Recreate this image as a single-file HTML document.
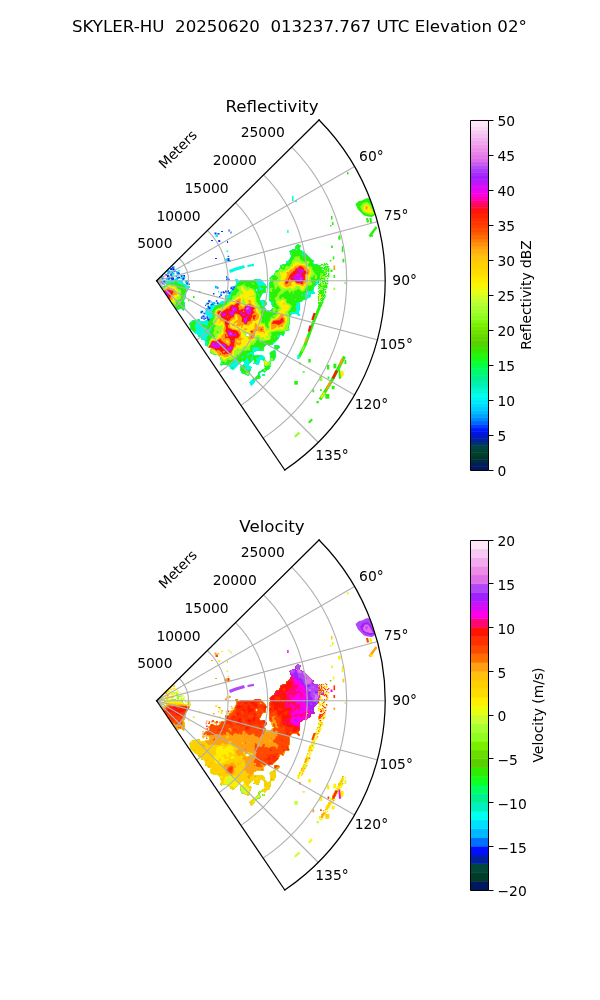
<!DOCTYPE html><html><head><meta charset="utf-8"><title>SKYLER-HU radar</title><style>html,body{margin:0;padding:0;background:#fff;width:600px;height:1000px;overflow:hidden}svg{display:block}</style></head><body>
<svg width="600" height="1000" viewBox="0 0 432 720" version="1.1">
 <defs>
  <style type="text/css">*{stroke-linejoin: round; stroke-linecap: butt}</style>
 </defs>
 <g id="figure_1">
  <g id="patch_1">
   <path d="M 0 720 
L 432 720 
L 432 0 
L 0 0 
z
" style="fill: #ffffff"/>
  </g>
  <g id="axes_1">
   <g id="patch_2">
    <path d="M 205.03 338.4 
C 225.04 324.84 241.83 307.05 254.19 286.27 
C 266.55 265.50 274.18 242.25 276.54 218.20 
C 278.90 194.14 275.93 169.85 267.84 147.08 
C 259.75 124.30 246.74 103.58 229.74 86.4 
L 112.77 202.14 
C 112.77 202.14 112.77 202.14 112.77 202.14 
C 112.77 202.14 112.77 202.14 112.77 202.14 
C 112.77 202.14 112.77 202.14 112.77 202.14 
C 112.77 202.14 112.77 202.14 112.77 202.14 
z
" style="fill: #ffffff"/>
   </g>
   <g id="data0" clip-path="url(#pa853b542c9)"><g transform="scale(0.72)"><path fill="#00fae0" fill-rule="evenodd" d="M297.5 243.9 L298.5 243.9 L299.1 244.5 L299.5 244.9 L300.5 244.9 L301.1 245.5 L301.1 246.5 L300.5 247.1 L300.1 247.5 L300.1 248.5 L300.1 249.5 L300.5 249.9 L301.5 249.9 L302.1 250.5 L302.5 250.9 L303.5 251.0 L304.0 251.5 L304.5 251.9 L305.1 252.5 L305.5 252.9 L306.1 253.5 L306.5 253.9 L307.1 254.5 L307.5 254.9 L308.1 255.5 L308.5 255.9 L309.1 256.5 L309.5 256.9 L310.1 257.5 L310.5 257.9 L311.1 258.5 L311.5 258.9 L312.1 259.5 L312.5 259.9 L313.5 259.9 L314.1 260.5 L314.1 261.5 L313.5 262.1 L313.1 262.5 L313.5 262.9 L314.1 263.5 L314.5 263.9 L315.5 263.9 L316.5 263.9 L317.5 263.9 L318.1 264.5 L318.5 264.9 L319.1 265.5 L319.5 265.9 L320.1 266.5 L320.1 267.5 L320.5 267.9 L321.1 268.5 L321.5 268.9 L322.1 269.5 L322.5 269.9 L323.1 270.5 L323.5 270.9 L324.1 271.5 L324.5 271.9 L325.1 272.5 L324.5 273.1 L324.1 273.5 L323.5 274.1 L323.1 274.5 L322.5 275.1 L321.5 275.1 L320.5 275.1 L320.1 275.5 L320.1 276.5 L320.1 277.5 L320.1 278.5 L320.1 279.5 L319.5 280.1 L319.1 280.5 L319.0 281.5 L319.0 282.5 L319.1 283.5 L318.5 284.1 L317.5 284.1 L317.1 284.5 L316.5 285.1 L316.1 285.5 L315.5 286.1 L315.1 286.5 L314.5 287.1 L314.1 287.5 L314.1 288.5 L314.1 289.5 L314.0 290.5 L314.0 291.5 L314.5 292.0 L315.0 292.5 L315.0 293.5 L314.5 294.0 L313.5 294.0 L312.5 294.0 L311.5 294.0 L311.1 294.5 L311.1 295.5 L311.1 296.5 L310.5 297.1 L310.0 297.5 L309.5 298.0 L308.5 298.1 L308.1 298.5 L307.5 299.1 L307.1 299.5 L306.5 300.1 L305.5 300.1 L304.5 300.1 L303.5 300.1 L303.1 300.5 L302.5 301.1 L302.1 301.5 L301.5 302.1 L300.5 302.1 L300.1 302.5 L300.1 303.5 L300.1 304.5 L300.1 305.5 L300.0 306.5 L300.1 307.5 L300.1 308.5 L300.1 309.5 L300.0 310.5 L299.5 311.0 L299.0 311.5 L299.0 312.5 L299.0 313.5 L299.5 313.9 L300.1 314.5 L300.1 315.5 L299.5 316.1 L298.5 316.1 L297.9 315.5 L297.5 315.0 L297.0 314.5 L296.5 314.0 L295.5 314.0 L294.5 314.0 L293.5 314.0 L292.5 314.0 L292.1 314.5 L291.5 315.1 L291.1 315.5 L290.5 316.1 L290.1 316.5 L290.1 317.5 L290.1 318.5 L290.1 319.5 L290.1 320.5 L290.1 321.5 L290.1 322.5 L290.1 323.5 L290.1 324.5 L289.5 325.1 L289.1 325.5 L289.1 326.5 L289.1 327.5 L289.1 328.5 L289.5 328.9 L290.1 329.5 L289.5 330.1 L289.1 330.5 L288.5 331.1 L287.5 331.1 L286.5 331.1 L285.5 331.1 L285.1 331.5 L285.1 332.5 L285.1 333.5 L284.5 334.1 L284.1 334.5 L284.1 335.5 L283.5 336.1 L282.5 336.1 L281.9 335.5 L281.5 335.1 L280.5 335.1 L280.1 335.5 L280.1 336.5 L279.5 337.1 L279.1 337.5 L279.1 338.5 L278.5 339.1 L278.1 339.5 L277.5 340.1 L277.1 340.5 L276.5 341.1 L276.1 341.5 L275.5 342.1 L275.1 342.5 L274.5 343.1 L274.1 343.5 L273.5 344.1 L273.1 344.5 L272.5 345.1 L271.5 345.1 L270.5 345.1 L270.1 345.5 L269.5 346.1 L268.5 346.1 L267.9 345.5 L267.5 345.1 L266.5 345.1 L266.1 345.5 L265.5 346.1 L265.1 346.5 L264.5 347.1 L264.1 347.5 L264.1 348.5 L264.1 349.5 L264.1 350.5 L263.5 351.1 L262.5 351.1 L261.5 351.1 L260.5 351.1 L259.5 351.1 L258.5 351.1 L257.5 351.1 L256.5 351.1 L256.1 351.5 L255.5 352.1 L254.5 352.1 L254.0 352.5 L254.0 353.5 L254.1 354.5 L254.5 354.9 L255.5 354.9 L256.5 354.9 L257.5 354.9 L258.5 354.9 L259.5 354.9 L260.5 354.9 L261.5 354.9 L262.5 355.0 L263.0 355.5 L263.5 355.9 L264.1 356.5 L264.5 356.9 L265.1 357.5 L265.1 358.5 L265.1 359.5 L265.5 359.9 L266.1 360.5 L266.5 360.9 L267.1 361.5 L267.5 361.9 L268.5 361.9 L268.9 361.5 L269.5 360.9 L269.9 360.5 L269.9 359.5 L269.9 358.5 L269.9 357.5 L269.9 356.5 L269.9 355.5 L269.9 354.5 L269.5 354.1 L268.9 353.5 L269.5 352.9 L269.9 352.5 L270.5 351.9 L270.9 351.5 L271.5 350.9 L272.5 350.9 L272.9 350.5 L273.5 349.9 L274.5 349.9 L274.9 349.5 L274.5 349.1 L273.9 348.5 L273.9 347.5 L273.9 346.5 L273.9 345.5 L274.5 344.9 L275.5 344.9 L276.5 344.9 L277.5 344.9 L278.5 344.9 L279.1 345.5 L279.5 345.9 L280.1 346.5 L280.1 347.5 L279.5 348.1 L279.1 348.5 L278.5 349.1 L278.1 349.5 L277.5 350.1 L276.5 350.1 L275.5 350.1 L275.1 350.5 L275.5 350.9 L276.1 351.5 L276.1 352.5 L276.1 353.5 L276.1 354.5 L276.1 355.5 L276.1 356.5 L276.1 357.5 L275.5 358.1 L275.1 358.5 L275.1 359.5 L274.5 360.1 L274.1 360.5 L273.5 361.1 L272.5 361.1 L271.5 361.1 L271.1 361.5 L271.1 362.5 L271.1 363.5 L271.1 364.5 L271.1 365.5 L271.1 366.5 L270.5 367.1 L270.1 367.5 L270.1 368.5 L269.5 369.1 L269.1 369.5 L268.5 370.1 L267.5 370.1 L267.1 370.5 L266.5 371.1 L266.1 371.5 L265.5 372.1 L265.1 372.5 L264.5 373.1 L263.9 372.5 L263.5 372.1 L262.5 372.1 L261.5 372.1 L261.1 372.5 L260.5 373.1 L260.1 373.5 L260.1 374.5 L260.1 375.5 L260.5 375.9 L261.1 376.5 L261.1 377.5 L260.5 378.1 L260.1 378.5 L259.5 379.1 L258.5 379.1 L257.5 379.1 L257.1 379.5 L256.5 380.1 L256.1 380.5 L255.5 381.1 L255.0 381.5 L255.0 382.5 L254.5 383.0 L254.0 383.5 L253.5 384.0 L253.0 384.5 L252.5 385.0 L252.1 385.5 L251.5 386.1 L250.9 385.5 L250.5 385.1 L249.9 384.5 L250.0 383.5 L249.5 383.0 L249.0 382.5 L249.5 382.0 L250.0 381.5 L250.5 381.0 L250.9 380.5 L251.5 379.9 L251.9 379.5 L252.5 378.9 L252.9 378.5 L253.5 377.9 L254.5 377.9 L254.9 377.5 L255.5 376.9 L255.9 376.5 L256.5 375.9 L256.9 375.5 L257.5 374.9 L257.9 374.5 L257.9 373.5 L257.9 372.5 L258.5 371.9 L258.9 371.5 L259.5 370.9 L260.5 370.9 L260.9 370.5 L261.5 369.9 L261.9 369.5 L262.5 368.9 L263.5 368.9 L263.9 368.5 L264.5 367.9 L264.9 367.5 L264.5 367.1 L263.9 366.5 L263.9 365.5 L263.9 364.5 L263.9 363.5 L263.9 362.5 L263.9 361.5 L263.5 361.1 L262.9 360.5 L262.5 360.1 L261.5 360.1 L260.5 360.0 L260.1 360.5 L260.1 361.5 L260.1 362.5 L259.5 363.1 L259.1 363.5 L259.1 364.5 L258.5 365.1 L257.5 365.1 L256.5 365.1 L255.9 364.5 L255.5 364.1 L254.5 364.1 L253.5 364.1 L252.9 363.5 L253.5 362.9 L253.9 362.5 L253.9 361.5 L253.9 360.5 L253.5 360.1 L253.1 360.5 L252.5 361.1 L252.1 361.5 L251.5 362.1 L251.1 362.5 L250.5 363.1 L250.1 363.5 L249.5 364.1 L249.0 364.5 L249.0 365.5 L249.5 365.9 L250.5 365.9 L251.1 366.5 L251.5 366.9 L252.1 367.5 L251.5 368.1 L251.1 368.5 L251.1 369.5 L251.1 370.5 L250.5 371.1 L250.1 371.5 L250.1 372.5 L250.1 373.5 L250.1 374.5 L249.5 375.1 L249.1 375.5 L248.5 376.1 L247.5 376.1 L246.9 375.5 L246.5 375.1 L245.5 375.1 L244.9 374.5 L244.5 374.1 L243.5 374.1 L242.5 374.1 L241.9 373.5 L241.5 373.1 L240.9 372.5 L240.9 371.5 L240.5 371.1 L239.9 370.5 L239.9 369.5 L239.9 368.5 L239.9 367.5 L239.9 366.5 L240.5 365.9 L240.9 365.5 L241.5 364.9 L242.5 364.9 L242.9 364.5 L243.5 363.9 L244.0 363.5 L244.0 362.5 L243.5 362.1 L242.9 361.5 L242.5 361.1 L242.1 361.5 L241.5 362.1 L241.1 362.5 L240.5 363.1 L240.0 363.5 L239.5 364.0 L239.0 364.5 L238.5 365.0 L238.0 365.5 L237.5 366.0 L237.0 366.5 L236.5 367.0 L236.0 367.5 L235.5 368.0 L235.1 368.5 L234.5 369.1 L234.1 369.5 L233.5 370.1 L232.5 370.1 L231.9 369.5 L231.5 369.1 L230.5 369.0 L230.0 368.5 L229.9 367.5 L229.5 367.1 L228.9 366.5 L228.5 366.1 L227.5 366.1 L226.9 365.5 L226.5 365.1 L225.5 365.1 L224.5 365.1 L223.5 365.1 L222.5 365.1 L222.1 365.5 L221.5 366.1 L220.9 365.5 L220.5 365.1 L219.9 364.5 L219.9 363.5 L220.5 362.9 L220.9 362.5 L220.9 361.5 L220.9 360.5 L220.5 360.1 L219.9 359.5 L219.9 358.5 L219.9 357.5 L219.5 357.1 L218.9 356.5 L218.5 356.1 L217.9 355.5 L217.5 355.1 L216.5 355.1 L215.5 355.1 L214.5 355.1 L213.5 355.1 L212.9 354.5 L212.5 354.1 L211.5 354.1 L210.9 353.5 L210.5 353.1 L209.9 352.5 L209.9 351.5 L209.9 350.5 L209.9 349.5 L210.5 348.9 L210.9 348.5 L210.5 348.1 L209.5 348.1 L208.5 348.1 L207.9 347.5 L207.5 347.1 L206.9 346.5 L206.5 346.1 L205.5 346.0 L205.0 345.5 L204.9 344.5 L204.9 343.5 L204.9 342.5 L204.9 341.5 L204.5 341.1 L203.9 340.5 L203.5 340.0 L202.5 340.0 L201.5 340.1 L200.9 339.5 L201.0 338.5 L200.5 338.0 L200.0 337.5 L199.5 337.1 L198.5 337.1 L197.9 336.5 L197.9 335.5 L197.5 335.0 L197.0 334.5 L196.5 334.0 L195.5 334.1 L194.9 333.5 L194.5 333.1 L193.9 332.5 L193.5 332.1 L192.9 331.5 L192.5 331.1 L191.9 330.5 L191.5 330.1 L190.5 330.1 L189.9 329.5 L189.9 328.5 L189.9 327.5 L189.9 326.5 L189.9 325.5 L189.5 325.1 L188.9 324.5 L188.9 323.5 L189.5 322.9 L189.9 322.5 L190.5 321.9 L190.9 321.5 L191.5 320.9 L191.9 320.5 L192.5 319.9 L193.5 319.9 L194.5 319.9 L195.5 319.9 L196.5 320.0 L196.9 319.5 L197.5 318.9 L198.5 318.9 L199.5 318.9 L200.1 319.5 L200.1 320.5 L200.5 321.0 L201.5 321.0 L202.5 321.0 L203.5 321.0 L204.5 321.0 L205.0 320.5 L205.5 320.0 L206.5 320.0 L207.5 320.0 L208.5 319.9 L208.9 319.5 L208.9 318.5 L208.9 317.5 L208.9 316.5 L208.5 316.1 L207.5 316.1 L206.9 315.5 L206.5 315.1 L205.9 314.5 L206.0 313.5 L205.5 313.1 L204.9 312.5 L205.0 311.5 L205.5 311.0 L206.5 311.0 L207.5 311.0 L208.0 310.5 L208.5 310.0 L209.0 309.5 L209.0 308.5 L209.0 307.5 L209.0 306.5 L209.5 306.0 L209.9 305.5 L209.9 304.5 L210.5 303.9 L211.5 303.9 L212.5 303.9 L213.5 303.9 L214.1 304.5 L214.5 304.9 L215.5 304.9 L216.5 304.9 L217.5 304.9 L218.5 304.9 L218.9 304.5 L219.5 303.9 L219.9 303.5 L220.0 302.5 L220.5 302.0 L220.9 301.5 L221.5 300.9 L222.5 300.9 L223.5 300.9 L224.5 300.9 L225.0 300.5 L225.5 300.0 L225.9 299.5 L225.9 298.5 L225.5 298.1 L224.9 297.5 L224.9 296.5 L224.9 295.5 L225.5 294.9 L226.5 294.9 L227.5 294.9 L228.5 294.9 L228.9 294.5 L228.9 293.5 L229.5 292.9 L229.9 292.5 L230.0 291.5 L230.5 291.0 L231.0 290.5 L231.5 290.0 L232.5 289.9 L233.5 289.9 L233.9 289.5 L233.9 288.5 L233.9 287.5 L234.5 286.9 L234.9 286.5 L234.9 285.5 L235.5 284.9 L235.9 284.5 L236.0 283.5 L236.0 282.5 L236.0 281.5 L235.5 281.1 L234.9 280.5 L234.9 279.5 L235.5 278.9 L236.5 278.9 L237.5 278.9 L238.1 279.5 L238.1 280.5 L238.5 280.9 L239.5 280.9 L239.9 280.5 L240.5 279.9 L241.5 279.9 L242.5 279.9 L243.5 279.9 L244.5 279.9 L245.5 279.9 L246.5 279.9 L247.5 279.9 L248.5 279.9 L249.5 279.9 L250.5 279.9 L251.5 279.9 L252.5 279.9 L253.5 279.9 L253.9 279.5 L254.5 278.9 L255.5 278.9 L256.5 278.9 L257.5 278.9 L258.5 278.9 L259.5 278.9 L260.5 278.9 L261.1 279.5 L261.5 279.9 L262.1 280.5 L262.5 281.0 L263.0 281.5 L263.5 282.0 L264.0 282.5 L264.5 283.0 L265.0 283.5 L265.5 283.9 L266.1 284.5 L266.1 285.5 L266.5 285.9 L267.1 286.5 L267.1 287.5 L266.5 288.1 L266.1 288.5 L266.1 289.5 L266.1 290.5 L266.1 291.5 L266.1 292.5 L265.5 293.1 L264.5 293.1 L263.5 293.1 L263.1 293.5 L262.5 294.1 L262.1 294.5 L262.1 295.5 L261.5 296.1 L261.1 296.5 L261.1 297.5 L260.5 298.1 L260.1 298.5 L260.1 299.5 L260.5 299.9 L261.5 299.9 L262.5 299.9 L263.5 299.9 L264.5 299.9 L265.1 300.5 L265.5 300.9 L266.1 301.5 L266.5 301.9 L267.1 302.5 L267.1 303.5 L267.1 304.5 L266.5 305.1 L266.1 305.5 L265.5 306.1 L265.1 306.5 L265.1 307.5 L265.5 307.9 L266.1 308.5 L266.1 309.5 L266.1 310.5 L266.5 310.9 L267.5 310.9 L268.5 310.9 L269.5 310.9 L269.9 310.5 L270.5 309.9 L270.9 309.5 L271.5 308.9 L271.9 308.5 L272.5 307.9 L273.5 307.9 L273.9 307.5 L273.5 307.1 L272.5 307.1 L271.9 306.5 L271.9 305.5 L271.5 305.0 L271.0 304.5 L271.0 303.5 L270.9 302.5 L270.5 302.1 L269.9 301.5 L269.5 301.1 L268.9 300.5 L268.9 299.5 L268.9 298.5 L268.9 297.5 L268.9 296.5 L268.9 295.5 L268.9 294.5 L268.9 293.5 L268.9 292.5 L268.9 291.5 L268.9 290.5 L268.9 289.5 L268.9 288.5 L268.9 287.5 L268.9 286.5 L268.9 285.5 L268.9 284.5 L268.9 283.5 L268.9 282.5 L269.5 281.9 L269.9 281.5 L269.9 280.5 L269.9 279.5 L269.5 279.1 L268.9 278.5 L269.5 277.9 L269.9 277.5 L270.5 276.9 L270.9 276.5 L271.5 275.9 L271.9 275.5 L272.5 274.9 L273.5 274.9 L273.9 274.5 L273.9 273.5 L274.5 272.9 L274.9 272.5 L274.9 271.5 L275.5 270.9 L275.9 270.5 L276.5 269.9 L277.5 269.9 L278.5 269.9 L278.9 269.5 L278.9 268.5 L279.5 267.9 L279.9 267.5 L279.9 266.5 L279.9 265.5 L280.5 264.9 L281.5 264.9 L281.9 264.5 L282.5 263.9 L283.5 263.9 L284.5 263.9 L285.5 263.9 L285.9 263.5 L285.9 262.5 L286.0 261.5 L286.5 261.0 L287.5 260.9 L287.9 260.5 L288.5 259.9 L288.9 259.5 L289.5 258.9 L289.9 258.5 L289.9 257.5 L290.5 256.9 L290.9 256.5 L290.9 255.5 L290.5 255.1 L289.9 254.5 L289.9 253.5 L289.9 252.5 L289.5 252.1 L288.9 251.5 L289.5 250.9 L289.9 250.5 L290.5 249.9 L291.5 249.9 L291.9 249.5 L292.5 248.9 L293.5 248.9 L294.5 248.9 L294.9 248.5 L294.9 247.5 L294.9 246.5 L295.5 245.9 L295.9 245.5 L296.5 244.9 L296.9 244.5ZM296.1 249.5 L296.5 249.9 L296.9 249.5 L296.5 249.1ZM256.1 289.5 L256.1 290.5 L256.5 290.9 L256.9 290.5 L256.9 289.5 L256.5 289.1ZM307.0 293.5 L307.5 294.0 L308.0 293.5 L307.5 293.0ZM247.1 333.5 L246.5 334.1 L246.1 334.5 L246.1 335.5 L246.5 335.9 L247.5 335.9 L248.5 335.9 L248.9 335.5 L249.5 334.9 L249.9 334.5 L249.5 334.1 L248.5 334.1 L247.9 333.5 L247.5 333.1ZM171.5 278.9 L172.5 278.9 L173.5 278.9 L174.5 278.9 L175.5 278.9 L176.1 279.5 L176.5 279.9 L177.5 279.9 L178.5 280.0 L179.5 280.0 L180.5 280.0 L181.5 280.0 L182.5 280.0 L183.0 280.5 L183.0 281.5 L183.0 282.5 L183.5 283.0 L184.0 283.5 L184.5 284.0 L185.5 283.9 L186.1 284.5 L186.5 284.9 L187.1 285.5 L187.5 286.0 L188.5 285.9 L189.5 285.9 L190.1 286.5 L190.1 287.5 L189.5 288.1 L189.1 288.5 L188.5 289.1 L188.1 289.5 L188.1 290.5 L187.5 291.1 L187.1 291.5 L186.5 292.1 L186.1 292.5 L186.1 293.5 L186.1 294.5 L186.1 295.5 L186.1 296.5 L186.1 297.5 L185.5 298.1 L185.1 298.5 L185.1 299.5 L184.5 300.1 L184.1 300.5 L184.1 301.5 L184.5 301.9 L185.1 302.5 L185.1 303.5 L185.1 304.5 L185.1 305.5 L185.1 306.5 L185.1 307.5 L185.1 308.5 L185.1 309.5 L184.5 310.1 L184.1 310.5 L183.5 311.1 L182.9 310.5 L182.5 310.1 L181.9 309.5 L181.5 309.1 L180.5 309.1 L179.5 309.1 L179.1 309.5 L178.5 310.1 L177.5 310.1 L176.5 310.1 L175.9 309.5 L175.5 309.1 L174.9 308.5 L174.9 307.5 L174.5 307.1 L173.9 306.5 L173.5 306.1 L172.9 305.5 L172.5 305.1 L171.5 305.1 L170.9 304.5 L170.9 303.5 L170.5 303.1 L169.9 302.5 L169.5 302.1 L168.5 302.1 L167.5 302.1 L166.9 301.5 L166.5 301.1 L165.9 300.5 L165.9 299.5 L165.5 299.1 L164.9 298.5 L164.9 297.5 L164.5 297.1 L163.9 296.5 L163.5 296.1 L162.5 296.1 L161.5 296.1 L160.9 295.5 L160.5 295.1 L159.9 294.5 L159.9 293.5 L159.9 292.5 L159.9 291.5 L159.9 290.5 L159.9 289.5 L159.9 288.5 L160.5 287.9 L160.9 287.5 L161.5 286.9 L161.9 286.5 L162.5 285.9 L163.5 285.9 L164.5 285.9 L165.5 285.9 L165.9 285.5 L165.9 284.5 L165.5 284.1 L164.9 283.5 L164.5 283.1 L163.9 282.5 L163.9 281.5 L164.5 280.9 L165.5 281.0 L166.5 281.0 L167.5 281.0 L168.5 281.0 L169.5 281.0 L169.9 280.5 L170.5 279.9 L170.9 279.5ZM262.5 373.9 L263.5 373.9 L264.5 373.9 L265.1 374.5 L265.1 375.5 L264.5 376.1 L263.5 376.1 L262.5 376.1 L261.9 375.5 L261.9 374.5Z"/>
<path fill="#26f20a" fill-rule="evenodd" d="M297.5 244.5 L298.5 244.5 L298.5 244.5 L299.5 245.5 L300.5 245.4 L300.6 245.5 L300.6 246.5 L300.5 246.6 L299.5 247.5 L299.5 248.5 L299.5 249.5 L300.5 250.5 L301.3 250.5 L301.5 251.0 L301.8 251.5 L302.2 252.5 L301.7 253.5 L301.5 253.7 L301.2 254.5 L301.5 254.8 L302.5 255.3 L302.9 255.5 L303.5 256.3 L304.2 256.5 L304.5 256.5 L304.5 256.5 L304.6 255.5 L304.5 255.4 L303.5 255.0 L303.2 254.5 L302.7 253.5 L303.2 252.5 L303.5 252.4 L303.8 252.5 L304.5 252.7 L305.5 253.5 L305.5 253.5 L306.5 254.5 L306.5 254.5 L307.5 255.5 L307.5 255.5 L308.5 256.5 L308.5 256.5 L309.5 257.5 L309.5 257.5 L310.5 258.5 L310.5 258.5 L311.5 259.5 L311.5 259.5 L312.5 260.5 L313.5 260.5 L313.5 260.5 L313.5 261.5 L313.5 261.5 L312.5 262.5 L312.5 263.1 L312.4 263.5 L312.5 263.7 L313.0 263.5 L313.5 263.5 L313.5 263.5 L314.5 264.5 L315.5 264.5 L316.5 264.5 L317.5 264.5 L317.5 264.5 L318.5 265.5 L318.5 265.5 L319.5 266.5 L319.5 266.5 L319.5 267.5 L320.5 268.4 L320.6 268.5 L321.5 269.4 L321.6 269.5 L322.5 270.5 L322.5 270.5 L323.5 271.5 L323.5 271.5 L324.5 272.5 L324.5 272.5 L324.5 272.5 L323.5 273.5 L323.5 273.5 L322.5 274.5 L322.5 274.5 L321.5 274.5 L320.5 274.5 L319.5 275.5 L319.5 276.5 L319.5 277.5 L319.5 278.5 L319.5 279.5 L319.5 279.5 L318.5 279.8 L317.5 280.4 L317.4 280.5 L316.6 281.5 L316.5 281.6 L315.5 282.1 L315.2 282.5 L315.2 283.5 L315.5 283.9 L316.5 284.3 L316.5 284.5 L316.5 284.5 L315.5 285.5 L315.5 285.5 L314.5 285.8 L313.5 286.2 L313.3 286.5 L313.5 287.1 L313.5 287.5 L313.5 288.5 L313.5 288.8 L312.5 289.5 L312.5 289.5 L312.1 290.5 L311.5 291.3 L310.5 291.4 L309.5 290.9 L308.5 290.6 L307.5 291.3 L307.3 291.5 L306.5 292.3 L306.1 292.5 L305.5 293.0 L305.2 293.5 L305.0 294.5 L304.7 295.5 L305.0 296.5 L305.2 297.5 L305.5 298.4 L305.6 298.5 L306.5 299.5 L306.5 299.5 L306.5 299.5 L305.5 299.5 L304.5 299.5 L303.5 299.5 L302.5 300.5 L302.5 300.5 L301.5 301.5 L301.5 301.5 L300.6 301.5 L300.5 301.4 L300.1 301.5 L299.5 301.7 L298.5 302.0 L297.6 302.5 L297.5 302.6 L296.5 303.1 L296.2 303.5 L296.4 304.5 L296.3 305.5 L295.5 306.3 L295.2 306.5 L295.5 306.8 L295.8 307.5 L296.1 308.5 L296.3 309.5 L295.5 310.4 L295.4 310.5 L295.5 310.7 L295.8 311.5 L295.5 311.7 L294.5 311.7 L293.5 311.8 L292.5 311.8 L291.5 311.8 L290.5 312.0 L289.5 312.5 L290.1 313.5 L290.5 313.8 L291.2 314.5 L290.5 315.5 L290.5 315.5 L289.5 316.5 L289.6 317.5 L289.6 318.5 L289.6 319.5 L289.6 320.5 L289.6 321.5 L289.6 322.5 L289.6 323.5 L289.6 324.5 L289.5 324.6 L288.5 325.5 L288.5 326.5 L288.5 327.5 L288.5 328.5 L289.5 329.5 L289.5 329.5 L289.5 329.5 L288.6 330.5 L288.5 330.6 L287.5 330.5 L286.5 330.5 L285.5 330.6 L284.5 331.5 L284.5 332.5 L284.5 333.4 L283.5 333.4 L283.4 333.5 L283.5 333.7 L283.5 334.5 L283.5 335.5 L283.5 335.5 L282.5 335.5 L282.5 335.5 L281.5 334.5 L280.5 334.5 L279.5 335.5 L279.5 336.5 L279.5 336.5 L279.1 336.5 L279.2 335.5 L278.5 334.8 L277.5 335.4 L277.4 335.5 L276.9 336.5 L277.5 337.3 L278.5 337.2 L278.5 337.5 L278.5 338.5 L278.5 338.5 L277.5 339.5 L277.5 339.5 L276.5 340.5 L276.5 340.5 L275.5 341.5 L275.5 341.5 L274.5 342.3 L273.5 342.3 L273.0 342.5 L272.8 343.5 L272.5 344.5 L272.5 344.5 L271.5 344.5 L270.5 344.5 L269.5 345.5 L269.5 345.5 L268.5 345.6 L268.4 345.5 L267.5 344.5 L266.5 344.5 L265.5 345.5 L265.5 345.5 L264.5 346.5 L264.5 346.5 L263.5 347.5 L263.5 348.5 L263.5 349.5 L263.5 350.5 L263.5 350.5 L262.5 350.5 L261.5 350.5 L260.5 350.5 L259.5 350.5 L258.6 350.5 L258.9 349.5 L259.5 348.8 L259.7 348.5 L259.5 347.5 L259.5 347.5 L258.5 347.2 L257.5 347.3 L256.5 347.3 L255.5 347.3 L254.5 347.4 L253.5 347.3 L252.9 347.5 L252.5 347.8 L252.2 348.5 L252.4 349.5 L252.4 350.5 L252.5 350.7 L252.8 351.5 L252.5 352.4 L251.5 352.0 L250.5 352.1 L250.0 352.5 L249.5 353.2 L248.5 353.5 L248.2 353.5 L247.5 354.0 L246.6 354.5 L246.5 354.7 L246.2 355.5 L246.5 356.0 L247.0 355.5 L247.5 355.1 L248.5 355.2 L249.5 354.8 L249.8 354.5 L250.5 354.1 L251.5 354.1 L251.7 354.5 L252.3 355.5 L252.4 356.5 L251.5 357.3 L251.3 357.5 L250.9 358.5 L251.4 359.5 L251.3 360.5 L251.4 361.5 L250.5 362.5 L250.5 362.5 L249.5 362.8 L249.2 362.5 L249.0 361.5 L249.0 360.5 L248.5 359.8 L248.2 359.5 L247.7 358.5 L247.5 358.1 L246.8 357.5 L246.5 357.0 L246.2 357.5 L246.3 358.5 L245.9 359.5 L245.5 360.0 L245.1 360.5 L244.5 361.1 L244.0 361.5 L243.5 361.5 L243.5 361.5 L242.5 360.5 L241.5 361.5 L241.5 361.5 L240.5 362.5 L240.5 362.5 L240.5 362.5 L239.5 362.1 L238.5 361.9 L238.0 361.5 L237.5 360.7 L237.4 360.5 L236.6 359.5 L236.5 359.5 L235.5 359.3 L235.3 359.5 L234.5 360.3 L234.3 360.5 L233.8 361.5 L233.5 362.2 L233.4 362.5 L232.5 362.9 L231.5 363.5 L231.4 363.5 L230.5 364.1 L229.5 364.4 L229.5 364.5 L229.5 365.4 L229.5 365.5 L229.5 365.5 L228.5 365.5 L227.5 365.5 L227.5 365.5 L226.5 364.5 L225.5 364.5 L224.5 364.5 L223.5 364.5 L222.5 364.5 L221.5 365.5 L221.5 365.5 L221.5 365.5 L220.5 364.5 L220.5 364.5 L220.5 363.5 L220.5 363.5 L221.5 362.5 L221.5 361.5 L221.4 360.5 L220.5 359.6 L220.4 359.5 L220.4 358.5 L220.4 357.5 L219.5 356.6 L219.4 356.5 L218.5 355.6 L218.4 355.5 L217.5 354.6 L216.5 354.6 L215.5 354.6 L214.5 354.6 L213.5 354.6 L213.4 354.5 L212.5 353.6 L211.5 353.5 L211.5 353.5 L210.5 352.5 L210.5 352.5 L210.4 351.5 L210.4 350.5 L210.4 349.5 L210.5 349.4 L211.4 348.5 L210.5 347.7 L209.5 347.7 L208.5 347.7 L208.3 347.5 L207.5 346.6 L207.4 346.5 L206.7 345.5 L207.3 344.5 L207.5 344.0 L207.6 343.5 L207.8 342.5 L207.5 341.7 L206.5 341.6 L206.2 341.5 L205.6 340.5 L206.3 339.5 L206.5 339.4 L207.5 338.6 L207.6 338.5 L207.5 338.4 L207.2 337.5 L206.8 336.5 L207.5 336.2 L208.4 335.5 L208.5 335.4 L209.5 335.1 L209.9 334.5 L209.5 333.5 L209.5 333.4 L208.7 332.5 L209.5 332.1 L210.0 331.5 L210.5 330.7 L210.7 330.5 L211.5 329.7 L211.7 329.5 L211.5 329.2 L210.5 328.9 L210.0 329.5 L209.5 329.9 L208.5 329.9 L207.8 329.5 L207.5 329.3 L206.9 329.5 L207.0 330.5 L206.5 331.5 L206.3 331.5 L205.5 331.7 L205.1 331.5 L204.6 330.5 L205.4 329.5 L205.5 329.4 L206.5 329.2 L206.9 328.5 L206.6 327.5 L206.5 327.3 L205.5 327.0 L204.8 327.5 L204.5 327.8 L203.5 327.5 L203.5 327.5 L203.1 326.5 L202.5 325.5 L202.5 325.5 L201.5 325.1 L200.7 325.5 L200.5 325.5 L200.2 325.5 L199.5 324.7 L199.5 324.5 L199.5 324.5 L200.5 323.9 L201.3 323.5 L201.5 323.4 L201.8 323.5 L202.5 324.2 L203.5 324.5 L203.6 324.5 L204.5 324.9 L205.5 325.1 L206.2 325.5 L206.5 325.8 L207.5 325.7 L207.7 325.5 L208.0 324.5 L208.3 323.5 L208.0 322.5 L207.5 321.5 L208.5 321.0 L209.1 320.5 L209.5 319.7 L209.6 319.5 L210.2 318.5 L210.5 318.3 L211.5 318.2 L212.5 317.9 L212.9 317.5 L213.0 316.5 L212.9 315.5 L212.5 314.5 L212.5 314.5 L211.5 313.7 L211.2 313.5 L211.2 312.5 L211.5 312.3 L212.2 311.5 L212.5 310.8 L212.6 310.5 L213.3 309.5 L213.5 309.0 L213.8 308.5 L214.4 307.5 L214.5 307.5 L215.5 306.8 L215.6 306.5 L215.9 305.5 L216.5 305.5 L217.5 305.5 L218.5 305.5 L219.5 304.5 L219.5 304.5 L220.5 304.2 L221.5 304.1 L222.5 304.0 L223.5 303.5 L223.5 303.5 L223.7 303.5 L224.5 303.6 L224.6 303.5 L224.8 302.5 L225.5 301.8 L226.3 301.5 L226.5 301.4 L227.5 300.5 L227.5 300.4 L227.9 299.5 L227.5 298.9 L226.5 298.6 L226.5 298.5 L226.5 298.3 L227.5 298.0 L227.8 298.5 L228.5 298.9 L229.5 298.9 L230.0 298.5 L230.5 297.9 L230.7 297.5 L231.0 296.5 L230.9 295.5 L230.9 294.5 L231.4 293.5 L231.5 293.4 L232.2 292.5 L232.5 292.2 L232.9 291.5 L233.3 290.5 L233.5 290.5 L234.5 289.5 L234.5 288.5 L234.5 287.5 L234.5 287.5 L235.5 286.5 L235.5 285.5 L235.5 285.5 L236.5 285.0 L237.1 284.5 L237.5 284.2 L238.0 283.5 L238.5 282.8 L238.8 282.5 L239.5 281.7 L239.8 281.5 L240.5 280.5 L240.5 280.5 L241.5 280.5 L242.5 280.5 L243.5 280.5 L244.5 280.5 L245.5 280.5 L246.5 280.5 L247.5 280.5 L248.5 280.5 L249.5 280.5 L250.5 280.5 L251.5 280.5 L252.5 280.5 L253.5 280.5 L254.5 279.8 L254.6 279.5 L255.5 279.5 L256.5 279.5 L257.1 279.5 L256.9 280.5 L256.5 280.9 L256.1 281.5 L255.9 282.5 L256.5 283.1 L257.0 283.5 L257.5 284.0 L257.7 284.5 L258.0 285.5 L258.5 286.5 L258.5 286.5 L258.6 286.5 L259.5 286.4 L260.5 286.3 L261.5 285.6 L262.5 285.8 L263.5 286.1 L264.5 286.0 L265.5 285.5 L266.5 286.5 L266.5 286.5 L266.5 287.5 L266.5 287.5 L265.5 288.5 L265.5 289.5 L265.5 290.5 L265.5 291.5 L265.5 292.5 L265.5 292.5 L264.5 292.5 L263.5 292.5 L262.5 293.5 L262.5 293.5 L261.5 294.5 L261.5 295.5 L261.5 295.5 L260.5 296.5 L260.5 297.5 L260.5 297.5 L259.5 298.5 L259.5 299.5 L260.0 300.5 L260.1 301.5 L260.5 302.0 L261.1 302.5 L261.3 303.5 L261.4 304.5 L261.5 305.3 L261.5 305.5 L262.3 306.5 L262.5 306.6 L263.2 306.5 L263.5 306.5 L264.5 305.5 L264.5 305.4 L264.8 304.5 L264.5 303.5 L264.5 303.5 L264.1 302.5 L263.8 301.5 L263.5 301.2 L262.5 301.1 L261.8 300.5 L262.5 300.5 L263.5 300.5 L264.5 300.5 L264.5 300.5 L265.5 301.5 L265.5 301.5 L266.5 302.5 L266.5 302.5 L266.5 303.5 L266.5 304.5 L266.5 304.5 L265.5 305.5 L265.5 305.5 L264.5 306.5 L264.5 307.5 L265.5 308.5 L265.5 308.5 L265.5 309.5 L265.5 310.5 L266.5 311.5 L267.5 311.5 L268.5 311.5 L269.5 311.5 L270.5 310.5 L270.5 310.5 L271.5 309.5 L271.5 309.5 L272.5 308.5 L272.5 308.5 L273.5 308.4 L274.4 307.5 L273.5 306.5 L272.5 306.5 L272.5 306.5 L272.5 305.5 L272.4 304.5 L272.5 304.0 L272.6 303.5 L273.4 302.5 L272.5 302.1 L271.5 301.8 L271.1 301.5 L270.5 301.0 L269.5 300.5 L269.5 300.5 L269.5 299.5 L269.4 298.5 L269.4 297.5 L269.5 296.5 L269.4 295.5 L269.5 294.5 L269.5 293.5 L269.5 292.5 L269.5 291.5 L269.4 290.5 L269.4 289.5 L269.5 288.5 L269.5 287.5 L269.5 286.5 L269.5 285.5 L269.5 284.5 L269.5 283.5 L269.5 282.5 L269.5 282.5 L270.5 281.5 L270.5 280.5 L270.5 279.5 L269.5 278.5 L269.5 278.5 L269.5 278.5 L270.5 277.5 L270.5 277.5 L271.5 276.5 L271.5 276.5 L272.5 275.5 L272.5 275.5 L273.5 275.5 L274.4 274.5 L274.4 273.5 L274.5 273.4 L275.4 272.5 L275.5 271.5 L275.5 271.5 L276.5 270.5 L276.5 270.5 L277.5 270.5 L278.5 270.5 L279.5 269.5 L279.5 268.5 L279.5 268.5 L280.5 267.5 L280.5 266.5 L280.5 265.5 L280.5 265.5 L281.5 265.5 L282.5 264.5 L282.5 264.5 L283.5 264.5 L284.5 264.5 L285.5 264.5 L286.5 263.5 L286.5 263.0 L287.5 263.1 L288.5 263.1 L289.5 262.6 L289.5 262.5 L289.5 262.4 L289.0 261.5 L288.8 260.5 L289.5 259.5 L289.5 259.5 L290.5 258.5 L290.5 257.5 L290.5 257.5 L291.5 256.5 L291.5 255.5 L290.5 254.5 L290.5 254.5 L290.5 253.5 L290.5 252.5 L289.5 251.5 L289.5 251.5 L289.5 251.5 L290.5 250.5 L290.5 250.5 L291.5 250.5 L292.5 249.5 L292.5 249.5 L293.5 249.5 L294.5 249.5 L295.5 248.5 L295.5 247.5 L295.5 246.5 L295.5 246.5 L296.5 245.5 L296.5 245.5 L297.5 244.5ZM295.5 249.5 L296.1 250.5 L296.5 250.6 L296.5 250.5 L297.5 249.5 L296.5 248.5ZM316.4 272.5 L316.5 272.5 L316.6 272.5 L316.5 272.4ZM259.2 287.5 L258.6 288.5 L258.6 289.5 L259.5 289.7 L260.5 290.0 L261.5 290.2 L262.5 289.7 L262.8 289.5 L263.5 289.0 L263.7 288.5 L263.5 288.2 L262.5 288.1 L261.5 288.1 L260.8 287.5 L260.5 286.9 L259.5 286.8ZM255.5 289.5 L255.5 290.5 L256.5 291.5 L257.2 291.5 L257.2 292.5 L257.5 292.8 L257.8 292.5 L257.6 291.5 L257.8 290.5 L258.3 289.5 L257.5 289.3 L256.5 288.5ZM261.3 291.5 L261.5 291.6 L261.9 291.5 L261.5 291.1ZM275.4 291.5 L275.5 291.8 L275.8 291.5 L275.5 291.4ZM302.5 293.5 L301.9 294.5 L301.5 295.1 L301.0 295.5 L301.5 295.9 L302.5 295.9 L302.9 295.5 L302.9 294.5 L302.5 293.5 L302.5 293.5ZM258.1 294.5 L258.0 295.5 L258.5 295.8 L259.1 295.5 L259.5 294.5 L258.5 293.9ZM296.4 295.5 L296.5 295.7 L296.6 295.5 L296.5 295.4ZM290.0 296.5 L290.5 296.9 L290.7 296.5 L290.5 296.3ZM273.3 301.5 L273.5 302.3 L273.7 301.5 L273.5 301.3ZM246.6 333.5 L246.5 333.6 L245.6 334.5 L245.6 335.5 L246.5 336.4 L247.5 336.4 L248.5 336.4 L249.4 335.5 L249.5 335.4 L250.4 334.5 L249.5 333.6 L248.5 333.6 L248.4 333.5 L247.5 332.6ZM243.1 356.5 L242.5 356.6 L241.5 357.3 L241.3 357.5 L241.5 357.7 L242.5 358.3 L243.5 357.8 L243.9 357.5 L243.5 356.5 L243.5 356.5ZM172.5 279.5 L172.6 279.5 L172.5 279.6 L172.3 279.5ZM174.5 279.5 L174.7 279.5 L174.5 279.5 L174.5 279.5ZM235.5 279.5 L236.1 279.5 L235.5 279.6 L235.5 279.5ZM258.5 279.5 L259.4 279.5 L258.5 279.8 L257.9 279.5ZM175.5 279.6 L176.5 280.5 L176.9 280.5 L177.3 281.5 L177.2 282.5 L177.0 283.5 L177.5 284.3 L178.5 283.6 L179.5 283.8 L180.5 284.4 L180.6 284.5 L181.5 284.8 L182.5 284.6 L183.5 285.4 L183.8 285.5 L184.5 286.1 L184.9 286.5 L184.7 287.5 L184.6 288.5 L185.5 288.9 L186.1 289.5 L186.5 290.0 L186.8 290.5 L186.5 291.5 L186.5 291.5 L185.5 292.5 L185.5 293.5 L185.5 294.5 L185.5 295.5 L185.5 296.5 L185.5 297.5 L185.5 297.5 L184.5 298.5 L184.5 299.5 L184.5 299.5 L183.5 300.5 L183.5 301.5 L184.5 302.5 L184.5 302.5 L184.5 303.5 L184.5 304.5 L184.5 305.5 L184.5 306.5 L184.5 307.5 L184.5 308.5 L184.5 309.5 L184.5 309.5 L183.5 310.5 L183.5 310.5 L183.5 310.5 L182.5 309.5 L182.5 309.5 L181.5 308.5 L180.5 308.5 L179.5 308.5 L178.5 309.5 L178.5 309.5 L177.5 309.5 L176.5 309.5 L176.5 309.5 L175.5 308.5 L175.5 308.5 L175.5 307.5 L174.5 306.5 L174.5 306.5 L173.5 305.6 L173.4 305.5 L172.5 304.6 L171.5 304.6 L171.4 304.5 L171.4 303.5 L170.5 302.6 L170.4 302.5 L169.5 301.6 L168.5 301.7 L167.5 301.7 L167.3 301.5 L166.5 300.7 L166.3 300.5 L166.3 299.5 L165.5 298.7 L165.3 298.5 L165.3 297.5 L164.5 296.7 L164.3 296.5 L163.5 295.7 L162.5 295.7 L161.5 295.7 L161.3 295.5 L160.5 294.7 L160.3 294.5 L160.3 293.5 L160.3 292.5 L160.4 291.5 L160.4 290.5 L160.4 289.5 L160.5 288.5 L160.5 288.5 L161.5 287.5 L161.5 287.5 L162.5 287.3 L163.4 286.5 L163.5 286.5 L164.5 286.5 L165.5 286.4 L166.4 285.5 L166.5 284.5 L166.5 283.5 L166.6 283.5 L167.5 283.0 L168.5 282.9 L169.5 283.2 L170.5 283.1 L171.4 282.5 L171.5 282.5 L172.5 282.3 L172.6 282.5 L173.5 283.2 L174.5 282.6 L174.6 282.5 L174.7 281.5 L175.0 280.5ZM183.4 287.5 L183.5 287.8 L184.4 287.5 L183.5 287.3ZM165.5 283.5 L165.9 283.5 L165.5 283.5 L165.5 283.5ZM189.5 286.5 L189.5 286.5 L189.5 287.5 L189.5 287.5 L188.8 287.5 L189.1 286.5ZM225.5 295.5 L226.5 295.5 L227.0 295.5 L226.5 296.3 L226.2 296.5 L225.6 297.5 L225.5 297.5 L225.5 297.5 L225.5 296.5 L225.5 295.5ZM308.5 295.4 L309.5 294.9 L310.4 295.5 L309.6 296.5 L309.5 296.5 L309.4 296.5 L308.5 295.6 L308.5 295.5ZM211.5 304.5 L212.5 304.5 L212.7 304.5 L213.3 305.5 L212.5 306.1 L211.6 305.5 L211.5 305.4 L211.1 304.5ZM197.5 319.5 L198.5 319.5 L199.5 319.5 L199.5 319.5 L199.5 320.4 L199.3 320.5 L198.5 320.7 L198.2 320.5 L197.5 319.8 L197.5 319.5ZM192.5 320.5 L193.5 320.5 L194.5 320.5 L195.5 320.5 L195.6 320.5 L195.5 321.5 L195.5 321.5 L195.5 321.5 L195.7 322.5 L196.0 323.5 L195.6 324.5 L195.5 324.6 L195.0 325.5 L194.7 326.5 L195.5 327.4 L195.5 327.5 L195.7 328.5 L195.9 329.5 L195.8 330.5 L195.5 330.9 L195.0 331.5 L194.6 332.5 L194.5 332.5 L194.5 332.5 L193.5 331.5 L193.5 331.5 L192.5 330.5 L192.5 330.5 L191.5 329.5 L190.5 329.5 L190.5 329.5 L190.5 328.5 L190.5 327.5 L190.5 326.5 L190.5 325.5 L189.5 324.5 L189.5 324.5 L189.5 323.5 L189.5 323.5 L190.5 322.5 L190.5 322.5 L191.4 322.5 L191.5 322.6 L191.8 322.5 L192.5 321.9 L192.6 321.5 L192.5 321.4 L192.5 320.5ZM207.5 332.4 L207.9 332.5 L207.5 332.8 L207.3 333.5 L206.5 333.9 L206.1 333.5 L206.5 332.9 L207.3 332.5ZM198.5 335.0 L199.5 335.4 L199.8 335.5 L199.8 336.5 L199.5 336.5 L198.5 336.5 L198.5 336.5 L198.5 335.5ZM274.5 345.5 L275.5 345.5 L276.5 345.5 L277.5 345.5 L278.5 345.5 L278.5 345.5 L279.5 346.5 L279.5 346.5 L279.5 347.5 L279.5 347.5 L278.5 348.5 L278.5 348.5 L277.5 349.5 L277.5 349.5 L276.5 349.5 L275.5 349.5 L275.5 349.5 L274.5 348.5 L274.5 348.5 L274.5 347.5 L274.5 346.5 L274.5 345.5ZM273.5 350.5 L274.5 350.5 L274.5 350.5 L275.5 351.5 L275.5 351.5 L275.5 352.5 L275.5 353.5 L275.5 354.5 L275.5 355.5 L275.5 356.5 L275.5 357.5 L275.5 357.5 L274.5 358.5 L274.5 359.5 L274.5 359.5 L273.5 360.5 L273.5 360.5 L272.5 360.6 L271.5 360.6 L270.6 361.5 L270.6 362.5 L270.6 363.5 L270.6 364.5 L270.6 365.5 L270.5 366.5 L270.5 366.5 L269.5 367.5 L269.5 368.5 L269.5 368.5 L268.5 369.5 L268.5 369.5 L267.5 369.5 L266.5 370.5 L266.5 370.5 L265.5 371.5 L265.5 371.5 L264.5 372.5 L264.5 372.5 L264.5 372.5 L263.5 371.5 L262.5 371.5 L261.5 371.5 L260.5 372.5 L260.5 372.5 L259.5 373.5 L259.5 374.5 L259.5 375.5 L260.5 376.5 L260.5 376.5 L260.6 377.5 L260.5 377.6 L259.5 378.5 L259.5 378.5 L258.5 378.5 L257.5 378.5 L256.5 379.5 L256.5 379.5 L255.5 380.5 L255.5 380.5 L255.5 380.5 L254.5 380.3 L253.5 380.0 L252.5 379.8 L252.5 379.5 L252.5 379.5 L253.5 378.5 L253.5 378.5 L254.5 378.5 L255.5 377.5 L255.5 377.5 L256.5 376.5 L256.5 376.5 L257.5 375.5 L257.5 375.5 L258.5 374.5 L258.5 373.5 L258.5 372.5 L258.5 372.5 L259.5 371.5 L259.5 371.5 L260.5 371.5 L261.5 370.5 L261.5 370.5 L262.5 369.5 L262.5 369.5 L263.5 369.5 L264.5 368.5 L264.5 368.5 L265.5 367.5 L264.5 366.5 L264.5 366.5 L264.4 365.5 L264.4 364.5 L264.4 363.5 L264.4 362.5 L264.4 361.5 L263.5 360.5 L263.5 360.5 L262.6 359.5 L263.5 358.8 L264.5 359.0 L264.5 359.5 L265.5 360.4 L265.6 360.5 L266.5 361.4 L266.6 361.5 L267.5 362.4 L268.5 362.4 L269.4 361.5 L269.5 361.4 L270.4 360.5 L270.4 359.5 L270.4 358.5 L270.5 357.5 L270.5 356.5 L270.5 355.5 L270.5 354.5 L269.5 353.5 L269.5 353.5 L269.5 353.5 L270.5 352.5 L270.5 352.5 L271.5 351.5 L271.5 351.5 L272.5 351.5 L273.5 350.5ZM273.4 352.5 L273.5 352.8 L273.7 352.5 L273.5 352.0ZM253.5 355.5 L254.5 355.5 L255.5 355.5 L256.5 355.5 L257.5 355.5 L258.5 355.5 L259.5 355.5 L260.2 355.5 L260.2 356.5 L259.5 356.8 L258.5 357.4 L257.5 357.4 L257.1 357.5 L256.5 357.6 L255.8 358.5 L256.0 359.5 L256.5 360.1 L257.0 360.5 L256.6 361.5 L256.5 362.0 L256.3 362.5 L255.5 362.8 L254.5 363.1 L254.5 362.5 L254.5 361.5 L254.5 360.5 L253.5 359.5 L252.6 359.5 L252.5 358.7 L252.4 358.5 L252.5 358.0 L252.5 357.5 L252.6 356.5 L253.3 355.5ZM253.5 363.5 L254.2 363.5 L253.5 363.5 L253.5 363.5ZM241.5 365.5 L242.5 365.5 L243.5 365.0 L244.2 365.5 L244.5 366.1 L245.0 366.5 L245.5 367.0 L245.8 367.5 L245.5 367.8 L244.5 368.4 L244.4 368.5 L244.0 369.5 L244.5 370.0 L245.5 369.8 L246.5 369.8 L247.5 369.8 L248.5 369.7 L249.5 369.6 L249.6 369.5 L250.5 368.8 L250.5 369.5 L250.5 370.5 L250.5 370.5 L249.5 371.5 L249.5 372.5 L249.6 373.5 L249.5 374.5 L249.5 374.5 L248.5 375.5 L248.5 375.5 L247.5 375.5 L247.5 375.5 L246.5 374.5 L245.5 374.5 L245.5 374.5 L244.5 373.5 L243.5 373.5 L242.5 373.5 L242.5 373.5 L241.7 372.5 L241.5 372.3 L241.5 371.5 L240.5 370.5 L240.5 370.5 L240.5 369.5 L240.4 368.5 L240.4 367.5 L240.5 366.5 L240.5 366.5 L241.5 365.5ZM231.5 367.2 L232.5 367.2 L233.3 367.5 L233.2 368.5 L232.5 368.7 L231.7 368.5 L231.5 368.3 L231.4 367.5ZM250.5 367.4 L251.5 367.5 L251.5 367.5 L251.5 367.5 L250.5 367.7 L250.4 367.5ZM262.5 374.5 L263.5 374.5 L264.5 374.5 L264.5 374.5 L264.6 375.5 L264.5 375.6 L263.5 375.6 L262.5 375.5 L262.5 375.5 L262.5 374.5Z"/>
<path fill="#92ff22" fill-rule="evenodd" d="M300.5 245.5 L300.5 245.5 L300.5 246.5 L300.5 246.5 L300.3 246.5 L299.7 245.5ZM292.5 251.2 L292.7 251.5 L292.5 251.7 L291.9 251.5ZM291.5 253.0 L292.1 253.5 L291.9 254.5 L291.5 254.6 L291.4 254.5 L291.1 253.5ZM298.5 255.9 L299.5 256.2 L299.7 256.5 L299.9 257.5 L299.7 258.5 L300.4 259.5 L300.5 259.6 L301.5 260.3 L301.6 260.5 L302.5 261.2 L303.5 261.3 L304.0 261.5 L304.5 261.8 L305.5 262.1 L306.5 261.8 L306.7 261.5 L307.5 260.7 L308.5 260.9 L309.3 261.5 L309.5 261.9 L309.7 262.5 L309.5 263.0 L308.8 263.5 L308.5 263.7 L308.2 264.5 L308.3 265.5 L308.5 265.8 L309.5 266.3 L310.5 266.4 L310.9 266.5 L311.5 266.7 L312.4 267.5 L312.1 268.5 L312.4 269.5 L312.5 269.8 L313.1 270.5 L313.5 271.3 L313.6 271.5 L314.4 272.5 L314.5 272.7 L314.9 273.5 L315.5 274.2 L316.2 274.5 L316.5 275.0 L317.0 275.5 L317.0 276.5 L317.3 277.5 L316.9 278.5 L316.5 278.7 L315.5 279.1 L314.8 278.5 L314.5 277.5 L315.1 276.5 L315.4 275.5 L314.5 275.1 L313.5 275.3 L313.4 275.5 L313.3 276.5 L312.5 277.2 L311.5 277.3 L310.5 277.5 L310.8 278.5 L311.1 279.5 L310.7 280.5 L310.9 281.5 L311.5 282.2 L312.1 282.5 L312.3 283.5 L312.3 284.5 L311.5 284.9 L310.8 285.5 L310.5 285.7 L309.5 285.8 L308.5 285.5 L307.7 286.5 L307.5 286.8 L306.7 287.5 L306.5 287.7 L305.6 288.5 L305.5 288.6 L305.0 289.5 L304.6 290.5 L304.5 290.7 L303.5 291.3 L302.7 291.5 L302.5 291.5 L301.5 291.7 L301.1 291.5 L300.5 290.7 L300.3 290.5 L299.6 289.5 L299.5 289.3 L298.5 288.7 L297.5 289.3 L297.2 289.5 L296.5 290.4 L295.5 290.3 L295.2 290.5 L294.5 291.0 L293.7 291.5 L293.7 292.5 L293.7 293.5 L293.5 293.7 L292.5 293.5 L292.6 292.5 L293.5 291.5 L292.5 291.2 L291.5 291.2 L290.9 291.5 L290.6 292.5 L290.5 292.7 L289.5 293.2 L289.0 292.5 L288.5 291.6 L288.4 291.5 L288.1 290.5 L287.5 290.3 L286.5 290.5 L286.5 290.5 L285.5 291.2 L285.1 291.5 L284.5 291.9 L283.5 292.4 L283.4 292.5 L283.2 293.5 L282.5 294.1 L281.5 294.0 L280.7 294.5 L280.5 294.7 L279.7 295.5 L279.5 296.2 L279.3 296.5 L279.1 297.5 L279.4 298.5 L279.5 298.7 L280.5 299.2 L281.4 298.5 L281.5 298.2 L281.9 297.5 L282.5 296.7 L283.4 297.5 L283.5 297.5 L284.5 298.5 L284.5 298.5 L285.5 299.1 L286.5 299.3 L286.6 299.5 L286.5 300.3 L286.5 300.5 L286.3 301.5 L286.5 302.5 L286.5 302.5 L287.5 303.3 L288.5 303.5 L288.7 303.5 L289.5 303.8 L290.5 304.4 L290.5 304.5 L291.5 305.4 L291.7 305.5 L292.3 306.5 L291.5 306.7 L290.9 307.5 L290.7 308.5 L290.7 309.5 L290.5 309.9 L289.5 310.4 L289.3 310.5 L288.5 311.5 L288.5 311.5 L288.3 312.5 L288.5 313.2 L288.6 313.5 L289.1 314.5 L289.3 315.5 L289.3 316.5 L289.5 316.6 L289.5 317.5 L289.5 318.5 L289.5 319.5 L289.5 320.5 L289.5 321.5 L289.5 322.5 L289.5 323.5 L289.5 324.5 L289.5 324.5 L288.5 325.5 L288.5 325.6 L287.8 326.5 L288.0 327.5 L288.5 328.5 L288.5 328.5 L288.9 329.5 L288.5 330.5 L288.5 330.5 L287.9 330.5 L287.5 330.2 L286.5 330.0 L286.0 330.5 L285.5 330.5 L284.5 331.4 L283.5 331.2 L282.5 331.3 L281.5 331.4 L281.0 331.5 L280.5 331.6 L280.1 331.5 L279.5 331.3 L278.9 331.5 L278.5 331.6 L278.3 331.5 L277.5 331.3 L276.5 331.3 L275.5 331.4 L275.0 331.5 L274.5 331.7 L273.5 331.9 L272.5 331.9 L271.5 332.4 L271.3 332.5 L271.0 333.5 L271.5 334.3 L271.7 334.5 L271.6 335.5 L271.5 335.6 L270.9 336.5 L270.7 337.5 L271.0 338.5 L270.5 339.2 L270.3 339.5 L269.5 340.1 L268.5 340.2 L267.5 340.3 L266.5 340.4 L266.3 340.5 L265.5 340.8 L264.5 341.2 L263.5 341.0 L262.5 340.6 L261.7 341.5 L261.5 341.6 L260.5 342.1 L259.6 341.5 L259.5 341.3 L259.1 340.5 L259.1 339.5 L259.0 338.5 L258.5 338.1 L258.0 337.5 L257.5 337.2 L256.8 337.5 L257.1 338.5 L257.2 339.5 L256.5 340.4 L256.5 340.5 L255.9 341.5 L255.5 342.5 L255.5 342.5 L254.5 343.4 L254.4 343.5 L254.2 344.5 L253.5 345.1 L252.5 345.0 L251.5 345.0 L250.9 345.5 L250.5 346.1 L250.4 346.5 L250.0 347.5 L250.2 348.5 L250.4 349.5 L249.6 350.5 L249.5 350.5 L249.3 350.5 L248.5 350.2 L247.5 349.9 L246.5 350.4 L246.3 350.5 L245.5 350.8 L244.5 350.7 L243.6 350.5 L243.5 350.5 L242.5 350.5 L242.5 350.5 L241.6 351.5 L241.5 351.7 L241.1 352.5 L240.5 353.0 L240.1 353.5 L239.5 354.5 L239.5 354.5 L238.5 354.7 L237.5 354.6 L236.8 355.5 L236.5 356.1 L236.2 356.5 L235.5 357.5 L235.5 357.5 L234.5 358.2 L234.3 358.5 L233.5 359.4 L232.5 359.3 L231.5 359.4 L231.4 359.5 L230.5 360.5 L229.5 359.9 L228.6 359.5 L228.5 359.3 L227.5 359.4 L227.4 359.5 L227.3 360.5 L226.8 361.5 L226.5 362.0 L226.0 362.5 L225.5 362.9 L224.9 362.5 L224.5 362.1 L223.7 361.5 L223.5 361.4 L222.5 361.2 L221.5 361.2 L221.5 360.5 L220.5 359.5 L220.5 359.5 L220.5 358.5 L220.5 357.5 L219.5 356.6 L219.4 356.5 L218.5 355.6 L218.4 355.5 L217.5 354.6 L216.5 354.5 L215.5 354.5 L214.5 354.5 L213.5 354.5 L213.5 354.5 L212.5 353.5 L211.9 353.5 L211.5 353.0 L211.4 352.5 L210.5 352.0 L210.5 351.5 L210.4 350.5 L210.4 349.5 L210.5 349.4 L211.4 348.5 L210.5 347.6 L209.5 347.6 L208.5 347.6 L208.4 347.5 L207.5 346.5 L207.5 346.5 L207.5 345.8 L207.7 345.5 L208.4 344.5 L208.5 344.3 L209.0 343.5 L209.0 342.5 L209.2 341.5 L209.5 340.9 L209.7 340.5 L210.3 339.5 L210.5 339.1 L210.7 338.5 L211.5 337.8 L212.1 337.5 L212.5 337.1 L213.2 337.5 L213.5 337.6 L214.4 337.5 L214.5 337.5 L215.0 336.5 L214.5 335.7 L214.3 335.5 L213.9 334.5 L213.5 333.9 L213.1 333.5 L213.2 332.5 L213.5 331.9 L213.8 331.5 L214.4 330.5 L214.3 329.5 L214.1 328.5 L214.1 327.5 L214.5 327.2 L215.5 326.8 L215.6 326.5 L215.5 325.8 L215.4 325.5 L214.5 325.1 L213.5 324.6 L213.5 324.5 L213.1 323.5 L212.9 322.5 L212.8 321.5 L213.0 320.5 L213.5 319.6 L213.5 319.5 L214.0 318.5 L214.4 317.5 L214.5 316.9 L214.6 316.5 L214.5 315.5 L214.5 315.3 L214.4 314.5 L214.3 313.5 L214.5 312.8 L214.6 312.5 L214.6 311.5 L214.9 310.5 L215.5 310.1 L215.9 309.5 L216.5 308.8 L217.5 308.5 L217.5 308.5 L218.5 308.1 L219.5 307.7 L220.5 307.5 L220.6 307.5 L221.5 307.0 L222.5 306.6 L222.6 306.5 L223.5 305.9 L224.5 305.5 L224.5 305.5 L225.5 304.9 L226.1 304.5 L226.5 303.9 L226.8 303.5 L227.1 302.5 L227.5 302.1 L228.4 301.5 L228.5 301.5 L229.5 301.3 L230.5 300.7 L230.7 300.5 L231.4 299.5 L231.5 299.3 L232.4 298.5 L232.4 297.5 L232.4 296.5 L232.5 296.3 L233.5 295.6 L233.7 295.5 L234.5 295.3 L235.5 295.4 L236.4 294.5 L236.5 293.7 L236.5 293.5 L237.2 292.5 L237.5 292.2 L238.5 291.6 L238.6 291.5 L239.2 290.5 L238.5 289.5 L238.5 289.5 L237.5 288.7 L237.3 288.5 L236.5 287.6 L236.4 287.5 L236.5 287.4 L237.2 286.5 L237.5 286.3 L238.5 285.8 L239.5 285.8 L240.5 285.8 L240.9 285.5 L241.5 285.1 L242.5 284.7 L243.4 284.5 L243.5 284.0 L243.6 283.5 L244.5 283.2 L245.5 283.5 L246.5 283.5 L246.5 283.5 L246.5 283.5 L245.5 283.5 L244.5 284.1 L243.7 284.5 L244.5 284.9 L245.3 285.5 L245.5 285.6 L246.3 286.5 L246.5 287.3 L247.5 287.4 L248.3 286.5 L248.5 286.2 L248.7 286.5 L249.3 287.5 L249.5 287.6 L250.5 287.9 L251.5 288.2 L252.5 288.5 L252.6 288.5 L253.5 289.0 L253.8 289.5 L254.5 290.3 L254.6 290.5 L255.0 291.5 L255.5 292.5 L255.5 292.5 L256.2 293.5 L256.4 294.5 L256.1 295.5 L256.1 296.5 L256.2 297.5 L256.4 298.5 L256.2 299.5 L256.2 300.5 L256.5 301.5 L256.5 301.6 L257.2 302.5 L257.5 302.9 L258.1 303.5 L258.5 304.3 L258.6 304.5 L259.5 305.5 L259.5 305.5 L260.2 306.5 L260.2 307.5 L260.5 308.0 L260.8 308.5 L261.4 309.5 L261.5 309.7 L261.7 310.5 L261.5 311.0 L261.2 311.5 L260.5 312.5 L261.1 313.5 L261.5 314.4 L261.5 314.5 L261.8 315.5 L261.7 316.5 L261.5 317.2 L261.4 317.5 L261.4 318.5 L261.5 318.7 L262.0 319.5 L261.7 320.5 L261.5 320.7 L261.3 321.5 L261.5 322.5 L261.5 322.6 L262.5 323.1 L263.5 323.0 L264.5 322.6 L265.1 323.5 L265.2 324.5 L265.5 325.4 L265.6 325.5 L265.9 326.5 L266.5 327.1 L267.1 327.5 L267.5 327.8 L268.5 328.3 L268.9 327.5 L268.7 326.5 L268.5 326.0 L268.1 325.5 L267.9 324.5 L268.5 323.6 L268.5 323.5 L268.6 322.5 L268.5 321.6 L268.5 321.5 L268.5 321.5 L269.5 321.4 L270.0 320.5 L270.0 319.5 L270.2 318.5 L270.5 317.9 L270.8 317.5 L271.5 317.0 L272.5 316.8 L272.7 317.5 L273.5 318.1 L274.5 317.7 L274.6 317.5 L274.5 317.0 L273.8 316.5 L273.5 316.3 L272.5 315.8 L272.5 315.5 L272.5 315.4 L273.5 314.9 L274.5 314.9 L275.5 314.7 L276.1 314.5 L276.5 314.4 L276.9 313.5 L277.0 312.5 L277.5 311.8 L277.6 311.5 L277.5 310.8 L277.3 310.5 L276.5 309.6 L275.7 310.5 L275.5 310.7 L274.9 311.5 L274.5 312.5 L274.5 312.5 L273.5 312.6 L273.4 312.5 L273.1 311.5 L272.7 310.5 L272.8 309.5 L273.0 308.5 L273.5 308.5 L274.5 307.5 L274.5 307.3 L274.7 307.5 L275.5 308.5 L275.5 308.5 L276.5 309.5 L277.5 309.4 L278.5 309.1 L279.1 308.5 L279.2 307.5 L278.5 306.5 L278.5 306.5 L277.5 305.7 L277.2 305.5 L276.7 304.5 L276.5 304.1 L276.0 303.5 L275.6 302.5 L275.6 301.5 L275.6 300.5 L275.5 300.2 L275.0 299.5 L274.5 298.5 L275.2 297.5 L275.5 297.3 L276.5 296.8 L276.7 296.5 L277.3 295.5 L277.5 294.8 L277.6 294.5 L277.9 293.5 L278.5 292.5 L278.5 292.5 L279.5 291.8 L280.3 291.5 L280.5 291.1 L280.6 290.5 L280.6 289.5 L280.5 289.3 L279.9 288.5 L279.5 288.0 L279.2 287.5 L278.5 286.7 L277.5 286.7 L276.9 287.5 L276.8 288.5 L276.5 288.8 L275.5 289.1 L274.6 289.5 L274.5 289.6 L273.6 289.5 L274.5 289.0 L274.6 288.5 L274.6 287.5 L274.5 287.0 L274.4 286.5 L274.2 285.5 L274.1 284.5 L273.5 283.6 L273.3 283.5 L273.2 282.5 L273.4 281.5 L273.5 280.9 L274.5 280.9 L275.5 281.1 L276.4 280.5 L276.5 280.3 L277.0 279.5 L277.5 278.9 L278.1 278.5 L277.8 277.5 L277.5 277.1 L277.0 276.5 L276.5 276.2 L275.5 275.5 L275.4 275.5 L274.5 275.1 L274.5 274.5 L274.5 273.5 L274.5 273.5 L275.5 272.5 L275.5 271.9 L276.5 271.9 L277.5 272.5 L277.5 272.5 L277.5 272.5 L278.4 271.5 L278.5 271.2 L278.7 270.5 L279.5 269.7 L279.7 269.5 L279.9 268.5 L280.5 268.4 L280.9 268.5 L281.5 268.7 L282.5 269.4 L282.7 269.5 L283.5 269.7 L284.4 269.5 L284.5 269.5 L284.8 268.5 L285.0 267.5 L285.5 266.7 L285.7 266.5 L286.5 265.8 L287.5 265.7 L288.5 266.2 L289.5 265.9 L289.9 265.5 L290.5 264.7 L290.6 264.5 L291.4 263.5 L291.5 263.0 L291.8 262.5 L291.8 261.5 L292.2 260.5 L292.5 260.1 L293.5 259.7 L293.7 259.5 L293.9 258.5 L294.3 257.5 L294.5 257.3 L295.5 256.6 L296.5 256.6 L297.5 256.7 L297.8 256.5ZM245.5 288.5 L245.5 288.5 L245.6 288.5 L245.5 288.4ZM216.8 331.5 L216.8 332.5 L217.5 333.3 L218.2 332.5 L218.2 331.5 L217.5 330.8ZM246.6 333.5 L246.5 333.6 L245.5 334.5 L245.5 335.5 L246.5 336.5 L247.5 336.5 L248.5 336.4 L249.4 335.5 L249.5 335.4 L250.4 334.5 L249.5 333.6 L248.5 333.5 L248.5 333.5 L247.5 332.5ZM283.5 265.4 L283.8 265.5 L284.1 266.5 L283.5 266.9 L282.5 267.4 L281.6 266.5 L282.5 265.7 L282.9 265.5ZM320.5 268.5 L320.5 268.5 L320.5 269.2 L320.2 268.5ZM321.5 269.5 L321.5 269.5 L321.5 270.0 L320.8 269.5ZM270.5 278.2 L271.5 278.1 L272.5 278.4 L272.6 278.5 L272.5 279.5 L272.5 279.5 L271.5 279.8 L270.6 279.5 L270.5 279.3 L270.2 278.5ZM313.5 280.5 L313.5 280.5 L313.6 281.5 L313.5 281.7 L313.3 281.5 L313.5 280.5ZM252.5 282.5 L253.5 283.1 L253.9 283.5 L253.9 284.5 L253.5 284.6 L253.4 284.5 L252.5 283.7 L251.6 283.5ZM168.5 284.4 L169.4 284.5 L169.5 284.5 L170.5 284.7 L171.5 284.8 L172.5 285.0 L173.5 284.5 L174.5 284.6 L175.4 285.5 L175.5 285.6 L176.3 286.5 L176.5 287.0 L176.9 287.5 L177.5 288.5 L177.5 288.5 L178.5 289.1 L179.5 289.0 L180.5 289.5 L180.5 289.5 L181.0 290.5 L181.1 291.5 L181.2 292.5 L180.8 293.5 L180.5 294.5 L180.7 295.5 L181.3 296.5 L181.2 297.5 L181.0 298.5 L180.5 298.8 L179.6 299.5 L179.5 300.3 L178.5 299.9 L177.5 300.3 L177.3 300.5 L176.5 301.1 L175.8 301.5 L176.2 302.5 L176.5 303.5 L176.5 303.5 L176.5 303.5 L175.5 304.4 L175.4 304.5 L175.4 305.5 L174.6 306.5 L174.5 306.5 L174.5 306.5 L173.5 305.5 L173.5 305.5 L172.5 304.5 L171.5 304.6 L171.4 304.5 L171.4 303.5 L170.5 302.6 L170.4 302.5 L169.5 301.6 L168.5 301.6 L167.5 301.6 L167.4 301.5 L166.5 300.7 L166.3 300.5 L166.3 299.5 L165.5 298.6 L165.4 298.5 L165.4 297.5 L164.5 296.7 L164.3 296.5 L163.5 295.6 L162.5 295.6 L161.5 295.6 L161.4 295.5 L160.5 294.6 L160.4 294.5 L160.4 293.5 L160.4 292.5 L160.4 291.5 L160.4 290.5 L160.5 289.5 L160.5 289.2 L161.5 289.1 L162.5 288.7 L162.8 288.5 L163.5 288.1 L164.4 287.5 L164.5 287.4 L165.3 286.5 L165.5 286.5 L166.5 285.5 L166.5 285.2 L167.5 284.9 L168.3 284.5ZM270.5 288.3 L271.5 287.7 L272.5 287.7 L273.4 288.5 L272.5 289.0 L271.9 289.5 L272.2 290.5 L272.4 291.5 L271.5 292.0 L270.5 291.7 L270.2 291.5 L269.5 291.1 L269.5 290.5 L269.5 289.5 L269.5 288.5 L269.6 288.5ZM273.5 289.7 L273.5 290.5 L273.5 290.5 L273.4 290.5ZM269.5 295.0 L269.8 295.5 L269.5 295.9 L269.5 295.5ZM269.5 297.0 L270.5 297.4 L270.6 297.5 L270.8 298.5 L270.5 298.8 L269.5 298.8 L269.5 298.5 L269.5 297.5ZM295.5 299.1 L296.1 299.5 L295.5 300.5 L295.5 300.5 L295.5 300.5 L295.1 299.5ZM178.5 301.1 L179.5 300.5 L180.0 301.5 L180.3 302.5 L179.5 303.2 L178.7 302.5 L178.5 301.9 L178.3 301.5ZM178.5 307.3 L179.4 307.5 L178.5 307.7 L177.9 307.5ZM276.5 334.0 L276.6 334.5 L276.5 334.6 L276.0 334.5ZM274.5 335.8 L275.1 336.5 L274.5 337.4 L273.6 336.5ZM254.5 345.4 L254.5 345.5 L254.5 345.5 L254.4 345.5ZM268.5 345.2 L269.4 345.5 L268.5 345.5 L268.5 345.5ZM262.5 349.0 L263.1 349.5 L262.5 349.9 L262.0 349.5ZM270.5 358.3 L271.5 357.7 L272.5 358.5 L272.5 358.5 L273.1 359.5 L273.0 360.5 L272.5 360.5 L271.5 360.5 L270.5 361.5 L270.5 362.5 L270.5 363.5 L270.5 364.5 L270.5 365.5 L270.5 366.2 L269.7 365.5 L269.5 365.3 L268.5 365.4 L268.3 365.5 L267.5 365.7 L266.5 366.0 L265.5 366.3 L264.5 366.2 L264.5 365.5 L264.5 364.5 L264.4 363.5 L264.4 362.5 L264.4 361.5 L263.7 360.5 L264.5 360.0 L265.5 360.5 L265.5 360.5 L266.5 361.4 L266.6 361.5 L267.5 362.5 L268.5 362.5 L269.5 361.5 L269.5 361.5 L270.5 360.5 L270.5 359.5 L270.5 358.5ZM220.5 363.5 L221.5 362.7 L222.0 363.5 L221.5 364.2 L220.5 363.7 L220.5 363.5ZM240.5 367.3 L241.3 367.5 L241.2 368.5 L240.5 368.8 L240.5 368.5 L240.5 367.5ZM264.5 369.2 L264.7 369.5 L265.5 370.0 L265.8 370.5 L265.5 370.9 L264.5 370.8 L264.1 370.5 L263.9 369.5ZM245.5 372.4 L246.4 372.5 L246.5 372.6 L247.5 372.7 L248.5 373.0 L249.5 373.1 L249.5 373.5 L249.5 374.2 L248.9 374.5 L248.5 374.7 L247.5 374.9 L247.2 374.5 L246.5 373.8 L245.8 373.5 L245.5 373.0 L245.2 372.5ZM263.5 375.1 L264.5 375.2 L264.5 375.5 L264.5 375.5 L263.5 375.5 L263.2 375.5ZM260.5 376.5 L260.5 376.5 L260.5 377.5 L260.5 377.5 L259.5 377.7 L259.4 377.5 L259.5 377.2 L260.4 376.5Z"/>
<path fill="#ffee00" fill-rule="evenodd" d="M295.5 261.4 L295.7 261.5 L296.5 261.8 L297.5 261.8 L298.5 261.9 L299.1 262.5 L299.5 263.0 L300.5 263.3 L301.0 263.5 L301.5 263.7 L302.5 264.0 L303.5 264.1 L304.5 264.0 L305.5 264.5 L305.5 264.6 L306.1 265.5 L306.5 265.9 L307.1 266.5 L307.5 266.9 L308.5 267.5 L308.5 267.5 L309.4 268.5 L309.5 268.6 L310.5 269.2 L310.8 269.5 L311.3 270.5 L310.9 271.5 L310.8 272.5 L311.5 273.3 L311.6 273.5 L311.5 274.5 L311.5 274.5 L310.5 275.2 L310.2 275.5 L309.7 276.5 L309.5 276.9 L309.2 277.5 L309.0 278.5 L309.2 279.5 L309.1 280.5 L309.1 281.5 L308.6 282.5 L308.5 282.7 L308.3 283.5 L307.5 284.4 L307.3 284.5 L306.5 284.8 L305.5 284.8 L305.2 285.5 L304.7 286.5 L304.5 286.9 L304.1 287.5 L303.8 288.5 L303.5 289.1 L303.2 289.5 L302.5 290.2 L301.5 289.8 L301.3 289.5 L301.0 288.5 L300.5 287.8 L300.3 287.5 L300.0 286.5 L299.5 286.0 L298.5 285.7 L297.5 285.6 L296.6 285.5 L296.5 285.5 L296.5 285.5 L295.5 286.2 L295.3 286.5 L294.9 287.5 L294.5 287.8 L293.9 288.5 L293.5 288.9 L292.5 289.5 L291.5 288.8 L291.5 288.5 L290.5 287.7 L289.5 287.6 L288.5 288.0 L287.5 288.4 L286.9 288.5 L286.5 288.6 L285.5 288.7 L284.6 288.5 L284.5 288.5 L283.5 288.4 L282.5 287.8 L281.5 287.6 L281.4 287.5 L280.5 286.5 L280.5 286.0 L280.4 285.5 L279.5 285.2 L278.7 284.5 L278.5 284.2 L278.1 283.5 L278.2 282.5 L278.5 282.2 L279.5 281.8 L279.8 281.5 L280.4 280.5 L280.5 280.1 L280.6 279.5 L280.7 278.5 L280.9 277.5 L281.0 276.5 L280.9 275.5 L280.5 275.1 L280.2 274.5 L279.9 273.5 L280.2 272.5 L280.5 272.2 L281.5 272.2 L281.9 272.5 L282.5 273.5 L282.5 273.5 L282.5 273.5 L283.1 272.5 L283.5 272.1 L284.0 271.5 L284.5 271.3 L285.5 271.1 L286.5 270.8 L287.5 270.7 L287.8 270.5 L288.5 269.8 L288.8 269.5 L289.4 268.5 L289.5 268.0 L290.5 267.5 L291.5 267.5 L291.5 267.5 L292.2 266.5 L292.5 266.1 L292.9 265.5 L292.9 264.5 L293.5 263.7 L293.7 263.5 L294.5 262.8 L294.8 262.5 L295.4 261.5ZM276.5 282.4 L276.7 282.5 L276.5 282.6 L276.0 282.5ZM167.5 286.3 L168.5 286.0 L169.5 286.0 L170.5 286.1 L171.2 286.5 L171.5 286.8 L172.5 287.1 L173.5 286.5 L173.5 286.5 L174.5 286.4 L174.7 286.5 L175.3 287.5 L175.5 288.0 L175.7 288.5 L176.5 289.4 L176.6 289.5 L177.4 290.5 L177.5 290.6 L178.4 291.5 L178.4 292.5 L178.5 292.8 L178.6 293.5 L179.2 294.5 L179.5 295.3 L179.5 295.5 L179.5 295.6 L178.5 296.4 L177.5 296.4 L176.9 296.5 L176.9 297.5 L176.8 298.5 L176.5 299.0 L175.5 299.4 L175.2 299.5 L174.5 300.3 L174.5 300.5 L173.7 301.5 L173.5 301.8 L173.0 302.5 L172.8 303.5 L172.8 304.5 L172.5 304.5 L171.5 304.5 L171.5 304.5 L171.5 303.5 L170.5 302.5 L170.5 302.5 L169.5 301.5 L168.5 301.6 L167.5 301.6 L167.4 301.5 L166.5 300.6 L166.4 300.5 L166.4 299.5 L165.5 298.6 L165.4 298.5 L165.4 297.5 L164.5 296.6 L164.4 296.5 L163.5 295.6 L162.5 295.6 L161.5 295.6 L161.4 295.5 L160.5 294.6 L160.4 294.5 L160.4 293.5 L160.4 292.5 L160.4 291.5 L160.5 290.5 L160.5 290.2 L161.5 290.1 L162.5 289.8 L163.0 289.5 L163.5 289.2 L164.5 288.5 L164.6 288.5 L165.5 288.0 L166.0 287.5 L166.5 286.9 L167.0 286.5ZM241.5 286.4 L242.5 286.3 L242.7 286.5 L243.0 287.5 L243.5 287.8 L243.9 288.5 L244.5 289.1 L244.9 289.5 L245.5 290.0 L246.1 290.5 L246.5 291.0 L247.5 291.1 L248.5 290.5 L248.6 290.5 L249.5 289.9 L250.1 289.5 L250.5 289.4 L250.9 289.5 L251.5 289.8 L252.5 290.2 L252.9 290.5 L253.1 291.5 L253.5 292.3 L253.6 292.5 L254.4 293.5 L254.5 293.6 L254.7 294.5 L254.5 295.0 L253.5 295.4 L252.5 295.2 L251.9 295.5 L251.5 295.9 L250.5 296.2 L249.5 296.2 L248.8 296.5 L249.5 297.0 L250.5 296.9 L251.5 296.7 L252.5 297.0 L253.5 297.0 L254.1 296.5 L254.5 295.9 L254.6 296.5 L254.7 297.5 L254.5 298.3 L254.4 298.5 L254.5 298.7 L254.7 299.5 L254.8 300.5 L254.7 301.5 L254.9 302.5 L254.8 303.5 L255.3 304.5 L255.5 304.8 L256.0 305.5 L256.5 306.5 L256.5 306.5 L257.5 307.1 L257.6 307.5 L257.9 308.5 L257.9 309.5 L258.0 310.5 L258.0 311.5 L258.5 312.1 L258.7 312.5 L259.5 313.4 L259.6 313.5 L260.2 314.5 L260.4 315.5 L260.3 316.5 L260.4 317.5 L260.2 318.5 L259.6 319.5 L259.5 319.9 L259.4 320.5 L259.5 320.8 L259.8 321.5 L259.8 322.5 L260.1 323.5 L260.5 323.9 L261.5 324.5 L262.5 324.5 L263.5 324.4 L263.7 324.5 L264.5 325.4 L264.5 325.5 L264.6 326.5 L264.8 327.5 L265.5 328.5 L265.7 328.5 L265.5 328.6 L265.3 329.5 L265.5 330.3 L265.7 330.5 L266.5 330.8 L267.5 330.8 L268.3 330.5 L268.5 330.5 L269.2 329.5 L269.5 329.1 L269.8 328.5 L270.0 327.5 L269.9 326.5 L269.8 325.5 L269.5 324.7 L269.4 324.5 L269.5 324.2 L269.6 323.5 L270.2 322.5 L270.5 322.0 L270.8 321.5 L271.1 320.5 L271.4 319.5 L271.5 319.2 L272.5 319.0 L273.5 319.2 L274.5 318.9 L275.3 318.5 L275.5 318.2 L276.2 317.5 L276.5 317.1 L277.5 316.6 L277.6 316.5 L278.0 315.5 L278.1 314.5 L278.3 313.5 L278.5 312.8 L279.1 312.5 L279.2 311.5 L279.5 311.0 L280.1 310.5 L280.5 310.1 L281.1 309.5 L281.4 308.5 L280.9 307.5 L280.5 307.1 L280.1 306.5 L279.5 305.5 L279.5 305.5 L278.7 304.5 L278.5 303.5 L278.5 303.5 L277.5 302.6 L277.4 302.5 L277.0 301.5 L277.5 300.9 L278.5 300.7 L279.5 301.4 L280.5 301.1 L281.0 300.5 L281.5 300.1 L282.5 300.0 L283.5 300.1 L284.2 300.5 L284.5 300.7 L285.0 301.5 L285.5 302.3 L285.6 302.5 L286.0 303.5 L286.5 304.3 L286.7 304.5 L287.5 304.9 L288.5 305.4 L288.7 305.5 L289.5 306.4 L289.6 306.5 L289.5 306.9 L289.3 307.5 L289.0 308.5 L288.5 309.1 L288.2 309.5 L287.5 310.4 L287.3 310.5 L286.5 311.1 L285.8 311.5 L285.5 311.8 L285.1 312.5 L285.3 313.5 L285.5 314.0 L285.7 314.5 L285.9 315.5 L286.5 316.5 L286.5 316.5 L287.3 317.5 L287.1 318.5 L286.9 319.5 L286.6 320.5 L287.0 321.5 L286.8 322.5 L286.5 322.9 L285.8 323.5 L285.5 323.9 L285.1 324.5 L285.0 325.5 L284.5 326.3 L284.4 326.5 L284.1 327.5 L283.7 328.5 L283.9 329.5 L283.5 329.6 L282.5 329.7 L281.5 329.7 L281.1 329.5 L280.5 329.0 L279.5 329.1 L278.5 329.4 L277.5 329.4 L277.4 329.5 L276.5 329.8 L275.5 330.2 L274.5 330.5 L274.4 330.5 L273.5 330.6 L272.5 330.6 L271.5 330.9 L270.5 331.1 L269.7 331.5 L269.5 331.7 L268.7 332.5 L268.5 332.6 L267.5 333.5 L268.2 334.5 L268.5 335.0 L268.7 335.5 L268.5 336.4 L267.5 336.4 L266.5 336.4 L266.2 336.5 L265.8 337.5 L266.5 338.1 L267.5 337.9 L268.0 337.5 L268.5 336.6 L268.9 337.5 L269.5 338.2 L269.6 338.5 L269.5 338.6 L268.5 339.0 L267.5 339.2 L267.1 339.5 L266.5 339.6 L265.5 339.6 L265.2 339.5 L264.5 338.5 L264.5 338.5 L263.8 337.5 L263.5 337.2 L262.5 336.7 L262.0 337.5 L261.5 338.0 L261.2 337.5 L260.5 336.7 L260.2 336.5 L259.5 335.6 L259.5 335.5 L258.5 334.7 L257.5 335.1 L257.0 335.5 L256.5 335.8 L255.5 336.5 L255.5 336.5 L255.1 337.5 L255.1 338.5 L254.7 339.5 L254.5 340.1 L254.2 340.5 L253.5 341.0 L252.9 340.5 L252.5 340.4 L252.2 340.5 L251.5 340.9 L250.8 341.5 L250.5 341.7 L249.6 342.5 L250.0 343.5 L249.5 344.2 L249.3 344.5 L248.9 345.5 L248.5 345.9 L247.5 346.3 L246.9 346.5 L246.5 346.6 L246.1 346.5 L245.5 346.2 L244.5 345.9 L243.5 346.3 L243.0 346.5 L242.5 347.4 L242.3 347.5 L241.5 348.4 L241.5 348.5 L240.5 349.0 L239.5 349.0 L238.8 348.5 L238.5 348.1 L237.5 347.8 L237.0 348.5 L236.5 349.3 L236.0 349.5 L235.5 349.7 L234.5 350.4 L234.4 350.5 L234.2 351.5 L234.0 352.5 L234.1 353.5 L233.9 354.5 L233.5 355.5 L233.5 355.5 L232.9 356.5 L232.5 356.8 L231.5 357.1 L230.5 356.7 L229.5 356.7 L228.6 357.5 L228.5 357.6 L227.5 357.8 L226.5 358.1 L225.9 358.5 L225.5 359.2 L225.2 359.5 L224.5 359.9 L223.5 359.7 L222.9 359.5 L222.5 358.5 L222.5 358.5 L222.3 357.5 L221.5 356.7 L220.5 357.2 L219.5 356.5 L219.5 356.5 L218.5 355.5 L218.5 355.5 L217.5 354.5 L216.6 354.5 L216.5 354.4 L215.5 353.7 L215.2 353.5 L214.5 352.8 L214.4 352.5 L214.2 351.5 L213.5 351.0 L212.5 350.8 L211.5 350.8 L210.5 350.9 L210.5 350.5 L210.4 349.5 L210.5 349.4 L211.4 348.5 L210.5 347.6 L209.5 347.6 L208.5 347.6 L208.4 347.5 L207.7 346.5 L208.4 345.5 L208.5 345.3 L209.1 344.5 L209.5 343.9 L209.7 343.5 L209.8 342.5 L210.1 341.5 L210.5 340.9 L210.9 340.5 L211.5 339.6 L211.6 339.5 L212.5 338.7 L213.5 338.8 L214.5 339.0 L215.5 339.0 L216.5 338.7 L216.8 338.5 L217.3 337.5 L217.5 337.0 L217.7 336.5 L217.5 336.3 L216.6 335.5 L217.5 335.0 L218.5 335.1 L219.1 334.5 L219.5 334.1 L220.5 333.7 L220.9 333.5 L221.5 332.5 L221.5 332.5 L221.9 331.5 L222.2 330.5 L222.5 329.5 L222.5 329.5 L222.5 329.4 L222.4 328.5 L222.5 327.5 L222.5 327.5 L223.2 326.5 L223.0 325.5 L222.5 325.1 L221.5 325.3 L221.3 325.5 L220.5 326.0 L219.5 325.8 L218.5 325.6 L217.5 325.8 L217.3 325.5 L216.5 324.8 L216.2 324.5 L215.5 324.0 L214.8 323.5 L215.1 322.5 L215.5 322.2 L216.5 321.8 L217.5 321.5 L217.5 321.5 L217.5 321.2 L216.8 320.5 L216.5 320.4 L216.0 319.5 L216.5 318.9 L216.7 318.5 L216.5 317.5 L216.5 317.3 L216.3 316.5 L216.1 315.5 L215.7 314.5 L215.5 314.1 L215.3 313.5 L215.5 313.0 L215.6 312.5 L216.0 311.5 L216.4 310.5 L216.5 310.4 L217.3 309.5 L217.5 309.4 L218.5 309.1 L219.5 308.7 L220.5 308.8 L221.5 308.9 L222.5 308.5 L222.5 308.5 L223.5 308.0 L224.5 307.6 L224.7 307.5 L225.4 306.5 L225.5 306.4 L226.5 305.6 L226.8 305.5 L227.5 305.2 L228.5 304.6 L228.7 304.5 L229.5 303.7 L229.8 303.5 L230.3 302.5 L230.5 302.3 L231.5 301.5 L231.5 301.5 L232.1 300.5 L232.5 300.1 L233.5 299.9 L234.5 299.6 L234.6 299.5 L235.5 298.7 L235.7 298.5 L235.8 297.5 L236.5 297.2 L237.5 297.1 L238.4 296.5 L238.5 295.9 L238.6 296.5 L239.5 296.8 L240.0 296.5 L240.3 295.5 L239.9 294.5 L240.5 293.6 L241.5 294.3 L242.0 294.5 L242.5 294.6 L242.9 294.5 L243.4 293.5 L243.1 292.5 L243.1 291.5 L242.5 291.0 L241.5 290.5 L241.5 290.5 L241.0 289.5 L241.2 288.5 L240.7 287.5 L241.3 286.5ZM242.0 297.5 L242.5 298.5 L242.5 299.5 L241.8 300.5 L242.1 301.5 L242.2 302.5 L242.5 303.0 L243.5 303.2 L244.3 303.5 L244.5 303.6 L245.5 303.8 L246.1 303.5 L245.5 302.5 L245.5 302.5 L244.9 301.5 L244.9 300.5 L244.7 299.5 L244.5 299.3 L243.5 298.5 L243.4 298.5 L243.1 297.5 L242.5 297.1ZM242.8 331.5 L242.8 332.5 L243.5 333.5 L243.6 333.5 L244.5 334.5 L244.5 334.5 L245.5 335.1 L245.5 335.5 L246.2 336.5 L246.5 336.9 L247.5 337.0 L247.8 336.5 L248.5 336.5 L249.5 335.5 L249.5 335.5 L250.5 334.5 L249.5 333.5 L248.5 333.5 L248.5 333.5 L247.5 332.5 L246.5 333.5 L246.5 333.5 L245.5 334.0 L245.1 333.5 L245.3 332.5 L244.8 331.5 L244.5 331.2 L243.5 331.1ZM247.6 341.5 L248.5 342.2 L249.2 341.5 L248.5 341.1ZM242.5 342.5 L242.5 342.6 L243.5 342.5 L243.5 342.5 L243.5 342.4 L242.5 342.4ZM245.5 344.5 L245.5 344.6 L245.7 344.5 L245.5 344.4ZM238.5 294.3 L238.8 294.5 L238.5 295.4 L238.2 294.5ZM289.5 320.5 L289.5 320.5 L289.5 320.5 L289.5 320.5ZM264.5 361.1 L265.5 360.8 L266.5 361.5 L266.5 361.5 L267.5 362.5 L267.8 362.5 L267.5 362.9 L267.3 363.5 L266.8 364.5 L266.5 364.7 L265.5 365.0 L264.5 364.7 L264.5 364.5 L264.5 363.5 L264.5 362.5 L264.5 361.5ZM269.5 361.5 L269.8 361.5 L269.5 361.8 L269.5 361.5Z"/>
<path fill="#ff9b0e" fill-rule="evenodd" d="M297.5 263.5 L297.8 264.5 L297.5 265.3 L297.2 264.5ZM298.5 265.4 L299.5 264.9 L300.5 264.7 L301.5 264.9 L302.5 265.3 L303.5 265.5 L304.0 265.5 L304.5 265.6 L305.4 266.5 L305.5 266.6 L306.4 267.5 L306.5 268.1 L306.7 268.5 L307.5 268.7 L308.5 269.2 L309.0 269.5 L309.5 270.0 L309.9 270.5 L309.5 271.5 L309.5 271.6 L309.2 272.5 L309.4 273.5 L308.8 274.5 L308.5 274.7 L307.5 274.8 L306.5 275.0 L306.0 275.5 L306.0 276.5 L306.0 277.5 L305.9 278.5 L306.3 279.5 L306.5 280.2 L306.6 280.5 L306.6 281.5 L306.5 281.8 L305.9 282.5 L305.5 282.8 L305.0 283.5 L304.5 284.0 L304.1 284.5 L303.6 285.5 L303.5 285.9 L302.5 285.8 L301.5 286.1 L301.3 285.5 L300.5 285.0 L299.6 284.5 L299.5 284.5 L299.1 284.5 L298.5 284.5 L297.5 284.6 L296.5 284.5 L296.4 284.5 L295.5 283.6 L295.5 283.5 L295.1 282.5 L294.5 282.0 L293.5 281.8 L292.5 282.1 L291.8 282.5 L291.5 283.1 L291.4 283.5 L291.5 284.0 L291.6 284.5 L292.2 285.5 L291.5 285.8 L290.5 285.7 L289.5 286.1 L289.3 286.5 L288.5 287.0 L287.5 287.2 L286.5 287.2 L285.5 286.8 L285.2 286.5 L284.7 285.5 L284.5 285.3 L283.6 284.5 L283.9 283.5 L284.3 282.5 L284.5 281.5 L284.5 281.3 L284.6 280.5 L284.8 279.5 L285.5 279.0 L285.8 278.5 L286.5 277.5 L286.5 277.5 L286.5 277.3 L286.4 276.5 L286.5 275.9 L286.9 275.5 L287.4 274.5 L287.0 273.5 L286.5 272.9 L286.2 272.5 L286.5 272.1 L287.5 272.1 L288.5 272.3 L289.0 271.5 L289.5 270.5 L289.5 270.5 L290.5 269.7 L290.7 269.5 L291.5 269.2 L292.5 269.0 L293.3 268.5 L293.5 268.4 L294.1 267.5 L294.5 266.6 L294.8 266.5 L295.5 266.3 L296.5 266.0 L297.5 265.6 L298.0 265.5ZM293.5 286.4 L293.5 286.5 L293.5 286.6 L293.3 286.5ZM168.5 287.4 L169.1 287.5 L169.5 287.6 L170.5 287.6 L171.5 288.5 L171.6 288.5 L172.5 288.7 L173.4 288.5 L173.5 288.5 L173.5 288.5 L174.5 289.4 L174.6 289.5 L175.2 290.5 L175.5 290.9 L176.0 291.5 L176.1 292.5 L176.5 293.2 L176.7 293.5 L177.2 294.5 L176.5 295.0 L175.5 294.8 L174.5 295.0 L173.7 295.5 L173.5 295.7 L172.5 296.5 L172.5 296.5 L171.8 297.5 L172.5 298.1 L172.7 298.5 L172.8 299.5 L172.5 300.3 L171.5 300.0 L170.5 299.9 L170.0 300.5 L169.5 301.4 L169.5 301.5 L168.5 301.5 L167.5 301.6 L167.4 301.5 L166.5 300.6 L166.4 300.5 L166.4 299.5 L165.5 298.6 L165.4 298.5 L165.4 297.5 L164.5 296.6 L164.4 296.5 L163.5 295.6 L162.5 295.5 L161.5 295.6 L161.4 295.5 L160.5 294.6 L160.4 294.5 L160.4 293.5 L160.5 292.5 L160.5 291.5 L160.5 291.0 L161.5 291.0 L162.5 290.8 L163.0 290.5 L163.5 290.2 L164.5 289.7 L164.9 289.5 L165.5 289.3 L166.5 288.6 L167.2 288.5 L167.5 288.3 L168.2 287.5ZM239.5 298.3 L240.5 298.4 L240.6 298.5 L240.9 299.5 L240.5 300.4 L240.5 300.5 L240.5 300.6 L240.8 301.5 L240.9 302.5 L240.8 303.5 L240.5 304.3 L240.4 304.5 L240.5 305.5 L240.5 305.5 L241.5 306.3 L241.8 306.5 L242.5 307.4 L243.5 306.6 L243.6 306.5 L244.5 305.7 L244.6 305.5 L245.5 305.1 L246.5 304.6 L246.6 304.5 L247.5 303.8 L248.2 303.5 L248.5 303.1 L249.1 302.5 L248.5 301.5 L248.5 301.5 L248.2 300.5 L248.5 299.9 L249.5 299.7 L250.5 300.4 L250.7 300.5 L251.2 301.5 L250.8 302.5 L251.2 303.5 L251.5 303.7 L252.5 304.4 L252.6 304.5 L253.5 305.0 L254.4 305.5 L254.5 305.6 L255.0 306.5 L255.4 307.5 L255.5 307.7 L256.0 308.5 L255.6 309.5 L255.8 310.5 L256.0 311.5 L256.5 312.4 L256.6 312.5 L257.5 313.2 L257.8 313.5 L258.5 314.2 L258.8 314.5 L259.2 315.5 L259.0 316.5 L258.9 317.5 L258.6 318.5 L258.5 318.6 L257.6 319.5 L257.5 319.7 L256.5 320.1 L256.0 320.5 L255.5 320.9 L254.5 320.9 L253.5 320.9 L252.5 321.2 L252.1 321.5 L251.8 322.5 L252.2 323.5 L251.5 323.9 L250.9 323.5 L250.5 323.3 L250.2 323.5 L249.9 324.5 L249.5 325.2 L248.6 325.5 L248.5 325.5 L248.1 325.5 L247.5 325.4 L246.5 325.3 L245.5 325.3 L244.5 325.1 L243.5 325.2 L242.9 325.5 L242.6 326.5 L242.7 327.5 L242.5 327.7 L241.5 327.9 L240.9 327.5 L241.0 326.5 L241.5 325.5 L241.5 325.5 L241.5 325.5 L240.5 325.5 L240.4 325.5 L239.5 326.4 L238.5 326.5 L237.5 326.2 L236.5 325.9 L236.0 325.5 L236.5 324.7 L236.7 324.5 L237.5 323.7 L237.6 323.5 L237.5 323.0 L237.0 322.5 L236.5 322.3 L236.3 322.5 L235.5 323.0 L234.6 323.5 L234.8 324.5 L234.5 324.8 L233.7 325.5 L233.5 325.6 L232.5 325.9 L232.0 325.5 L231.7 324.5 L232.5 323.8 L233.5 323.8 L234.3 323.5 L234.2 322.5 L234.5 321.5 L234.5 321.5 L235.5 320.9 L236.5 320.5 L236.5 320.5 L237.5 319.7 L237.7 319.5 L237.9 318.5 L237.7 317.5 L237.5 317.1 L237.3 316.5 L237.1 315.5 L236.5 314.5 L235.5 314.9 L235.2 315.5 L235.0 316.5 L235.1 317.5 L235.5 318.5 L234.6 319.5 L234.5 319.6 L234.3 319.5 L233.5 319.3 L233.2 319.5 L232.5 320.1 L232.0 320.5 L231.5 320.9 L230.5 321.3 L230.2 321.5 L229.9 322.5 L229.9 323.5 L230.1 324.5 L230.0 325.5 L230.0 326.5 L230.5 327.4 L230.6 327.5 L231.5 328.0 L232.2 328.5 L232.5 328.7 L233.5 328.8 L234.5 328.8 L235.5 329.0 L236.2 329.5 L236.5 329.7 L237.5 329.8 L238.3 329.5 L238.5 329.3 L239.5 329.3 L239.5 329.5 L240.0 330.5 L240.2 331.5 L240.5 331.9 L241.2 332.5 L241.2 333.5 L241.0 334.5 L240.9 335.5 L240.8 336.5 L240.5 337.5 L241.5 338.0 L242.5 338.4 L243.5 338.3 L243.9 338.5 L243.5 338.7 L242.5 339.1 L242.3 339.5 L241.5 340.0 L241.0 340.5 L240.5 341.4 L239.5 341.1 L238.5 340.7 L238.2 340.5 L237.5 340.1 L236.6 340.5 L236.8 341.5 L237.5 342.1 L238.5 342.4 L239.5 342.4 L240.5 341.6 L241.1 342.5 L241.5 343.5 L241.5 343.5 L241.5 343.7 L240.5 344.5 L240.5 344.5 L239.5 345.5 L239.5 345.5 L239.4 345.5 L238.5 345.2 L237.5 344.8 L236.5 344.6 L236.0 345.5 L236.4 346.5 L235.8 347.5 L235.5 347.6 L234.5 347.7 L234.0 348.5 L233.7 349.5 L233.5 349.9 L233.1 350.5 L232.5 351.3 L232.4 351.5 L232.4 352.5 L232.2 353.5 L231.9 354.5 L231.5 355.0 L230.5 355.0 L229.5 355.1 L229.1 355.5 L228.6 356.5 L228.5 356.6 L227.5 356.9 L226.5 356.9 L225.5 357.0 L224.5 357.0 L223.7 356.5 L223.5 356.5 L222.5 355.9 L221.7 355.5 L221.5 355.4 L220.5 355.5 L220.5 355.5 L219.5 356.0 L218.5 355.5 L218.5 355.5 L218.2 354.5 L217.5 353.5 L217.5 353.5 L217.3 352.5 L216.5 352.0 L215.6 351.5 L215.5 351.5 L214.7 350.5 L214.5 350.3 L213.5 349.9 L212.5 349.7 L211.5 349.7 L210.5 350.1 L210.5 349.5 L210.5 349.5 L211.5 348.5 L210.5 347.6 L209.5 347.6 L208.5 347.5 L208.5 347.5 L208.3 346.5 L208.5 346.2 L209.0 345.5 L209.5 344.9 L209.8 344.5 L210.2 343.5 L210.4 342.5 L210.5 342.2 L210.9 341.5 L211.5 340.8 L211.8 340.5 L212.5 339.9 L213.5 339.8 L214.5 340.3 L215.5 340.2 L216.5 340.0 L217.5 339.5 L217.6 339.5 L218.4 338.5 L218.5 338.4 L219.5 337.8 L220.5 337.6 L221.5 337.6 L222.5 337.7 L222.7 337.5 L222.5 337.4 L221.5 337.3 L220.9 336.5 L221.3 335.5 L221.5 335.4 L222.5 334.8 L222.9 334.5 L223.5 333.6 L223.6 333.5 L223.9 332.5 L223.5 331.6 L223.5 331.5 L223.4 330.5 L223.5 329.6 L223.5 329.5 L223.5 329.4 L223.5 328.5 L223.5 328.3 L223.9 327.5 L224.5 326.8 L224.6 326.5 L224.6 325.5 L224.5 325.3 L224.1 324.5 L223.8 323.5 L223.5 322.5 L223.5 322.5 L223.0 321.5 L222.5 321.4 L221.5 321.0 L220.9 321.5 L220.5 321.8 L219.6 322.5 L219.5 323.0 L219.1 322.5 L219.5 321.5 L219.5 321.4 L220.3 320.5 L220.0 319.5 L219.5 319.2 L218.6 318.5 L218.5 318.3 L218.1 317.5 L217.9 316.5 L218.1 315.5 L217.6 314.5 L217.5 314.4 L216.5 313.6 L216.4 313.5 L216.4 312.5 L216.5 312.3 L216.9 311.5 L217.4 310.5 L217.5 310.4 L218.5 310.0 L219.5 309.7 L220.5 309.9 L221.5 310.3 L221.9 310.5 L222.5 310.7 L222.7 310.5 L223.1 309.5 L223.5 309.1 L224.5 308.8 L224.9 308.5 L225.5 308.0 L225.9 307.5 L226.5 306.9 L227.1 306.5 L227.5 306.3 L228.5 305.9 L228.9 305.5 L229.5 305.1 L230.3 304.5 L230.5 304.4 L231.5 304.1 L232.5 303.9 L233.5 304.0 L234.5 303.5 L234.5 303.5 L235.5 302.5 L235.5 302.2 L235.6 301.5 L235.6 300.5 L236.5 299.8 L237.1 299.5 L237.5 299.3 L238.5 298.9 L239.2 298.5ZM226.2 340.5 L226.1 341.5 L226.5 342.3 L226.7 342.5 L227.5 342.9 L228.5 343.5 L229.1 342.5 L228.6 341.5 L228.5 341.4 L227.6 340.5 L227.5 340.2 L226.5 340.1ZM283.5 303.2 L284.5 302.9 L284.7 303.5 L284.5 304.3 L284.2 304.5 L283.5 304.7 L283.3 304.5 L283.4 303.5ZM282.5 313.4 L282.7 313.5 L283.5 314.0 L283.8 314.5 L283.9 315.5 L283.7 316.5 L284.5 317.5 L284.6 317.5 L285.1 318.5 L285.1 319.5 L284.9 320.5 L285.5 321.5 L285.5 321.5 L285.5 321.6 L285.4 322.5 L284.5 323.2 L284.0 323.5 L283.5 324.1 L283.2 324.5 L283.3 325.5 L283.1 326.5 L282.5 327.1 L281.5 327.0 L280.5 326.5 L279.5 327.3 L279.1 327.5 L278.5 327.7 L278.1 327.5 L277.9 326.5 L277.5 325.7 L276.6 326.5 L276.5 326.9 L276.4 327.5 L275.5 328.1 L274.5 328.5 L274.4 328.5 L273.5 329.2 L272.5 329.4 L272.0 329.5 L271.5 329.6 L271.3 329.5 L270.9 328.5 L271.2 327.5 L271.2 326.5 L271.1 325.5 L270.7 324.5 L270.7 323.5 L271.2 322.5 L271.5 321.9 L271.8 321.5 L272.3 320.5 L272.5 320.3 L273.5 320.1 L274.5 319.7 L275.4 319.5 L275.5 319.5 L276.5 319.1 L277.0 318.5 L277.5 318.0 L278.5 317.5 L278.5 317.5 L279.4 316.5 L279.5 316.2 L279.6 315.5 L280.5 314.6 L280.6 314.5 L281.5 313.7 L282.3 313.5ZM218.5 323.1 L219.0 323.5 L218.5 323.7 L218.4 323.5ZM255.5 322.9 L256.3 323.5 L256.5 323.8 L257.0 324.5 L257.3 325.5 L257.5 326.0 L257.8 326.5 L258.5 327.1 L259.5 326.5 L259.6 326.5 L260.5 326.3 L261.5 326.5 L262.5 326.2 L263.5 326.3 L263.6 326.5 L263.8 327.5 L263.9 328.5 L263.9 329.5 L264.1 330.5 L264.5 331.2 L264.8 331.5 L264.9 332.5 L264.7 333.5 L264.5 333.6 L264.3 333.5 L264.0 332.5 L263.5 332.3 L262.5 332.0 L261.5 331.9 L260.5 332.0 L259.5 332.5 L259.5 332.5 L259.4 332.5 L259.0 331.5 L258.5 331.0 L257.5 330.9 L256.5 331.2 L256.1 331.5 L255.5 332.0 L254.9 332.5 L255.1 333.5 L255.1 334.5 L255.0 335.5 L254.6 336.5 L254.5 336.7 L254.1 337.5 L253.6 338.5 L253.5 338.7 L252.5 339.2 L251.5 339.3 L250.5 339.4 L249.5 339.5 L248.5 339.0 L248.1 338.5 L248.4 337.5 L248.5 337.4 L249.4 336.5 L249.5 336.4 L250.1 335.5 L250.5 334.5 L250.4 333.5 L249.8 332.5 L249.5 331.5 L249.5 331.5 L249.5 331.4 L250.1 330.5 L250.5 330.2 L251.5 329.9 L252.5 329.7 L253.1 329.5 L253.5 329.0 L254.5 328.7 L254.8 328.5 L254.6 327.5 L254.5 327.3 L254.1 326.5 L254.5 325.8 L254.6 325.5 L254.9 324.5 L254.7 323.5ZM244.5 328.3 L245.5 328.2 L246.5 328.5 L247.5 328.5 L247.6 328.5 L247.5 328.7 L247.2 329.5 L246.5 329.9 L245.5 330.2 L244.5 329.7 L244.0 329.5 L244.1 328.5Z"/>
<path fill="#ff130b" fill-rule="evenodd" d="M299.5 266.2 L300.5 266.1 L301.5 266.4 L302.0 266.5 L302.5 266.8 L303.2 267.5 L303.5 267.9 L303.8 268.5 L304.2 269.5 L304.5 270.1 L304.8 270.5 L305.5 271.0 L306.5 271.2 L307.1 271.5 L307.5 272.0 L307.8 272.5 L307.9 273.5 L307.5 273.7 L306.5 273.7 L305.5 273.9 L304.9 274.5 L304.8 275.5 L305.0 276.5 L305.0 277.5 L304.7 278.5 L305.1 279.5 L304.7 280.5 L304.5 280.6 L303.5 281.0 L303.2 281.5 L303.3 282.5 L303.0 283.5 L302.5 284.0 L301.5 284.3 L300.5 283.7 L300.1 283.5 L299.5 283.1 L298.5 283.3 L297.5 283.3 L296.5 282.7 L296.4 282.5 L295.5 281.7 L295.3 281.5 L294.5 280.8 L293.5 280.5 L293.5 280.5 L293.4 280.5 L292.5 280.7 L291.5 280.8 L291.2 280.5 L290.6 279.5 L290.5 279.4 L289.6 278.5 L289.5 278.2 L289.3 278.5 L288.8 279.5 L289.1 280.5 L288.5 281.5 L288.5 281.5 L288.3 282.5 L287.6 283.5 L287.5 283.6 L286.5 283.9 L285.5 283.7 L285.4 283.5 L285.3 282.5 L285.5 281.8 L285.7 281.5 L286.4 280.5 L286.5 280.4 L287.5 280.4 L288.2 279.5 L287.9 278.5 L288.5 278.0 L289.1 277.5 L289.2 276.5 L289.4 275.5 L289.5 275.4 L290.3 274.5 L290.5 274.1 L291.5 273.5 L291.6 273.5 L291.5 273.2 L291.2 272.5 L291.5 272.4 L292.0 272.5 L292.5 272.8 L292.6 272.5 L293.1 271.5 L293.5 271.1 L294.5 270.9 L294.8 270.5 L295.4 269.5 L295.5 268.5 L295.5 268.5 L296.5 268.3 L297.5 268.2 L298.1 267.5 L298.5 267.1 L299.1 266.5ZM165.5 290.2 L166.5 289.8 L167.5 289.6 L168.5 289.7 L169.5 289.7 L170.5 290.4 L171.5 290.5 L172.5 290.4 L173.0 290.5 L173.5 291.5 L173.1 292.5 L172.6 293.5 L172.5 293.8 L172.4 294.5 L171.5 295.4 L171.4 295.5 L170.6 296.5 L170.5 297.1 L170.4 297.5 L169.6 298.5 L169.5 298.8 L169.3 299.5 L168.9 300.5 L168.6 301.5 L168.5 301.5 L167.5 301.5 L167.5 301.5 L166.5 300.6 L166.4 300.5 L166.5 299.5 L165.5 298.5 L165.5 298.5 L165.5 297.5 L164.5 296.5 L164.5 296.5 L163.5 295.5 L162.5 295.5 L161.5 295.5 L161.5 295.5 L160.5 294.5 L160.5 294.5 L160.5 293.5 L160.5 292.5 L160.5 292.0 L161.5 292.0 L162.5 292.1 L163.1 291.5 L163.5 291.3 L164.5 290.7 L164.8 290.5ZM237.5 301.2 L238.5 301.3 L239.0 301.5 L239.5 301.8 L239.8 302.5 L239.7 303.5 L239.5 304.0 L239.3 304.5 L238.6 305.5 L238.5 305.8 L238.0 306.5 L238.5 307.2 L238.9 307.5 L239.1 308.5 L238.6 309.5 L239.5 310.0 L240.5 310.0 L241.1 309.5 L241.5 309.1 L242.5 309.2 L243.5 309.2 L244.2 308.5 L244.5 308.0 L244.7 307.5 L245.3 306.5 L245.5 306.3 L246.5 305.5 L246.6 305.5 L247.5 305.0 L248.5 304.7 L249.0 304.5 L249.5 304.3 L249.8 304.5 L250.5 304.8 L251.5 305.3 L251.7 305.5 L252.4 306.5 L252.5 306.9 L253.5 306.8 L254.5 307.4 L254.5 307.5 L254.6 308.5 L254.5 308.7 L253.6 309.5 L253.5 309.7 L253.0 310.5 L253.5 311.5 L253.5 311.5 L254.5 311.7 L254.6 312.5 L254.5 312.8 L253.5 313.1 L253.2 313.5 L252.5 314.3 L252.4 314.5 L252.3 315.5 L252.4 316.5 L252.3 317.5 L251.5 318.0 L250.9 318.5 L250.8 319.5 L250.7 320.5 L250.5 320.7 L249.5 321.2 L248.5 321.3 L248.1 321.5 L247.5 321.8 L247.3 322.5 L247.2 323.5 L246.5 324.2 L245.5 324.2 L244.5 323.8 L244.2 323.5 L243.7 322.5 L243.5 322.3 L242.5 321.9 L242.0 321.5 L241.5 320.5 L241.8 319.5 L242.1 318.5 L241.5 317.6 L241.4 317.5 L241.4 316.5 L240.5 315.9 L240.0 315.5 L239.5 314.8 L238.5 314.5 L238.5 314.5 L237.5 313.8 L236.7 313.5 L236.5 313.4 L236.1 313.5 L235.5 313.6 L234.5 314.2 L234.2 314.5 L234.0 315.5 L233.8 316.5 L233.5 317.2 L232.6 317.5 L232.5 317.5 L231.5 318.0 L230.5 318.5 L230.5 318.5 L230.4 319.5 L229.5 320.4 L229.2 320.5 L228.5 320.8 L228.1 321.5 L228.3 322.5 L228.5 322.9 L228.8 323.5 L228.9 324.5 L228.5 325.1 L227.5 325.5 L228.1 326.5 L228.1 327.5 L228.5 328.3 L229.5 328.3 L229.8 328.5 L230.5 328.7 L231.5 329.2 L231.9 329.5 L232.5 329.9 L233.5 330.0 L234.5 329.9 L235.5 330.2 L236.4 330.5 L236.5 330.5 L237.5 331.2 L237.8 331.5 L238.3 332.5 L238.5 332.9 L238.8 333.5 L239.5 334.3 L239.6 334.5 L239.8 335.5 L239.5 336.2 L239.2 336.5 L238.5 337.2 L238.3 337.5 L237.5 338.4 L236.5 338.3 L235.5 338.3 L235.2 338.5 L234.8 339.5 L234.7 340.5 L234.6 341.5 L234.6 342.5 L234.5 342.9 L234.2 343.5 L234.2 344.5 L234.5 345.3 L234.6 345.5 L234.5 345.6 L233.9 346.5 L233.5 347.2 L233.4 347.5 L233.0 348.5 L232.7 349.5 L232.5 349.8 L231.9 350.5 L231.5 351.5 L231.5 351.5 L231.1 352.5 L230.5 353.0 L229.5 353.4 L229.2 353.5 L228.5 354.0 L227.5 354.0 L226.5 353.5 L225.5 354.0 L224.7 354.5 L224.5 354.7 L224.3 354.5 L223.5 354.0 L222.5 353.8 L221.9 353.5 L222.0 352.5 L221.5 352.0 L220.5 351.5 L220.5 351.5 L219.5 350.6 L219.4 350.5 L218.5 349.7 L217.5 350.2 L216.8 350.5 L216.5 350.6 L216.3 350.5 L215.5 350.1 L215.0 349.5 L214.5 349.1 L213.5 348.6 L213.3 348.5 L212.5 348.1 L211.5 347.8 L210.5 347.5 L209.5 347.5 L208.5 347.5 L208.5 347.5 L208.5 347.2 L209.0 346.5 L209.5 345.8 L209.8 345.5 L210.5 344.5 L210.5 344.5 L210.8 343.5 L211.1 342.5 L211.5 341.9 L211.9 341.5 L212.5 341.0 L213.5 340.9 L214.5 341.3 L215.5 341.4 L216.5 341.1 L217.3 340.5 L217.5 340.4 L218.5 339.8 L219.1 339.5 L219.5 339.2 L220.5 339.2 L220.8 339.5 L221.4 340.5 L221.5 340.7 L222.3 341.5 L222.5 341.6 L223.5 342.2 L223.6 342.5 L224.5 343.1 L225.1 343.5 L225.5 343.7 L226.5 344.3 L226.7 344.5 L227.5 345.3 L227.8 345.5 L228.5 345.9 L229.3 345.5 L229.5 345.4 L230.0 344.5 L230.5 343.5 L230.5 343.4 L230.5 342.5 L230.5 342.4 L230.4 341.5 L230.3 340.5 L230.0 339.5 L229.5 338.7 L229.2 338.5 L228.5 338.2 L227.5 337.7 L226.5 338.2 L225.5 338.4 L224.8 337.5 L225.3 336.5 L225.1 335.5 L224.9 334.5 L225.5 333.8 L226.3 334.5 L225.9 335.5 L226.5 336.5 L226.5 336.5 L227.5 336.9 L227.7 336.5 L227.9 335.5 L227.5 334.8 L226.8 334.5 L226.8 333.5 L226.6 332.5 L226.5 332.4 L225.5 331.5 L225.5 331.3 L225.4 330.5 L225.5 330.3 L225.8 329.5 L226.1 328.5 L226.1 327.5 L225.9 326.5 L225.5 325.5 L225.5 325.5 L225.2 324.5 L224.9 323.5 L224.8 322.5 L225.2 321.5 L225.0 320.5 L224.5 320.2 L223.5 319.7 L223.1 319.5 L222.5 318.6 L222.4 318.5 L221.5 317.9 L221.1 317.5 L221.1 316.5 L221.0 315.5 L220.5 315.0 L219.5 314.9 L218.8 314.5 L218.5 314.2 L217.9 313.5 L217.5 312.6 L217.5 312.5 L217.5 312.5 L218.4 311.5 L218.5 311.5 L219.5 311.1 L220.5 311.0 L221.5 311.5 L221.6 311.5 L222.5 311.6 L222.8 311.5 L223.5 311.0 L224.1 310.5 L224.5 310.2 L225.5 309.8 L225.8 309.5 L226.5 308.5 L226.5 308.5 L227.1 308.5 L227.5 308.5 L228.5 308.7 L229.5 308.5 L229.5 308.5 L229.5 308.5 L229.3 307.5 L229.5 307.3 L229.9 306.5 L230.5 305.8 L230.9 305.5 L231.5 305.2 L232.5 304.9 L233.5 305.2 L234.5 305.2 L235.1 304.5 L235.5 304.3 L236.5 303.7 L236.6 303.5 L237.0 302.5 L237.2 301.5ZM243.3 310.5 L243.0 311.5 L243.5 312.2 L244.3 311.5 L243.7 310.5 L243.5 310.1ZM228.1 315.5 L228.5 315.9 L228.6 315.5 L228.5 315.4ZM227.0 316.5 L227.5 317.4 L228.0 316.5 L227.5 316.1ZM223.4 349.5 L223.5 349.7 L223.5 349.5 L223.5 349.4ZM222.7 351.5 L223.0 352.5 L223.5 352.9 L224.3 352.5 L224.5 352.4 L225.2 351.5 L224.5 351.1 L223.5 350.7ZM253.5 315.3 L254.5 314.9 L255.5 315.2 L256.2 315.5 L255.6 316.5 L255.5 316.5 L254.6 317.5 L255.0 318.5 L254.6 319.5 L254.5 319.6 L253.5 319.6 L253.4 319.5 L252.8 318.5 L252.9 317.5 L252.9 316.5 L253.1 315.5ZM281.5 317.1 L281.6 317.5 L282.5 318.0 L282.9 318.5 L283.5 319.2 L283.7 319.5 L283.7 320.5 L283.8 321.5 L283.5 321.8 L282.5 322.4 L282.2 322.5 L281.5 323.3 L281.3 323.5 L280.5 324.1 L279.8 324.5 L279.5 324.6 L278.5 324.9 L277.5 324.5 L277.4 324.5 L276.5 324.1 L275.5 323.7 L274.5 323.7 L273.5 323.8 L272.5 324.1 L272.1 323.5 L272.4 322.5 L272.5 322.4 L273.0 321.5 L273.5 321.1 L274.5 320.7 L275.5 320.6 L276.5 320.6 L276.7 320.5 L277.5 320.2 L278.5 320.3 L279.5 320.4 L280.5 319.5 L280.5 319.4 L281.1 318.5 L281.5 317.5ZM260.5 329.0 L261.5 328.6 L262.4 329.5 L261.6 330.5 L261.5 330.5 L261.4 330.5 L260.5 329.9 L260.3 329.5ZM251.5 330.9 L252.5 330.7 L253.1 331.5 L252.5 332.4 L252.2 332.5 L251.5 332.7 L251.2 332.5 L250.7 331.5ZM252.5 335.3 L253.5 335.0 L253.9 335.5 L253.5 336.5 L253.5 336.6 L253.0 337.5 L252.5 338.1 L251.5 338.1 L250.9 337.5 L251.3 336.5 L251.5 336.0 L252.1 335.5ZM220.5 353.3 L221.0 353.5 L220.7 354.5 L220.5 354.5 L220.2 354.5 L220.2 353.5Z"/>
<path fill="#d50ef6" fill-rule="evenodd" d="M299.5 267.9 L299.9 268.5 L300.5 269.3 L301.1 269.5 L301.5 269.6 L302.1 269.5 L302.5 269.4 L302.6 269.5 L303.5 270.0 L303.7 270.5 L303.9 271.5 L303.5 272.2 L303.1 272.5 L302.5 273.0 L301.5 272.9 L300.7 273.5 L301.5 274.5 L301.5 274.5 L301.5 274.5 L301.1 275.5 L301.2 276.5 L301.5 276.8 L302.5 276.7 L303.4 276.5 L303.5 276.5 L303.5 276.5 L303.6 277.5 L303.5 277.8 L303.1 278.5 L303.0 279.5 L302.5 280.4 L302.5 280.5 L302.1 281.5 L301.9 282.5 L301.5 283.0 L300.5 282.6 L300.3 282.5 L299.5 282.0 L298.5 281.9 L297.5 281.8 L296.9 281.5 L296.5 281.3 L295.5 280.6 L295.4 280.5 L294.5 279.6 L294.2 279.5 L293.5 279.0 L292.5 278.6 L292.2 278.5 L291.5 278.0 L291.2 277.5 L291.5 276.6 L292.5 277.3 L293.5 277.2 L293.8 276.5 L294.2 275.5 L294.5 275.2 L295.3 274.5 L295.5 273.8 L296.5 273.6 L296.7 273.5 L297.5 272.7 L298.5 273.0 L299.5 272.9 L300.0 272.5 L299.8 271.5 L299.5 271.1 L298.5 270.7 L297.5 271.2 L296.6 271.5 L296.5 271.5 L296.5 271.5 L296.5 271.0 L296.5 270.5 L297.0 269.5 L297.5 269.2 L298.5 268.5 L298.6 268.5ZM165.5 291.3 L166.5 290.7 L167.5 290.6 L168.5 290.6 L169.5 291.2 L169.8 291.5 L170.1 292.5 L170.3 293.5 L170.5 294.0 L170.7 294.5 L170.5 294.6 L169.5 294.7 L168.5 294.6 L167.5 295.5 L167.5 295.5 L167.1 296.5 L167.2 297.5 L167.5 297.7 L168.1 298.5 L168.5 299.5 L168.2 300.5 L167.9 301.5 L167.5 301.5 L167.5 301.5 L166.5 300.5 L166.5 300.5 L166.5 299.5 L165.5 298.5 L165.5 298.5 L165.5 297.5 L164.5 296.5 L164.5 296.5 L163.5 295.5 L163.2 295.5 L163.5 295.1 L164.2 294.5 L164.5 294.1 L165.5 293.7 L165.6 293.5 L165.6 292.5 L165.5 292.3 L165.1 291.5ZM160.5 293.4 L160.8 293.5 L160.8 294.5 L160.5 294.5 L160.5 294.5 L160.5 293.5ZM249.5 305.4 L249.7 305.5 L250.5 305.9 L251.0 306.5 L250.9 307.5 L251.1 308.5 L251.2 309.5 L251.4 310.5 L250.8 311.5 L250.5 312.2 L250.4 312.5 L250.5 313.1 L250.7 313.5 L250.8 314.5 L250.5 315.0 L249.5 315.3 L248.5 314.8 L247.8 314.5 L247.5 314.1 L246.5 313.5 L246.5 313.5 L245.8 312.5 L245.6 311.5 L245.5 311.3 L245.2 310.5 L244.9 309.5 L245.2 308.5 L245.5 307.6 L245.6 307.5 L246.4 306.5 L246.5 306.4 L247.5 305.9 L248.5 305.7 L249.2 305.5ZM231.5 306.4 L232.5 306.2 L232.9 306.5 L233.5 306.9 L234.5 307.2 L235.5 307.2 L236.5 307.5 L236.5 307.5 L236.7 308.5 L237.0 309.5 L236.9 310.5 L236.5 311.4 L235.6 311.5 L235.5 311.5 L235.3 311.5 L234.5 311.5 L234.5 311.5 L234.2 312.5 L233.9 313.5 L233.5 314.0 L233.1 314.5 L232.8 315.5 L232.6 316.5 L232.5 316.5 L231.5 316.6 L231.2 316.5 L230.7 315.5 L230.5 315.3 L230.0 314.5 L229.5 314.1 L228.9 313.5 L228.7 312.5 L228.8 311.5 L229.5 310.9 L230.2 311.5 L230.5 311.7 L231.5 312.0 L231.9 311.5 L231.7 310.5 L231.9 309.5 L231.9 308.5 L231.9 307.5 L231.5 306.8 L231.4 306.5ZM227.5 310.2 L228.3 310.5 L227.5 311.3 L226.8 310.5ZM240.5 311.3 L241.5 311.0 L241.8 311.5 L241.9 312.5 L242.5 313.5 L242.5 313.5 L243.5 313.7 L243.8 313.5 L244.5 313.2 L245.1 313.5 L245.1 314.5 L244.9 315.5 L244.5 316.1 L243.5 316.5 L243.5 316.5 L243.5 316.5 L243.2 315.5 L242.5 315.0 L241.5 314.9 L241.0 314.5 L240.5 313.8 L240.4 313.5 L240.3 312.5 L240.2 311.5ZM220.5 312.4 L221.2 312.5 L221.5 312.6 L221.8 312.5 L222.5 312.5 L222.8 312.5 L223.4 313.5 L223.5 313.9 L223.7 313.5 L224.5 313.2 L225.5 312.7 L226.4 313.5 L226.5 314.5 L226.5 314.5 L226.5 314.5 L225.8 315.5 L225.5 315.8 L224.5 316.1 L223.8 316.5 L223.5 316.6 L222.7 316.5 L222.5 316.3 L222.4 315.5 L221.8 314.5 L221.5 314.3 L220.5 313.5 L220.5 313.3 L220.2 312.5ZM246.5 315.8 L247.5 316.0 L247.8 316.5 L247.6 317.5 L247.5 317.9 L247.3 318.5 L247.3 319.5 L246.9 320.5 L246.6 321.5 L246.6 322.5 L246.5 323.0 L246.0 323.5 L245.5 323.6 L245.4 323.5 L244.9 322.5 L244.6 321.5 L244.5 321.4 L243.5 320.8 L243.2 320.5 L243.3 319.5 L243.5 319.2 L243.9 318.5 L244.5 317.7 L245.5 317.9 L246.0 317.5 L245.8 316.5ZM249.5 319.3 L249.6 319.5 L249.5 319.8 L249.1 319.5ZM281.5 319.9 L282.5 320.2 L282.6 320.5 L282.5 320.8 L281.8 321.5 L281.5 321.6 L281.1 321.5 L281.2 320.5ZM226.5 321.9 L227.0 322.5 L226.9 323.5 L226.5 323.7 L226.3 323.5 L226.1 322.5ZM276.5 322.4 L277.5 322.3 L277.9 322.5 L277.5 323.0 L276.5 322.6 L276.3 322.5ZM230.5 329.5 L230.5 329.5 L230.5 329.8 L230.4 329.5ZM227.5 330.0 L228.5 330.2 L229.3 330.5 L229.5 330.6 L230.4 331.5 L230.5 331.5 L231.1 331.5 L231.5 331.4 L231.6 331.5 L232.5 332.5 L232.5 332.5 L233.4 333.5 L233.5 334.3 L234.5 334.2 L235.5 333.5 L235.5 333.5 L236.5 332.8 L236.6 333.5 L236.5 333.9 L236.4 334.5 L236.3 335.5 L235.5 335.9 L234.5 336.0 L233.5 335.6 L232.5 335.9 L231.5 336.4 L230.5 336.4 L229.5 335.9 L229.3 335.5 L228.5 334.5 L228.5 334.4 L228.2 333.5 L228.0 332.5 L227.8 331.5 L227.5 330.7 L227.4 330.5ZM237.5 335.4 L237.8 335.5 L237.5 335.6 L237.1 335.5ZM232.5 340.1 L233.5 340.5 L233.5 340.5 L233.6 341.5 L233.5 341.9 L232.5 341.8 L232.1 341.5 L232.0 340.5ZM217.5 341.4 L218.5 341.1 L219.1 341.5 L219.3 342.5 L219.5 342.8 L220.5 343.4 L221.5 343.5 L222.5 343.4 L222.8 343.5 L223.5 343.8 L224.5 344.2 L225.0 344.5 L225.5 344.8 L226.1 345.5 L226.1 346.5 L226.1 347.5 L225.6 348.5 L226.5 348.9 L227.4 348.5 L227.5 348.5 L228.1 347.5 L228.5 347.2 L229.5 346.7 L230.2 346.5 L230.5 346.3 L231.5 345.9 L232.5 345.9 L232.8 346.5 L232.7 347.5 L232.5 348.0 L232.2 348.5 L231.7 349.5 L231.5 349.8 L230.5 350.2 L229.8 350.5 L229.5 350.7 L229.0 351.5 L228.5 352.2 L227.5 352.3 L226.7 351.5 L226.5 351.1 L225.9 350.5 L225.5 350.0 L225.2 349.5 L225.5 348.5 L224.5 347.7 L224.2 347.5 L223.5 346.9 L223.1 346.5 L222.5 345.5 L222.5 345.5 L221.5 345.1 L221.2 345.5 L220.5 346.0 L220.0 346.5 L219.5 347.5 L219.5 347.6 L218.5 348.0 L217.6 347.5 L217.5 347.5 L217.5 347.5 L216.6 348.5 L216.5 348.6 L215.5 348.6 L215.4 348.5 L214.5 347.9 L213.7 347.5 L213.5 347.3 L212.5 346.6 L211.5 346.5 L210.5 346.8 L210.1 346.5 L210.5 346.2 L211.2 345.5 L211.3 344.5 L211.3 343.5 L211.5 343.1 L212.1 342.5 L212.5 342.1 L213.5 342.2 L214.5 342.4 L214.7 342.5 L215.5 343.2 L216.5 343.3 L217.2 342.5 L217.4 341.5Z"/>
<path fill="#d264ed" fill-rule="evenodd" d="M302.5 271.5 L302.5 271.5 L302.5 271.5 L302.5 271.5ZM297.5 275.5 L297.7 275.5 L297.5 276.1 L297.4 275.5ZM300.5 278.1 L301.5 278.5 L301.5 278.5 L301.5 279.5 L301.5 279.6 L301.0 279.5 L300.5 279.4 L299.9 278.5ZM166.5 300.4 L166.6 300.5 L166.5 300.5 L166.5 300.5ZM246.5 307.5 L247.5 307.2 L248.5 307.3 L248.8 307.5 L249.1 308.5 L248.5 309.2 L247.9 309.5 L247.5 309.7 L246.5 309.8 L246.3 309.5 L246.1 308.5 L246.5 307.5ZM233.5 309.1 L234.1 309.5 L233.6 310.5 L233.5 310.6 L233.4 310.5 L233.3 309.5ZM229.5 333.4 L230.5 333.1 L231.5 333.3 L231.7 333.5 L231.5 334.3 L231.3 334.5 L230.5 334.7 L230.0 334.5 L229.5 333.8 L229.4 333.5Z"/>
<rect x="227.5" y="278.6" width="1.5" height="2.0" fill="#00d0ff"/>
<rect x="226.2" y="278.5" width="1.0" height="2.0" fill="#0030ff"/>
<rect x="228.3" y="278.2" width="1.0" height="1.5" fill="#00a0ff"/>
<rect x="226.1" y="276.0" width="1.0" height="2.0" fill="#0060ff"/>
<rect x="227.0" y="277.2" width="1.5" height="2.0" fill="#00a0ff"/>
<rect x="227.5" y="279.0" width="2.0" height="1.5" fill="#0018ff"/>
<rect x="215.6" y="287.5" width="1.0" height="1.0" fill="#0060ff"/>
<rect x="217.1" y="286.9" width="1.0" height="2.0" fill="#00d0ff"/>
<rect x="217.5" y="287.1" width="1.0" height="1.5" fill="#0060ff"/>
<rect x="215.0" y="285.8" width="1.0" height="2.0" fill="#00a0ff"/>
<rect x="215.8" y="286.5" width="1.5" height="1.0" fill="#0040ff"/>
<rect x="215.6" y="286.1" width="2.0" height="2.0" fill="#00d0ff"/>
<rect x="232.0" y="288.4" width="2.0" height="1.5" fill="#0030ff"/>
<rect x="230.4" y="287.2" width="2.0" height="2.0" fill="#0040ff"/>
<rect x="233.5" y="286.4" width="1.5" height="1.5" fill="#0030ff"/>
<rect x="231.6" y="286.3" width="1.0" height="1.0" fill="#0030ff"/>
<rect x="233.3" y="286.5" width="1.5" height="2.0" fill="#0060ff"/>
<rect x="232.4" y="287.6" width="1.5" height="1.5" fill="#00a0ff"/>
<rect x="220.6" y="291.8" width="1.5" height="1.0" fill="#0030ff"/>
<rect x="220.4" y="293.9" width="1.5" height="2.0" fill="#0018ff"/>
<rect x="222.7" y="291.2" width="1.5" height="2.0" fill="#0030ff"/>
<rect x="220.5" y="293.4" width="1.5" height="1.5" fill="#00d0ff"/>
<rect x="223.6" y="292.3" width="1.0" height="1.0" fill="#0040ff"/>
<rect x="223.7" y="292.2" width="1.0" height="1.0" fill="#0018ff"/>
<rect x="228.5" y="292.6" width="1.5" height="1.5" fill="#0030ff"/>
<rect x="226.6" y="291.0" width="1.5" height="2.0" fill="#0030ff"/>
<rect x="228.5" y="291.9" width="2.0" height="1.5" fill="#0060ff"/>
<rect x="228.0" y="290.1" width="1.0" height="2.0" fill="#0060ff"/>
<rect x="225.1" y="290.5" width="1.5" height="2.0" fill="#0030ff"/>
<rect x="226.7" y="292.1" width="1.5" height="1.5" fill="#00d0ff"/>
<rect x="206.4" y="302.4" width="1.0" height="2.0" fill="#00d0ff"/>
<rect x="207.1" y="303.1" width="1.5" height="2.0" fill="#00d0ff"/>
<rect x="205.6" y="303.7" width="1.0" height="1.0" fill="#0040ff"/>
<rect x="208.2" y="300.5" width="2.0" height="2.0" fill="#0060ff"/>
<rect x="208.3" y="300.1" width="2.0" height="1.5" fill="#0060ff"/>
<rect x="207.1" y="302.9" width="2.0" height="1.0" fill="#0018ff"/>
<rect x="210.8" y="301.5" width="1.0" height="1.0" fill="#0060ff"/>
<rect x="213.8" y="302.3" width="1.5" height="2.0" fill="#0060ff"/>
<rect x="211.1" y="303.8" width="1.0" height="1.5" fill="#0018ff"/>
<rect x="212.1" y="302.1" width="2.0" height="2.0" fill="#00d0ff"/>
<rect x="213.0" y="302.3" width="2.0" height="1.5" fill="#00d0ff"/>
<rect x="211.6" y="303.7" width="2.0" height="1.0" fill="#0030ff"/>
<rect x="216.7" y="302.1" width="1.5" height="2.0" fill="#00a0ff"/>
<rect x="218.2" y="302.7" width="1.0" height="1.0" fill="#00a0ff"/>
<rect x="217.5" y="303.9" width="1.0" height="1.0" fill="#0040ff"/>
<rect x="215.8" y="300.2" width="1.5" height="1.5" fill="#0018ff"/>
<rect x="218.7" y="303.4" width="1.5" height="1.0" fill="#00a0ff"/>
<rect x="216.9" y="302.4" width="1.5" height="1.5" fill="#0040ff"/>
<rect x="206.2" y="308.8" width="2.0" height="1.5" fill="#0018ff"/>
<rect x="207.5" y="305.7" width="1.5" height="2.0" fill="#0030ff"/>
<rect x="206.6" y="308.1" width="2.0" height="2.0" fill="#00d0ff"/>
<rect x="205.5" y="308.7" width="2.0" height="2.0" fill="#00a0ff"/>
<rect x="208.5" y="307.1" width="2.0" height="2.0" fill="#0018ff"/>
<rect x="205.1" y="305.1" width="1.0" height="1.0" fill="#0018ff"/>
<rect x="201.0" y="310.8" width="2.0" height="1.5" fill="#0018ff"/>
<rect x="202.4" y="310.7" width="1.0" height="1.0" fill="#00a0ff"/>
<rect x="200.1" y="311.2" width="1.5" height="2.0" fill="#00d0ff"/>
<rect x="203.2" y="312.6" width="1.5" height="1.0" fill="#0040ff"/>
<rect x="200.8" y="312.3" width="1.5" height="1.0" fill="#0018ff"/>
<rect x="203.8" y="313.4" width="2.0" height="1.0" fill="#0030ff"/>
<rect x="201.4" y="316.3" width="1.0" height="1.0" fill="#0018ff"/>
<rect x="203.2" y="316.3" width="1.5" height="1.5" fill="#00d0ff"/>
<rect x="203.2" y="315.5" width="2.0" height="2.0" fill="#00a0ff"/>
<rect x="200.8" y="317.3" width="2.0" height="1.5" fill="#0040ff"/>
<rect x="202.4" y="315.4" width="1.5" height="1.5" fill="#0030ff"/>
<rect x="203.3" y="318.2" width="1.5" height="1.5" fill="#0018ff"/>
<rect x="207.9" y="318.5" width="1.5" height="2.0" fill="#0030ff"/>
<rect x="205.1" y="317.6" width="1.0" height="1.5" fill="#0018ff"/>
<rect x="207.3" y="318.8" width="2.0" height="1.5" fill="#0030ff"/>
<rect x="206.8" y="317.6" width="1.0" height="1.5" fill="#0030ff"/>
<rect x="206.5" y="315.5" width="1.0" height="1.5" fill="#00a0ff"/>
<rect x="206.5" y="316.5" width="2.0" height="1.5" fill="#0040ff"/>
<rect x="165.9" y="266.0" width="1.0" height="1.0" fill="#00ffe0"/>
<rect x="165.3" y="268.0" width="1.5" height="2.0" fill="#00b0ff"/>
<rect x="166.2" y="265.3" width="1.0" height="2.0" fill="#00ffe0"/>
<rect x="165.5" y="265.5" width="1.0" height="1.5" fill="#0030ff"/>
<rect x="168.6" y="266.1" width="2.0" height="1.0" fill="#00e8ff"/>
<rect x="167.5" y="265.7" width="2.0" height="1.0" fill="#0060ff"/>
<rect x="168.5" y="266.5" width="1.0" height="2.0" fill="#0060ff"/>
<rect x="167.9" y="268.1" width="1.0" height="1.5" fill="#00e8ff"/>
<rect x="167.7" y="266.5" width="2.0" height="1.0" fill="#0010e0"/>
<rect x="168.0" y="265.8" width="1.5" height="1.0" fill="#0010e0"/>
<rect x="167.1" y="268.0" width="1.5" height="2.0" fill="#00b0ff"/>
<rect x="170.7" y="268.2" width="1.0" height="1.5" fill="#00b0ff"/>
<rect x="172.9" y="269.0" width="1.5" height="2.0" fill="#00e8ff"/>
<rect x="173.1" y="266.6" width="2.0" height="1.0" fill="#00b0ff"/>
<rect x="170.7" y="268.0" width="1.5" height="2.0" fill="#0010e0"/>
<rect x="171.8" y="266.5" width="2.0" height="1.5" fill="#0060ff"/>
<rect x="170.1" y="268.4" width="1.5" height="1.5" fill="#0030ff"/>
<rect x="172.2" y="267.9" width="1.5" height="2.0" fill="#0060ff"/>
<rect x="173.3" y="268.7" width="1.5" height="1.5" fill="#00e8ff"/>
<rect x="173.0" y="269.0" width="1.0" height="1.0" fill="#0030ff"/>
<rect x="172.9" y="268.3" width="1.5" height="2.0" fill="#0010e0"/>
<rect x="170.4" y="269.0" width="1.0" height="1.0" fill="#0030ff"/>
<rect x="160.7" y="272.3" width="2.0" height="1.5" fill="#00ffe0"/>
<rect x="160.8" y="273.7" width="2.0" height="2.0" fill="#0010e0"/>
<rect x="163.1" y="270.3" width="1.0" height="1.5" fill="#0030ff"/>
<rect x="161.3" y="271.2" width="1.0" height="1.5" fill="#00e8ff"/>
<rect x="161.8" y="270.2" width="2.0" height="2.0" fill="#0010e0"/>
<rect x="163.7" y="271.0" width="2.0" height="1.0" fill="#0060ff"/>
<rect x="160.9" y="270.5" width="1.5" height="1.0" fill="#00ffe0"/>
<rect x="160.5" y="270.7" width="1.5" height="1.5" fill="#00ffe0"/>
<rect x="161.9" y="270.7" width="1.0" height="2.0" fill="#00ffe0"/>
<rect x="162.1" y="271.1" width="1.0" height="2.0" fill="#00b0ff"/>
<rect x="162.5" y="272.1" width="2.0" height="1.5" fill="#00ffe0"/>
<rect x="168.5" y="270.7" width="2.0" height="1.0" fill="#0030ff"/>
<rect x="165.5" y="273.9" width="2.0" height="2.0" fill="#0010e0"/>
<rect x="168.9" y="270.8" width="1.0" height="2.0" fill="#00b0ff"/>
<rect x="167.0" y="273.7" width="2.0" height="1.0" fill="#00e8ff"/>
<rect x="167.4" y="270.3" width="1.0" height="1.5" fill="#0010e0"/>
<rect x="166.9" y="273.5" width="1.0" height="2.0" fill="#00e8ff"/>
<rect x="168.0" y="272.8" width="2.0" height="1.0" fill="#00ffe0"/>
<rect x="167.7" y="272.9" width="1.5" height="1.0" fill="#0010e0"/>
<rect x="168.0" y="270.7" width="1.0" height="1.5" fill="#00ffe0"/>
<rect x="167.4" y="271.3" width="2.0" height="2.0" fill="#00b0ff"/>
<rect x="167.1" y="270.4" width="1.0" height="1.0" fill="#00ffe0"/>
<rect x="172.3" y="273.2" width="1.0" height="1.0" fill="#00b0ff"/>
<rect x="172.8" y="272.6" width="2.0" height="2.0" fill="#00ffe0"/>
<rect x="171.7" y="271.7" width="1.0" height="2.0" fill="#0010e0"/>
<rect x="171.3" y="272.7" width="2.0" height="1.5" fill="#0010e0"/>
<rect x="172.2" y="273.1" width="1.0" height="1.0" fill="#00e8ff"/>
<rect x="170.1" y="273.8" width="2.0" height="2.0" fill="#0060ff"/>
<rect x="171.6" y="272.9" width="1.5" height="1.5" fill="#00ffe0"/>
<rect x="170.3" y="272.3" width="2.0" height="1.5" fill="#00b0ff"/>
<rect x="173.7" y="270.2" width="2.0" height="1.5" fill="#0030ff"/>
<rect x="172.2" y="270.3" width="1.5" height="2.0" fill="#00b0ff"/>
<rect x="170.9" y="270.8" width="1.0" height="2.0" fill="#00b0ff"/>
<rect x="176.8" y="273.0" width="1.0" height="2.0" fill="#00e8ff"/>
<rect x="177.2" y="273.2" width="1.0" height="1.5" fill="#00e8ff"/>
<rect x="178.3" y="272.7" width="1.5" height="1.5" fill="#00b0ff"/>
<rect x="176.6" y="272.2" width="1.0" height="1.5" fill="#0010e0"/>
<rect x="176.5" y="271.9" width="2.0" height="1.0" fill="#00e8ff"/>
<rect x="177.0" y="271.4" width="1.0" height="2.0" fill="#00e8ff"/>
<rect x="178.4" y="273.1" width="1.5" height="2.0" fill="#0060ff"/>
<rect x="177.9" y="270.1" width="2.0" height="1.5" fill="#00ffe0"/>
<rect x="177.3" y="272.2" width="2.0" height="2.0" fill="#00b0ff"/>
<rect x="177.7" y="272.3" width="1.5" height="1.5" fill="#0030ff"/>
<rect x="176.2" y="271.2" width="1.0" height="1.0" fill="#0060ff"/>
<rect x="159.0" y="276.4" width="1.0" height="1.5" fill="#00ffe0"/>
<rect x="157.3" y="278.8" width="1.5" height="1.0" fill="#00ffe0"/>
<rect x="156.5" y="276.1" width="1.0" height="2.0" fill="#0010e0"/>
<rect x="157.7" y="275.3" width="1.5" height="1.0" fill="#00ffe0"/>
<rect x="156.3" y="277.0" width="1.0" height="1.0" fill="#00ffe0"/>
<rect x="158.3" y="278.3" width="1.5" height="1.0" fill="#0060ff"/>
<rect x="158.1" y="276.8" width="2.0" height="1.5" fill="#00b0ff"/>
<rect x="155.8" y="276.3" width="1.5" height="1.5" fill="#00e8ff"/>
<rect x="158.1" y="275.2" width="1.0" height="2.0" fill="#00b0ff"/>
<rect x="156.8" y="275.2" width="2.0" height="1.0" fill="#00e8ff"/>
<rect x="156.0" y="277.6" width="1.5" height="1.5" fill="#0010e0"/>
<rect x="161.0" y="276.9" width="1.5" height="1.0" fill="#00b0ff"/>
<rect x="162.5" y="275.8" width="1.0" height="2.0" fill="#0060ff"/>
<rect x="161.2" y="276.0" width="1.0" height="1.5" fill="#0030ff"/>
<rect x="161.7" y="278.1" width="1.5" height="2.0" fill="#00e8ff"/>
<rect x="160.5" y="276.3" width="1.0" height="2.0" fill="#00e8ff"/>
<rect x="162.0" y="278.7" width="1.0" height="1.5" fill="#00b0ff"/>
<rect x="163.1" y="278.0" width="1.5" height="1.0" fill="#0060ff"/>
<rect x="161.0" y="276.8" width="1.0" height="1.5" fill="#0030ff"/>
<rect x="161.8" y="277.6" width="1.0" height="1.5" fill="#0030ff"/>
<rect x="160.6" y="275.7" width="2.0" height="1.0" fill="#00ffe0"/>
<rect x="160.1" y="275.7" width="2.0" height="1.5" fill="#0030ff"/>
<rect x="166.9" y="275.1" width="1.0" height="1.5" fill="#0030ff"/>
<rect x="166.1" y="278.2" width="1.0" height="1.5" fill="#0010e0"/>
<rect x="167.5" y="276.6" width="2.0" height="1.5" fill="#0060ff"/>
<rect x="165.6" y="278.7" width="2.0" height="1.0" fill="#00ffe0"/>
<rect x="167.7" y="275.2" width="1.0" height="1.5" fill="#00ffe0"/>
<rect x="168.1" y="275.9" width="1.5" height="1.0" fill="#00ffe0"/>
<rect x="168.5" y="275.5" width="1.0" height="1.0" fill="#0010e0"/>
<rect x="168.3" y="278.7" width="1.0" height="2.0" fill="#00ffe0"/>
<rect x="167.4" y="277.7" width="2.0" height="2.0" fill="#0060ff"/>
<rect x="168.8" y="277.4" width="1.5" height="2.0" fill="#0060ff"/>
<rect x="167.1" y="275.1" width="1.5" height="2.0" fill="#0010e0"/>
<rect x="171.7" y="278.4" width="2.0" height="2.0" fill="#00e8ff"/>
<rect x="171.3" y="275.3" width="1.5" height="1.0" fill="#00b0ff"/>
<rect x="171.2" y="276.8" width="1.0" height="1.5" fill="#00ffe0"/>
<rect x="171.1" y="278.6" width="2.0" height="2.0" fill="#0060ff"/>
<rect x="171.6" y="275.0" width="2.0" height="1.0" fill="#00e8ff"/>
<rect x="171.0" y="275.6" width="1.0" height="2.0" fill="#0030ff"/>
<rect x="170.8" y="276.1" width="2.0" height="2.0" fill="#00ffe0"/>
<rect x="171.1" y="277.8" width="1.5" height="1.0" fill="#0010e0"/>
<rect x="170.5" y="277.1" width="2.0" height="1.5" fill="#0030ff"/>
<rect x="172.2" y="278.4" width="1.5" height="1.0" fill="#0010e0"/>
<rect x="173.1" y="277.4" width="1.0" height="2.0" fill="#0010e0"/>
<rect x="177.5" y="276.8" width="2.0" height="2.0" fill="#00ffe0"/>
<rect x="178.0" y="277.5" width="1.0" height="1.0" fill="#00e8ff"/>
<rect x="176.5" y="277.9" width="1.0" height="2.0" fill="#0030ff"/>
<rect x="175.1" y="278.9" width="1.5" height="1.5" fill="#00e8ff"/>
<rect x="175.8" y="277.9" width="1.5" height="1.0" fill="#00ffe0"/>
<rect x="178.4" y="276.8" width="1.5" height="1.5" fill="#0010e0"/>
<rect x="176.2" y="275.3" width="2.0" height="1.0" fill="#00b0ff"/>
<rect x="175.7" y="275.3" width="1.0" height="2.0" fill="#0060ff"/>
<rect x="175.9" y="278.0" width="2.0" height="2.0" fill="#00b0ff"/>
<rect x="177.3" y="277.0" width="1.0" height="1.5" fill="#0030ff"/>
<rect x="175.5" y="278.5" width="2.0" height="1.5" fill="#00e8ff"/>
<rect x="180.3" y="277.4" width="2.0" height="1.5" fill="#00ffe0"/>
<rect x="183.5" y="275.0" width="1.5" height="1.5" fill="#0010e0"/>
<rect x="183.0" y="275.3" width="1.5" height="1.5" fill="#0010e0"/>
<rect x="183.3" y="276.9" width="2.0" height="1.5" fill="#00e8ff"/>
<rect x="181.3" y="275.2" width="2.0" height="2.0" fill="#0060ff"/>
<rect x="180.6" y="275.3" width="1.0" height="1.5" fill="#0010e0"/>
<rect x="182.3" y="277.6" width="2.0" height="2.0" fill="#0010e0"/>
<rect x="182.3" y="278.0" width="2.0" height="1.5" fill="#0030ff"/>
<rect x="182.2" y="275.8" width="2.0" height="1.5" fill="#00b0ff"/>
<rect x="182.0" y="275.7" width="1.5" height="1.5" fill="#00ffe0"/>
<rect x="180.5" y="277.2" width="2.0" height="2.0" fill="#00e8ff"/>
<rect x="161.6" y="281.1" width="2.0" height="1.5" fill="#00e8ff"/>
<rect x="162.7" y="282.2" width="1.5" height="1.0" fill="#0030ff"/>
<rect x="163.3" y="283.7" width="1.5" height="1.0" fill="#0060ff"/>
<rect x="160.7" y="283.4" width="1.0" height="1.0" fill="#00ffe0"/>
<rect x="160.2" y="281.3" width="2.0" height="1.0" fill="#0060ff"/>
<rect x="163.7" y="280.3" width="1.5" height="2.0" fill="#0010e0"/>
<rect x="161.9" y="282.1" width="1.5" height="2.0" fill="#0060ff"/>
<rect x="160.6" y="281.4" width="1.5" height="1.5" fill="#00ffe0"/>
<rect x="163.0" y="280.5" width="1.5" height="2.0" fill="#0010e0"/>
<rect x="163.1" y="280.1" width="1.0" height="1.5" fill="#00ffe0"/>
<rect x="160.6" y="281.8" width="1.5" height="1.5" fill="#0010e0"/>
<rect x="185.7" y="280.6" width="1.5" height="1.0" fill="#0010e0"/>
<rect x="185.2" y="280.9" width="2.0" height="1.0" fill="#00b0ff"/>
<rect x="186.4" y="282.3" width="1.5" height="2.0" fill="#0010e0"/>
<rect x="185.1" y="281.3" width="2.0" height="2.0" fill="#00e8ff"/>
<rect x="186.6" y="283.0" width="1.0" height="2.0" fill="#0060ff"/>
<rect x="188.5" y="283.7" width="1.5" height="1.0" fill="#0030ff"/>
<rect x="186.0" y="280.6" width="2.0" height="2.0" fill="#0060ff"/>
<rect x="187.4" y="283.7" width="2.0" height="1.0" fill="#0060ff"/>
<rect x="186.9" y="280.5" width="2.0" height="1.5" fill="#00ffe0"/>
<rect x="187.8" y="280.5" width="1.0" height="2.0" fill="#00ffe0"/>
<rect x="185.4" y="281.3" width="1.0" height="1.0" fill="#00ffe0"/>
<rect x="318" y="267" width="1.3" height="1.3" fill="#26f20a"/>
<rect x="318" y="268" width="1.3" height="1.3" fill="#26f20a"/>
<rect x="318" y="269" width="1.3" height="1.3" fill="#26f20a"/>
<rect x="318" y="270" width="1.3" height="1.3" fill="#26f20a"/>
<rect x="318" y="271" width="1.3" height="1.3" fill="#26f20a"/>
<rect x="318" y="272" width="1.3" height="1.3" fill="#26f20a"/>
<rect x="318" y="273" width="1.3" height="1.3" fill="#26f20a"/>
<rect x="318" y="276" width="1.3" height="1.3" fill="#26f20a"/>
<rect x="318" y="277" width="1.3" height="1.3" fill="#26f20a"/>
<rect x="318" y="281" width="1.3" height="1.3" fill="#26f20a"/>
<rect x="318" y="282" width="1.3" height="1.3" fill="#26f20a"/>
<rect x="318" y="284" width="1.3" height="1.3" fill="#26f20a"/>
<rect x="318" y="286" width="1.3" height="1.3" fill="#26f20a"/>
<rect x="318" y="288" width="1.3" height="1.3" fill="#26f20a"/>
<rect x="318" y="291" width="1.3" height="1.3" fill="#26f20a"/>
<rect x="318" y="294" width="1.3" height="1.3" fill="#26f20a"/>
<rect x="318" y="296" width="1.3" height="1.3" fill="#26f20a"/>
<rect x="318" y="297" width="1.3" height="1.3" fill="#26f20a"/>
<rect x="318" y="298" width="1.3" height="1.3" fill="#26f20a"/>
<rect x="318" y="299" width="1.3" height="1.3" fill="#26f20a"/>
<rect x="318" y="300" width="1.3" height="1.3" fill="#26f20a"/>
<rect x="318" y="302" width="1.3" height="1.3" fill="#26f20a"/>
<rect x="318" y="303" width="1.3" height="1.3" fill="#26f20a"/>
<rect x="318" y="305" width="1.3" height="1.3" fill="#26f20a"/>
<rect x="319" y="265" width="1.3" height="1.3" fill="#26f20a"/>
<rect x="319" y="266" width="1.3" height="1.3" fill="#26f20a"/>
<rect x="319" y="268" width="1.3" height="1.3" fill="#26f20a"/>
<rect x="319" y="269" width="1.3" height="1.3" fill="#26f20a"/>
<rect x="319" y="270" width="1.3" height="1.3" fill="#26f20a"/>
<rect x="319" y="271" width="1.3" height="1.3" fill="#26f20a"/>
<rect x="319" y="273" width="1.3" height="1.3" fill="#26f20a"/>
<rect x="319" y="275" width="1.3" height="1.3" fill="#26f20a"/>
<rect x="319" y="277" width="1.3" height="1.3" fill="#26f20a"/>
<rect x="319" y="280" width="1.3" height="1.3" fill="#26f20a"/>
<rect x="319" y="284" width="1.3" height="1.3" fill="#26f20a"/>
<rect x="319" y="285" width="1.3" height="1.3" fill="#26f20a"/>
<rect x="319" y="287" width="1.3" height="1.3" fill="#26f20a"/>
<rect x="319" y="290" width="1.3" height="1.3" fill="#26f20a"/>
<rect x="319" y="292" width="1.3" height="1.3" fill="#26f20a"/>
<rect x="319" y="293" width="1.3" height="1.3" fill="#26f20a"/>
<rect x="319" y="295" width="1.3" height="1.3" fill="#26f20a"/>
<rect x="319" y="302" width="1.3" height="1.3" fill="#26f20a"/>
<rect x="319" y="305" width="1.3" height="1.3" fill="#26f20a"/>
<rect x="320" y="265" width="1.3" height="1.3" fill="#26f20a"/>
<rect x="320" y="267" width="1.3" height="1.3" fill="#26f20a"/>
<rect x="320" y="268" width="1.3" height="1.3" fill="#26f20a"/>
<rect x="320" y="269" width="1.3" height="1.3" fill="#26f20a"/>
<rect x="320" y="270" width="1.3" height="1.3" fill="#26f20a"/>
<rect x="320" y="274" width="1.3" height="1.3" fill="#26f20a"/>
<rect x="320" y="276" width="1.3" height="1.3" fill="#26f20a"/>
<rect x="320" y="278" width="1.3" height="1.3" fill="#26f20a"/>
<rect x="320" y="279" width="1.3" height="1.3" fill="#26f20a"/>
<rect x="320" y="280" width="1.3" height="1.3" fill="#26f20a"/>
<rect x="320" y="283" width="1.3" height="1.3" fill="#26f20a"/>
<rect x="320" y="284" width="1.3" height="1.3" fill="#26f20a"/>
<rect x="320" y="285" width="1.3" height="1.3" fill="#26f20a"/>
<rect x="320" y="286" width="1.3" height="1.3" fill="#26f20a"/>
<rect x="320" y="288" width="1.3" height="1.3" fill="#26f20a"/>
<rect x="320" y="290" width="1.3" height="1.3" fill="#26f20a"/>
<rect x="320" y="291" width="1.3" height="1.3" fill="#26f20a"/>
<rect x="320" y="292" width="1.3" height="1.3" fill="#26f20a"/>
<rect x="320" y="293" width="1.3" height="1.3" fill="#26f20a"/>
<rect x="320" y="294" width="1.3" height="1.3" fill="#26f20a"/>
<rect x="320" y="295" width="1.3" height="1.3" fill="#26f20a"/>
<rect x="320" y="298" width="1.3" height="1.3" fill="#26f20a"/>
<rect x="320" y="299" width="1.3" height="1.3" fill="#26f20a"/>
<rect x="320" y="302" width="1.3" height="1.3" fill="#26f20a"/>
<rect x="320" y="304" width="1.3" height="1.3" fill="#26f20a"/>
<rect x="321" y="264" width="1.3" height="1.3" fill="#26f20a"/>
<rect x="321" y="267" width="1.3" height="1.3" fill="#26f20a"/>
<rect x="321" y="268" width="1.3" height="1.3" fill="#26f20a"/>
<rect x="321" y="269" width="1.3" height="1.3" fill="#26f20a"/>
<rect x="321" y="270" width="1.3" height="1.3" fill="#26f20a"/>
<rect x="321" y="271" width="1.3" height="1.3" fill="#26f20a"/>
<rect x="321" y="272" width="1.3" height="1.3" fill="#26f20a"/>
<rect x="321" y="273" width="1.3" height="1.3" fill="#26f20a"/>
<rect x="321" y="276" width="1.3" height="1.3" fill="#26f20a"/>
<rect x="321" y="277" width="1.3" height="1.3" fill="#26f20a"/>
<rect x="321" y="278" width="1.3" height="1.3" fill="#26f20a"/>
<rect x="321" y="282" width="1.3" height="1.3" fill="#26f20a"/>
<rect x="321" y="284" width="1.3" height="1.3" fill="#26f20a"/>
<rect x="321" y="286" width="1.3" height="1.3" fill="#26f20a"/>
<rect x="321" y="288" width="1.3" height="1.3" fill="#26f20a"/>
<rect x="321" y="290" width="1.3" height="1.3" fill="#26f20a"/>
<rect x="321" y="291" width="1.3" height="1.3" fill="#26f20a"/>
<rect x="321" y="292" width="1.3" height="1.3" fill="#26f20a"/>
<rect x="321" y="293" width="1.3" height="1.3" fill="#26f20a"/>
<rect x="321" y="294" width="1.3" height="1.3" fill="#26f20a"/>
<rect x="321" y="295" width="1.3" height="1.3" fill="#26f20a"/>
<rect x="321" y="296" width="1.3" height="1.3" fill="#26f20a"/>
<rect x="321" y="298" width="1.3" height="1.3" fill="#26f20a"/>
<rect x="321" y="300" width="1.3" height="1.3" fill="#26f20a"/>
<rect x="321" y="303" width="1.3" height="1.3" fill="#26f20a"/>
<rect x="321" y="305" width="1.3" height="1.3" fill="#26f20a"/>
<rect x="322" y="264" width="1.3" height="1.3" fill="#26f20a"/>
<rect x="322" y="267" width="1.3" height="1.3" fill="#26f20a"/>
<rect x="322" y="271" width="1.3" height="1.3" fill="#26f20a"/>
<rect x="322" y="272" width="1.3" height="1.3" fill="#26f20a"/>
<rect x="322" y="273" width="1.3" height="1.3" fill="#26f20a"/>
<rect x="322" y="274" width="1.3" height="1.3" fill="#26f20a"/>
<rect x="322" y="275" width="1.3" height="1.3" fill="#26f20a"/>
<rect x="322" y="276" width="1.3" height="1.3" fill="#26f20a"/>
<rect x="322" y="278" width="1.3" height="1.3" fill="#26f20a"/>
<rect x="322" y="280" width="1.3" height="1.3" fill="#26f20a"/>
<rect x="322" y="281" width="1.3" height="1.3" fill="#26f20a"/>
<rect x="322" y="282" width="1.3" height="1.3" fill="#26f20a"/>
<rect x="322" y="284" width="1.3" height="1.3" fill="#26f20a"/>
<rect x="322" y="285" width="1.3" height="1.3" fill="#26f20a"/>
<rect x="322" y="286" width="1.3" height="1.3" fill="#26f20a"/>
<rect x="322" y="287" width="1.3" height="1.3" fill="#26f20a"/>
<rect x="322" y="288" width="1.3" height="1.3" fill="#26f20a"/>
<rect x="322" y="290" width="1.3" height="1.3" fill="#26f20a"/>
<rect x="322" y="292" width="1.3" height="1.3" fill="#26f20a"/>
<rect x="322" y="293" width="1.3" height="1.3" fill="#26f20a"/>
<rect x="322" y="294" width="1.3" height="1.3" fill="#26f20a"/>
<rect x="322" y="295" width="1.3" height="1.3" fill="#26f20a"/>
<rect x="322" y="297" width="1.3" height="1.3" fill="#26f20a"/>
<rect x="322" y="298" width="1.3" height="1.3" fill="#26f20a"/>
<rect x="322" y="299" width="1.3" height="1.3" fill="#26f20a"/>
<rect x="322" y="300" width="1.3" height="1.3" fill="#26f20a"/>
<rect x="322" y="301" width="1.3" height="1.3" fill="#26f20a"/>
<rect x="322" y="302" width="1.3" height="1.3" fill="#26f20a"/>
<rect x="323" y="265" width="1.3" height="1.3" fill="#26f20a"/>
<rect x="323" y="268" width="1.3" height="1.3" fill="#26f20a"/>
<rect x="323" y="270" width="1.3" height="1.3" fill="#26f20a"/>
<rect x="323" y="272" width="1.3" height="1.3" fill="#26f20a"/>
<rect x="323" y="274" width="1.3" height="1.3" fill="#26f20a"/>
<rect x="323" y="275" width="1.3" height="1.3" fill="#26f20a"/>
<rect x="323" y="278" width="1.3" height="1.3" fill="#26f20a"/>
<rect x="323" y="279" width="1.3" height="1.3" fill="#26f20a"/>
<rect x="323" y="281" width="1.3" height="1.3" fill="#26f20a"/>
<rect x="323" y="283" width="1.3" height="1.3" fill="#26f20a"/>
<rect x="323" y="284" width="1.3" height="1.3" fill="#26f20a"/>
<rect x="323" y="285" width="1.3" height="1.3" fill="#26f20a"/>
<rect x="323" y="286" width="1.3" height="1.3" fill="#26f20a"/>
<rect x="323" y="287" width="1.3" height="1.3" fill="#26f20a"/>
<rect x="323" y="288" width="1.3" height="1.3" fill="#26f20a"/>
<rect x="323" y="289" width="1.3" height="1.3" fill="#26f20a"/>
<rect x="323" y="290" width="1.3" height="1.3" fill="#26f20a"/>
<rect x="323" y="291" width="1.3" height="1.3" fill="#26f20a"/>
<rect x="323" y="292" width="1.3" height="1.3" fill="#26f20a"/>
<rect x="323" y="293" width="1.3" height="1.3" fill="#26f20a"/>
<rect x="323" y="295" width="1.3" height="1.3" fill="#26f20a"/>
<rect x="323" y="296" width="1.3" height="1.3" fill="#26f20a"/>
<rect x="323" y="298" width="1.3" height="1.3" fill="#26f20a"/>
<rect x="323" y="299" width="1.3" height="1.3" fill="#26f20a"/>
<rect x="324" y="263" width="1.3" height="1.3" fill="#26f20a"/>
<rect x="324" y="264" width="1.3" height="1.3" fill="#26f20a"/>
<rect x="324" y="267" width="1.3" height="1.3" fill="#26f20a"/>
<rect x="324" y="268" width="1.3" height="1.3" fill="#26f20a"/>
<rect x="324" y="269" width="1.3" height="1.3" fill="#26f20a"/>
<rect x="324" y="272" width="1.3" height="1.3" fill="#26f20a"/>
<rect x="324" y="273" width="1.3" height="1.3" fill="#26f20a"/>
<rect x="324" y="274" width="1.3" height="1.3" fill="#26f20a"/>
<rect x="324" y="275" width="1.3" height="1.3" fill="#26f20a"/>
<rect x="324" y="278" width="1.3" height="1.3" fill="#26f20a"/>
<rect x="324" y="279" width="1.3" height="1.3" fill="#26f20a"/>
<rect x="324" y="280" width="1.3" height="1.3" fill="#26f20a"/>
<rect x="324" y="281" width="1.3" height="1.3" fill="#26f20a"/>
<rect x="324" y="284" width="1.3" height="1.3" fill="#26f20a"/>
<rect x="324" y="285" width="1.3" height="1.3" fill="#26f20a"/>
<rect x="324" y="286" width="1.3" height="1.3" fill="#26f20a"/>
<rect x="324" y="287" width="1.3" height="1.3" fill="#26f20a"/>
<rect x="324" y="289" width="1.3" height="1.3" fill="#26f20a"/>
<rect x="324" y="294" width="1.3" height="1.3" fill="#26f20a"/>
<rect x="324" y="295" width="1.3" height="1.3" fill="#26f20a"/>
<rect x="324" y="297" width="1.3" height="1.3" fill="#26f20a"/>
<rect x="325" y="264" width="1.3" height="1.3" fill="#26f20a"/>
<rect x="325" y="266" width="1.3" height="1.3" fill="#26f20a"/>
<rect x="325" y="267" width="1.3" height="1.3" fill="#26f20a"/>
<rect x="325" y="269" width="1.3" height="1.3" fill="#26f20a"/>
<rect x="325" y="270" width="1.3" height="1.3" fill="#26f20a"/>
<rect x="325" y="271" width="1.3" height="1.3" fill="#26f20a"/>
<rect x="325" y="272" width="1.3" height="1.3" fill="#26f20a"/>
<rect x="325" y="274" width="1.3" height="1.3" fill="#26f20a"/>
<rect x="325" y="276" width="1.3" height="1.3" fill="#26f20a"/>
<rect x="325" y="280" width="1.3" height="1.3" fill="#26f20a"/>
<rect x="325" y="282" width="1.3" height="1.3" fill="#26f20a"/>
<rect x="325" y="283" width="1.3" height="1.3" fill="#26f20a"/>
<rect x="325" y="284" width="1.3" height="1.3" fill="#26f20a"/>
<rect x="325" y="285" width="1.3" height="1.3" fill="#26f20a"/>
<rect x="325" y="286" width="1.3" height="1.3" fill="#26f20a"/>
<rect x="325" y="287" width="1.3" height="1.3" fill="#26f20a"/>
<rect x="325" y="289" width="1.3" height="1.3" fill="#26f20a"/>
<rect x="325" y="291" width="1.3" height="1.3" fill="#26f20a"/>
<rect x="325" y="292" width="1.3" height="1.3" fill="#26f20a"/>
<rect x="326" y="263" width="1.3" height="1.3" fill="#26f20a"/>
<rect x="326" y="266" width="1.3" height="1.3" fill="#26f20a"/>
<rect x="326" y="268" width="1.3" height="1.3" fill="#26f20a"/>
<rect x="326" y="269" width="1.3" height="1.3" fill="#26f20a"/>
<rect x="326" y="271" width="1.3" height="1.3" fill="#26f20a"/>
<rect x="326" y="273" width="1.3" height="1.3" fill="#26f20a"/>
<rect x="326" y="276" width="1.3" height="1.3" fill="#26f20a"/>
<rect x="326" y="280" width="1.3" height="1.3" fill="#26f20a"/>
<rect x="326" y="283" width="1.3" height="1.3" fill="#26f20a"/>
<rect x="326" y="285" width="1.3" height="1.3" fill="#26f20a"/>
<rect x="326" y="286" width="1.3" height="1.3" fill="#26f20a"/>
<rect x="326" y="287" width="1.3" height="1.3" fill="#26f20a"/>
<rect x="327" y="264" width="1.3" height="1.3" fill="#26f20a"/>
<rect x="327" y="266" width="1.3" height="1.3" fill="#26f20a"/>
<rect x="327" y="267" width="1.3" height="1.3" fill="#26f20a"/>
<rect x="327" y="270" width="1.3" height="1.3" fill="#26f20a"/>
<rect x="327" y="275" width="1.3" height="1.3" fill="#26f20a"/>
<rect x="327" y="278" width="1.3" height="1.3" fill="#26f20a"/>
<rect x="327" y="280" width="1.3" height="1.3" fill="#26f20a"/>
<rect x="327" y="281" width="1.3" height="1.3" fill="#26f20a"/>
<rect x="327" y="283" width="1.3" height="1.3" fill="#26f20a"/>
<rect x="328" y="266" width="1.3" height="1.3" fill="#26f20a"/>
<rect x="328" y="268" width="1.3" height="1.3" fill="#26f20a"/>
<rect x="328" y="269" width="1.3" height="1.3" fill="#26f20a"/>
<rect x="328" y="270" width="1.3" height="1.3" fill="#26f20a"/>
<rect x="328" y="271" width="1.3" height="1.3" fill="#26f20a"/>
<rect x="328" y="273" width="1.3" height="1.3" fill="#26f20a"/>
<rect x="328" y="274" width="1.3" height="1.3" fill="#26f20a"/>
<rect x="328" y="275" width="1.3" height="1.3" fill="#26f20a"/>
<rect x="328" y="276" width="1.3" height="1.3" fill="#26f20a"/>
<rect x="319" y="280" width="1.3" height="1.3" fill="#92ff22"/>
<rect x="320" y="273" width="1.3" height="1.3" fill="#92ff22"/>
<rect x="320" y="276" width="1.3" height="1.3" fill="#92ff22"/>
<rect x="320" y="277" width="1.3" height="1.3" fill="#92ff22"/>
<rect x="320" y="281" width="1.3" height="1.3" fill="#92ff22"/>
<rect x="320" y="282" width="1.3" height="1.3" fill="#92ff22"/>
<rect x="320" y="288" width="1.3" height="1.3" fill="#92ff22"/>
<rect x="321" y="274" width="1.3" height="1.3" fill="#92ff22"/>
<rect x="321" y="275" width="1.3" height="1.3" fill="#92ff22"/>
<rect x="321" y="279" width="1.3" height="1.3" fill="#92ff22"/>
<rect x="321" y="282" width="1.3" height="1.3" fill="#92ff22"/>
<rect x="321" y="284" width="1.3" height="1.3" fill="#92ff22"/>
<rect x="321" y="288" width="1.3" height="1.3" fill="#92ff22"/>
<rect x="322" y="273" width="1.3" height="1.3" fill="#92ff22"/>
<rect x="322" y="274" width="1.3" height="1.3" fill="#92ff22"/>
<rect x="322" y="276" width="1.3" height="1.3" fill="#92ff22"/>
<rect x="322" y="284" width="1.3" height="1.3" fill="#92ff22"/>
<rect x="322" y="285" width="1.3" height="1.3" fill="#92ff22"/>
<rect x="322" y="287" width="1.3" height="1.3" fill="#92ff22"/>
<rect x="323" y="276" width="1.3" height="1.3" fill="#92ff22"/>
<rect x="323" y="277" width="1.3" height="1.3" fill="#92ff22"/>
<rect x="323" y="279" width="1.3" height="1.3" fill="#92ff22"/>
<rect x="323" y="284" width="1.3" height="1.3" fill="#92ff22"/>
<rect x="324" y="271" width="1.3" height="1.3" fill="#92ff22"/>
<rect x="324" y="277" width="1.3" height="1.3" fill="#92ff22"/>
<rect x="324" y="284" width="1.3" height="1.3" fill="#92ff22"/>
<rect x="325" y="270" width="1.3" height="1.3" fill="#92ff22"/>
<rect x="325" y="275" width="1.3" height="1.3" fill="#92ff22"/>
<path fill="none" stroke="#26f20a" stroke-width="3.0" stroke-linecap="round" stroke-linejoin="round" d="M321.5 302.0 L317.5 312.0 L313.5 322.0 L309.5 333.0 L305.5 344.0 L301.5 352.0 L299.0 357.0"/>
<path fill="none" stroke="#ffee00" stroke-width="2.0" stroke-linecap="round" stroke-linejoin="round" d="M320.5 294.0 L319.5 299.0"/>
<path fill="none" stroke="#ff130b" stroke-width="2.2" stroke-linecap="round" stroke-linejoin="round" d="M314.6 313.0 L312.3 320.0"/>
<path fill="none" stroke="#ff130b" stroke-width="2.2" stroke-linecap="round" stroke-linejoin="round" d="M310.6 325.5 L308.8 331.5"/>
<path fill="none" stroke="#ff9b0e" stroke-width="2.0" stroke-linecap="round" stroke-linejoin="round" d="M307.0 337.5 L305.2 342.5"/>
<path fill="none" stroke="#92ff22" stroke-width="1.5" stroke-linecap="round" stroke-linejoin="round" d="M304.3 345.5 L301.8 351.5"/>
<path fill="none" stroke="#00fae0" stroke-width="3.0" stroke-linecap="round" stroke-linejoin="round" d="M229.5 271.5 L236.0 269.0 L244.5 266.5"/>
<path fill="none" stroke="#00fae0" stroke-width="2.2" stroke-linecap="round" stroke-linejoin="round" d="M247.5 266.0 L254.0 264.8"/>
<path fill="#26f20a" d="M355.5 204.0 L359.0 201.0 L362.0 200.5 L366.0 198.5 L368.5 198.0 L371.0 201.0 L373.5 207.0 L375.8 214.5 L372.0 217.0 L368.0 216.5 L364.0 215.5 L361.0 212.5 L358.0 209.5Z"/>
<path fill="#92ff22" d="M360.0 207.0 L363.0 203.0 L367.0 202.0 L370.0 204.0 L372.5 209.0 L374.5 214.0 L371.0 215.0 L367.0 214.0 L363.0 212.0Z"/>
<path fill="#ffee00" d="M363.0 208.0 L365.0 204.5 L368.0 204.5 L370.0 207.5 L371.5 210.0 L373.0 213.0 L370.0 213.0 L366.0 212.0 L363.5 210.5Z"/>
<path fill="#ff9b0e" d="M365.5 207.0 L366.5 205.8 L367.8 207.0 L367.2 209.5 L365.8 209.5Z"/>
<path fill="none" stroke="#26f20a" stroke-width="2.2" stroke-linecap="round" stroke-linejoin="round" d="M367.0 218.0 L368.0 222.5"/>
<path fill="none" stroke="#26f20a" stroke-width="2.0" stroke-linecap="round" stroke-linejoin="round" d="M370.5 218.0 L371.0 223.0"/>
<path fill="none" stroke="#26f20a" stroke-width="2.5" stroke-linecap="round" stroke-linejoin="round" d="M369.5 236.5 L373.5 231.0 L376.5 227.0"/>
<path fill="none" stroke="#26f20a" stroke-width="2.0" stroke-linecap="round" stroke-linejoin="round" d="M370.0 235.0 L373.0 236.0"/>
<path fill="none" stroke="#26f20a" stroke-width="1.5" stroke-linecap="round" stroke-linejoin="round" d="M339.0 236.0 L339.0 239.5"/>
<path fill="none" stroke="#26f20a" stroke-width="3.2" stroke-linecap="round" stroke-linejoin="round" d="M344.5 356.5 L338.0 369.0 L331.0 382.0 L324.5 392.5 L320.0 399.5"/>
<path fill="none" stroke="#ff9b0e" stroke-width="2.2" stroke-linecap="round" stroke-linejoin="round" d="M342.6 358.5 L339.5 365.5"/>
<path fill="none" stroke="#ff130b" stroke-width="2.6" stroke-linecap="round" stroke-linejoin="round" d="M336.8 370.5 L333.0 378.5"/>
<path fill="none" stroke="#ff9b0e" stroke-width="2.2" stroke-linecap="round" stroke-linejoin="round" d="M330.5 382.0 L326.5 389.5"/>
<path fill="none" stroke="#ffee00" stroke-width="2.0" stroke-linecap="round" stroke-linejoin="round" d="M324.5 392.5 L321.2 397.8"/>
<path fill="#ffee00" d="M339.5 372.0 L341.5 370.5 L343.8 371.5 L343.5 375.5 L341.5 378.0 L339.5 377.0Z"/>
<path fill="#26f20a" d="M338.5 370.0 L340.0 369.5 L341.0 378.5 L339.0 379.0Z"/>
<path fill="none" stroke="#26f20a" stroke-width="2.0" stroke-linecap="round" stroke-linejoin="round" d="M308.8 422.8 L312.2 419.3"/>
<path fill="none" stroke="#92ff22" stroke-width="2.2" stroke-linecap="round" stroke-linejoin="round" d="M294.8 436.8 L299.5 432.5"/>
<rect x="327.0" y="364.8" width="2.3" height="4.7" fill="#26f20a"/>
<rect x="333.4" y="363.7" width="2.9" height="4.6" fill="#26f20a"/>
<rect x="344.5" y="360.0" width="1.8" height="4.0" fill="#26f20a"/>
<rect x="319.4" y="376.0" width="2.9" height="5.0" fill="#92ff22"/>
<rect x="327.6" y="376.5" width="1.7" height="2.3" fill="#26f20a"/>
<rect x="331.7" y="385.8" width="2.9" height="3.5" fill="#26f20a"/>
<rect x="325.3" y="394.0" width="4.0" height="4.7" fill="#26f20a"/>
<rect x="312.4" y="389.3" width="1.8" height="3.0" fill="#26f20a"/>
<rect x="320.0" y="389.3" width="1.8" height="1.7" fill="#26f20a"/>
<rect x="316.5" y="401.0" width="2.3" height="2.3" fill="#26f20a"/>
<rect x="294.3" y="381.0" width="3.5" height="3.7" fill="#26f20a"/>
<rect x="302.5" y="371.3" width="2.3" height="1.2" fill="#26f20a"/>
<rect x="308.3" y="359.0" width="2.4" height="3.5" fill="#26f20a"/>
<rect x="297.3" y="355.0" width="2.3" height="4.0" fill="#00fae0"/>
<rect x="299.0" y="362.5" width="1.8" height="1.8" fill="#26f20a"/>
<rect x="347.0" y="172.0" width="1.5" height="2.5" fill="#26f20a"/>
<rect x="292.0" y="196.0" width="1.5" height="5.0" fill="#00fae0"/>
<rect x="295.0" y="200.0" width="2.0" height="2.0" fill="#00fae0"/>
<rect x="287.2" y="230.0" width="1.4" height="3.0" fill="#00fae0"/>
<rect x="339.0" y="235.4" width="1.5" height="4.2" fill="#26f20a"/>
<rect x="331.0" y="245.6" width="1.8" height="2.4" fill="#26f20a"/>
<rect x="341.8" y="246.2" width="1.5" height="6.0" fill="#26f20a"/>
<rect x="332.8" y="256.4" width="1.5" height="3.0" fill="#26f20a"/>
<rect x="329.8" y="260.0" width="1.5" height="1.5" fill="#26f20a"/>
<rect x="342.5" y="258.8" width="1.8" height="3.6" fill="#26f20a"/>
<rect x="333.5" y="265.4" width="1.6" height="4.8" fill="#ff9b0e"/>
<rect x="330.5" y="269.6" width="2.0" height="2.4" fill="#26f20a"/>
<rect x="333.5" y="275.0" width="1.6" height="3.0" fill="#26f20a"/>
<rect x="344.5" y="282.3" width="1.2" height="1.5" fill="#26f20a"/>
<rect x="333.5" y="287.6" width="1.6" height="2.4" fill="#92ff22"/>
<rect x="324.5" y="295.4" width="1.2" height="1.5" fill="#26f20a"/>
<rect x="331.0" y="216.0" width="1.5" height="3.5" fill="#26f20a"/>
<rect x="332.0" y="222.0" width="1.5" height="3.0" fill="#26f20a"/>
<rect x="330.0" y="225.0" width="1.5" height="1.5" fill="#26f20a"/>
<rect x="214.5" y="232.5" width="2.0" height="2.0" fill="#0038ff"/>
<rect x="215.5" y="234.5" width="2.5" height="2.5" fill="#00fae0"/>
<rect x="217.5" y="233.0" width="2.0" height="1.5" fill="#0038ff"/>
<rect x="221.0" y="231.0" width="2.0" height="1.0" fill="#0038ff"/>
<rect x="228.5" y="229.5" width="1.2" height="2.0" fill="#0038ff"/>
<rect x="230.5" y="231.5" width="1.0" height="2.0" fill="#0038ff"/>
<rect x="211.0" y="240.0" width="2.0" height="1.0" fill="#0038ff"/>
<rect x="218.2" y="240.0" width="2.0" height="2.0" fill="#0038ff"/>
<rect x="227.0" y="241.0" width="1.0" height="2.0" fill="#0038ff"/>
<rect x="226.5" y="250.5" width="1.6" height="1.6" fill="#00fae0"/>
<rect x="227.5" y="255.8" width="1.8" height="1.0" fill="#0038ff"/>
<rect x="215.0" y="258.0" width="2.0" height="1.0" fill="#0038ff"/>
<rect x="224.5" y="258.5" width="3.0" height="3.0" fill="#00fae0"/>
<rect x="227.5" y="258.0" width="2.0" height="3.5" fill="#0038ff"/>
<rect x="229.0" y="260.0" width="1.5" height="1.5" fill="#0038ff"/>
<rect x="188.0" y="262.5" width="1.2" height="1.2" fill="#00fae0"/>
<rect x="199.0" y="291.0" width="1.5" height="1.5" fill="#26f20a"/>
<rect x="193.0" y="296.0" width="1.5" height="2.0" fill="#26f20a"/>
<rect x="188.0" y="300.0" width="1.2" height="1.2" fill="#26f20a"/>
<rect x="218.0" y="291.0" width="1.2" height="1.5" fill="#00fae0"/>
<rect x="213.0" y="293.0" width="1.5" height="1.5" fill="#0038ff"/>
<rect x="219.0" y="296.0" width="1.5" height="1.5" fill="#0038ff"/></g></g>
   <g id="matplotlib.axis_1">
    <g id="xtick_1">
     <g id="line2d_1">
      <path d="M 112.77 202.14 
L 255.28 119.86 
" clip-path="url(#pa853b542c9)" style="fill: none; stroke: #b0b0b0; stroke-width: 0.8; stroke-linecap: square"/>
     </g>
     <g id="text_1">
      <text style="white-space: pre; font-size: 10px; font-family: 'DejaVu Sans', 'Liberation Sans', sans-serif; text-anchor: middle" x="267.40" y="115.62">60°</text>
     </g>
    </g>
    <g id="xtick_2">
     <g id="line2d_2">
      <path d="M 112.77 202.14 
L 271.72 159.55 
" clip-path="url(#pa853b542c9)" style="fill: none; stroke: #b0b0b0; stroke-width: 0.8; stroke-linecap: square"/>
     </g>
     <g id="text_2">
      <text style="white-space: pre; font-size: 10px; font-family: 'DejaVu Sans', 'Liberation Sans', sans-serif; text-anchor: middle" x="285.24" y="158.69">75°</text>
     </g>
    </g>
    <g id="xtick_3">
     <g id="line2d_3">
      <path d="M 112.77 202.14 
L 277.32 202.14 
" clip-path="url(#pa853b542c9)" style="fill: none; stroke: #b0b0b0; stroke-width: 0.8; stroke-linecap: square"/>
     </g>
     <g id="text_3">
      <text style="white-space: pre; font-size: 10px; font-family: 'DejaVu Sans', 'Liberation Sans', sans-serif; text-anchor: middle" x="291.32" y="204.90">90°</text>
     </g>
    </g>
    <g id="xtick_4">
     <g id="line2d_4">
      <path d="M 112.77 202.14 
L 271.72 244.73 
" clip-path="url(#pa853b542c9)" style="fill: none; stroke: #b0b0b0; stroke-width: 0.8; stroke-linecap: square"/>
     </g>
     <g id="text_4">
      <text style="white-space: pre; font-size: 10px; font-family: 'DejaVu Sans', 'Liberation Sans', sans-serif; text-anchor: middle" x="285.24" y="251.11">105°</text>
     </g>
    </g>
    <g id="xtick_5">
     <g id="line2d_5">
      <path d="M 112.77 202.14 
L 255.28 284.41 
" clip-path="url(#pa853b542c9)" style="fill: none; stroke: #b0b0b0; stroke-width: 0.8; stroke-linecap: square"/>
     </g>
     <g id="text_5">
      <text style="white-space: pre; font-size: 10px; font-family: 'DejaVu Sans', 'Liberation Sans', sans-serif; text-anchor: middle" x="267.40" y="294.17">120°</text>
     </g>
    </g>
    <g id="xtick_6">
     <g id="line2d_6">
      <path d="M 112.77 202.14 
L 229.13 318.49 
" clip-path="url(#pa853b542c9)" style="fill: none; stroke: #b0b0b0; stroke-width: 0.8; stroke-linecap: square"/>
     </g>
     <g id="text_6">
      <text style="white-space: pre; font-size: 10px; font-family: 'DejaVu Sans', 'Liberation Sans', sans-serif; text-anchor: middle" x="239.03" y="331.15">135°</text>
     </g>
    </g>
   </g>
   <g id="matplotlib.axis_2">
    <g id="ytick_1">
     <g id="line2d_7">
      <path d="M 129.14 185.94 
C 131.52 188.34 133.35 191.24 134.48 194.43 
C 135.61 197.62 136.03 201.02 135.70 204.39 
C 135.37 207.75 134.30 211.01 132.57 213.91 
C 130.84 216.82 128.49 219.31 125.69 221.21 
" clip-path="url(#pa853b542c9)" style="fill: none; stroke: #b0b0b0; stroke-width: 0.8; stroke-linecap: square"/>
     </g>
     <g id="text_7">
      <text style="white-space: pre; font-size: 10px; font-family: 'DejaVu Sans', 'Liberation Sans', sans-serif; text-anchor: end" x="124.22" y="178.88">5000</text>
     </g>
    </g>
    <g id="ytick_2">
     <g id="line2d_8">
      <path d="M 149.37 165.93 
C 154.68 171.30 158.75 177.79 161.29 184.91 
C 163.82 192.04 164.75 199.64 164.01 207.16 
C 163.27 214.69 160.88 221.96 157.02 228.46 
C 153.15 234.96 147.90 240.53 141.64 244.77 
" clip-path="url(#pa853b542c9)" style="fill: none; stroke: #b0b0b0; stroke-width: 0.8; stroke-linecap: square"/>
     </g>
     <g id="text_8">
      <text style="white-space: pre; font-size: 10px; font-family: 'DejaVu Sans', 'Liberation Sans', sans-serif; text-anchor: end" x="144.44" y="158.87">10000</text>
     </g>
    </g>
    <g id="ytick_3">
     <g id="line2d_9">
      <path d="M 169.59 145.92 
C 177.85 154.26 184.16 164.33 188.09 175.39 
C 192.02 186.46 193.47 198.25 192.32 209.94 
C 191.17 221.62 187.47 232.91 181.46 243.00 
C 175.46 253.10 167.31 261.74 157.58 268.32 
" clip-path="url(#pa853b542c9)" style="fill: none; stroke: #b0b0b0; stroke-width: 0.8; stroke-linecap: square"/>
     </g>
     <g id="text_9">
      <text style="white-space: pre; font-size: 10px; font-family: 'DejaVu Sans', 'Liberation Sans', sans-serif; text-anchor: end" x="164.66" y="138.86">15000</text>
     </g>
    </g>
    <g id="ytick_4">
     <g id="line2d_10">
      <path d="M 189.81 125.91 
C 201.01 137.22 209.57 150.87 214.90 165.87 
C 220.23 180.88 222.19 196.87 220.63 212.71 
C 219.08 228.56 214.05 243.87 205.91 257.55 
C 197.77 271.23 186.72 282.95 173.53 291.88 
" clip-path="url(#pa853b542c9)" style="fill: none; stroke: #b0b0b0; stroke-width: 0.8; stroke-linecap: square"/>
     </g>
     <g id="text_10">
      <text style="white-space: pre; font-size: 10px; font-family: 'DejaVu Sans', 'Liberation Sans', sans-serif; text-anchor: end" x="184.88" y="118.85">20000</text>
     </g>
    </g>
    <g id="ytick_5">
     <g id="line2d_11">
      <path d="M 210.03 105.90 
C 224.17 120.18 234.98 137.41 241.71 156.35 
C 248.44 175.29 250.91 195.49 248.94 215.49 
C 246.98 235.49 240.64 254.82 230.36 272.10 
C 220.08 289.37 206.13 304.17 189.48 315.44 
" clip-path="url(#pa853b542c9)" style="fill: none; stroke: #b0b0b0; stroke-width: 0.8; stroke-linecap: square"/>
     </g>
     <g id="text_11">
      <text style="white-space: pre; font-size: 10px; font-family: 'DejaVu Sans', 'Liberation Sans', sans-serif; text-anchor: end" x="205.10" y="98.84">25000</text>
     </g>
    </g>
   </g>
   <g id="patch_3">
    <path d="M 205.03 338.4 
C 225.04 324.84 241.83 307.05 254.19 286.27 
C 266.55 265.50 274.18 242.25 276.54 218.20 
C 278.90 194.14 275.93 169.85 267.84 147.08 
C 259.75 124.30 246.74 103.58 229.74 86.4 
" style="fill: none; stroke: #000000; stroke-width: 0.9; stroke-linejoin: miter; stroke-linecap: square"/>
   </g>
   <g id="patch_4">
    <path d="M 112.77 202.14 
L 229.74 86.4 
" style="fill: none; stroke: #000000; stroke-width: 0.9; stroke-linejoin: miter; stroke-linecap: square"/>
   </g>
   <g id="patch_5">
    <path d="M 112.77 202.14 
L 205.03 338.4 
" style="fill: none; stroke: #000000; stroke-width: 0.9; stroke-linejoin: miter; stroke-linecap: square"/>
   </g>
   <g id="text_12">
    <text style="white-space: pre; font-size: 12px; font-family: 'DejaVu Sans', 'Liberation Sans', sans-serif; text-anchor: middle" x="195.84" y="80.4">Reflectivity</text>
   </g>
  </g>
  <g id="axes_2">
   <g id="patch_6">
    <path d="M 205.03 640.8 
C 225.04 627.24 241.83 609.45 254.19 588.67 
C 266.55 567.90 274.18 544.65 276.54 520.60 
C 278.90 496.54 275.93 472.25 267.84 449.48 
C 259.75 426.70 246.74 405.98 229.74 388.8 
L 112.77 504.54 
C 112.77 504.54 112.77 504.54 112.77 504.54 
C 112.77 504.54 112.77 504.54 112.77 504.54 
C 112.77 504.54 112.77 504.54 112.77 504.54 
C 112.77 504.54 112.77 504.54 112.77 504.54 
z
" style="fill: #ffffff"/>
   </g>
   <g id="data1" clip-path="url(#p5e135e1991)"><g transform="scale(0.72)"><path fill="#58d000" fill-rule="evenodd" d="M297.5 663.9 L298.5 663.9 L299.1 664.5 L299.5 664.9 L300.5 664.9 L301.1 665.5 L301.1 666.5 L300.5 667.1 L300.1 667.5 L300.1 668.5 L300.1 669.5 L300.5 669.9 L301.5 669.9 L302.1 670.5 L302.5 670.9 L303.5 670.9 L304.1 671.5 L304.5 671.9 L305.1 672.5 L305.5 672.9 L306.1 673.5 L306.5 673.9 L307.1 674.5 L307.5 674.9 L308.1 675.5 L308.5 675.9 L309.1 676.5 L309.5 676.9 L310.1 677.5 L310.5 677.9 L311.1 678.5 L311.5 678.9 L312.1 679.5 L312.5 679.9 L313.5 679.9 L314.1 680.5 L314.1 681.5 L313.5 682.1 L313.1 682.5 L313.5 682.9 L314.1 683.5 L314.5 683.9 L315.5 683.9 L316.5 683.9 L317.5 683.9 L318.1 684.5 L318.5 684.9 L319.1 685.5 L319.5 685.9 L320.1 686.5 L320.1 687.5 L320.5 687.9 L321.1 688.5 L321.5 688.9 L322.1 689.5 L322.5 689.9 L323.1 690.5 L323.5 690.9 L324.1 691.5 L324.5 691.9 L325.1 692.5 L324.5 693.1 L324.1 693.5 L323.5 694.1 L323.1 694.5 L322.5 695.1 L321.5 695.1 L320.5 695.1 L320.1 695.5 L320.1 696.5 L320.1 697.5 L320.1 698.5 L320.1 699.5 L319.5 700.1 L319.1 700.5 L319.1 701.5 L319.1 702.5 L319.1 703.5 L318.5 704.1 L317.5 704.1 L317.1 704.5 L316.5 705.1 L316.1 705.5 L315.5 706.1 L315.1 706.5 L314.5 707.1 L314.1 707.5 L314.1 708.5 L314.1 709.5 L314.1 710.5 L314.1 711.5 L314.5 711.9 L315.1 712.5 L315.1 713.5 L314.5 714.1 L313.5 714.1 L312.5 714.1 L311.5 714.1 L311.1 714.5 L311.1 715.5 L311.1 716.5 L310.5 717.1 L310.1 717.5 L309.5 718.1 L308.5 718.1 L308.1 718.5 L307.5 719.1 L307.1 719.5 L306.5 720.1 L305.5 720.1 L304.5 720.1 L303.5 720.1 L303.1 720.5 L302.5 721.1 L302.1 721.5 L301.5 722.1 L300.5 722.1 L300.1 722.5 L300.1 723.5 L300.1 724.5 L300.1 725.5 L300.1 726.5 L300.1 727.5 L300.1 728.5 L300.0 729.5 L300.0 730.5 L299.5 731.0 L299.0 731.5 L299.0 732.5 L299.0 733.5 L299.5 734.0 L300.0 734.5 L300.0 735.5 L299.5 736.0 L298.5 736.0 L298.0 735.5 L297.5 735.0 L297.0 734.5 L296.5 734.0 L295.5 734.0 L294.5 734.0 L293.5 734.0 L292.5 734.0 L292.0 734.5 L291.5 735.0 L291.0 735.5 L290.5 736.0 L290.0 736.5 L290.0 737.5 L290.0 738.5 L290.0 739.5 L290.0 740.5 L290.0 741.5 L290.0 742.5 L290.0 743.5 L290.0 744.5 L289.5 745.0 L289.0 745.5 L289.0 746.5 L289.0 747.5 L289.0 748.5 L289.5 749.0 L290.0 749.5 L289.5 750.0 L289.0 750.5 L288.5 751.0 L287.5 751.0 L286.5 751.0 L285.5 751.0 L285.0 751.5 L285.0 752.5 L285.0 753.5 L284.5 754.0 L284.0 754.5 L284.0 755.5 L283.5 756.0 L282.5 756.0 L282.0 755.5 L281.5 755.0 L280.5 755.0 L280.0 755.5 L280.0 756.5 L279.5 757.0 L279.0 757.5 L279.0 758.5 L278.5 759.0 L278.0 759.5 L277.5 760.0 L277.0 760.5 L276.5 761.0 L276.0 761.5 L275.5 762.0 L275.0 762.5 L274.5 763.0 L274.0 763.5 L273.5 764.0 L273.0 764.5 L272.5 765.0 L271.5 765.0 L270.5 765.0 L270.0 765.5 L269.5 766.0 L268.5 766.0 L268.0 765.5 L267.5 765.0 L266.5 765.0 L266.0 765.5 L265.5 766.0 L265.0 766.5 L264.5 767.0 L264.0 767.5 L264.0 768.5 L264.0 769.5 L264.0 770.5 L263.5 771.0 L262.5 771.0 L261.5 771.0 L260.5 771.0 L259.5 771.0 L258.5 771.0 L257.5 771.0 L256.5 771.0 L256.0 771.5 L255.5 772.0 L254.5 772.0 L254.0 772.5 L254.0 773.5 L254.0 774.5 L254.5 775.0 L255.5 775.0 L256.5 775.0 L257.5 775.0 L258.5 775.0 L259.5 775.0 L260.5 775.0 L261.5 775.0 L262.5 775.0 L263.0 775.5 L263.5 776.0 L264.0 776.5 L264.5 777.0 L265.0 777.5 L265.0 778.5 L265.0 779.5 L265.5 780.0 L266.0 780.5 L266.5 781.0 L267.0 781.5 L267.5 782.0 L268.5 782.0 L269.0 781.5 L269.5 781.0 L270.0 780.5 L270.0 779.5 L270.0 778.5 L270.0 777.5 L270.0 776.5 L270.0 775.5 L270.0 774.5 L269.5 774.0 L269.0 773.5 L269.5 773.0 L270.0 772.5 L270.5 772.0 L271.0 771.5 L271.5 771.0 L272.5 771.0 L273.0 770.5 L273.5 770.0 L274.5 770.0 L275.0 769.5 L274.5 769.0 L274.0 768.5 L274.0 767.5 L274.0 766.5 L274.0 765.5 L274.5 765.0 L275.5 765.0 L276.5 765.0 L277.5 765.0 L278.5 765.0 L279.0 765.5 L279.5 766.0 L280.0 766.5 L280.0 767.5 L279.5 768.0 L279.0 768.5 L278.5 769.0 L278.0 769.5 L277.5 770.0 L276.5 770.0 L275.5 770.0 L275.0 770.5 L275.5 771.0 L276.0 771.5 L276.0 772.5 L276.0 773.5 L276.0 774.5 L276.0 775.5 L276.0 776.5 L276.0 777.5 L275.5 778.0 L275.0 778.5 L275.0 779.5 L274.5 780.0 L274.0 780.5 L273.5 781.0 L272.5 781.0 L271.5 781.0 L271.0 781.5 L271.0 782.5 L271.0 783.5 L271.0 784.5 L271.0 785.5 L271.0 786.5 L270.5 787.0 L270.0 787.5 L270.0 788.5 L269.5 789.0 L269.0 789.5 L268.5 790.0 L267.5 790.0 L267.0 790.5 L266.5 791.0 L266.0 791.5 L265.5 792.0 L265.0 792.5 L264.5 793.0 L264.0 792.5 L263.5 792.0 L262.5 792.0 L261.5 792.0 L261.0 792.5 L260.5 793.0 L260.0 793.5 L260.0 794.5 L260.0 795.5 L260.5 796.0 L261.0 796.5 L261.0 797.5 L260.5 798.0 L260.0 798.5 L259.5 799.0 L258.5 799.0 L257.5 799.0 L257.0 799.5 L256.5 800.0 L256.0 800.5 L255.5 801.0 L255.0 801.5 L255.0 802.5 L254.5 803.0 L254.0 803.5 L253.5 804.0 L253.0 804.5 L252.5 805.0 L252.0 805.5 L251.5 806.0 L251.0 805.5 L250.5 805.0 L250.0 804.5 L250.0 803.5 L249.5 803.0 L249.0 802.5 L249.5 802.0 L250.0 801.5 L250.5 801.0 L251.0 800.5 L251.5 800.0 L252.0 799.5 L252.5 799.0 L253.0 798.5 L253.5 798.0 L254.5 798.0 L255.0 797.5 L255.5 797.0 L256.0 796.5 L256.5 796.0 L257.0 795.5 L257.5 795.0 L258.0 794.5 L258.0 793.5 L258.0 792.5 L258.5 792.0 L259.0 791.5 L259.5 791.0 L260.5 791.0 L261.0 790.5 L261.5 790.0 L262.0 789.5 L262.5 789.0 L263.5 789.0 L264.0 788.5 L264.5 788.0 L265.0 787.5 L264.5 787.0 L264.0 786.5 L264.0 785.5 L264.0 784.5 L264.0 783.5 L264.0 782.5 L264.0 781.5 L263.5 781.0 L263.0 780.5 L262.5 780.0 L261.5 780.0 L260.5 780.0 L260.0 780.5 L260.0 781.5 L260.0 782.5 L259.5 783.0 L259.0 783.5 L259.0 784.5 L258.5 785.0 L257.5 785.0 L256.5 785.0 L256.0 784.5 L255.5 784.0 L254.5 784.0 L253.5 784.0 L253.0 783.5 L253.5 783.0 L254.0 782.5 L254.0 781.5 L254.0 780.5 L253.5 780.0 L253.0 780.5 L252.5 781.0 L252.0 781.5 L251.5 782.0 L251.0 782.5 L250.5 783.0 L250.0 783.5 L249.5 784.0 L249.0 784.5 L249.0 785.5 L249.5 786.0 L250.5 786.0 L251.0 786.5 L251.5 787.0 L252.0 787.5 L251.5 788.0 L251.0 788.5 L251.0 789.5 L251.0 790.5 L250.5 791.0 L250.0 791.5 L250.0 792.5 L250.0 793.5 L250.0 794.5 L249.5 795.0 L249.0 795.5 L248.5 796.0 L247.5 796.0 L247.0 795.5 L246.5 795.0 L245.5 795.0 L245.0 794.5 L244.5 794.0 L243.5 794.0 L242.5 794.0 L242.0 793.5 L241.5 793.0 L241.0 792.5 L241.0 791.5 L240.5 791.0 L240.0 790.5 L240.0 789.5 L240.0 788.5 L240.0 787.5 L240.0 786.5 L240.5 786.0 L241.0 785.5 L241.5 785.0 L242.5 785.0 L243.0 784.5 L243.5 784.0 L244.0 783.5 L244.0 782.5 L243.5 782.0 L243.0 781.5 L242.5 781.0 L242.0 781.5 L241.5 782.0 L241.0 782.5 L240.5 783.0 L240.0 783.5 L239.5 784.0 L239.0 784.5 L238.5 785.0 L238.0 785.5 L237.5 786.0 L237.0 786.5 L236.5 787.0 L236.0 787.5 L235.5 788.0 L235.0 788.5 L234.5 789.0 L234.0 789.5 L233.5 790.0 L232.5 790.0 L232.0 789.5 L231.5 789.0 L230.5 789.0 L230.0 788.5 L230.0 787.5 L229.5 787.0 L229.0 786.5 L228.5 786.0 L227.5 786.0 L227.0 785.5 L226.5 785.0 L225.5 785.0 L224.5 785.0 L223.5 785.0 L222.5 785.0 L222.0 785.5 L221.5 786.0 L221.0 785.5 L220.5 785.0 L220.0 784.5 L220.0 783.5 L220.5 783.0 L221.0 782.5 L221.0 781.5 L221.0 780.5 L220.5 780.0 L220.0 779.5 L220.0 778.5 L220.0 777.5 L219.5 777.0 L219.0 776.5 L218.5 776.0 L218.0 775.5 L217.5 775.0 L216.5 775.0 L215.5 775.0 L214.5 775.0 L213.5 775.0 L213.0 774.5 L212.5 774.0 L211.5 774.0 L211.0 773.5 L210.5 773.0 L210.0 772.5 L210.0 771.5 L210.0 770.5 L210.0 769.5 L210.5 769.0 L211.0 768.5 L210.5 768.0 L209.5 768.0 L208.5 768.0 L208.0 767.5 L207.5 767.0 L207.0 766.5 L206.5 766.0 L205.5 766.0 L205.0 765.5 L205.0 764.5 L205.0 763.5 L205.0 762.5 L205.0 761.5 L204.5 761.0 L204.0 760.5 L203.5 760.0 L202.5 760.0 L201.5 760.0 L201.0 759.5 L201.0 758.5 L200.5 758.0 L200.0 757.5 L199.5 757.0 L198.5 757.0 L198.0 756.5 L198.0 755.5 L197.5 755.0 L197.0 754.5 L196.5 754.0 L195.5 754.0 L195.0 753.5 L194.5 753.0 L194.0 752.5 L193.5 752.0 L193.0 751.5 L192.5 751.0 L192.0 750.5 L191.5 750.0 L190.5 750.0 L190.0 749.5 L190.0 748.5 L190.0 747.5 L190.0 746.5 L190.0 745.5 L189.5 745.0 L189.0 744.5 L189.0 743.5 L189.5 743.0 L190.0 742.5 L190.5 742.0 L191.0 741.5 L191.5 741.0 L192.0 740.5 L192.5 740.0 L193.5 740.0 L194.5 740.0 L195.5 740.0 L196.5 740.0 L197.0 739.5 L197.5 739.0 L198.5 739.0 L199.5 739.0 L200.0 739.5 L200.0 740.5 L200.5 741.0 L201.5 741.0 L202.5 741.0 L203.5 741.0 L204.5 741.0 L205.0 740.5 L205.5 740.0 L206.5 740.0 L207.5 740.0 L208.5 740.0 L209.0 739.5 L209.0 738.5 L209.0 737.5 L209.0 736.5 L208.5 736.0 L207.5 736.0 L207.0 735.5 L206.5 735.0 L206.0 734.5 L206.0 733.5 L205.5 733.0 L205.0 732.5 L205.0 731.5 L205.5 731.0 L206.5 731.0 L207.5 731.0 L208.0 730.5 L208.5 730.0 L209.0 729.5 L209.0 728.5 L209.0 727.5 L209.0 726.5 L209.5 726.0 L210.0 725.5 L210.0 724.5 L210.5 724.0 L211.5 724.0 L212.5 724.0 L213.5 724.0 L214.0 724.5 L214.5 725.0 L215.5 725.0 L216.5 725.0 L217.5 725.0 L218.5 725.0 L219.0 724.5 L219.5 724.0 L220.0 723.5 L220.0 722.5 L220.5 722.0 L221.0 721.5 L221.5 721.0 L222.5 721.0 L223.5 721.0 L224.5 721.0 L225.0 720.5 L225.5 720.0 L226.0 719.5 L226.0 718.5 L225.5 718.0 L225.0 717.5 L225.0 716.5 L225.0 715.5 L225.5 715.0 L226.5 715.0 L227.5 715.0 L228.5 715.0 L229.0 714.5 L229.0 713.5 L229.5 713.0 L230.0 712.5 L230.0 711.5 L230.5 711.0 L231.0 710.5 L231.5 710.0 L232.5 710.0 L233.5 710.0 L234.0 709.5 L234.0 708.5 L234.0 707.5 L234.5 707.0 L235.0 706.5 L235.0 705.5 L235.5 705.0 L236.0 704.5 L236.0 703.5 L236.0 702.5 L236.0 701.5 L235.5 701.0 L235.0 700.5 L235.0 699.5 L235.5 699.0 L236.5 699.0 L237.5 699.0 L238.0 699.5 L238.0 700.5 L238.5 701.0 L239.5 701.0 L240.0 700.5 L240.5 700.0 L241.5 700.0 L242.5 700.0 L243.5 700.0 L244.5 700.0 L245.5 700.0 L246.5 700.0 L247.5 700.0 L248.5 700.0 L249.5 700.0 L250.5 700.0 L251.5 700.0 L252.5 700.0 L253.5 700.0 L254.0 699.5 L254.5 699.0 L255.5 699.0 L256.5 699.0 L257.5 699.0 L258.5 699.0 L259.5 699.0 L260.5 699.0 L261.0 699.5 L261.5 700.0 L262.0 700.5 L262.5 701.0 L263.0 701.5 L263.5 702.0 L264.0 702.5 L264.5 703.0 L265.0 703.5 L265.5 704.0 L266.0 704.5 L266.0 705.5 L266.5 706.0 L267.0 706.5 L267.0 707.5 L266.5 708.0 L266.0 708.5 L266.0 709.5 L266.0 710.5 L266.0 711.5 L266.0 712.5 L265.5 713.0 L264.5 713.0 L263.5 713.0 L263.0 713.5 L262.5 714.0 L262.0 714.5 L262.0 715.5 L261.5 716.0 L261.0 716.5 L261.0 717.5 L260.5 718.0 L260.0 718.5 L260.0 719.5 L260.5 720.0 L261.5 720.0 L262.5 720.0 L263.5 720.0 L264.5 720.0 L265.0 720.5 L265.5 721.0 L266.0 721.5 L266.5 722.0 L267.0 722.5 L267.0 723.5 L267.0 724.5 L266.5 725.0 L266.0 725.5 L265.5 726.0 L265.0 726.5 L265.0 727.5 L265.5 728.0 L266.0 728.5 L266.0 729.5 L266.0 730.5 L266.5 731.0 L267.5 731.0 L268.5 731.0 L269.5 731.0 L270.0 730.5 L270.5 730.0 L271.0 729.5 L271.5 729.0 L272.0 728.5 L272.5 728.0 L273.5 728.0 L274.0 727.5 L273.5 727.0 L272.5 727.0 L272.0 726.5 L272.0 725.5 L271.5 725.0 L271.0 724.5 L271.0 723.5 L271.0 722.5 L270.5 722.0 L270.0 721.5 L269.5 721.0 L269.0 720.5 L269.0 719.5 L269.0 718.5 L269.0 717.5 L269.0 716.5 L269.0 715.5 L269.0 714.5 L269.0 713.5 L269.0 712.5 L269.0 711.5 L269.0 710.5 L269.0 709.5 L269.0 708.5 L269.0 707.5 L269.0 706.5 L269.0 705.5 L269.0 704.5 L269.0 703.5 L269.0 702.5 L269.5 702.0 L270.0 701.5 L270.0 700.5 L270.0 699.5 L269.5 699.0 L269.0 698.5 L269.5 698.0 L270.0 697.5 L270.5 697.0 L271.0 696.5 L271.5 696.0 L272.0 695.5 L272.5 695.0 L273.5 695.0 L274.0 694.5 L274.0 693.5 L274.5 693.0 L275.0 692.5 L275.0 691.5 L275.5 691.0 L276.0 690.5 L276.5 690.0 L277.5 690.0 L278.5 690.0 L279.0 689.5 L279.0 688.5 L279.5 688.0 L280.0 687.5 L280.0 686.5 L280.0 685.5 L280.5 685.0 L281.5 685.0 L282.0 684.5 L282.5 684.0 L283.5 684.0 L284.5 684.0 L285.5 684.0 L286.0 683.5 L286.0 682.5 L286.0 681.5 L286.5 681.0 L287.5 681.0 L288.0 680.5 L288.5 680.0 L289.0 679.5 L289.5 679.0 L290.0 678.5 L290.0 677.5 L290.5 677.0 L291.0 676.5 L290.9 675.5 L290.5 675.1 L289.9 674.5 L289.9 673.5 L289.9 672.5 L289.5 672.1 L288.9 671.5 L289.5 670.9 L289.9 670.5 L290.5 669.9 L291.5 669.9 L291.9 669.5 L292.5 668.9 L293.5 668.9 L294.5 668.9 L294.9 668.5 L294.9 667.5 L294.9 666.5 L295.5 665.9 L295.9 665.5 L296.5 664.9 L296.9 664.5ZM296.1 669.5 L296.5 669.9 L296.9 669.5 L296.5 669.1ZM256.0 709.5 L256.0 710.5 L256.5 711.0 L257.0 710.5 L257.0 709.5 L256.5 709.0ZM307.0 713.5 L307.5 714.0 L308.0 713.5 L307.5 713.0ZM247.0 753.5 L246.5 754.0 L246.0 754.5 L246.0 755.5 L246.5 756.0 L247.5 756.0 L248.5 756.0 L249.0 755.5 L249.5 755.0 L250.0 754.5 L249.5 754.0 L248.5 754.0 L248.0 753.5 L247.5 753.0ZM171.5 699.0 L172.5 699.0 L173.5 699.0 L174.5 699.0 L175.5 699.0 L176.0 699.5 L176.5 700.0 L177.5 700.0 L178.5 700.0 L179.5 700.0 L180.5 700.0 L181.5 700.0 L182.5 700.0 L183.0 700.5 L183.0 701.5 L183.0 702.5 L183.5 703.0 L184.0 703.5 L184.5 704.0 L185.5 704.0 L186.0 704.5 L186.5 705.0 L187.0 705.5 L187.5 706.0 L188.5 706.0 L189.5 706.0 L190.0 706.5 L190.0 707.5 L189.5 708.0 L189.0 708.5 L188.5 709.0 L188.0 709.5 L188.0 710.5 L187.5 711.0 L187.0 711.5 L186.5 712.0 L186.0 712.5 L186.0 713.5 L186.0 714.5 L186.0 715.5 L186.0 716.5 L186.0 717.5 L185.5 718.0 L185.0 718.5 L185.0 719.5 L184.5 720.0 L184.0 720.5 L184.0 721.5 L184.5 722.0 L185.0 722.5 L185.0 723.5 L185.0 724.5 L185.0 725.5 L185.0 726.5 L185.0 727.5 L185.0 728.5 L185.0 729.5 L184.5 730.0 L184.0 730.5 L183.5 731.0 L183.0 730.5 L182.5 730.0 L182.0 729.5 L181.5 729.0 L180.5 729.0 L179.5 729.0 L179.0 729.5 L178.5 730.0 L177.5 730.0 L176.5 730.0 L176.0 729.5 L175.5 729.0 L175.0 728.5 L175.0 727.5 L174.5 727.0 L174.0 726.5 L173.5 726.0 L173.0 725.5 L172.5 725.0 L171.5 725.0 L171.0 724.5 L171.0 723.5 L170.5 723.0 L170.0 722.5 L169.5 722.0 L168.5 722.0 L167.5 722.0 L167.0 721.5 L166.5 721.0 L166.0 720.5 L166.0 719.5 L165.5 719.0 L165.0 718.5 L165.0 717.5 L164.5 717.0 L164.0 716.5 L163.5 716.0 L162.5 716.0 L161.5 716.0 L161.0 715.5 L160.5 715.0 L160.0 714.5 L160.0 713.5 L160.0 712.5 L160.0 711.5 L160.0 710.5 L160.0 709.5 L160.0 708.5 L160.5 708.0 L161.0 707.5 L161.5 707.0 L162.0 706.5 L162.5 706.0 L163.5 706.0 L164.5 706.0 L165.5 706.0 L166.0 705.5 L166.0 704.5 L165.5 704.0 L165.0 703.5 L164.5 703.0 L164.0 702.5 L164.0 701.5 L164.5 701.0 L165.5 701.0 L166.5 701.0 L167.5 701.0 L168.5 701.0 L169.5 701.0 L170.0 700.5 L170.5 700.0 L171.0 699.5ZM262.5 794.0 L263.5 794.0 L264.5 794.0 L265.0 794.5 L265.0 795.5 L264.5 796.0 L263.5 796.0 L262.5 796.0 L262.0 795.5 L262.0 794.5Z"/>
<path fill="#c8ff30" fill-rule="evenodd" d="M297.5 664.3 L298.5 664.3 L298.7 664.5 L299.5 665.3 L300.5 665.3 L300.7 665.5 L300.7 666.5 L300.5 666.7 L299.7 667.5 L299.7 668.5 L299.7 669.5 L300.5 670.3 L301.5 670.3 L301.7 670.5 L302.5 671.3 L303.5 671.3 L303.7 671.5 L304.5 672.3 L304.7 672.5 L305.5 673.3 L305.7 673.5 L306.5 674.3 L306.7 674.5 L307.5 675.3 L307.7 675.5 L308.5 676.3 L308.7 676.5 L309.5 677.3 L309.7 677.5 L310.5 678.3 L310.7 678.5 L311.5 679.3 L311.7 679.5 L312.5 680.3 L313.5 680.3 L313.7 680.5 L313.7 681.5 L313.5 681.7 L312.7 682.5 L313.5 683.3 L313.7 683.5 L314.5 684.3 L315.5 684.3 L316.5 684.3 L317.5 684.3 L317.7 684.5 L318.5 685.3 L318.7 685.5 L319.5 686.3 L319.7 686.5 L319.7 687.5 L320.5 688.3 L320.7 688.5 L321.5 689.3 L321.7 689.5 L322.5 690.3 L322.7 690.5 L323.5 691.3 L323.7 691.5 L324.5 692.3 L324.7 692.5 L324.5 692.7 L323.7 693.5 L323.5 693.7 L322.7 694.5 L322.5 694.7 L321.5 694.7 L320.5 694.7 L319.7 695.5 L319.7 696.5 L319.7 697.5 L319.7 698.5 L319.7 699.5 L319.5 699.7 L318.7 700.5 L318.7 701.5 L318.7 702.5 L318.7 703.5 L318.5 703.7 L317.5 703.7 L316.7 704.5 L316.5 704.7 L315.7 705.5 L315.5 705.7 L314.6 706.5 L314.5 706.6 L313.6 707.5 L313.7 708.5 L313.6 709.5 L313.6 710.5 L313.7 711.5 L314.5 712.3 L314.7 712.5 L314.7 713.5 L314.5 713.7 L313.5 713.6 L312.5 713.6 L311.5 713.6 L310.6 714.5 L310.6 715.5 L310.6 716.5 L310.5 716.6 L309.6 717.5 L309.5 717.6 L308.5 717.6 L307.6 718.5 L307.5 718.6 L306.6 719.5 L306.5 719.6 L305.5 719.6 L304.5 719.6 L303.5 719.6 L302.6 720.5 L302.5 720.6 L301.6 721.5 L301.5 721.6 L300.5 721.6 L299.6 722.5 L299.6 723.5 L299.6 724.5 L299.6 725.5 L299.6 726.5 L299.6 727.5 L299.6 728.5 L299.6 729.5 L299.6 730.5 L299.5 730.6 L298.6 731.5 L298.6 732.5 L298.6 733.5 L299.5 734.4 L299.6 734.5 L299.6 735.5 L299.5 735.6 L298.5 735.6 L298.4 735.5 L297.5 734.6 L297.4 734.5 L296.5 733.6 L295.5 733.6 L294.5 733.6 L293.5 733.6 L292.5 733.6 L291.6 734.5 L291.5 734.6 L290.6 735.5 L290.5 735.6 L289.6 736.5 L289.6 737.5 L289.6 738.5 L289.6 739.5 L289.6 740.5 L289.6 741.5 L289.6 742.5 L289.6 743.5 L289.6 744.5 L289.5 744.6 L288.6 745.5 L288.6 746.5 L288.6 747.5 L288.6 748.5 L289.5 749.4 L289.6 749.5 L289.5 749.6 L288.6 750.5 L288.5 750.6 L287.5 750.6 L286.5 750.6 L285.5 750.6 L284.6 751.5 L284.6 752.5 L284.6 753.5 L284.5 753.6 L283.6 754.5 L283.6 755.5 L283.5 755.6 L282.5 755.6 L282.4 755.5 L281.5 754.6 L280.5 754.6 L279.6 755.5 L279.6 756.5 L279.5 756.6 L278.6 757.5 L278.6 758.5 L278.5 758.6 L277.6 759.5 L277.5 759.6 L276.6 760.5 L276.5 760.6 L275.6 761.5 L275.5 761.6 L274.6 762.5 L274.5 762.6 L273.6 763.5 L273.5 763.6 L272.6 764.5 L272.5 764.6 L271.5 764.6 L270.5 764.6 L269.6 765.5 L269.5 765.6 L268.5 765.6 L268.4 765.5 L267.5 764.6 L266.5 764.6 L265.6 765.5 L265.5 765.6 L264.6 766.5 L264.5 766.6 L263.6 767.5 L263.6 768.5 L263.6 769.5 L263.6 770.5 L263.5 770.6 L262.5 770.6 L261.5 770.6 L260.5 770.6 L259.5 770.6 L258.5 770.6 L257.5 770.6 L256.5 770.6 L255.6 771.5 L255.5 771.6 L254.5 771.6 L253.6 772.5 L253.6 773.5 L253.6 774.5 L254.5 775.4 L255.5 775.4 L256.5 775.4 L257.5 775.4 L258.5 775.4 L259.5 775.4 L260.5 775.4 L261.5 775.4 L262.5 775.4 L262.6 775.5 L263.5 776.4 L263.6 776.5 L264.5 777.4 L264.6 777.5 L264.6 778.5 L264.6 779.5 L265.5 780.4 L265.6 780.5 L266.5 781.4 L266.6 781.5 L267.5 782.4 L268.5 782.4 L269.4 781.5 L269.5 781.4 L270.4 780.5 L270.4 779.5 L270.4 778.5 L270.4 777.5 L270.4 776.5 L270.4 775.5 L270.4 774.5 L269.5 773.6 L269.4 773.5 L269.5 773.4 L270.4 772.5 L270.5 772.4 L271.4 771.5 L271.5 771.4 L272.5 771.4 L273.4 770.5 L273.5 770.4 L274.5 770.4 L274.6 770.5 L275.5 771.4 L275.6 771.5 L275.6 772.5 L275.6 773.5 L275.6 774.5 L275.6 775.5 L275.6 776.5 L275.6 777.5 L275.5 777.6 L274.6 778.5 L274.6 779.5 L274.5 779.6 L273.6 780.5 L273.5 780.6 L272.5 780.6 L271.5 780.6 L270.6 781.5 L270.6 782.5 L270.6 783.5 L270.6 784.5 L270.6 785.5 L270.6 786.5 L270.5 786.6 L269.6 787.5 L269.6 788.5 L269.5 788.6 L268.6 789.5 L268.5 789.6 L267.5 789.6 L266.6 790.5 L266.5 790.6 L265.6 791.5 L265.5 791.6 L264.6 792.5 L264.5 792.6 L264.4 792.5 L263.5 791.6 L262.5 791.6 L261.5 791.6 L260.5 792.5 L260.5 792.5 L259.5 793.5 L259.5 794.5 L259.5 795.5 L260.5 796.5 L260.5 796.5 L260.5 797.5 L260.5 797.5 L259.5 798.5 L259.5 798.5 L258.5 798.5 L257.5 798.5 L256.5 799.5 L256.5 799.5 L255.5 800.5 L255.5 800.5 L254.5 801.5 L254.5 802.5 L254.5 802.5 L253.6 803.5 L253.5 803.6 L252.6 804.5 L252.5 804.6 L251.6 805.5 L251.5 805.6 L251.4 805.5 L250.5 804.6 L250.4 804.5 L250.4 803.5 L249.5 802.6 L249.4 802.5 L249.5 802.4 L250.4 801.5 L250.5 801.4 L251.4 800.5 L251.5 800.4 L252.4 799.5 L252.5 799.4 L253.4 798.5 L253.5 798.4 L254.5 798.4 L255.5 797.5 L255.5 797.5 L256.5 796.5 L256.5 796.5 L257.5 795.5 L257.5 795.5 L258.5 794.5 L258.5 793.5 L258.5 792.5 L258.5 792.5 L259.5 791.5 L259.5 791.5 L260.5 791.5 L261.4 790.5 L261.5 790.4 L262.4 789.5 L262.5 789.4 L263.5 789.4 L264.4 788.5 L264.5 788.4 L265.4 787.5 L264.5 786.6 L264.4 786.5 L264.4 785.5 L264.4 784.5 L264.4 783.5 L264.4 782.5 L264.4 781.5 L263.5 780.6 L263.4 780.5 L262.5 779.6 L261.5 779.6 L260.5 779.6 L259.6 780.5 L259.6 781.5 L259.6 782.5 L259.5 782.6 L258.6 783.5 L258.6 784.5 L258.5 784.6 L257.5 784.6 L256.5 784.6 L256.4 784.5 L255.5 783.6 L254.5 783.6 L253.5 783.6 L253.4 783.5 L253.5 783.4 L254.4 782.5 L254.4 781.5 L254.4 780.5 L253.5 779.6 L252.6 780.5 L252.5 780.6 L251.6 781.5 L251.5 781.6 L250.6 782.5 L250.5 782.6 L249.6 783.5 L249.5 783.6 L248.6 784.5 L248.6 785.5 L249.5 786.4 L250.5 786.4 L250.6 786.5 L251.5 787.4 L251.6 787.5 L251.5 787.6 L250.6 788.5 L250.6 789.5 L250.6 790.5 L250.5 790.6 L249.6 791.5 L249.6 792.5 L249.6 793.5 L249.6 794.5 L249.5 794.6 L248.6 795.5 L248.5 795.6 L247.5 795.6 L247.4 795.5 L246.5 794.6 L245.5 794.5 L245.5 794.5 L244.5 793.5 L243.5 793.5 L242.5 793.5 L242.5 793.5 L241.5 792.5 L241.5 792.5 L241.5 791.5 L240.5 790.5 L240.5 790.5 L240.5 789.5 L240.5 788.5 L240.5 787.5 L240.5 786.5 L240.5 786.5 L241.5 785.5 L241.5 785.5 L242.5 785.5 L243.5 784.5 L243.5 784.5 L244.4 783.5 L244.4 782.5 L243.5 781.6 L243.4 781.5 L242.5 780.6 L241.6 781.5 L241.5 781.6 L240.6 782.5 L240.5 782.6 L239.6 783.5 L239.5 783.6 L238.5 784.5 L238.5 784.5 L237.5 785.5 L237.5 785.5 L236.5 786.5 L236.5 786.5 L235.5 787.5 L235.5 787.5 L234.6 788.5 L234.5 788.6 L233.6 789.5 L233.5 789.6 L232.5 789.6 L232.4 789.5 L231.5 788.6 L230.5 788.6 L230.4 788.5 L230.4 787.5 L229.5 786.6 L229.4 786.5 L228.5 785.6 L227.5 785.6 L227.4 785.5 L226.5 784.6 L225.5 784.6 L224.5 784.6 L223.5 784.6 L222.5 784.6 L221.6 785.5 L221.5 785.6 L221.4 785.5 L220.5 784.6 L220.4 784.5 L220.4 783.5 L220.5 783.4 L221.4 782.5 L221.4 781.5 L221.4 780.5 L220.5 779.6 L220.4 779.5 L220.4 778.5 L220.4 777.5 L219.5 776.6 L219.4 776.5 L218.5 775.6 L218.4 775.5 L217.5 774.6 L216.5 774.6 L215.5 774.6 L214.5 774.6 L213.5 774.6 L213.4 774.5 L212.5 773.6 L211.5 773.6 L211.4 773.5 L210.5 772.6 L210.4 772.5 L210.4 771.5 L210.4 770.5 L210.4 769.5 L210.5 769.4 L211.4 768.5 L210.5 767.6 L209.5 767.6 L208.5 767.6 L208.4 767.5 L207.5 766.6 L207.4 766.5 L206.5 765.6 L205.5 765.6 L205.4 765.5 L205.4 764.5 L205.4 763.5 L205.4 762.5 L205.4 761.5 L204.5 760.6 L204.4 760.5 L203.5 759.6 L202.5 759.6 L201.5 759.6 L201.4 759.5 L201.4 758.5 L200.5 757.6 L200.4 757.5 L199.5 756.6 L198.5 756.6 L198.4 756.5 L198.4 755.5 L197.5 754.6 L197.4 754.5 L196.5 753.6 L195.5 753.6 L195.4 753.5 L194.5 752.6 L194.4 752.5 L193.5 751.6 L193.4 751.5 L192.5 750.6 L192.4 750.5 L191.5 749.6 L190.5 749.6 L190.4 749.5 L190.4 748.5 L190.4 747.5 L190.4 746.5 L190.4 745.5 L189.5 744.6 L189.4 744.5 L189.4 743.5 L189.5 743.4 L190.4 742.5 L190.5 742.4 L191.4 741.5 L191.5 741.4 L192.4 740.5 L192.5 740.4 L193.5 740.4 L194.5 740.4 L195.5 740.4 L196.5 740.4 L197.4 739.5 L197.5 739.4 L198.5 739.4 L199.5 739.4 L199.6 739.5 L199.6 740.5 L200.5 741.4 L201.5 741.4 L202.5 741.4 L203.5 741.4 L204.5 741.4 L205.4 740.5 L205.5 740.4 L206.5 740.4 L207.5 740.4 L208.5 740.4 L209.4 739.5 L209.4 738.5 L209.4 737.5 L209.4 736.5 L208.5 735.6 L207.5 735.6 L207.4 735.5 L206.5 734.6 L206.4 734.5 L206.4 733.5 L205.5 732.6 L205.4 732.5 L205.4 731.5 L205.5 731.4 L206.5 731.4 L207.5 731.4 L208.4 730.5 L208.5 730.4 L209.4 729.5 L209.4 728.5 L209.4 727.5 L209.4 726.5 L209.5 726.4 L210.4 725.5 L210.4 724.5 L210.5 724.4 L211.5 724.4 L212.5 724.4 L213.5 724.4 L213.6 724.5 L214.5 725.4 L215.5 725.4 L216.5 725.4 L217.5 725.4 L218.5 725.4 L219.4 724.5 L219.5 724.4 L220.4 723.5 L220.4 722.5 L220.5 722.4 L221.4 721.5 L221.5 721.4 L222.5 721.4 L223.5 721.4 L224.5 721.4 L225.4 720.5 L225.5 720.4 L226.4 719.5 L226.4 718.5 L225.5 717.6 L225.4 717.5 L225.4 716.5 L225.4 715.5 L225.5 715.4 L226.5 715.4 L227.5 715.4 L228.5 715.4 L229.4 714.5 L229.4 713.5 L229.5 713.4 L230.4 712.5 L230.4 711.5 L230.5 711.4 L231.4 710.5 L231.5 710.4 L232.5 710.4 L233.5 710.4 L234.4 709.5 L234.4 708.5 L234.4 707.5 L234.5 707.4 L235.4 706.5 L235.4 705.5 L235.5 705.4 L236.4 704.5 L236.4 703.5 L236.4 702.5 L236.4 701.5 L235.5 700.6 L235.4 700.5 L235.4 699.5 L235.5 699.4 L236.5 699.4 L237.5 699.4 L237.6 699.5 L237.6 700.5 L238.5 701.4 L239.5 701.4 L240.4 700.5 L240.5 700.4 L241.5 700.4 L242.5 700.4 L243.5 700.4 L244.5 700.4 L245.5 700.4 L246.5 700.4 L247.5 700.4 L248.5 700.4 L249.5 700.4 L250.5 700.4 L251.5 700.4 L252.5 700.4 L253.5 700.4 L254.4 699.5 L254.5 699.4 L255.5 699.4 L256.5 699.4 L257.5 699.4 L258.5 699.4 L259.5 699.4 L260.5 699.4 L260.6 699.5 L261.5 700.4 L261.6 700.5 L262.5 701.4 L262.6 701.5 L263.5 702.4 L263.6 702.5 L264.5 703.4 L264.6 703.5 L265.5 704.4 L265.6 704.5 L265.6 705.5 L266.5 706.4 L266.6 706.5 L266.6 707.5 L266.5 707.6 L265.6 708.5 L265.6 709.5 L265.6 710.5 L265.6 711.5 L265.6 712.5 L265.5 712.6 L264.5 712.6 L263.5 712.6 L262.6 713.5 L262.5 713.6 L261.6 714.5 L261.6 715.5 L261.5 715.6 L260.6 716.5 L260.6 717.5 L260.5 717.6 L259.6 718.5 L259.6 719.5 L260.5 720.4 L261.5 720.4 L262.5 720.4 L263.5 720.4 L264.5 720.4 L264.6 720.5 L265.5 721.4 L265.6 721.5 L266.5 722.4 L266.6 722.5 L266.6 723.5 L266.6 724.5 L266.5 724.6 L265.6 725.5 L265.5 725.6 L264.6 726.5 L264.6 727.5 L265.5 728.4 L265.6 728.5 L265.6 729.5 L265.6 730.5 L266.5 731.4 L267.5 731.4 L268.5 731.4 L269.5 731.4 L270.4 730.5 L270.5 730.4 L271.4 729.5 L271.5 729.4 L272.4 728.5 L272.5 728.4 L273.5 728.4 L274.4 727.5 L273.5 726.6 L272.5 726.6 L272.4 726.5 L272.4 725.5 L271.5 724.6 L271.4 724.5 L271.4 723.5 L271.4 722.5 L270.5 721.6 L270.4 721.5 L269.5 720.6 L269.4 720.5 L269.4 719.5 L269.4 718.5 L269.4 717.5 L269.4 716.5 L269.4 715.5 L269.4 714.5 L269.4 713.5 L269.4 712.5 L269.4 711.5 L269.4 710.5 L269.4 709.5 L269.4 708.5 L269.4 707.5 L269.4 706.5 L269.4 705.5 L269.4 704.5 L269.4 703.5 L269.4 702.5 L269.5 702.4 L270.4 701.5 L270.4 700.5 L270.4 699.5 L269.5 698.6 L269.4 698.5 L269.5 698.4 L270.4 697.5 L270.5 697.4 L271.4 696.5 L271.5 696.4 L272.4 695.5 L272.5 695.4 L273.5 695.4 L274.4 694.5 L274.4 693.5 L274.5 693.4 L275.4 692.5 L275.4 691.5 L275.5 691.4 L276.4 690.5 L276.5 690.4 L277.5 690.4 L278.5 690.4 L279.4 689.5 L279.4 688.5 L279.5 688.4 L280.4 687.5 L280.4 686.5 L280.4 685.5 L280.5 685.4 L281.5 685.4 L282.4 684.5 L282.5 684.4 L283.5 684.4 L284.5 684.4 L285.5 684.4 L286.4 683.5 L286.4 682.5 L286.4 681.5 L286.5 681.4 L287.5 681.4 L288.4 680.5 L288.5 680.4 L289.4 679.5 L289.5 679.4 L290.4 678.5 L290.4 677.5 L290.5 677.4 L291.4 676.5 L291.4 675.5 L290.5 674.6 L290.4 674.5 L290.3 673.5 L290.3 672.5 L289.5 671.7 L289.3 671.5 L289.5 671.3 L290.3 670.5 L290.5 670.3 L291.5 670.3 L292.3 669.5 L292.5 669.3 L293.5 669.3 L294.5 669.3 L295.3 668.5 L295.3 667.5 L295.3 666.5 L295.5 666.3 L296.3 665.5 L296.5 665.3 L297.3 664.5ZM295.6 669.5 L296.5 670.4 L297.3 669.5 L296.5 668.7ZM255.6 709.5 L255.6 710.5 L256.5 711.4 L257.4 710.5 L257.4 709.5 L256.5 708.6ZM306.6 713.5 L307.5 714.4 L308.4 713.5 L307.5 712.6ZM246.6 753.5 L246.5 753.6 L245.6 754.5 L245.6 755.5 L246.5 756.4 L247.5 756.4 L248.5 756.4 L249.4 755.5 L249.5 755.4 L250.4 754.5 L249.5 753.6 L248.5 753.6 L248.4 753.5 L247.5 752.6ZM171.5 699.5 L172.5 699.5 L173.5 699.5 L174.5 699.5 L175.5 699.5 L175.5 699.5 L176.5 700.5 L177.5 700.5 L178.5 700.5 L179.5 700.5 L180.5 700.5 L181.5 700.5 L182.5 700.5 L182.5 700.5 L182.5 701.5 L182.5 702.5 L183.5 703.5 L183.5 703.5 L184.5 704.4 L185.5 704.4 L185.6 704.5 L186.5 705.4 L186.6 705.5 L187.5 706.4 L188.5 706.4 L189.5 706.4 L189.6 706.5 L189.6 707.5 L189.5 707.6 L188.6 708.5 L188.5 708.6 L187.6 709.5 L187.6 710.5 L187.5 710.6 L186.6 711.5 L186.5 711.6 L185.6 712.5 L185.6 713.5 L185.6 714.5 L185.6 715.5 L185.6 716.5 L185.6 717.5 L185.5 717.6 L184.6 718.5 L184.6 719.5 L184.5 719.6 L183.6 720.5 L183.6 721.5 L184.5 722.4 L184.6 722.5 L184.6 723.5 L184.6 724.5 L184.6 725.5 L184.6 726.5 L184.6 727.5 L184.6 728.5 L184.6 729.5 L184.5 729.6 L183.6 730.5 L183.5 730.6 L183.4 730.5 L182.5 729.6 L182.4 729.5 L181.5 728.6 L180.5 728.6 L179.5 728.6 L178.6 729.5 L178.5 729.6 L177.5 729.6 L176.5 729.6 L176.4 729.5 L175.5 728.6 L175.4 728.5 L175.4 727.5 L174.5 726.6 L174.4 726.5 L173.5 725.6 L173.4 725.5 L172.5 724.6 L171.5 724.6 L171.4 724.5 L171.4 723.5 L170.5 722.6 L170.4 722.5 L169.5 721.6 L168.5 721.6 L167.5 721.6 L167.4 721.5 L166.5 720.6 L166.4 720.5 L166.4 719.5 L165.5 718.6 L165.4 718.5 L165.4 717.5 L164.5 716.6 L164.4 716.5 L163.5 715.6 L162.5 715.6 L161.5 715.6 L161.4 715.5 L160.5 714.6 L160.4 714.5 L160.4 713.5 L160.4 712.5 L160.4 711.5 L160.4 710.5 L160.4 709.5 L160.4 708.5 L160.5 708.4 L161.4 707.5 L161.5 707.4 L162.4 706.5 L162.5 706.4 L163.5 706.4 L164.5 706.4 L165.5 706.4 L166.4 705.5 L166.4 704.5 L165.5 703.6 L165.4 703.5 L164.5 702.6 L164.4 702.5 L164.5 701.5 L164.5 701.5 L165.5 701.5 L166.5 701.5 L167.5 701.5 L168.5 701.5 L169.5 701.5 L170.5 700.5 L170.5 700.5 L171.5 699.5ZM274.5 765.4 L275.5 765.4 L276.5 765.4 L277.5 765.4 L278.5 765.4 L278.6 765.5 L279.5 766.4 L279.6 766.5 L279.6 767.5 L279.5 767.6 L278.6 768.5 L278.5 768.6 L277.6 769.5 L277.5 769.6 L276.5 769.6 L275.5 769.6 L275.4 769.5 L274.5 768.6 L274.4 768.5 L274.4 767.5 L274.4 766.5 L274.4 765.5ZM262.5 794.5 L263.5 794.5 L264.5 794.5 L264.5 794.5 L264.5 795.5 L264.5 795.5 L263.5 795.5 L262.5 795.5 L262.5 795.5 L262.5 794.5Z"/>
<path fill="#fff000" fill-rule="evenodd" d="M297.5 664.4 L298.5 664.4 L298.6 664.5 L299.5 665.4 L300.5 665.4 L300.6 665.5 L300.6 666.5 L300.5 666.6 L299.6 667.5 L299.6 668.5 L299.6 669.5 L300.5 670.4 L301.5 670.4 L301.6 670.5 L302.5 671.4 L303.5 671.4 L303.6 671.5 L304.5 672.4 L304.6 672.5 L305.5 673.4 L305.6 673.5 L306.5 674.4 L306.6 674.5 L307.5 675.4 L307.6 675.5 L308.5 676.4 L308.6 676.5 L309.5 677.4 L309.6 677.5 L310.5 678.4 L310.6 678.5 L311.5 679.4 L311.6 679.5 L312.5 680.4 L313.5 680.4 L313.6 680.5 L313.6 681.5 L313.5 681.6 L312.6 682.5 L313.5 683.4 L313.6 683.5 L314.5 684.4 L315.5 684.4 L316.5 684.4 L317.5 684.4 L317.6 684.5 L318.5 685.4 L318.6 685.5 L319.5 686.4 L319.6 686.5 L319.6 687.5 L320.5 688.4 L320.6 688.5 L321.5 689.4 L321.6 689.5 L322.5 690.4 L322.6 690.5 L323.5 691.4 L323.6 691.5 L324.5 692.4 L324.6 692.5 L324.5 692.6 L323.6 693.5 L323.5 693.6 L322.6 694.5 L322.5 694.6 L321.5 694.6 L320.5 694.6 L319.6 695.5 L319.6 696.5 L319.6 697.5 L319.6 698.5 L319.6 699.5 L319.5 699.6 L318.6 700.5 L318.6 701.5 L318.6 702.5 L318.6 703.5 L318.5 703.6 L317.5 703.6 L316.6 704.5 L316.5 704.6 L315.6 705.5 L315.5 705.6 L314.6 706.5 L314.5 706.6 L313.6 707.5 L313.6 708.5 L313.6 709.5 L313.6 710.5 L313.6 711.5 L314.5 712.4 L314.6 712.5 L314.6 713.5 L314.5 713.6 L313.5 713.6 L312.5 713.6 L311.5 713.6 L310.6 714.5 L310.6 715.5 L310.6 716.5 L310.5 716.6 L309.6 717.5 L309.5 717.6 L308.5 717.6 L307.6 718.5 L307.5 718.6 L306.6 719.5 L306.5 719.6 L305.5 719.6 L304.5 719.6 L303.5 719.6 L302.6 720.5 L302.5 720.6 L301.6 721.5 L301.5 721.6 L300.5 721.6 L299.6 722.5 L299.6 723.5 L299.6 724.5 L299.6 725.5 L299.6 726.5 L299.6 727.5 L299.6 728.5 L299.6 729.5 L299.6 730.5 L299.5 730.6 L298.6 731.5 L298.6 732.5 L298.6 733.5 L299.5 734.4 L299.6 734.5 L299.6 735.5 L299.5 735.6 L298.5 735.6 L298.4 735.5 L297.5 734.6 L297.4 734.5 L296.5 733.6 L295.5 733.6 L294.5 733.6 L293.5 733.6 L292.5 733.6 L291.6 734.5 L291.5 734.6 L290.6 735.5 L290.5 735.6 L289.6 736.5 L289.6 737.5 L289.6 738.5 L289.6 739.5 L289.6 740.5 L289.6 741.5 L289.6 742.5 L289.6 743.5 L289.6 744.5 L289.5 744.6 L288.6 745.5 L288.6 746.5 L288.6 747.5 L288.6 748.5 L289.5 749.4 L289.6 749.5 L289.5 749.6 L288.6 750.5 L288.5 750.6 L287.5 750.6 L286.5 750.6 L285.5 750.6 L284.6 751.5 L284.6 752.5 L284.6 753.5 L284.5 753.6 L283.6 754.5 L283.6 755.5 L283.5 755.6 L282.5 755.6 L282.4 755.5 L281.5 754.6 L280.5 754.6 L279.6 755.5 L279.6 756.5 L279.5 756.6 L278.6 757.5 L278.6 758.5 L278.5 758.6 L277.6 759.5 L277.5 759.6 L276.6 760.5 L276.5 760.6 L275.6 761.5 L275.5 761.6 L274.6 762.5 L274.5 762.6 L273.6 763.5 L273.5 763.6 L272.6 764.5 L272.5 764.6 L271.5 764.6 L270.5 764.6 L269.6 765.5 L269.5 765.6 L268.5 765.6 L268.4 765.5 L267.5 764.6 L266.5 764.6 L265.6 765.5 L265.5 765.6 L264.6 766.5 L264.5 766.6 L263.6 767.5 L263.6 768.5 L263.6 769.5 L263.5 770.5 L263.5 770.5 L262.5 770.6 L261.5 770.6 L260.5 770.6 L259.5 770.6 L258.5 770.6 L257.5 770.5 L256.5 770.5 L255.5 771.5 L255.5 771.5 L254.5 771.5 L253.5 772.5 L253.5 773.5 L253.5 774.5 L254.5 775.5 L255.5 775.5 L256.5 775.5 L257.5 775.5 L258.5 775.5 L259.5 775.5 L260.5 775.5 L261.5 775.5 L262.5 775.5 L262.5 775.5 L263.5 776.5 L263.5 776.5 L264.5 777.5 L264.5 777.5 L264.5 778.5 L264.5 779.5 L265.5 780.5 L265.5 780.5 L266.5 781.5 L266.5 781.5 L267.5 782.5 L268.5 782.5 L269.5 781.5 L269.5 781.5 L270.5 780.5 L270.5 779.5 L270.5 778.5 L270.5 777.5 L270.5 776.5 L270.5 775.5 L270.5 774.5 L269.5 773.5 L269.5 773.5 L269.5 773.5 L270.5 772.5 L270.5 772.5 L271.5 771.5 L271.5 771.5 L272.5 771.5 L273.5 770.5 L273.5 770.5 L274.5 770.5 L274.5 770.5 L275.5 771.5 L275.5 771.5 L275.5 772.5 L275.5 773.5 L275.5 774.5 L275.5 775.5 L275.5 776.5 L275.5 777.5 L275.5 777.5 L274.5 778.5 L274.5 779.5 L274.5 779.5 L273.5 780.5 L273.5 780.5 L272.5 780.5 L271.5 780.5 L270.5 781.5 L270.5 782.5 L270.5 783.5 L270.5 784.5 L270.5 785.5 L270.5 786.5 L270.5 786.5 L269.5 787.5 L269.5 788.5 L269.5 788.5 L268.5 789.5 L268.5 789.5 L267.5 789.5 L266.5 790.5 L266.5 790.5 L265.5 791.5 L265.5 791.5 L264.5 792.5 L264.5 792.5 L264.5 792.5 L263.5 791.5 L262.5 791.5 L261.5 791.5 L260.5 791.5 L261.5 790.5 L261.5 790.5 L262.5 789.5 L262.5 789.5 L263.5 789.5 L264.5 788.5 L264.5 788.5 L265.5 787.5 L264.5 786.5 L264.5 786.5 L264.5 785.5 L264.5 784.5 L264.5 783.5 L264.5 782.5 L264.5 781.5 L263.5 780.5 L263.5 780.5 L262.5 779.5 L261.5 779.5 L260.5 779.5 L259.5 780.5 L259.5 781.5 L259.5 782.5 L259.5 782.5 L258.5 783.5 L258.5 784.5 L258.5 784.5 L257.5 784.5 L256.5 784.5 L256.5 784.5 L255.5 783.5 L254.5 783.5 L253.5 783.5 L253.5 783.5 L253.5 783.5 L254.5 782.5 L254.5 781.5 L254.5 780.5 L253.5 779.5 L252.5 780.5 L252.5 780.5 L251.5 781.5 L251.5 781.5 L250.5 782.5 L250.5 782.5 L249.5 783.5 L249.5 783.5 L248.5 784.5 L248.5 785.5 L249.5 786.5 L250.5 786.5 L250.5 786.5 L251.5 787.5 L251.5 787.5 L251.5 787.5 L250.5 788.5 L250.5 789.5 L250.5 790.5 L250.5 790.5 L249.5 791.5 L249.5 792.5 L249.5 793.5 L249.5 794.5 L249.5 794.5 L248.5 795.5 L248.5 795.5 L247.5 795.5 L247.5 795.5 L246.5 794.5 L245.5 794.5 L245.5 794.5 L244.5 793.5 L244.2 793.5 L244.5 792.6 L244.5 792.5 L245.5 791.9 L246.5 791.7 L247.0 791.5 L247.5 791.1 L248.2 790.5 L248.3 789.5 L247.7 788.5 L247.5 788.3 L246.5 787.8 L245.5 787.7 L244.9 787.5 L244.5 787.2 L243.5 787.0 L242.5 787.0 L242.1 787.5 L241.5 788.4 L241.4 788.5 L240.5 788.8 L240.5 788.5 L240.5 787.5 L240.5 786.5 L240.5 786.5 L241.5 785.5 L241.5 785.5 L242.5 785.5 L243.5 784.5 L243.5 784.5 L244.5 783.5 L244.5 782.5 L243.5 781.5 L243.5 781.5 L242.5 780.5 L241.5 781.5 L241.5 781.5 L240.5 782.5 L240.5 782.5 L239.5 783.5 L239.5 783.5 L238.5 784.5 L238.5 784.5 L237.5 785.5 L237.5 785.5 L236.5 786.3 L235.9 786.5 L235.5 787.1 L235.4 787.5 L234.5 788.5 L234.5 788.5 L233.5 789.5 L233.5 789.5 L232.5 789.5 L232.5 789.5 L231.5 788.5 L230.5 788.5 L230.5 788.5 L230.5 787.5 L229.5 786.5 L229.5 786.5 L228.5 785.5 L227.5 785.5 L227.5 785.5 L226.5 784.5 L225.5 784.5 L224.5 784.5 L223.5 784.5 L222.5 784.5 L221.5 785.5 L221.5 785.5 L221.5 785.5 L220.5 784.5 L220.5 784.5 L220.5 783.5 L220.5 783.5 L221.5 782.5 L221.5 781.5 L221.5 780.5 L220.5 779.5 L220.5 779.5 L220.5 778.5 L220.5 777.5 L219.5 776.5 L219.5 776.5 L218.5 775.5 L218.5 775.5 L217.5 774.5 L216.5 774.5 L215.5 774.5 L214.5 774.5 L213.5 774.5 L213.5 774.5 L212.5 773.5 L211.5 773.5 L211.5 773.5 L210.5 772.5 L210.5 772.5 L210.5 771.5 L210.5 770.5 L210.5 769.5 L210.5 769.5 L211.5 768.5 L210.5 767.5 L209.5 767.5 L208.5 767.5 L208.5 767.5 L207.5 766.5 L207.5 766.5 L206.5 765.5 L205.5 765.5 L205.5 765.5 L205.5 764.5 L205.5 763.5 L205.5 762.5 L205.5 761.5 L204.5 760.5 L204.5 760.5 L203.5 759.5 L202.5 759.5 L201.5 759.5 L201.5 759.5 L201.5 758.5 L200.5 757.5 L200.5 757.5 L199.5 756.5 L198.5 756.5 L198.5 756.5 L198.5 755.5 L197.5 754.5 L197.5 754.5 L196.5 753.5 L195.5 753.5 L195.5 753.5 L194.5 752.5 L194.5 752.5 L193.5 751.5 L193.5 751.5 L192.5 750.5 L192.5 750.5 L191.5 749.5 L190.5 749.5 L190.5 749.5 L190.5 748.5 L190.5 747.5 L190.5 746.5 L190.5 745.5 L189.5 744.5 L189.5 744.5 L189.5 743.5 L189.5 743.5 L190.5 742.5 L190.5 742.5 L191.5 741.5 L191.5 741.5 L192.5 740.5 L192.5 740.5 L193.5 740.5 L194.5 740.5 L195.5 740.5 L196.5 740.5 L197.5 739.5 L197.5 739.5 L198.5 739.5 L199.5 739.5 L199.5 739.5 L199.5 740.5 L200.5 741.5 L201.5 741.5 L202.5 741.5 L203.5 741.5 L204.5 741.5 L205.5 740.5 L205.5 740.5 L206.5 740.5 L207.5 740.5 L208.5 740.5 L209.4 739.5 L209.4 738.5 L209.4 737.5 L209.4 736.5 L208.5 735.6 L207.5 735.6 L207.4 735.5 L206.5 734.6 L206.4 734.5 L206.4 733.5 L205.5 732.6 L205.4 732.5 L205.4 731.5 L205.5 731.4 L206.5 731.4 L207.5 731.4 L208.4 730.5 L208.5 730.4 L209.4 729.5 L209.4 728.5 L209.4 727.5 L209.4 726.5 L209.5 726.4 L210.4 725.5 L210.4 724.5 L210.5 724.4 L211.5 724.4 L212.5 724.4 L213.5 724.4 L213.6 724.5 L214.5 725.4 L215.5 725.4 L216.5 725.4 L217.5 725.4 L218.5 725.4 L219.4 724.5 L219.5 724.4 L220.4 723.5 L220.4 722.5 L220.5 722.4 L221.4 721.5 L221.5 721.4 L222.5 721.4 L223.5 721.4 L224.5 721.4 L225.4 720.5 L225.5 720.4 L226.4 719.5 L226.4 718.5 L225.5 717.6 L225.4 717.5 L225.4 716.5 L225.4 715.5 L225.5 715.4 L226.5 715.4 L227.5 715.4 L228.5 715.4 L229.4 714.5 L229.4 713.5 L229.5 713.4 L230.4 712.5 L230.5 711.5 L230.5 711.5 L231.5 710.5 L231.5 710.5 L232.5 710.4 L233.5 710.4 L234.4 709.5 L234.4 708.5 L234.4 707.5 L234.5 707.4 L235.4 706.5 L235.4 705.5 L235.5 705.4 L236.4 704.5 L236.4 703.5 L236.4 702.5 L236.4 701.5 L235.5 700.6 L235.4 700.5 L235.4 699.5 L235.5 699.4 L236.5 699.4 L237.5 699.4 L237.6 699.5 L237.6 700.5 L238.5 701.4 L239.5 701.4 L240.4 700.5 L240.5 700.4 L241.5 700.4 L242.5 700.4 L243.5 700.4 L244.5 700.4 L245.5 700.4 L246.5 700.4 L247.5 700.4 L248.5 700.4 L249.5 700.4 L250.5 700.4 L251.5 700.4 L252.5 700.4 L253.5 700.4 L254.4 699.5 L254.5 699.4 L255.5 699.4 L256.5 699.4 L257.5 699.4 L258.5 699.4 L259.5 699.4 L260.5 699.4 L260.6 699.5 L261.5 700.4 L261.6 700.5 L262.5 701.4 L262.6 701.5 L263.5 702.4 L263.6 702.5 L264.5 703.4 L264.6 703.5 L265.5 704.4 L265.6 704.5 L265.6 705.5 L266.5 706.4 L266.6 706.5 L266.6 707.5 L266.5 707.6 L265.6 708.5 L265.6 709.5 L265.6 710.5 L265.6 711.5 L265.6 712.5 L265.5 712.6 L264.5 712.6 L263.5 712.6 L262.6 713.5 L262.5 713.6 L261.6 714.5 L261.6 715.5 L261.5 715.6 L260.6 716.5 L260.6 717.5 L260.5 717.6 L259.6 718.5 L259.6 719.5 L260.5 720.4 L261.5 720.4 L262.5 720.4 L263.5 720.4 L264.5 720.4 L264.6 720.5 L265.5 721.4 L265.6 721.5 L266.5 722.4 L266.6 722.5 L266.6 723.5 L266.6 724.5 L266.5 724.6 L265.6 725.5 L265.5 725.6 L264.6 726.5 L264.6 727.5 L265.5 728.4 L265.6 728.5 L265.6 729.5 L265.6 730.5 L266.5 731.5 L267.5 731.5 L268.5 731.5 L269.5 731.5 L270.5 730.5 L270.5 730.5 L271.4 729.5 L271.5 729.4 L272.4 728.5 L272.5 728.4 L273.5 728.4 L274.4 727.5 L273.5 726.6 L272.5 726.6 L272.4 726.5 L272.4 725.5 L271.5 724.6 L271.4 724.5 L271.5 723.5 L271.4 722.5 L270.5 721.6 L270.4 721.5 L269.5 720.6 L269.4 720.5 L269.4 719.5 L269.4 718.5 L269.4 717.5 L269.4 716.5 L269.4 715.5 L269.4 714.5 L269.4 713.5 L269.4 712.5 L269.4 711.5 L269.4 710.5 L269.4 709.5 L269.4 708.5 L269.4 707.5 L269.4 706.5 L269.4 705.5 L269.4 704.5 L269.4 703.5 L269.4 702.5 L269.5 702.4 L270.4 701.5 L270.4 700.5 L270.4 699.5 L269.5 698.6 L269.4 698.5 L269.5 698.4 L270.4 697.5 L270.5 697.4 L271.4 696.5 L271.5 696.4 L272.4 695.5 L272.5 695.4 L273.5 695.4 L274.4 694.5 L274.4 693.5 L274.5 693.4 L275.4 692.5 L275.4 691.5 L275.5 691.4 L276.4 690.5 L276.5 690.4 L277.5 690.4 L278.5 690.4 L279.4 689.5 L279.4 688.5 L279.5 688.4 L280.4 687.5 L280.4 686.5 L280.4 685.5 L280.5 685.4 L281.5 685.4 L282.4 684.5 L282.5 684.4 L283.5 684.4 L284.5 684.4 L285.5 684.4 L286.4 683.5 L286.4 682.5 L286.4 681.5 L286.5 681.4 L287.5 681.4 L288.4 680.5 L288.5 680.4 L289.4 679.5 L289.5 679.4 L290.4 678.5 L290.4 677.5 L290.5 677.4 L291.4 676.5 L291.4 675.5 L290.5 674.6 L290.4 674.5 L290.4 673.5 L290.4 672.5 L289.5 671.6 L289.4 671.5 L289.5 671.4 L290.4 670.5 L290.5 670.4 L291.5 670.4 L292.4 669.5 L292.5 669.4 L293.5 669.4 L294.5 669.4 L295.4 668.5 L295.4 667.5 L295.4 666.5 L295.5 666.4 L296.4 665.5 L296.5 665.4 L297.4 664.5ZM295.6 669.5 L296.5 670.4 L297.4 669.5 L296.5 668.6ZM255.6 709.5 L255.6 710.5 L256.5 711.4 L257.4 710.5 L257.4 709.5 L256.5 708.6ZM306.6 713.5 L307.5 714.4 L308.4 713.5 L307.5 712.6ZM217.5 751.5 L217.3 752.5 L217.5 752.8 L217.9 752.5 L217.6 751.5 L217.5 751.4ZM220.4 751.5 L220.5 751.7 L220.7 751.5 L220.5 751.2ZM246.5 753.5 L246.5 753.5 L245.5 754.5 L245.5 755.5 L246.5 756.5 L247.5 756.5 L248.5 756.5 L249.5 755.5 L249.5 755.5 L250.5 754.5 L249.5 753.5 L248.5 753.5 L248.5 753.5 L247.5 752.5ZM228.0 777.5 L227.5 777.7 L226.5 778.1 L226.1 778.5 L226.1 779.5 L226.5 780.3 L226.7 780.5 L226.9 781.5 L227.0 782.5 L227.5 783.1 L228.2 783.5 L228.5 783.7 L229.5 783.7 L229.7 783.5 L230.5 783.0 L230.9 782.5 L231.3 781.5 L231.5 781.1 L232.5 780.6 L232.7 780.5 L232.8 779.5 L232.5 778.5 L232.5 778.5 L231.5 777.8 L230.9 777.5 L230.5 777.3 L229.5 776.8 L228.5 777.3ZM232.3 783.5 L232.5 783.7 L232.9 783.5 L232.5 783.4ZM171.5 699.5 L172.4 699.5 L171.5 699.8 L171.5 699.5ZM170.5 700.5 L170.7 700.5 L170.8 701.5 L171.5 701.7 L172.4 701.5 L172.5 701.3 L172.6 701.5 L173.5 702.3 L174.5 701.5 L174.5 701.5 L175.2 700.5 L175.5 700.1 L176.5 700.5 L176.8 700.5 L177.5 701.4 L177.6 701.5 L178.5 702.0 L179.5 702.0 L180.5 702.1 L181.5 702.3 L182.5 702.4 L182.5 702.5 L183.5 703.5 L183.5 703.5 L184.5 704.5 L185.5 704.5 L185.5 704.5 L186.5 705.5 L186.5 705.5 L187.5 706.4 L188.5 706.4 L189.5 706.5 L189.5 706.5 L189.5 707.5 L189.5 707.5 L188.6 708.5 L188.5 708.6 L187.6 709.5 L187.6 710.5 L187.5 710.6 L186.6 711.5 L186.5 711.6 L185.6 712.5 L185.6 713.5 L185.5 714.5 L185.5 715.5 L185.5 716.5 L185.5 717.5 L185.5 717.5 L184.5 718.5 L184.5 719.5 L184.5 719.5 L183.5 720.5 L183.5 721.5 L184.5 722.5 L184.5 722.5 L184.5 723.5 L184.5 724.5 L184.5 725.5 L184.5 726.5 L184.5 727.5 L184.5 728.5 L184.6 729.5 L184.5 729.6 L183.6 730.5 L183.5 730.6 L183.4 730.5 L182.5 729.6 L182.4 729.5 L181.5 728.6 L180.5 728.6 L179.5 728.6 L178.5 729.5 L178.5 729.5 L177.5 729.5 L176.5 729.5 L176.5 729.5 L175.5 728.5 L175.5 728.5 L175.5 727.5 L174.5 726.5 L174.5 726.5 L173.5 725.6 L173.4 725.5 L172.5 724.6 L171.5 724.6 L171.4 724.5 L171.4 723.5 L170.5 722.6 L170.4 722.5 L169.5 721.6 L168.5 721.6 L167.5 721.6 L167.4 721.5 L166.5 720.6 L166.4 720.5 L166.4 719.5 L165.5 718.6 L165.4 718.5 L165.4 717.5 L164.5 716.6 L164.4 716.5 L163.5 715.6 L162.5 715.6 L161.5 715.6 L161.4 715.5 L160.5 714.6 L160.4 714.5 L160.4 713.5 L160.4 712.5 L160.5 711.5 L160.5 710.5 L160.5 709.5 L160.5 708.5 L160.5 708.5 L161.5 707.5 L161.5 707.5 L162.5 706.5 L162.5 706.5 L163.5 706.5 L164.5 706.5 L165.5 706.5 L166.5 705.5 L166.5 704.5 L165.5 703.5 L165.5 703.5 L164.5 702.5 L164.5 702.5 L164.5 701.5 L164.5 701.5 L165.5 701.5 L166.5 701.5 L167.5 701.5 L168.5 701.5 L169.5 701.5 L170.5 700.5ZM274.5 765.4 L275.5 765.4 L276.5 765.4 L277.5 765.4 L278.5 765.4 L278.6 765.5 L279.5 766.4 L279.6 766.5 L279.6 767.5 L279.5 767.6 L278.5 768.5 L278.5 768.5 L277.6 769.5 L277.5 769.6 L276.5 769.6 L275.5 769.6 L275.4 769.5 L274.5 768.6 L274.4 768.5 L274.4 767.5 L274.4 766.5 L274.4 765.5ZM263.5 794.5 L264.5 794.5 L264.5 794.5 L264.5 795.5 L264.5 795.5 L263.5 795.5 L262.9 795.5 L262.8 794.5ZM256.5 796.5 L256.6 796.5 L256.5 796.7 L256.5 796.5ZM255.5 797.5 L256.2 797.5 L255.9 798.5 L256.2 799.5 L255.5 800.5 L255.5 800.5 L254.5 801.5 L254.5 802.5 L254.5 802.5 L253.5 803.5 L253.5 803.5 L252.5 804.5 L252.5 804.5 L251.5 805.5 L251.5 805.5 L251.5 805.5 L250.5 804.5 L250.5 804.5 L250.5 803.5 L249.5 802.5 L249.5 802.5 L249.5 802.5 L250.5 801.5 L250.5 801.5 L251.5 800.5 L251.5 800.5 L252.5 799.5 L252.5 799.5 L253.5 798.5 L253.5 798.5 L254.5 798.5 L255.5 797.5ZM260.5 796.9 L260.5 797.5 L260.5 797.5 L259.7 797.5Z"/>
<path fill="#ffd000" fill-rule="evenodd" d="M297.5 664.4 L298.5 664.4 L298.6 664.5 L299.5 665.4 L300.5 665.4 L300.6 665.5 L300.6 666.5 L300.5 666.6 L299.6 667.5 L299.6 668.5 L299.6 669.5 L300.5 670.4 L301.5 670.4 L301.6 670.5 L302.5 671.4 L303.5 671.4 L303.6 671.5 L304.5 672.4 L304.6 672.5 L305.5 673.4 L305.6 673.5 L306.5 674.4 L306.6 674.5 L307.5 675.4 L307.6 675.5 L308.5 676.4 L308.6 676.5 L309.5 677.4 L309.6 677.5 L310.5 678.4 L310.6 678.5 L311.5 679.4 L311.6 679.5 L312.5 680.4 L313.5 680.4 L313.6 680.5 L313.6 681.5 L313.5 681.6 L312.6 682.5 L313.5 683.4 L313.6 683.5 L314.5 684.4 L315.5 684.4 L316.5 684.4 L317.5 684.4 L317.6 684.5 L318.5 685.4 L318.6 685.5 L319.5 686.4 L319.6 686.5 L319.6 687.5 L320.5 688.4 L320.6 688.5 L321.5 689.4 L321.6 689.5 L322.5 690.4 L322.6 690.5 L323.5 691.4 L323.6 691.5 L324.5 692.4 L324.6 692.5 L324.5 692.6 L323.6 693.5 L323.5 693.6 L322.6 694.5 L322.5 694.6 L321.5 694.6 L320.5 694.6 L319.6 695.5 L319.6 696.5 L319.6 697.5 L319.6 698.5 L319.6 699.5 L319.5 699.6 L318.6 700.5 L318.6 701.5 L318.6 702.5 L318.6 703.5 L318.5 703.6 L317.5 703.6 L316.6 704.5 L316.5 704.6 L315.6 705.5 L315.5 705.6 L314.6 706.5 L314.5 706.6 L313.6 707.5 L313.6 708.5 L313.6 709.5 L313.6 710.5 L313.6 711.5 L314.5 712.4 L314.6 712.5 L314.6 713.5 L314.5 713.6 L313.5 713.6 L312.5 713.6 L311.5 713.6 L310.6 714.5 L310.6 715.5 L310.6 716.5 L310.5 716.6 L309.6 717.5 L309.5 717.6 L308.5 717.6 L307.6 718.5 L307.5 718.6 L306.6 719.5 L306.5 719.6 L305.5 719.6 L304.5 719.6 L303.5 719.6 L302.6 720.5 L302.5 720.6 L301.6 721.5 L301.5 721.6 L300.5 721.6 L299.6 722.5 L299.6 723.5 L299.6 724.5 L299.6 725.5 L299.6 726.5 L299.6 727.5 L299.6 728.5 L299.6 729.5 L299.6 730.5 L299.5 730.6 L298.6 731.5 L298.5 732.5 L298.6 733.5 L299.5 734.4 L299.6 734.5 L299.6 735.5 L299.5 735.6 L298.5 735.6 L298.4 735.5 L297.5 734.6 L297.4 734.5 L296.5 733.5 L295.5 733.5 L294.5 733.5 L293.5 733.5 L292.5 733.5 L291.6 734.5 L291.5 734.6 L290.6 735.5 L290.5 735.6 L289.5 736.5 L289.5 737.5 L289.6 738.5 L289.6 739.5 L289.6 740.5 L289.6 741.5 L289.5 742.5 L289.5 743.5 L289.5 744.5 L289.5 744.5 L288.5 745.5 L288.5 746.5 L288.5 747.5 L288.6 748.5 L289.5 749.5 L289.5 749.5 L289.5 749.5 L288.6 750.5 L288.5 750.6 L287.5 750.5 L286.5 750.5 L285.5 750.5 L284.5 751.5 L284.5 752.5 L284.5 753.5 L284.5 753.5 L283.5 754.5 L283.5 755.5 L283.5 755.5 L282.5 755.5 L282.5 755.5 L281.5 754.5 L280.5 754.5 L279.5 755.5 L279.5 756.5 L279.5 756.5 L278.5 757.5 L278.6 758.5 L278.5 758.6 L277.6 759.5 L277.5 759.6 L276.6 760.5 L276.5 760.6 L275.6 761.5 L275.5 761.6 L274.5 762.5 L274.5 762.5 L273.5 763.5 L273.5 763.5 L272.6 764.5 L272.5 764.6 L271.5 764.6 L270.5 764.6 L269.6 765.5 L269.5 765.6 L268.5 765.6 L268.4 765.5 L267.5 764.6 L266.5 764.6 L265.5 765.5 L265.5 765.5 L264.5 766.5 L264.5 766.5 L263.5 767.5 L263.5 768.5 L263.5 769.5 L263.5 770.5 L263.5 770.5 L262.5 770.5 L261.5 770.5 L260.5 770.5 L259.5 770.5 L258.5 770.5 L257.5 770.5 L256.5 770.5 L255.5 771.5 L255.5 771.5 L254.5 771.5 L253.5 772.5 L253.5 773.5 L253.5 774.5 L254.5 775.5 L255.5 775.5 L256.5 775.5 L257.5 775.5 L258.5 775.5 L259.5 775.5 L260.5 775.5 L261.5 775.5 L262.5 775.5 L262.5 775.5 L263.5 776.5 L263.5 776.5 L264.5 777.5 L264.5 777.5 L264.5 778.5 L264.5 779.5 L265.5 780.5 L265.5 780.5 L266.5 781.5 L266.5 781.5 L267.5 782.5 L268.5 782.5 L269.5 781.5 L269.5 781.5 L270.5 780.5 L270.5 779.5 L270.5 778.5 L270.5 777.5 L270.5 776.5 L270.5 775.5 L270.5 774.5 L269.5 773.5 L269.5 773.5 L269.5 773.5 L270.5 772.5 L270.5 772.5 L271.5 771.5 L271.5 771.5 L272.5 771.5 L273.5 770.5 L273.5 770.5 L274.5 770.5 L274.5 770.5 L275.5 771.5 L275.5 771.5 L275.5 772.5 L275.5 773.5 L275.5 774.5 L275.5 775.5 L275.5 776.5 L275.5 777.5 L275.5 777.5 L274.5 778.5 L274.5 779.5 L274.5 779.5 L273.5 780.5 L273.5 780.5 L272.5 780.5 L271.5 780.5 L270.5 781.5 L270.5 782.5 L270.5 783.5 L270.5 784.5 L270.5 785.5 L270.5 786.5 L270.5 786.5 L269.5 787.5 L269.5 788.5 L269.5 788.5 L268.5 789.5 L268.5 789.5 L267.5 789.5 L266.5 790.5 L266.5 790.5 L265.5 791.5 L265.5 791.5 L264.5 792.5 L263.5 791.5 L262.5 791.5 L262.0 791.5 L261.5 790.9 L261.5 790.5 L261.5 790.5 L262.5 789.5 L262.5 789.5 L263.5 789.5 L264.5 788.5 L264.5 788.5 L265.5 787.5 L264.5 786.5 L264.5 786.5 L264.5 785.5 L264.5 784.5 L264.5 783.5 L264.5 782.5 L264.5 781.5 L263.5 780.5 L263.5 780.5 L262.5 779.5 L261.5 779.5 L260.5 779.5 L259.5 780.5 L259.5 781.5 L259.5 782.5 L259.5 782.5 L258.5 783.5 L258.5 784.5 L258.5 784.5 L257.5 784.5 L256.5 784.5 L256.5 784.5 L255.5 783.5 L254.5 783.5 L253.5 783.5 L253.5 783.5 L253.5 783.5 L254.5 782.5 L254.5 781.5 L254.5 780.5 L253.5 779.5 L252.5 780.5 L252.5 780.5 L251.5 781.5 L251.5 781.5 L250.5 782.5 L250.5 782.5 L249.5 783.5 L249.5 783.5 L248.5 784.5 L248.5 785.5 L249.5 786.5 L250.5 786.5 L250.5 786.5 L251.5 787.5 L251.5 787.5 L251.5 787.5 L250.5 788.5 L250.5 789.5 L250.5 790.5 L250.5 790.5 L249.5 791.5 L249.4 790.5 L249.4 789.5 L249.5 788.6 L249.5 788.5 L249.5 788.5 L248.5 787.6 L248.4 787.5 L247.5 786.7 L247.1 786.5 L246.5 785.9 L246.2 785.5 L245.5 784.8 L245.3 784.5 L244.7 783.5 L244.5 783.1 L244.5 782.5 L243.5 781.5 L243.5 781.5 L242.5 780.5 L241.5 781.5 L241.5 781.5 L240.5 782.5 L240.5 782.5 L239.5 782.9 L238.5 782.8 L237.9 782.5 L237.5 781.9 L237.4 781.5 L237.2 780.5 L237.1 779.5 L236.8 778.5 L236.5 778.1 L235.6 777.5 L235.5 777.4 L235.0 776.5 L234.5 776.1 L233.5 776.2 L232.5 776.4 L231.5 776.3 L230.5 775.7 L229.9 775.5 L229.5 775.4 L229.3 775.5 L228.5 776.1 L227.7 776.5 L227.5 776.6 L226.7 776.5 L226.5 776.5 L226.3 776.5 L225.5 776.8 L224.8 777.5 L224.6 778.5 L224.6 779.5 L224.5 779.7 L223.7 780.5 L223.5 781.2 L223.4 781.5 L223.3 782.5 L223.4 783.5 L223.3 784.5 L222.5 784.5 L221.5 785.5 L221.5 785.5 L221.5 785.5 L220.5 784.5 L220.5 784.5 L220.5 783.5 L220.5 783.5 L221.5 782.5 L221.5 781.5 L221.5 780.5 L220.5 779.5 L220.5 779.5 L220.5 778.5 L220.5 777.8 L221.5 778.2 L222.5 777.8 L222.7 777.5 L222.5 777.1 L222.2 776.5 L221.5 776.0 L220.7 776.5 L220.5 776.9 L219.5 776.5 L219.5 776.5 L218.5 775.5 L218.5 775.5 L217.5 774.5 L216.5 774.5 L215.5 774.5 L214.5 774.5 L213.5 774.5 L213.5 774.5 L212.5 773.5 L211.5 773.5 L211.5 773.5 L210.5 772.5 L210.5 772.5 L210.5 771.5 L210.5 770.5 L210.5 769.5 L210.5 769.5 L211.5 768.5 L211.7 768.5 L211.5 768.1 L210.5 767.5 L209.5 767.5 L208.5 767.5 L208.5 767.5 L207.5 766.5 L207.5 766.5 L206.5 765.5 L205.5 765.5 L205.5 765.5 L205.5 764.5 L205.5 763.5 L205.5 762.5 L205.5 761.5 L204.5 760.5 L204.5 760.5 L203.5 759.5 L202.5 759.5 L201.5 759.5 L201.5 759.5 L201.5 758.5 L200.5 757.5 L200.5 757.5 L199.5 756.5 L198.5 756.5 L198.5 756.5 L198.5 755.5 L197.5 754.5 L197.5 754.5 L196.5 753.5 L195.5 753.5 L195.5 753.5 L194.5 752.5 L194.5 752.5 L193.5 751.5 L193.5 751.5 L192.5 750.5 L192.5 750.5 L191.5 749.5 L190.5 749.5 L190.5 749.5 L190.5 748.5 L190.5 747.5 L190.5 746.5 L190.5 745.5 L189.5 744.5 L189.5 744.5 L189.5 743.5 L189.5 743.5 L190.5 742.5 L190.5 742.5 L191.5 742.5 L191.5 742.5 L191.6 742.5 L192.4 741.5 L192.5 740.5 L192.5 740.5 L193.5 740.5 L194.5 740.5 L195.5 740.5 L196.5 740.5 L197.5 739.5 L197.5 739.5 L198.5 739.5 L199.5 739.5 L199.5 739.5 L199.5 740.5 L200.5 741.5 L201.5 741.5 L202.5 741.5 L203.5 741.5 L204.5 741.5 L205.5 740.5 L205.5 740.5 L206.5 740.5 L207.5 740.5 L208.5 740.5 L209.5 739.5 L209.5 738.5 L209.5 737.5 L209.5 736.5 L208.5 735.5 L207.5 735.5 L207.5 735.5 L206.5 734.5 L206.5 734.5 L206.5 733.5 L205.5 732.5 L205.5 732.5 L205.5 731.5 L205.5 731.5 L206.5 731.5 L207.5 731.5 L208.5 730.5 L208.5 730.5 L209.5 729.5 L209.5 728.5 L209.5 727.5 L209.5 726.5 L209.5 726.5 L210.5 725.5 L210.4 724.5 L210.5 724.4 L211.5 724.4 L212.5 724.4 L213.5 724.5 L213.5 724.5 L214.5 725.5 L215.5 725.5 L216.5 725.5 L217.5 725.5 L218.5 725.5 L219.5 724.5 L219.5 724.5 L220.5 723.5 L220.5 722.5 L220.5 722.5 L221.5 721.5 L221.5 721.5 L222.5 721.5 L223.5 721.5 L224.5 721.5 L225.5 720.5 L225.5 720.5 L226.4 719.5 L226.4 718.5 L225.5 717.6 L225.4 717.5 L225.4 716.5 L225.4 715.5 L225.5 715.4 L226.5 715.4 L227.5 715.5 L228.5 715.5 L229.5 714.5 L229.5 713.5 L229.5 713.5 L230.5 712.5 L230.5 711.5 L230.5 711.5 L231.5 710.5 L231.5 710.5 L232.5 710.5 L233.5 710.5 L234.5 709.5 L234.5 708.5 L234.5 707.5 L234.5 707.5 L235.5 706.5 L235.5 705.5 L235.5 705.5 L236.5 704.5 L236.5 703.5 L236.5 702.5 L236.5 701.5 L235.5 700.5 L235.5 700.5 L235.5 699.5 L235.5 699.5 L236.5 699.4 L237.5 699.4 L237.6 699.5 L237.6 700.5 L238.5 701.4 L239.5 701.4 L240.4 700.5 L240.5 700.4 L241.5 700.4 L242.5 700.4 L243.5 700.4 L244.5 700.4 L245.5 700.4 L246.5 700.4 L247.5 700.4 L248.5 700.4 L249.5 700.4 L250.5 700.4 L251.5 700.4 L252.5 700.4 L253.5 700.4 L254.4 699.5 L254.5 699.4 L255.5 699.4 L256.5 699.4 L257.5 699.4 L258.5 699.4 L259.5 699.4 L260.5 699.4 L260.6 699.5 L261.5 700.4 L261.6 700.5 L262.5 701.5 L262.5 701.5 L263.5 702.5 L263.5 702.5 L264.5 703.5 L264.5 703.5 L265.5 704.4 L265.6 704.5 L265.6 705.5 L266.5 706.4 L266.6 706.5 L266.6 707.5 L266.5 707.6 L265.6 708.5 L265.6 709.5 L265.6 710.5 L265.6 711.5 L265.6 712.5 L265.5 712.6 L264.5 712.6 L263.5 712.5 L262.5 713.5 L262.5 713.5 L261.6 714.5 L261.6 715.5 L261.5 715.6 L260.6 716.5 L260.6 717.5 L260.5 717.6 L259.5 718.5 L259.6 719.5 L260.5 720.5 L261.5 720.4 L262.5 720.4 L263.5 720.4 L264.5 720.4 L264.6 720.5 L265.5 721.4 L265.6 721.5 L266.5 722.4 L266.6 722.5 L266.6 723.5 L266.6 724.5 L266.5 724.6 L265.6 725.5 L265.5 725.6 L264.6 726.5 L264.5 727.5 L265.5 728.5 L265.5 728.5 L265.5 729.5 L265.5 730.5 L266.5 731.5 L267.5 731.5 L268.5 731.5 L269.5 731.5 L270.5 730.5 L270.5 730.5 L271.5 729.5 L271.5 729.5 L272.5 728.5 L272.5 728.5 L273.5 728.5 L274.5 727.5 L273.5 726.5 L272.5 726.5 L272.5 726.5 L272.5 725.5 L271.5 724.5 L271.5 724.5 L271.5 723.5 L271.5 722.5 L270.5 721.5 L270.5 721.5 L269.5 720.5 L269.5 720.5 L269.4 719.5 L269.4 718.5 L269.4 717.5 L269.4 716.5 L269.4 715.5 L269.4 714.5 L269.4 713.5 L269.4 712.5 L269.4 711.5 L269.4 710.5 L269.4 709.5 L269.4 708.5 L269.4 707.5 L269.5 706.5 L269.4 705.5 L269.4 704.5 L269.4 703.5 L269.4 702.5 L269.5 702.4 L270.4 701.5 L270.4 700.5 L270.4 699.5 L269.5 698.6 L269.4 698.5 L269.5 698.4 L270.4 697.5 L270.5 697.4 L271.4 696.5 L271.5 696.4 L272.4 695.5 L272.5 695.4 L273.5 695.4 L274.4 694.5 L274.4 693.5 L274.5 693.4 L275.4 692.5 L275.4 691.5 L275.5 691.4 L276.4 690.5 L276.5 690.4 L277.5 690.4 L278.5 690.4 L279.4 689.5 L279.4 688.5 L279.5 688.4 L280.4 687.5 L280.4 686.5 L280.4 685.5 L280.5 685.4 L281.5 685.4 L282.4 684.5 L282.5 684.4 L283.5 684.4 L284.5 684.4 L285.5 684.4 L286.4 683.5 L286.4 682.5 L286.4 681.5 L286.5 681.4 L287.5 681.4 L288.4 680.5 L288.5 680.4 L289.4 679.5 L289.5 679.4 L290.4 678.5 L290.4 677.5 L290.5 677.4 L291.4 676.5 L291.4 675.5 L290.5 674.6 L290.4 674.5 L290.4 673.5 L290.4 672.5 L289.5 671.6 L289.4 671.5 L289.5 671.4 L290.4 670.5 L290.5 670.4 L291.5 670.4 L292.4 669.5 L292.5 669.4 L293.5 669.4 L294.5 669.4 L295.4 668.5 L295.4 667.5 L295.4 666.5 L295.5 666.4 L296.4 665.5 L296.5 665.4 L297.4 664.5ZM295.6 669.5 L296.5 670.4 L297.4 669.5 L296.5 668.6ZM255.5 709.5 L255.5 710.5 L256.5 711.5 L257.5 710.5 L257.5 709.5 L256.5 708.5ZM306.6 713.5 L307.5 714.4 L308.4 713.5 L307.5 712.6ZM229.9 745.5 L229.5 745.6 L228.5 745.8 L227.5 746.5 L227.5 746.5 L226.5 747.2 L225.5 747.5 L225.4 747.5 L224.5 748.2 L224.3 748.5 L223.8 749.5 L223.5 749.9 L223.4 749.5 L223.0 748.5 L222.8 747.5 L223.5 746.7 L224.0 746.5 L223.5 746.1 L222.5 745.7 L221.5 746.2 L220.5 746.5 L219.5 746.3 L218.8 746.5 L218.5 746.7 L217.5 747.1 L216.5 746.9 L215.8 747.5 L216.2 748.5 L216.5 749.1 L216.7 749.5 L216.5 749.8 L216.0 750.5 L215.7 751.5 L215.9 752.5 L216.2 753.5 L216.5 754.4 L216.6 754.5 L216.5 754.8 L216.1 755.5 L215.5 755.7 L214.5 755.5 L213.5 756.0 L213.4 756.5 L213.5 757.4 L213.5 757.5 L214.1 758.5 L214.3 759.5 L214.4 760.5 L214.5 761.0 L214.8 761.5 L215.3 762.5 L215.5 763.1 L215.9 763.5 L216.5 763.7 L217.5 763.7 L218.1 763.5 L218.1 762.5 L217.5 762.2 L217.1 761.5 L217.5 760.9 L217.8 760.5 L218.5 759.8 L218.7 759.5 L219.4 758.5 L219.5 758.4 L220.5 758.3 L220.9 758.5 L221.0 759.5 L220.8 760.5 L220.5 760.8 L219.5 761.3 L219.3 761.5 L218.7 762.5 L218.9 763.5 L219.5 764.0 L220.5 763.9 L221.3 763.5 L221.5 763.5 L222.5 763.0 L223.5 762.8 L224.5 762.7 L225.0 762.5 L224.6 761.5 L225.5 760.6 L226.5 761.3 L227.3 760.5 L227.5 760.3 L228.5 759.7 L228.9 759.5 L228.5 758.9 L228.4 758.5 L227.5 757.7 L227.0 758.5 L226.5 759.0 L225.5 759.3 L224.5 758.7 L224.4 758.5 L224.0 757.5 L223.8 756.5 L223.5 756.1 L223.2 756.5 L222.5 756.8 L221.5 756.7 L221.2 756.5 L221.4 755.5 L221.5 755.5 L222.5 755.1 L223.5 755.2 L224.0 754.5 L224.5 754.1 L225.5 754.4 L225.5 754.5 L225.6 755.5 L226.1 756.5 L226.5 756.7 L227.5 757.4 L228.5 756.8 L229.1 756.5 L229.2 755.5 L228.6 754.5 L228.5 754.1 L228.4 753.5 L228.4 752.5 L228.3 751.5 L228.5 751.1 L228.8 751.5 L229.5 752.1 L230.3 752.5 L230.5 752.5 L231.5 752.5 L232.5 753.5 L232.5 753.6 L232.7 754.5 L233.5 754.9 L233.6 754.5 L234.4 753.5 L234.3 752.5 L233.6 751.5 L233.5 751.3 L232.7 750.5 L233.3 749.5 L233.5 749.3 L233.9 748.5 L233.5 747.5 L233.5 747.5 L232.5 747.0 L231.7 746.5 L231.5 746.4 L230.7 745.5 L230.5 745.3ZM197.4 748.5 L197.3 749.5 L197.5 749.8 L198.5 749.6 L199.5 749.5 L199.5 749.5 L199.5 749.5 L198.5 749.3 L197.6 748.5 L197.5 748.5ZM210.6 749.5 L211.5 749.6 L212.1 749.5 L211.5 749.3ZM246.5 753.5 L246.5 753.5 L245.5 754.5 L245.5 755.5 L246.5 756.5 L247.5 756.5 L248.5 756.5 L249.5 755.5 L249.5 755.5 L250.5 754.5 L249.5 753.5 L248.5 753.5 L248.5 753.5 L247.5 752.5ZM231.4 756.5 L230.5 756.8 L230.0 757.5 L230.5 758.1 L230.9 758.5 L231.5 758.8 L232.5 758.9 L233.5 758.8 L234.5 758.5 L234.5 758.4 L234.7 757.5 L234.5 757.3 L234.0 756.5 L233.5 755.9 L232.5 755.7 L231.5 756.5ZM235.7 759.5 L236.5 760.2 L237.0 759.5 L236.5 759.0ZM273.3 772.5 L273.5 772.9 L273.8 772.5 L273.5 772.5ZM241.4 777.5 L241.5 777.6 L242.5 778.1 L243.3 777.5 L242.5 776.8 L241.5 777.3ZM256.1 778.5 L256.5 779.1 L257.5 779.4 L258.5 778.5 L258.6 778.5 L258.5 778.5 L257.5 778.0 L256.5 778.1ZM260.3 778.5 L260.5 778.6 L260.6 778.5 L260.5 778.5ZM247.4 781.5 L247.5 782.5 L247.5 782.5 L247.5 782.5 L247.5 781.5 L247.5 781.5ZM266.4 787.5 L266.5 787.6 L267.5 787.8 L268.4 787.5 L267.5 786.9 L266.5 787.4ZM166.5 703.4 L167.5 702.8 L168.5 702.8 L169.5 703.2 L170.5 703.3 L171.5 703.1 L172.5 703.3 L173.0 703.5 L173.5 703.6 L174.3 703.5 L174.5 703.5 L175.5 703.1 L176.2 703.5 L176.5 703.6 L177.5 703.8 L178.5 703.6 L179.5 703.7 L180.5 703.8 L181.5 703.9 L182.5 703.9 L183.5 704.0 L184.5 704.5 L185.5 704.5 L185.5 704.5 L186.5 705.5 L186.5 705.5 L187.5 706.5 L188.5 706.4 L189.5 706.5 L189.5 706.5 L189.5 707.5 L189.5 707.5 L188.6 708.5 L188.5 708.6 L187.6 709.5 L187.6 710.5 L187.5 710.6 L186.5 711.5 L186.5 711.5 L185.5 712.5 L185.5 713.5 L185.5 714.5 L185.5 715.5 L185.5 716.5 L185.5 717.5 L185.5 717.5 L184.5 718.5 L184.5 719.5 L184.5 719.5 L183.5 720.5 L183.5 721.5 L184.5 722.5 L184.5 722.5 L184.5 723.5 L184.5 724.5 L184.5 725.5 L184.5 726.5 L184.5 727.5 L184.5 728.5 L184.5 729.5 L184.5 729.5 L183.5 730.5 L183.5 730.5 L183.5 730.5 L182.5 729.5 L182.5 729.5 L181.5 728.5 L180.5 728.5 L179.5 728.5 L178.5 729.5 L178.5 729.5 L177.5 729.5 L176.5 729.5 L176.5 729.5 L175.5 728.5 L175.5 728.5 L175.5 727.5 L174.5 726.5 L174.5 726.5 L173.5 725.5 L173.5 725.5 L172.5 724.5 L171.5 724.5 L171.5 724.5 L171.5 723.5 L170.5 722.5 L170.5 722.5 L169.5 721.5 L168.5 721.5 L167.5 721.5 L167.5 721.5 L166.5 720.5 L166.5 720.5 L166.5 719.5 L165.5 718.5 L165.5 718.5 L165.5 717.5 L164.5 716.5 L164.5 716.5 L163.5 715.5 L162.5 715.5 L161.5 715.5 L161.5 715.5 L160.5 714.5 L160.5 714.5 L160.5 713.5 L160.5 712.5 L160.5 711.5 L160.5 710.5 L160.5 709.5 L160.5 708.6 L160.7 708.5 L161.5 707.5 L161.5 707.5 L162.5 707.1 L163.2 706.5 L163.5 706.5 L164.5 706.5 L165.5 706.5 L166.5 705.5 L166.5 704.5 L166.0 703.5ZM230.5 748.9 L231.5 749.4 L231.6 749.5 L231.5 749.7 L230.5 750.2 L229.8 749.5ZM224.5 750.3 L224.7 750.5 L224.5 750.6 L224.2 750.5ZM274.5 765.4 L275.5 765.4 L276.5 765.4 L277.5 765.4 L278.5 765.5 L278.5 765.5 L279.5 766.5 L279.5 766.5 L279.5 767.5 L279.5 767.5 L278.5 768.5 L278.5 768.5 L277.5 769.5 L277.5 769.5 L276.5 769.5 L275.5 769.5 L275.5 769.5 L274.5 768.5 L274.5 768.5 L274.4 767.5 L274.4 766.5 L274.4 765.5ZM230.5 786.3 L231.5 786.1 L232.5 786.3 L232.7 786.5 L233.5 787.0 L233.8 787.5 L234.0 788.5 L233.5 789.5 L233.5 789.5 L232.5 789.5 L232.5 789.5 L231.5 788.5 L230.5 788.5 L230.5 788.5 L230.5 787.5 L230.1 786.5ZM248.5 792.2 L249.5 791.5 L249.5 792.5 L249.5 793.5 L249.5 794.5 L249.5 794.5 L248.5 795.5 L248.5 795.5 L247.5 795.5 L247.5 795.5 L246.6 794.5 L246.5 793.5 L247.5 792.7 L248.0 792.5ZM253.5 798.5 L254.1 798.5 L253.9 799.5 L253.8 800.5 L253.5 801.0 L253.0 801.5 L252.6 802.5 L253.0 803.5 L252.5 804.5 L252.5 804.5 L251.5 805.5 L251.5 805.5 L251.5 805.5 L250.5 804.5 L250.5 804.5 L250.5 803.5 L249.5 802.5 L249.5 802.5 L249.5 802.5 L250.5 801.5 L250.5 801.5 L251.5 800.5 L251.5 800.5 L252.5 799.5 L252.5 799.5 L253.5 798.5Z"/>
<path fill="#ffa010" fill-rule="evenodd" d="M297.5 664.4 L298.5 664.4 L298.6 664.5 L299.5 665.4 L300.5 665.4 L300.6 665.5 L300.6 666.5 L300.5 666.6 L299.6 667.5 L299.6 668.5 L299.6 669.5 L300.5 670.4 L301.5 670.4 L301.6 670.5 L302.5 671.4 L303.5 671.4 L303.6 671.5 L304.5 672.4 L304.6 672.5 L305.5 673.4 L305.6 673.5 L306.5 674.4 L306.6 674.5 L307.5 675.4 L307.6 675.5 L308.5 676.4 L308.6 676.5 L309.5 677.4 L309.6 677.5 L310.5 678.4 L310.6 678.5 L311.5 679.4 L311.6 679.5 L312.5 680.4 L313.5 680.4 L313.6 680.5 L313.6 681.5 L313.5 681.6 L312.6 682.5 L313.5 683.4 L313.6 683.5 L314.5 684.4 L315.5 684.4 L316.5 684.4 L317.5 684.4 L317.6 684.5 L318.5 685.4 L318.6 685.5 L319.5 686.4 L319.6 686.5 L319.6 687.5 L320.5 688.4 L320.6 688.5 L321.5 689.4 L321.6 689.5 L322.5 690.4 L322.6 690.5 L323.5 691.4 L323.6 691.5 L324.5 692.4 L324.6 692.5 L324.5 692.6 L323.6 693.5 L323.5 693.6 L322.6 694.5 L322.5 694.6 L321.5 694.6 L320.5 694.6 L319.6 695.5 L319.6 696.5 L319.6 697.5 L319.6 698.5 L319.6 699.5 L319.5 699.6 L318.6 700.5 L318.6 701.5 L318.6 702.5 L318.6 703.5 L318.5 703.6 L317.5 703.6 L316.6 704.5 L316.5 704.6 L315.6 705.5 L315.5 705.6 L314.6 706.5 L314.5 706.6 L313.6 707.5 L313.6 708.5 L313.6 709.5 L313.6 710.5 L313.6 711.5 L314.5 712.4 L314.6 712.5 L314.6 713.5 L314.5 713.6 L313.5 713.6 L312.5 713.6 L311.5 713.6 L310.6 714.5 L310.6 715.5 L310.6 716.5 L310.5 716.6 L309.6 717.5 L309.5 717.6 L308.5 717.6 L307.6 718.5 L307.5 718.6 L306.6 719.5 L306.5 719.6 L305.5 719.6 L304.5 719.6 L303.5 719.6 L302.6 720.5 L302.5 720.6 L301.6 721.5 L301.5 721.6 L300.5 721.6 L299.6 722.5 L299.6 723.5 L299.6 724.5 L299.6 725.5 L299.6 726.5 L299.6 727.5 L299.6 728.5 L299.5 729.5 L299.5 730.5 L299.5 730.5 L298.5 731.5 L298.5 732.5 L298.5 733.5 L299.5 734.5 L299.5 734.5 L299.5 735.5 L299.5 735.5 L298.5 735.5 L298.5 735.5 L297.5 734.5 L297.5 734.5 L296.5 733.5 L295.5 733.5 L294.5 733.5 L293.5 733.5 L292.5 733.5 L291.5 734.5 L291.5 734.5 L290.5 735.5 L290.5 735.5 L289.5 736.5 L289.5 737.5 L289.5 738.5 L289.5 739.5 L289.5 740.5 L289.5 741.5 L289.5 742.5 L289.5 743.5 L289.5 744.5 L289.5 744.5 L288.5 745.5 L288.5 746.5 L288.5 747.5 L288.5 748.5 L289.5 749.5 L289.5 749.5 L289.5 749.5 L288.5 750.5 L288.5 750.5 L287.5 750.5 L286.5 750.5 L285.5 750.5 L284.5 751.5 L284.5 752.5 L284.5 753.5 L284.5 753.5 L283.5 754.5 L283.5 755.5 L283.5 755.5 L282.5 755.5 L282.5 755.5 L281.5 754.5 L280.5 754.5 L279.5 755.5 L279.5 756.5 L279.5 756.5 L278.5 757.5 L278.5 758.5 L278.5 758.5 L277.5 759.5 L277.5 759.5 L276.5 760.5 L276.5 760.5 L275.5 761.5 L275.5 761.5 L274.5 762.5 L274.5 762.5 L273.5 763.5 L273.5 763.5 L272.5 764.5 L272.5 764.5 L271.5 764.5 L270.5 764.5 L269.5 765.5 L269.5 765.5 L268.5 765.5 L268.5 765.5 L267.5 764.5 L266.5 764.5 L265.5 765.5 L265.5 765.5 L264.5 766.5 L264.5 766.5 L263.5 767.5 L263.5 768.5 L263.5 769.5 L263.5 770.5 L263.5 770.5 L262.5 770.5 L261.5 770.5 L260.5 770.5 L259.5 770.5 L258.5 770.5 L257.5 770.5 L256.5 770.5 L255.5 771.5 L255.5 771.5 L254.5 771.5 L253.5 772.5 L253.5 773.4 L253.4 773.5 L252.5 774.3 L252.1 774.5 L251.5 775.5 L251.5 775.5 L250.5 776.5 L250.5 776.5 L249.7 777.5 L249.7 778.5 L249.5 779.2 L248.5 778.9 L248.3 778.5 L247.8 777.5 L247.5 777.2 L247.1 776.5 L247.5 775.8 L248.3 775.5 L248.5 775.4 L249.5 775.0 L249.8 774.5 L249.5 773.8 L249.0 773.5 L248.5 773.5 L247.5 773.3 L246.5 772.5 L246.5 771.5 L246.5 771.4 L245.5 771.2 L244.7 770.5 L244.5 770.2 L244.1 769.5 L244.5 769.1 L245.0 768.5 L245.5 767.8 L245.9 767.5 L245.5 766.9 L245.4 766.5 L244.9 765.5 L245.5 764.8 L245.8 764.5 L245.5 763.5 L245.5 763.5 L244.6 762.5 L244.8 761.5 L244.9 760.5 L244.5 760.1 L243.5 759.6 L243.1 759.5 L242.5 759.1 L241.7 758.5 L242.5 758.3 L243.5 757.5 L243.5 757.5 L243.6 756.5 L243.5 756.4 L242.5 755.5 L242.4 755.5 L241.5 754.5 L240.5 754.6 L240.3 755.5 L239.5 756.1 L238.5 756.0 L237.5 755.8 L237.3 755.5 L237.2 754.5 L236.5 753.7 L236.4 753.5 L236.2 752.5 L235.5 751.5 L235.6 750.5 L236.5 750.3 L237.5 750.0 L237.8 749.5 L237.7 748.5 L237.5 748.2 L237.0 747.5 L236.5 747.1 L235.7 746.5 L235.5 746.3 L234.5 745.6 L233.5 745.5 L233.5 745.5 L232.5 745.2 L231.9 744.5 L231.5 743.5 L231.5 743.4 L231.1 742.5 L231.5 741.5 L230.5 740.9 L229.5 741.0 L228.5 741.3 L228.4 741.5 L228.4 742.5 L228.5 742.9 L228.6 743.5 L228.5 743.7 L227.5 744.0 L226.5 744.5 L226.4 744.5 L225.5 745.0 L224.8 744.5 L224.5 744.2 L223.6 743.5 L223.5 743.4 L222.5 743.1 L221.5 743.4 L221.5 743.5 L221.3 744.5 L220.5 745.0 L219.5 745.0 L218.5 744.9 L217.5 744.9 L216.5 744.7 L215.5 744.5 L214.5 744.7 L213.5 744.9 L212.7 744.5 L212.5 744.4 L211.5 744.4 L211.2 744.5 L210.5 745.1 L209.5 745.1 L208.5 745.3 L207.8 744.5 L207.5 743.7 L207.2 743.5 L206.5 743.2 L205.9 742.5 L205.5 741.6 L205.4 741.5 L205.5 741.4 L206.4 740.5 L206.5 740.5 L207.5 740.5 L208.5 740.5 L209.5 739.5 L209.5 738.5 L209.5 737.5 L209.5 736.5 L208.5 735.5 L207.5 735.5 L207.5 735.5 L206.5 734.5 L206.5 734.5 L206.5 733.5 L205.5 732.5 L205.5 732.5 L205.5 731.5 L205.5 731.5 L206.5 731.5 L207.5 731.5 L208.5 730.5 L208.5 730.5 L209.5 729.5 L209.5 728.5 L209.5 727.5 L209.5 726.5 L209.5 726.5 L210.5 725.5 L210.5 724.5 L210.5 724.5 L211.5 724.5 L212.5 724.5 L213.5 724.5 L213.5 724.5 L214.5 725.5 L215.5 725.5 L216.5 725.5 L217.5 725.5 L218.5 725.5 L219.5 724.5 L219.5 724.5 L220.5 723.5 L220.5 722.5 L220.5 722.5 L221.5 721.5 L221.5 721.5 L222.5 721.5 L223.5 721.5 L224.5 721.5 L225.5 720.5 L225.5 720.5 L226.5 719.5 L226.5 718.5 L225.5 717.5 L225.5 717.5 L225.5 716.5 L225.5 715.5 L225.5 715.5 L226.5 715.5 L227.5 715.5 L228.5 715.5 L229.5 714.5 L229.5 713.5 L229.5 713.5 L230.5 712.5 L230.5 711.5 L230.5 711.5 L231.5 710.5 L231.5 710.5 L232.5 710.5 L233.5 710.5 L234.5 709.5 L234.5 708.5 L234.5 707.5 L234.5 707.5 L235.5 706.5 L235.5 705.5 L235.5 705.5 L236.5 704.5 L236.5 703.5 L236.5 702.5 L236.5 701.5 L235.5 700.5 L235.5 700.5 L235.5 699.5 L235.5 699.5 L236.5 699.5 L237.5 699.5 L237.5 699.5 L237.5 700.5 L238.5 701.5 L239.5 701.5 L240.5 700.5 L240.5 700.5 L241.5 700.5 L242.5 700.5 L243.5 700.5 L244.5 700.5 L245.5 700.5 L246.5 700.5 L247.5 700.5 L248.5 700.5 L249.5 700.5 L250.5 700.5 L251.5 700.5 L252.5 700.5 L253.5 700.5 L254.5 699.5 L254.5 699.5 L255.5 699.5 L256.5 699.5 L257.5 699.5 L258.5 699.5 L259.5 699.5 L260.5 699.5 L260.5 699.5 L261.5 700.5 L261.5 700.5 L262.5 701.5 L262.5 701.5 L263.5 702.5 L263.5 702.5 L264.5 703.5 L264.5 703.5 L265.5 704.5 L265.5 704.5 L265.5 705.5 L266.5 706.5 L266.5 706.5 L266.5 707.5 L266.5 707.5 L265.5 708.5 L265.5 709.5 L265.5 710.5 L265.5 711.5 L265.5 712.5 L265.5 712.5 L264.5 712.5 L263.5 712.5 L262.5 713.5 L262.5 713.5 L261.5 714.5 L261.5 715.5 L261.5 715.5 L260.5 716.5 L260.5 717.5 L260.5 717.5 L259.5 718.5 L259.5 719.5 L260.5 720.5 L261.5 720.5 L262.5 720.5 L263.5 720.5 L264.5 720.5 L264.5 720.5 L265.5 721.4 L265.6 721.5 L266.5 722.5 L266.5 722.5 L266.5 723.5 L266.5 724.5 L266.5 724.5 L265.5 725.5 L265.5 725.5 L264.5 726.5 L264.5 727.5 L265.5 728.5 L265.5 728.5 L265.5 729.5 L265.5 730.5 L266.5 731.5 L267.5 731.5 L268.5 731.5 L269.5 731.5 L270.5 730.5 L270.5 730.5 L271.5 729.5 L271.5 729.5 L272.5 728.5 L272.5 728.5 L273.5 728.5 L274.5 727.5 L273.5 726.5 L272.5 726.5 L272.5 726.5 L272.5 725.5 L271.5 724.5 L271.5 724.5 L271.5 723.5 L271.5 722.5 L270.5 721.5 L270.5 721.5 L269.5 720.5 L269.5 720.5 L269.5 719.5 L269.5 718.5 L269.5 717.5 L269.5 716.5 L269.5 715.5 L269.5 714.5 L269.5 713.5 L269.5 712.5 L269.5 711.5 L269.5 710.5 L269.5 709.5 L269.5 708.5 L269.5 707.5 L269.5 706.5 L269.5 705.5 L269.5 704.5 L269.5 703.5 L269.5 702.5 L269.5 702.5 L270.5 701.5 L270.5 700.5 L270.5 699.5 L269.5 698.5 L269.5 698.5 L269.5 698.5 L270.5 697.5 L270.5 697.5 L271.5 696.5 L271.5 696.5 L272.5 695.5 L272.5 695.5 L273.5 695.5 L274.4 694.5 L274.4 693.5 L274.5 693.4 L275.4 692.5 L275.5 691.5 L275.5 691.5 L276.5 690.5 L276.5 690.5 L277.5 690.5 L278.5 690.5 L279.5 689.5 L279.5 688.5 L279.5 688.5 L280.5 687.5 L280.5 686.5 L280.5 685.5 L280.5 685.5 L281.5 685.5 L282.5 684.5 L282.5 684.5 L283.5 684.5 L284.5 684.5 L285.5 684.5 L286.5 683.5 L286.5 682.5 L286.5 681.5 L286.5 681.5 L287.5 681.5 L288.5 680.5 L288.5 680.5 L289.4 679.5 L289.5 679.4 L290.4 678.5 L290.4 677.5 L290.5 677.4 L291.4 676.5 L291.4 675.5 L290.5 674.6 L290.4 674.5 L290.4 673.5 L290.4 672.5 L289.5 671.6 L289.4 671.5 L289.5 671.4 L290.4 670.5 L290.5 670.4 L291.5 670.4 L292.4 669.5 L292.5 669.4 L293.5 669.4 L294.5 669.4 L295.4 668.5 L295.4 667.5 L295.4 666.5 L295.5 666.4 L296.4 665.5 L296.5 665.4 L297.4 664.5ZM295.6 669.5 L296.5 670.4 L297.4 669.5 L296.5 668.6ZM255.5 709.5 L255.5 710.5 L256.5 711.5 L257.5 710.5 L257.5 709.5 L256.5 708.5ZM306.6 713.5 L307.5 714.4 L308.4 713.5 L307.5 712.6ZM227.9 735.5 L227.5 735.6 L226.5 736.3 L226.3 736.5 L225.5 737.5 L225.5 737.5 L225.5 737.5 L226.5 738.0 L227.3 738.5 L227.5 738.7 L227.7 738.5 L228.4 737.5 L228.5 737.1 L228.7 736.5 L228.6 735.5 L228.5 735.4ZM235.5 736.5 L235.5 736.5 L235.6 736.5 L235.5 736.4ZM241.1 738.5 L241.5 739.2 L242.3 738.5 L241.5 738.0ZM218.4 740.5 L218.5 740.5 L218.5 740.5 L218.5 740.5ZM269.1 740.5 L269.5 741.5 L269.5 741.6 L270.5 741.7 L270.6 741.5 L270.5 741.0 L270.1 740.5 L269.5 740.1ZM241.9 742.5 L241.5 743.5 L242.5 744.1 L243.5 743.7 L243.6 743.5 L243.5 743.2 L242.9 742.5 L242.5 742.4ZM247.9 742.5 L248.5 743.3 L248.7 742.5 L248.5 742.3ZM251.1 749.5 L251.5 749.7 L252.0 749.5 L251.5 749.2ZM242.9 751.5 L242.7 752.5 L243.3 753.5 L243.5 753.9 L243.9 754.5 L244.4 755.5 L244.5 755.7 L245.3 756.5 L245.5 756.7 L246.5 757.5 L246.5 757.5 L246.5 757.5 L247.5 757.3 L248.2 756.5 L248.5 756.5 L249.5 755.7 L250.3 755.5 L250.5 755.4 L251.5 755.1 L252.5 754.8 L252.9 754.5 L253.1 753.5 L252.5 752.8 L251.5 753.1 L250.5 753.1 L249.8 752.5 L249.5 752.2 L248.5 752.0 L247.9 752.5 L247.5 752.5 L246.5 753.5 L246.5 753.5 L245.5 754.0 L245.1 753.5 L245.2 752.5 L244.7 751.5 L244.5 751.3 L243.5 751.2ZM248.1 761.5 L248.5 761.6 L248.6 761.5 L248.5 761.4ZM168.5 704.2 L169.5 704.3 L170.5 704.4 L171.5 704.5 L171.8 704.5 L172.5 704.6 L172.8 704.5 L173.5 704.4 L174.5 704.4 L175.1 704.5 L175.5 704.6 L176.5 704.9 L177.5 705.1 L178.5 704.7 L179.5 704.6 L180.5 704.8 L181.5 704.8 L182.5 704.7 L183.5 704.9 L184.5 705.0 L185.5 704.9 L186.5 705.5 L186.5 705.5 L187.5 706.5 L188.5 706.5 L189.5 706.5 L189.5 706.5 L189.5 707.5 L189.5 707.5 L188.5 708.5 L188.5 708.5 L187.5 709.5 L187.5 710.5 L187.5 710.5 L186.5 711.5 L186.5 711.5 L185.5 712.5 L185.5 713.5 L185.5 714.5 L185.5 715.5 L185.5 716.0 L185.4 716.5 L185.2 717.5 L184.5 718.5 L184.5 719.3 L184.4 719.5 L183.5 720.5 L183.5 721.5 L184.2 722.5 L184.5 723.2 L184.5 723.5 L184.5 724.1 L184.4 724.5 L184.5 724.8 L184.5 725.5 L184.5 726.5 L184.5 727.5 L184.5 728.5 L184.5 729.5 L184.5 729.5 L183.5 730.5 L183.5 730.5 L183.5 730.5 L182.5 729.5 L182.5 729.5 L181.5 728.5 L180.5 728.5 L179.5 728.5 L178.5 729.5 L178.5 729.5 L177.5 729.5 L176.5 729.5 L176.5 729.5 L175.5 728.5 L175.5 728.5 L175.5 727.5 L174.5 726.5 L174.5 726.5 L173.5 725.5 L173.5 725.5 L172.5 724.5 L171.5 724.5 L171.5 724.5 L171.5 723.5 L170.5 722.5 L170.5 722.5 L169.5 721.5 L168.5 721.5 L167.5 721.5 L167.5 721.5 L166.5 720.5 L166.5 720.5 L166.5 719.5 L165.5 718.5 L165.5 718.5 L165.5 717.5 L164.5 716.5 L164.5 716.5 L163.5 715.5 L162.5 715.5 L161.5 715.5 L161.5 715.5 L160.5 714.5 L160.5 714.5 L160.5 713.5 L160.5 712.5 L160.5 711.5 L160.5 710.8 L161.3 710.5 L161.5 710.4 L162.4 709.5 L162.5 709.3 L163.0 708.5 L163.5 708.1 L164.2 707.5 L164.5 707.3 L165.2 706.5 L165.5 706.5 L166.5 705.5 L166.5 705.1 L167.5 704.6 L167.7 704.5ZM198.5 739.5 L199.5 739.5 L199.5 739.5 L199.5 739.8 L198.5 740.3 L197.7 739.5ZM194.5 740.5 L194.5 740.5 L194.5 740.6 L194.4 740.5ZM201.5 743.4 L201.7 743.5 L202.5 744.2 L203.5 744.4 L203.6 744.5 L204.5 745.1 L205.2 745.5 L204.9 746.5 L204.5 746.8 L203.5 746.7 L203.4 746.5 L202.7 745.5 L202.5 745.0 L201.5 745.0 L200.5 745.1 L199.9 744.5 L200.5 744.1 L201.4 743.5ZM194.5 748.8 L194.9 749.5 L194.5 750.5 L194.5 750.5 L194.4 750.5 L194.1 749.5ZM198.5 755.1 L199.5 755.5 L199.5 755.5 L199.6 756.5 L199.5 756.5 L198.5 756.5 L198.5 756.5 L198.5 755.5ZM208.5 756.3 L208.8 756.5 L208.5 756.8 L208.0 756.5ZM206.5 759.9 L207.5 760.5 L206.5 760.9 L206.0 760.5ZM233.5 761.4 L233.6 761.5 L233.6 762.5 L233.5 763.5 L234.5 764.4 L234.6 764.5 L235.5 765.0 L235.7 765.5 L236.3 766.5 L236.3 767.5 L235.5 767.9 L234.5 768.0 L234.4 768.5 L234.5 769.5 L234.5 770.0 L234.6 770.5 L234.8 771.5 L234.5 772.5 L234.5 772.5 L234.3 773.5 L233.5 774.3 L233.1 774.5 L232.5 774.7 L231.5 774.9 L230.5 774.6 L230.1 774.5 L229.5 774.3 L228.5 774.2 L227.5 773.6 L227.4 773.5 L226.5 773.2 L225.5 772.5 L225.6 771.5 L225.5 771.3 L224.7 770.5 L224.5 769.8 L224.5 769.5 L224.5 768.9 L224.5 768.5 L224.5 768.4 L224.0 767.5 L223.6 766.5 L223.6 765.5 L224.1 764.5 L224.5 764.3 L225.5 764.2 L226.5 764.0 L227.5 764.2 L228.5 764.5 L228.5 764.5 L228.6 764.5 L229.5 764.4 L230.5 763.6 L230.7 763.5 L231.5 762.5 L231.5 762.5 L231.6 762.5 L232.5 762.9 L233.3 762.5 L233.3 761.5ZM240.5 762.2 L240.8 762.5 L240.9 763.5 L240.5 763.8 L239.8 763.5 L240.2 762.5ZM211.5 762.8 L212.5 763.3 L212.6 763.5 L212.5 763.7 L211.5 764.1 L211.0 763.5ZM237.5 763.3 L238.5 763.2 L239.3 763.5 L239.2 764.5 L238.5 764.8 L237.8 764.5 L237.5 764.1 L237.3 763.5ZM209.5 765.4 L209.8 765.5 L209.9 766.5 L209.5 766.9 L208.5 767.4 L208.0 766.5 L208.5 765.8 L209.1 765.5ZM274.5 765.5 L275.5 765.5 L276.5 765.5 L277.5 765.5 L278.5 765.5 L278.5 765.5 L279.5 766.5 L279.5 766.5 L279.5 767.5 L279.5 767.5 L278.5 768.5 L278.5 768.5 L277.5 769.5 L277.5 769.5 L276.5 769.5 L275.5 769.5 L275.5 769.5 L274.5 768.5 L274.5 768.5 L274.5 767.5 L274.5 766.5 L274.5 765.5ZM216.5 770.2 L216.6 770.5 L216.5 770.6 L216.0 770.5ZM273.5 770.5 L274.5 770.5 L274.5 770.5 L275.5 771.5 L275.5 771.5 L275.5 771.9 L274.5 771.6 L273.8 771.5 L273.5 771.3 L273.5 770.5ZM272.5 771.5 L273.4 771.5 L272.5 771.7 L271.9 771.5ZM238.5 773.4 L238.6 773.5 L238.5 773.5 L238.4 773.5ZM219.5 773.6 L220.5 774.3 L220.6 774.5 L220.5 774.5 L219.5 774.8 L219.1 774.5ZM255.5 775.5 L255.6 775.5 L256.3 776.5 L255.5 777.0 L254.5 776.7 L254.4 776.5 L254.5 775.7 L254.9 775.5ZM257.5 775.5 L257.5 775.5 L257.5 775.5 L257.4 775.5ZM271.5 777.9 L272.2 778.5 L272.3 779.5 L271.5 780.3 L270.6 779.5 L271.0 778.5ZM264.5 780.4 L264.7 780.5 L264.9 781.5 L264.5 781.8 L264.5 781.5 L263.6 780.5ZM249.5 781.0 L250.0 781.5 L249.5 782.4 L249.4 781.5ZM255.5 781.4 L255.5 781.5 L255.5 781.7 L254.9 781.5ZM253.5 783.5 L253.6 783.5 L253.5 783.5 L253.5 783.5ZM265.5 783.5 L265.9 784.5 L265.5 784.7 L265.0 784.5ZM265.5 790.4 L265.6 790.5 L265.5 790.6 L265.2 790.5ZM249.5 793.5 L249.5 793.5 L249.5 793.5 L249.5 793.5Z"/>
<path fill="#ff4800" fill-rule="evenodd" d="M297.5 664.4 L298.5 664.4 L298.6 664.5 L299.5 665.4 L300.5 665.4 L300.6 665.5 L300.6 666.5 L300.5 666.6 L299.6 667.5 L299.6 668.5 L299.6 669.5 L300.5 670.4 L301.5 670.4 L301.6 670.5 L302.5 671.4 L303.5 671.4 L303.6 671.5 L304.5 672.4 L304.6 672.5 L305.5 673.4 L305.6 673.5 L306.5 674.4 L306.6 674.5 L307.5 675.4 L307.6 675.5 L308.5 676.4 L308.6 676.5 L309.5 677.4 L309.6 677.5 L310.5 678.4 L310.6 678.5 L311.5 679.4 L311.6 679.5 L312.5 680.4 L313.5 680.4 L313.6 680.5 L313.6 681.5 L313.5 681.6 L312.6 682.5 L313.5 683.4 L313.6 683.5 L314.5 684.4 L315.5 684.4 L316.5 684.4 L317.5 684.4 L317.6 684.5 L318.5 685.4 L318.6 685.5 L319.5 686.4 L319.6 686.5 L319.6 687.5 L320.5 688.4 L320.6 688.5 L321.5 689.4 L321.6 689.5 L322.5 690.4 L322.6 690.5 L323.5 691.4 L323.6 691.5 L324.5 692.4 L324.6 692.5 L324.5 692.6 L323.6 693.5 L323.5 693.6 L322.6 694.5 L322.5 694.6 L321.5 694.6 L320.5 694.6 L319.6 695.5 L319.6 696.5 L319.6 697.5 L319.6 698.5 L319.6 699.5 L319.5 699.6 L318.6 700.5 L318.6 701.5 L318.6 702.5 L318.6 703.5 L318.5 703.6 L317.5 703.6 L316.6 704.5 L316.5 704.6 L315.6 705.5 L315.5 705.6 L314.6 706.5 L314.5 706.6 L313.6 707.5 L313.6 708.5 L313.6 709.5 L313.6 710.5 L313.6 711.5 L314.5 712.4 L314.6 712.5 L314.6 713.5 L314.5 713.6 L313.5 713.6 L312.5 713.6 L311.5 713.6 L310.6 714.5 L310.6 715.5 L310.6 716.5 L310.5 716.6 L309.6 717.5 L309.5 717.6 L308.5 717.5 L307.5 718.5 L307.5 718.5 L306.6 719.5 L306.5 719.6 L305.5 719.5 L304.5 719.5 L303.5 719.5 L302.6 720.5 L302.5 720.6 L301.5 721.5 L301.5 721.5 L300.5 721.5 L299.5 722.5 L299.5 723.5 L299.5 724.5 L299.5 725.5 L299.5 726.5 L299.5 727.5 L299.5 728.5 L299.5 729.5 L299.5 730.5 L299.5 730.5 L298.5 731.5 L298.5 732.5 L298.5 733.5 L299.5 734.5 L299.5 734.5 L299.5 735.5 L299.5 735.5 L298.5 735.5 L298.5 735.5 L297.5 734.5 L297.5 734.5 L296.5 733.5 L295.5 733.5 L294.5 733.5 L293.5 733.5 L292.5 733.5 L291.5 734.5 L291.5 734.5 L290.5 735.5 L290.5 735.5 L289.5 736.5 L289.5 737.5 L289.5 738.5 L289.5 739.5 L289.5 740.5 L289.5 741.5 L289.5 742.5 L289.5 743.5 L289.5 744.5 L289.5 744.5 L288.5 745.5 L288.5 746.5 L288.5 747.5 L288.5 748.5 L289.5 749.5 L289.5 749.5 L289.5 749.5 L288.5 750.5 L288.5 750.5 L287.5 750.5 L286.5 750.5 L285.5 750.5 L284.5 751.5 L284.5 752.5 L284.5 752.7 L283.9 752.5 L283.5 752.4 L283.3 752.5 L282.7 753.5 L283.5 754.4 L283.5 754.5 L283.5 755.5 L283.5 755.5 L282.5 755.5 L282.5 755.5 L281.5 754.5 L280.8 754.5 L280.5 754.3 L279.5 754.2 L279.4 754.5 L279.1 755.5 L279.5 756.2 L279.5 756.5 L279.5 756.5 L278.5 757.5 L278.5 758.5 L278.5 758.5 L277.5 759.5 L277.5 759.5 L276.5 760.5 L276.5 760.5 L275.5 761.5 L275.5 761.5 L274.5 762.5 L274.5 762.5 L273.5 763.5 L273.5 763.5 L272.5 764.5 L272.5 764.5 L271.5 764.5 L270.5 764.5 L269.5 765.5 L269.5 765.5 L268.5 765.5 L268.5 765.5 L267.5 764.5 L266.5 764.5 L265.5 765.5 L265.5 765.5 L265.0 765.5 L264.5 765.2 L263.5 764.7 L262.5 764.5 L262.5 764.4 L261.5 763.6 L261.4 763.5 L260.5 763.4 L260.3 763.5 L260.5 764.5 L260.5 764.5 L261.5 765.1 L261.7 765.5 L262.3 766.5 L261.5 767.5 L260.5 766.8 L259.5 766.8 L258.5 766.7 L257.5 766.9 L257.0 766.5 L256.5 766.2 L255.5 765.5 L256.1 764.5 L256.3 763.5 L255.5 762.7 L254.5 763.0 L253.5 762.5 L253.8 761.5 L254.3 760.5 L254.5 760.2 L254.9 759.5 L255.2 758.5 L255.5 758.2 L256.5 757.7 L256.8 757.5 L256.5 757.2 L256.1 756.5 L255.6 755.5 L255.7 754.5 L256.1 753.5 L256.5 752.9 L256.8 752.5 L256.5 751.8 L256.0 751.5 L255.5 751.3 L254.5 750.6 L254.4 750.5 L254.5 750.0 L254.6 749.5 L255.0 748.5 L254.8 747.5 L254.5 746.8 L254.3 746.5 L254.5 746.2 L254.9 745.5 L255.0 744.5 L254.9 743.5 L255.5 743.0 L256.2 743.5 L256.5 743.8 L257.0 744.5 L257.2 745.5 L257.5 746.2 L257.6 746.5 L258.5 747.2 L259.5 746.8 L260.5 746.6 L261.5 747.3 L262.1 746.5 L262.5 745.6 L262.5 745.5 L262.7 744.5 L263.5 743.9 L264.5 743.7 L264.7 744.5 L264.9 745.5 L264.5 746.5 L264.5 746.5 L264.5 747.5 L264.5 747.6 L264.6 747.5 L265.5 747.3 L266.5 747.0 L267.5 747.2 L267.7 747.5 L268.5 748.2 L269.5 747.7 L269.8 747.5 L270.5 746.8 L271.5 746.7 L271.9 746.5 L272.5 746.3 L273.3 746.5 L273.5 746.6 L274.5 746.6 L275.5 747.0 L276.2 747.5 L275.9 748.5 L276.5 748.7 L277.5 748.5 L277.5 748.5 L277.5 747.5 L278.2 746.5 L278.4 745.5 L277.5 744.5 L277.5 744.5 L276.5 743.6 L276.4 743.5 L275.5 742.8 L274.5 742.7 L273.5 742.5 L273.5 742.5 L273.2 741.5 L273.1 740.5 L273.5 740.2 L274.3 739.5 L274.5 739.4 L275.5 738.6 L275.6 738.5 L275.8 737.5 L275.5 736.8 L275.4 736.5 L275.5 736.1 L276.5 736.4 L277.5 736.3 L277.7 735.5 L277.5 734.7 L277.4 734.5 L277.2 733.5 L277.2 732.5 L277.5 732.0 L277.7 731.5 L277.5 731.1 L276.6 730.5 L276.5 730.4 L276.4 730.5 L275.5 731.0 L275.0 731.5 L274.5 732.5 L274.3 732.5 L273.5 732.6 L273.4 732.5 L273.1 731.5 L272.8 730.5 L272.8 729.5 L272.9 728.5 L273.5 728.5 L274.5 727.5 L273.5 726.5 L272.8 726.5 L273.1 725.5 L272.8 724.5 L273.2 723.5 L273.5 723.4 L274.5 723.5 L274.6 723.5 L275.0 724.5 L275.2 725.5 L274.7 726.5 L275.5 727.1 L275.8 727.5 L276.5 728.1 L277.5 728.4 L278.4 727.5 L277.7 726.5 L277.5 726.3 L276.9 725.5 L276.9 724.5 L276.8 723.5 L276.5 723.1 L276.0 722.5 L275.8 721.5 L275.8 720.5 L275.5 720.0 L274.5 719.6 L274.0 719.5 L273.6 718.5 L274.5 717.7 L274.7 717.5 L275.5 716.7 L275.6 716.5 L275.5 716.2 L274.5 715.8 L273.8 716.5 L273.5 716.7 L272.5 716.8 L271.7 717.5 L272.1 718.5 L272.4 719.5 L272.5 719.9 L272.5 720.5 L272.5 720.9 L272.4 721.5 L271.5 722.1 L270.5 721.5 L270.5 721.5 L269.5 720.5 L269.5 720.5 L269.5 719.5 L269.5 718.5 L269.5 717.5 L269.5 716.5 L269.5 715.5 L269.5 714.5 L269.5 713.5 L269.5 712.5 L269.5 711.5 L269.5 710.5 L269.5 709.5 L269.5 708.5 L269.5 707.5 L269.5 706.5 L269.5 705.5 L269.5 704.5 L269.5 703.5 L269.5 702.5 L269.5 702.5 L270.5 701.5 L270.5 700.5 L270.5 699.5 L269.5 698.5 L269.5 698.5 L269.5 698.5 L270.5 697.5 L270.5 697.5 L271.5 696.5 L271.5 696.5 L272.5 695.5 L272.5 695.5 L273.5 695.5 L274.5 694.5 L274.5 693.5 L274.5 693.5 L275.5 692.5 L275.5 691.5 L275.5 691.5 L276.5 690.5 L276.5 690.5 L277.5 690.5 L278.5 690.5 L279.5 689.5 L279.5 688.5 L279.5 688.5 L280.5 687.5 L280.5 686.5 L280.5 685.5 L280.5 685.5 L281.5 685.5 L282.5 684.5 L282.5 684.5 L283.5 684.5 L284.5 684.5 L285.5 684.5 L286.5 683.5 L286.5 682.5 L286.5 681.5 L286.5 681.5 L287.5 681.5 L288.5 680.5 L288.5 680.5 L289.5 679.5 L289.5 679.5 L290.5 678.5 L290.5 677.5 L290.5 677.5 L291.5 676.5 L291.5 675.5 L290.5 674.6 L290.4 674.5 L290.4 673.5 L290.4 672.5 L289.5 671.6 L289.4 671.5 L289.5 671.4 L290.4 670.5 L290.5 670.4 L291.5 670.4 L292.4 669.5 L292.5 669.4 L293.5 669.4 L294.5 669.4 L295.4 668.5 L295.4 667.5 L295.4 666.5 L295.5 666.4 L296.4 665.5 L296.5 665.4 L297.4 664.5ZM295.6 669.5 L296.5 670.4 L297.4 669.5 L296.5 668.6ZM306.5 713.5 L307.5 714.5 L308.5 713.5 L307.5 712.5ZM261.4 752.5 L261.5 753.5 L261.5 753.5 L261.5 753.5 L262.5 752.7 L262.5 752.5 L262.5 752.5 L261.5 752.4ZM256.4 761.5 L256.5 761.8 L257.5 761.6 L257.6 761.5 L257.5 761.4 L256.5 761.4ZM235.5 699.5 L236.5 699.5 L237.5 699.5 L237.5 699.5 L237.5 700.5 L238.5 701.5 L239.5 701.5 L240.5 700.5 L240.5 700.5 L241.5 700.5 L242.5 700.5 L243.5 700.5 L244.5 700.5 L245.5 700.5 L246.5 700.5 L247.5 700.5 L248.5 700.5 L249.5 700.5 L250.5 700.5 L251.5 700.5 L252.5 700.5 L253.5 700.5 L254.5 699.5 L254.5 699.5 L255.5 699.5 L256.5 699.5 L257.5 699.5 L258.5 699.5 L259.5 699.5 L260.5 699.5 L260.5 699.5 L261.5 700.5 L261.5 700.5 L262.5 701.5 L262.5 701.5 L263.5 702.5 L263.5 702.5 L264.5 703.5 L264.5 703.5 L265.5 704.5 L265.5 704.5 L265.5 705.5 L266.5 706.5 L266.5 706.5 L266.5 707.5 L266.5 707.5 L265.5 708.5 L265.5 709.5 L265.5 710.5 L265.5 711.5 L265.5 712.5 L265.5 712.5 L264.5 712.5 L263.5 712.5 L262.5 713.5 L262.5 713.5 L261.5 714.5 L261.5 715.5 L261.5 715.5 L260.5 716.5 L260.5 717.5 L260.5 717.5 L259.5 718.5 L259.5 719.5 L260.5 720.5 L261.5 720.5 L262.5 720.5 L263.5 720.5 L264.5 720.5 L264.5 720.5 L265.5 721.5 L265.5 721.5 L266.5 722.5 L266.5 722.5 L266.5 723.5 L266.5 724.5 L266.5 724.5 L265.5 725.5 L265.5 725.5 L264.5 726.5 L264.5 727.5 L265.5 728.5 L265.5 728.5 L265.5 729.5 L265.5 729.6 L264.7 730.5 L264.5 731.0 L264.2 731.5 L264.2 732.5 L264.0 733.5 L263.5 734.2 L262.5 734.3 L262.1 734.5 L261.5 735.2 L261.4 735.5 L260.5 736.3 L260.2 736.5 L260.0 737.5 L259.5 737.8 L258.8 737.5 L258.5 737.4 L257.5 736.5 L257.5 736.5 L256.5 736.5 L255.5 736.2 L254.5 735.6 L254.4 735.5 L254.4 734.5 L253.5 733.6 L252.5 733.7 L251.5 734.4 L251.4 734.5 L250.5 735.1 L249.5 735.2 L248.5 734.7 L248.1 734.5 L247.5 733.8 L246.8 733.5 L246.5 733.4 L245.5 732.6 L245.4 732.5 L245.1 731.5 L244.5 730.9 L243.5 730.6 L242.7 731.5 L242.5 732.0 L242.3 732.5 L242.4 733.5 L242.1 734.5 L241.5 734.7 L240.7 734.5 L240.5 734.4 L239.6 733.5 L239.5 733.4 L239.2 733.5 L238.6 734.5 L238.5 734.7 L238.4 734.5 L237.5 734.0 L236.7 733.5 L236.5 733.4 L235.5 733.1 L234.9 733.5 L234.5 733.6 L233.5 734.3 L233.2 734.5 L232.7 735.5 L232.5 736.2 L231.9 735.5 L231.5 734.7 L231.1 734.5 L230.5 734.5 L229.5 733.8 L229.1 733.5 L228.6 732.5 L228.5 731.9 L227.5 731.9 L226.5 732.0 L225.7 732.5 L226.2 733.5 L225.9 734.5 L225.5 735.0 L224.5 734.5 L224.5 734.5 L223.5 733.8 L223.2 734.5 L223.5 735.4 L223.6 735.5 L223.5 735.6 L222.5 735.6 L222.5 735.5 L221.5 734.8 L220.9 734.5 L220.5 734.4 L220.2 734.5 L219.5 734.8 L218.5 734.7 L218.3 734.5 L217.5 733.9 L216.5 733.9 L215.5 734.4 L215.3 734.5 L214.5 735.0 L213.5 735.3 L212.5 734.9 L211.5 734.7 L210.5 735.0 L209.6 735.5 L209.5 735.7 L209.4 735.5 L208.5 735.2 L208.0 735.5 L207.5 735.5 L207.5 735.5 L206.5 734.5 L206.5 734.5 L206.5 733.5 L205.5 732.5 L205.5 732.5 L205.5 731.5 L205.5 731.5 L206.5 731.5 L207.5 731.5 L208.5 730.5 L208.5 730.5 L209.5 729.7 L209.6 729.5 L209.5 729.4 L209.5 728.5 L209.5 727.5 L209.5 726.5 L209.5 726.5 L210.5 725.5 L210.5 724.5 L210.5 724.5 L211.5 724.5 L212.5 724.5 L213.5 724.5 L213.5 724.5 L214.5 725.5 L215.5 725.5 L216.5 725.5 L217.5 725.5 L218.5 725.5 L219.5 724.5 L219.5 724.5 L220.5 723.5 L220.5 722.5 L220.5 722.5 L221.5 721.5 L221.5 721.5 L222.5 721.5 L223.5 721.5 L224.5 721.5 L225.5 720.5 L225.5 720.5 L226.5 719.5 L226.5 718.5 L225.5 717.5 L225.5 717.5 L225.5 716.5 L225.5 715.5 L225.5 715.5 L226.5 715.5 L227.5 715.5 L228.5 715.5 L229.5 714.5 L229.5 713.5 L229.5 713.5 L230.5 713.4 L231.5 713.0 L232.0 712.5 L232.5 712.1 L232.8 711.5 L233.2 710.5 L233.5 710.5 L234.5 709.5 L234.5 708.9 L234.7 708.5 L234.7 707.5 L235.5 706.5 L235.5 705.5 L235.5 705.5 L236.5 704.5 L236.5 703.5 L236.5 702.5 L236.5 701.5 L235.5 700.5 L235.5 700.5 L235.5 699.5ZM259.9 702.5 L259.7 703.5 L260.5 704.1 L261.5 703.8 L262.5 703.6 L262.6 703.5 L262.5 703.3 L261.5 702.9 L261.0 702.5 L260.5 702.3ZM255.5 709.5 L255.5 710.5 L256.5 711.5 L257.5 710.5 L257.5 709.5 L256.5 708.5ZM228.4 728.5 L228.5 728.9 L228.7 729.5 L229.5 730.1 L229.8 730.5 L230.5 731.4 L230.6 731.5 L231.5 731.8 L231.7 731.5 L231.5 730.5 L231.5 730.5 L231.5 730.5 L231.6 729.5 L231.5 728.9 L231.3 728.5 L230.5 728.2 L229.5 728.1 L228.5 728.3ZM222.4 730.5 L222.5 730.8 L222.6 730.5 L222.5 730.4ZM215.3 731.5 L215.5 732.3 L215.8 731.5 L215.5 731.1ZM224.4 732.5 L224.5 732.7 L224.9 732.5 L224.5 732.4ZM174.5 705.4 L174.9 705.5 L175.5 705.6 L176.5 706.0 L177.5 706.2 L178.5 705.9 L179.5 705.7 L180.5 705.7 L181.5 705.7 L182.5 705.6 L183.5 705.9 L184.5 705.9 L185.5 705.8 L186.5 706.0 L187.5 706.5 L188.5 706.5 L189.1 706.5 L189.2 707.5 L188.5 708.5 L188.5 708.5 L187.5 709.5 L187.5 710.5 L187.5 710.5 L186.5 711.5 L186.5 711.5 L185.5 712.5 L185.5 713.5 L185.5 713.7 L184.8 714.5 L184.5 715.0 L183.8 715.5 L183.6 716.5 L183.5 717.5 L183.6 718.5 L183.5 718.7 L183.0 719.5 L182.5 720.1 L182.1 720.5 L182.2 721.5 L182.5 722.4 L182.5 722.5 L182.5 722.7 L182.3 723.5 L182.3 724.5 L181.5 725.0 L180.5 724.7 L179.5 724.7 L178.5 724.9 L177.5 724.7 L176.5 724.8 L175.5 724.6 L175.4 724.5 L174.6 723.5 L174.5 723.3 L173.5 723.0 L172.5 723.4 L172.3 723.5 L171.5 723.8 L171.5 723.5 L170.5 722.5 L170.5 722.5 L169.9 721.5 L169.5 720.5 L169.5 720.5 L169.5 720.5 L169.2 721.5 L168.5 721.5 L167.5 721.5 L167.5 721.5 L166.5 720.5 L166.5 720.5 L166.5 719.5 L165.5 718.5 L165.5 718.5 L165.5 717.5 L164.5 716.5 L164.5 716.5 L163.5 715.5 L163.1 715.5 L163.4 714.5 L163.5 714.2 L163.8 713.5 L163.5 713.0 L162.5 712.6 L162.1 713.5 L161.5 714.5 L161.5 714.5 L160.5 714.5 L160.5 714.5 L160.5 713.5 L160.5 712.5 L160.5 712.5 L161.5 712.2 L162.5 712.3 L162.6 711.5 L163.3 710.5 L163.5 710.2 L164.1 709.5 L164.5 709.0 L165.0 708.5 L165.5 708.2 L166.0 707.5 L166.5 706.9 L166.9 706.5 L167.5 706.1 L168.5 705.7 L169.5 705.6 L170.5 705.6 L171.5 705.9 L172.5 706.0 L173.5 705.5 L173.7 705.5ZM178.5 726.8 L179.5 727.2 L180.5 727.4 L180.9 727.5 L181.4 728.5 L180.5 728.5 L180.2 728.5 L179.5 728.1 L178.5 727.9 L177.7 727.5ZM183.5 730.4 L183.5 730.5 L183.5 730.5 L183.5 730.5ZM244.5 733.3 L244.8 733.5 L244.6 734.5 L244.5 734.7 L244.1 734.5 L244.2 733.5ZM273.5 735.4 L274.5 735.4 L274.8 735.5 L274.5 735.6 L273.5 735.6 L273.2 735.5ZM246.5 736.5 L246.8 736.5 L246.5 736.6 L246.5 736.5ZM214.5 738.1 L214.8 738.5 L215.0 739.5 L214.5 739.9 L213.7 740.5 L213.5 741.0 L213.2 740.5 L212.7 739.5 L213.5 739.2 L214.0 738.5ZM271.5 738.0 L272.1 738.5 L271.5 738.9 L271.3 738.5ZM245.5 739.4 L246.5 739.4 L246.5 739.5 L246.5 739.6 L245.5 739.7 L245.4 739.5ZM245.5 741.6 L245.9 742.5 L246.4 743.5 L245.5 743.6 L245.4 743.5 L245.3 742.5ZM238.5 744.1 L238.8 744.5 L238.5 744.8 L238.2 744.5ZM245.5 748.5 L246.1 749.5 L245.5 749.8 L244.8 749.5ZM254.5 755.5 L254.6 755.5 L254.5 755.5 L254.5 755.5ZM254.5 765.0 L255.5 765.5 L254.5 765.9 L254.2 765.5ZM274.5 765.5 L275.5 765.5 L276.5 765.5 L277.5 765.5 L278.5 765.5 L278.5 765.5 L279.5 766.5 L279.5 766.5 L279.5 767.1 L278.5 766.8 L278.1 766.5 L277.5 766.4 L277.4 766.5 L276.5 767.4 L276.4 767.5 L275.5 768.4 L274.5 768.2 L274.5 767.5 L274.5 766.5 L274.5 765.5ZM230.5 766.1 L231.5 765.9 L232.5 766.0 L233.0 766.5 L233.2 767.5 L233.1 768.5 L233.2 769.5 L233.0 770.5 L232.5 771.4 L232.5 771.5 L232.4 772.5 L231.5 773.4 L230.5 773.2 L229.5 772.8 L228.5 772.5 L228.4 772.5 L227.5 772.0 L227.1 771.5 L226.8 770.5 L227.0 769.5 L227.5 768.9 L227.7 768.5 L228.2 767.5 L228.5 767.2 L229.5 766.6 L229.8 766.5ZM261.5 769.4 L262.5 768.7 L263.1 769.5 L262.5 769.9 L261.7 770.5 L261.5 770.5 L261.3 770.5 L261.4 769.5Z"/>
<path fill="#ff3000" fill-rule="evenodd" d="M297.5 664.4 L298.5 664.4 L298.6 664.5 L299.5 665.4 L300.5 665.4 L300.6 665.5 L300.6 666.5 L300.5 666.6 L299.6 667.5 L299.6 668.5 L299.6 669.5 L300.5 670.4 L301.5 670.4 L301.6 670.5 L302.5 671.4 L303.5 671.4 L303.6 671.5 L304.5 672.4 L304.6 672.5 L305.5 673.4 L305.6 673.5 L306.5 674.4 L306.6 674.5 L307.5 675.4 L307.6 675.5 L308.5 676.4 L308.6 676.5 L309.5 677.4 L309.6 677.5 L310.5 678.4 L310.6 678.5 L311.5 679.4 L311.6 679.5 L312.5 680.4 L313.5 680.4 L313.6 680.5 L313.6 681.5 L313.5 681.6 L312.6 682.5 L313.5 683.4 L313.6 683.5 L314.5 684.4 L315.5 684.4 L316.5 684.4 L317.5 684.4 L317.6 684.5 L318.5 685.4 L318.6 685.5 L319.5 686.4 L319.6 686.5 L319.6 687.5 L320.5 688.4 L320.6 688.5 L321.5 689.4 L321.6 689.5 L322.5 690.4 L322.6 690.5 L323.5 691.4 L323.6 691.5 L324.5 692.4 L324.6 692.5 L324.5 692.6 L323.5 693.5 L323.5 693.5 L322.6 694.5 L322.5 694.6 L321.5 694.6 L320.5 694.6 L319.6 695.5 L319.6 696.5 L319.6 697.5 L319.6 698.5 L319.6 699.5 L319.5 699.6 L318.6 700.5 L318.6 701.5 L318.6 702.5 L318.6 703.5 L318.5 703.6 L317.5 703.6 L316.6 704.5 L316.5 704.6 L315.6 705.5 L315.5 705.6 L314.5 706.5 L314.5 706.5 L313.5 707.5 L313.6 708.5 L313.5 709.5 L313.5 710.5 L313.6 711.5 L314.5 712.4 L314.6 712.5 L314.6 713.5 L314.5 713.6 L313.5 713.5 L312.5 713.5 L311.5 713.5 L310.5 714.5 L310.5 715.5 L310.5 716.5 L310.5 716.5 L309.5 717.5 L309.5 717.5 L308.5 717.5 L307.5 718.5 L307.5 718.5 L306.5 719.5 L306.5 719.5 L305.5 719.5 L304.5 719.5 L303.5 719.5 L302.5 720.5 L302.5 720.5 L301.5 721.5 L301.5 721.5 L300.5 721.5 L299.5 722.5 L299.5 723.5 L299.5 724.5 L299.5 725.5 L299.5 726.5 L299.5 727.5 L299.5 728.5 L299.5 729.5 L299.5 730.5 L299.5 730.5 L298.5 731.1 L298.1 731.5 L297.5 732.2 L297.3 732.5 L296.5 733.0 L295.5 733.0 L294.5 732.9 L293.5 732.8 L292.5 732.8 L291.8 732.5 L291.5 732.3 L290.5 732.1 L289.5 731.8 L289.1 732.5 L289.5 733.4 L289.6 733.5 L290.5 733.9 L291.4 734.5 L290.5 735.5 L290.5 735.5 L289.5 735.7 L288.5 735.7 L287.6 736.5 L287.5 736.9 L287.4 736.5 L287.0 735.5 L286.5 734.7 L286.1 734.5 L285.6 733.5 L285.6 732.5 L285.5 732.4 L284.8 731.5 L284.8 730.5 L284.9 729.5 L285.5 728.9 L285.8 728.5 L285.5 728.2 L284.7 727.5 L284.5 727.0 L284.2 726.5 L283.5 726.2 L283.1 726.5 L282.5 727.1 L281.5 727.4 L280.5 726.9 L280.0 726.5 L279.5 725.5 L279.5 725.5 L279.2 724.5 L279.4 723.5 L279.5 723.3 L279.9 722.5 L280.5 721.8 L280.7 721.5 L280.6 720.5 L280.9 719.5 L280.9 718.5 L280.5 717.7 L279.9 717.5 L279.5 717.2 L278.5 716.9 L277.7 716.5 L277.5 716.2 L277.3 715.5 L276.5 714.6 L276.3 714.5 L275.7 713.5 L276.5 712.7 L276.6 712.5 L276.5 711.5 L276.5 711.5 L275.5 711.0 L274.5 711.5 L274.4 711.5 L273.5 712.0 L272.5 712.4 L272.2 712.5 L271.5 712.8 L270.5 713.5 L270.5 713.5 L270.5 713.6 L270.6 714.5 L270.5 714.8 L270.3 715.5 L269.7 716.5 L270.4 717.5 L270.5 717.7 L270.7 718.5 L270.5 718.9 L269.6 719.5 L269.5 719.6 L269.5 719.5 L269.5 718.5 L269.5 717.5 L269.5 716.5 L269.5 715.5 L269.5 714.5 L269.5 713.5 L269.5 712.5 L269.5 711.5 L269.5 710.5 L269.5 709.5 L269.5 708.5 L269.5 707.5 L269.5 707.3 L270.5 707.5 L271.0 706.5 L270.5 705.8 L269.5 705.8 L269.5 705.5 L269.5 704.5 L269.5 703.5 L269.5 702.5 L269.5 702.5 L270.5 701.5 L270.5 700.5 L270.5 699.5 L269.5 698.5 L269.5 698.5 L269.5 698.5 L270.5 697.5 L270.5 697.5 L271.5 696.5 L271.5 696.5 L272.5 695.5 L272.5 695.5 L273.5 695.5 L274.5 694.5 L274.5 693.5 L274.5 693.5 L275.5 692.5 L275.5 691.5 L275.5 691.5 L276.5 690.5 L276.5 690.5 L277.5 690.5 L278.5 690.5 L279.5 689.5 L279.5 688.5 L279.5 688.5 L280.5 687.5 L280.5 686.5 L280.5 685.5 L280.5 685.5 L281.5 685.5 L282.5 684.5 L282.5 684.5 L283.5 684.5 L284.5 684.5 L285.5 684.5 L286.5 683.5 L286.5 682.5 L286.5 681.5 L286.5 681.5 L287.5 681.5 L288.5 680.5 L288.5 680.5 L289.5 679.5 L289.5 679.5 L290.5 678.5 L290.5 677.5 L290.5 677.5 L291.5 676.5 L291.5 675.5 L290.5 674.5 L290.5 674.5 L290.4 673.5 L290.4 672.5 L289.5 671.6 L289.4 671.5 L289.5 671.4 L290.4 670.5 L290.5 670.4 L291.5 670.4 L292.4 669.5 L292.5 669.4 L293.5 669.4 L294.5 669.4 L295.4 668.5 L295.4 667.5 L295.4 666.5 L295.5 666.4 L296.4 665.5 L296.5 665.4 L297.4 664.5ZM295.5 669.5 L296.5 670.5 L297.4 669.5 L296.5 668.6ZM306.5 713.5 L307.5 714.5 L308.5 713.5 L307.5 712.5ZM291.5 728.5 L291.5 728.5 L291.5 728.5 L291.5 728.5ZM236.5 699.5 L237.5 699.5 L237.5 699.5 L237.5 700.5 L237.5 701.3 L236.8 700.5 L236.5 699.6 L236.4 699.5ZM254.5 699.5 L255.5 699.5 L256.5 699.5 L257.5 699.5 L258.5 699.5 L259.5 699.5 L260.5 699.5 L260.5 699.5 L261.5 700.5 L261.5 700.5 L261.5 701.2 L260.5 701.2 L259.5 701.3 L258.5 701.3 L257.5 701.1 L257.1 701.5 L257.5 702.1 L258.0 702.5 L258.2 703.5 L258.3 704.5 L258.3 705.5 L258.5 706.5 L258.5 706.5 L258.5 706.5 L259.5 706.1 L260.5 705.7 L260.8 705.5 L261.5 705.3 L262.5 705.4 L263.5 705.4 L264.5 705.3 L265.5 704.7 L265.5 705.5 L266.5 706.5 L266.5 706.5 L266.5 707.5 L266.5 707.5 L265.5 708.5 L265.5 709.5 L265.5 710.5 L265.5 711.5 L265.5 712.5 L265.5 712.5 L264.6 712.5 L264.5 712.5 L263.7 711.5 L263.5 710.9 L263.3 710.5 L263.4 709.5 L263.5 708.8 L263.5 708.5 L263.5 708.5 L262.5 708.3 L261.5 708.1 L260.7 707.5 L260.5 707.2 L259.5 707.0 L258.9 707.5 L258.5 707.9 L257.8 708.5 L257.5 708.6 L257.2 708.5 L256.5 708.2 L255.8 708.5 L255.5 708.8 L254.7 709.5 L255.1 710.5 L255.1 711.5 L255.5 712.1 L255.7 712.5 L256.5 713.2 L256.9 713.5 L257.1 714.5 L256.7 715.5 L256.6 716.5 L257.5 717.1 L258.5 717.0 L259.1 717.5 L259.0 718.5 L259.4 719.5 L259.5 719.7 L260.1 720.5 L260.5 721.2 L260.9 720.5 L261.5 720.5 L262.5 720.5 L263.5 720.5 L264.5 720.5 L264.5 720.5 L265.5 721.5 L265.5 721.5 L266.5 722.5 L266.5 722.5 L266.5 723.5 L266.5 724.5 L266.5 724.5 L265.5 725.5 L265.5 725.5 L264.5 725.9 L264.4 725.5 L264.3 724.5 L263.6 723.5 L263.5 723.2 L263.3 723.5 L262.5 724.1 L261.8 724.5 L261.5 724.9 L261.1 725.5 L261.2 726.5 L261.5 727.1 L262.5 727.0 L263.5 727.0 L263.7 727.5 L263.5 727.9 L263.1 728.5 L262.6 729.5 L262.5 729.6 L262.0 730.5 L261.5 730.9 L260.5 730.6 L260.5 730.5 L260.5 730.2 L260.7 729.5 L260.5 729.0 L260.4 728.5 L260.5 727.6 L260.6 727.5 L260.5 727.5 L259.5 726.5 L259.5 726.4 L259.2 725.5 L258.5 724.9 L257.5 724.6 L256.5 724.8 L255.8 724.5 L255.5 724.1 L254.5 724.3 L253.5 724.4 L252.6 724.5 L252.5 724.7 L252.4 725.5 L251.8 726.5 L251.5 726.8 L250.7 727.5 L250.5 727.9 L250.2 728.5 L249.5 729.1 L248.8 729.5 L248.5 729.7 L247.5 730.0 L246.5 730.4 L245.5 730.0 L244.9 729.5 L244.6 728.5 L244.6 727.5 L245.0 726.5 L245.5 725.8 L245.9 725.5 L246.5 725.2 L247.1 724.5 L247.3 723.5 L246.8 722.5 L246.5 722.3 L245.5 722.4 L244.5 721.5 L244.6 720.5 L244.5 719.6 L244.4 719.5 L243.5 718.5 L243.4 718.5 L243.4 717.5 L242.5 716.7 L241.6 717.5 L242.4 718.5 L242.5 718.7 L243.0 719.5 L242.5 720.0 L242.1 720.5 L242.5 721.1 L242.7 721.5 L242.9 722.5 L243.5 722.8 L244.2 723.5 L244.4 724.5 L244.3 725.5 L243.5 726.3 L242.5 726.2 L242.2 726.5 L241.5 727.5 L240.5 727.1 L240.3 726.5 L240.5 726.0 L241.5 725.8 L241.9 725.5 L241.5 725.1 L240.5 725.0 L239.5 725.1 L238.5 725.4 L237.5 725.3 L236.6 724.5 L236.5 723.5 L236.6 722.5 L236.5 722.4 L235.6 721.5 L235.5 721.4 L234.5 720.8 L233.5 721.4 L233.3 721.5 L232.5 722.3 L232.2 722.5 L231.5 723.5 L231.5 723.5 L231.5 723.5 L232.5 724.2 L232.9 724.5 L233.4 725.5 L232.8 726.5 L232.5 726.7 L231.5 726.7 L231.1 726.5 L230.5 725.6 L230.3 725.5 L229.5 724.8 L229.4 724.5 L228.5 723.6 L227.5 723.7 L226.9 723.5 L226.5 723.2 L225.9 722.5 L226.5 722.0 L226.9 721.5 L227.5 720.7 L227.7 720.5 L227.5 719.9 L226.6 719.5 L226.5 719.5 L226.5 718.5 L225.5 717.5 L225.5 717.5 L225.5 716.5 L225.5 716.0 L226.5 716.0 L227.5 716.4 L227.9 716.5 L228.5 717.3 L228.5 717.5 L228.8 718.5 L229.5 719.1 L230.5 718.7 L230.6 718.5 L231.1 717.5 L231.4 716.5 L231.5 716.2 L232.4 715.5 L232.5 715.5 L233.5 714.9 L234.5 715.1 L235.2 715.5 L235.5 715.7 L236.5 715.8 L236.6 715.5 L236.5 715.1 L236.3 714.5 L235.9 713.5 L235.5 712.8 L234.6 712.5 L235.5 712.0 L235.9 711.5 L236.1 710.5 L236.4 709.5 L236.2 708.5 L235.8 707.5 L236.0 706.5 L236.5 706.0 L237.0 705.5 L237.3 704.5 L237.5 704.1 L237.8 703.5 L238.2 702.5 L237.8 701.5 L238.5 701.5 L239.5 701.5 L240.5 700.5 L240.5 700.5 L241.5 700.5 L242.5 700.5 L243.5 700.5 L244.5 700.5 L245.5 700.5 L246.5 700.5 L247.5 700.5 L248.5 700.5 L249.5 700.5 L250.5 700.5 L251.5 700.5 L252.5 700.5 L253.5 700.5 L254.5 699.5ZM241.0 703.5 L240.5 704.1 L240.1 704.5 L240.5 705.2 L241.5 704.7 L242.1 704.5 L242.5 704.0 L242.6 703.5 L242.5 702.9 L241.5 702.6ZM244.6 708.5 L245.5 709.0 L245.9 708.5 L245.5 707.9ZM240.7 711.5 L241.5 712.5 L241.5 712.6 L241.6 713.5 L242.2 714.5 L242.5 714.7 L243.5 714.6 L243.6 714.5 L243.7 713.5 L243.5 713.2 L243.3 712.5 L243.2 711.5 L242.5 711.1 L241.5 711.0ZM251.2 715.5 L250.5 715.8 L249.5 715.7 L248.5 715.7 L248.0 716.5 L248.5 717.1 L249.1 717.5 L249.5 717.7 L250.3 717.5 L250.5 717.4 L251.5 717.0 L252.5 717.0 L253.2 716.5 L253.0 715.5 L252.5 715.1 L251.5 715.4ZM239.2 716.5 L239.5 716.9 L239.8 716.5 L239.5 715.9ZM237.5 717.5 L237.5 717.5 L238.5 717.6 L238.8 717.5 L238.5 717.3 L237.5 717.5ZM170.5 706.4 L170.8 706.5 L171.5 706.9 L172.5 707.0 L173.3 706.5 L173.5 706.4 L174.5 706.1 L175.5 706.4 L175.8 706.5 L176.5 707.0 L177.5 707.4 L178.5 707.2 L179.5 707.1 L180.5 707.0 L181.5 706.5 L182.1 706.5 L182.5 706.5 L182.6 706.5 L183.5 707.2 L184.5 706.9 L185.5 706.8 L186.5 706.9 L187.5 706.9 L188.3 706.5 L188.5 706.5 L188.5 706.5 L188.9 707.5 L188.5 708.5 L188.5 708.5 L187.5 709.5 L187.5 710.5 L187.5 710.5 L186.5 711.2 L185.7 711.5 L185.5 711.6 L184.5 712.2 L184.4 712.5 L183.7 713.5 L183.5 713.6 L182.5 713.7 L181.5 713.8 L180.7 714.5 L180.8 715.5 L181.5 716.5 L181.5 716.5 L181.6 717.5 L181.6 718.5 L181.5 718.6 L180.5 718.8 L180.3 718.5 L180.0 717.5 L179.5 717.2 L178.5 716.9 L177.9 716.5 L177.5 716.3 L176.5 716.2 L175.5 716.1 L174.5 715.9 L174.0 716.5 L174.5 716.8 L175.5 716.8 L176.5 717.2 L176.8 717.5 L177.5 718.5 L177.4 719.5 L176.5 720.4 L175.5 720.5 L174.5 720.2 L174.5 720.5 L173.5 721.0 L172.5 721.1 L171.9 720.5 L171.5 719.9 L171.2 719.5 L170.8 718.5 L170.5 718.2 L169.5 717.7 L169.4 717.5 L169.5 716.5 L169.5 716.3 L169.6 715.5 L169.5 715.3 L168.7 714.5 L168.5 714.3 L167.5 714.0 L166.5 713.5 L166.5 713.5 L165.8 712.5 L165.5 712.2 L164.6 711.5 L165.0 710.5 L165.5 710.1 L166.0 709.5 L166.5 708.9 L167.0 708.5 L167.4 707.5 L167.5 707.4 L168.5 706.8 L169.5 706.6 L169.8 706.5ZM259.5 710.8 L259.7 711.5 L260.5 712.1 L260.9 712.5 L261.5 713.1 L261.8 713.5 L261.5 714.3 L260.5 713.7 L260.2 713.5 L259.5 713.0 L259.1 712.5 L259.2 711.5ZM233.5 713.4 L233.6 713.5 L233.5 713.6 L233.5 713.5ZM261.5 714.8 L261.5 715.5 L261.5 715.5 L260.7 715.5ZM260.5 715.6 L260.5 716.5 L260.5 717.5 L260.5 717.5 L259.9 717.5 L259.6 716.5ZM179.5 719.9 L179.8 720.5 L180.4 721.5 L180.5 721.7 L180.7 722.5 L180.5 722.8 L179.6 723.5 L179.5 723.5 L179.3 723.5 L178.5 723.2 L177.7 722.5 L177.7 721.5 L178.5 720.7 L178.9 720.5ZM278.5 721.5 L278.5 721.5 L278.5 721.5 L278.5 721.5ZM211.5 724.5 L212.5 724.5 L212.7 724.5 L213.0 725.5 L212.5 726.2 L211.5 725.7 L211.3 725.5 L210.8 724.5ZM235.5 724.3 L236.1 724.5 L235.5 724.7 L235.2 724.5ZM221.5 725.2 L221.9 725.5 L221.5 726.2 L221.2 725.5ZM253.5 727.4 L254.5 726.5 L254.8 727.5 L254.7 728.5 L254.5 728.6 L254.2 728.5 L253.5 727.6 L253.5 727.5ZM219.5 728.3 L220.1 728.5 L220.5 729.0 L220.7 729.5 L220.6 730.5 L220.5 730.8 L219.5 731.0 L218.5 730.9 L217.5 730.6 L217.5 730.5 L217.5 730.2 L217.8 729.5 L218.5 729.2 L219.3 728.5ZM222.5 728.3 L223.5 728.0 L224.0 728.5 L224.5 729.3 L224.6 729.5 L224.5 729.7 L223.5 729.9 L223.0 729.5 L222.5 728.5 L222.4 728.5ZM233.5 728.1 L234.5 728.4 L234.7 728.5 L235.5 728.7 L236.5 729.0 L236.8 729.5 L236.6 730.5 L236.5 730.7 L235.5 730.9 L234.5 730.5 L233.5 730.9 L232.8 730.5 L232.9 729.5 L233.2 728.5ZM242.5 728.5 L242.5 728.5 L242.8 729.5 L242.5 729.7 L241.5 730.1 L241.4 729.5 L241.5 728.9 L242.5 728.5ZM297.5 733.1 L298.5 733.2 L298.5 733.5 L299.5 734.5 L299.5 734.5 L299.5 735.5 L299.5 735.5 L298.5 735.5 L298.5 735.5 L297.5 734.5 L297.5 734.5 L297.4 733.5ZM288.5 737.5 L288.5 737.5 L289.1 738.5 L288.5 739.1 L288.1 738.5 L288.5 737.5ZM281.5 739.2 L282.5 739.3 L282.9 739.5 L283.2 740.5 L282.6 741.5 L282.5 741.5 L281.5 741.6 L281.4 741.5 L281.1 740.5 L281.3 739.5ZM289.5 739.8 L289.5 740.5 L289.5 741.2 L288.9 740.5ZM284.5 741.4 L285.5 741.3 L286.1 741.5 L286.2 742.5 L285.5 742.7 L285.1 742.5 L284.5 741.6 L284.3 741.5ZM282.5 745.4 L282.7 745.5 L283.5 746.3 L283.7 746.5 L283.5 746.8 L282.5 747.5 L282.5 747.7 L282.5 747.5 L281.7 746.5 L281.9 745.5ZM286.5 746.2 L286.9 746.5 L287.5 746.9 L288.0 747.5 L288.5 748.1 L288.5 748.5 L289.3 749.5 L288.5 750.5 L288.5 750.5 L287.9 750.5 L287.5 750.2 L286.6 749.5 L286.7 748.5 L286.5 747.9 L286.3 747.5 L286.1 746.5ZM266.5 748.5 L266.6 748.5 L266.5 748.6 L266.5 748.5ZM270.5 749.0 L271.5 748.7 L272.1 749.5 L271.7 750.5 L271.5 750.7 L270.5 751.3 L270.0 750.5 L269.7 749.5ZM282.5 749.3 L283.5 749.1 L284.5 748.9 L285.0 749.5 L284.9 750.5 L284.5 750.8 L283.7 750.5 L283.5 750.2 L282.5 749.5 L282.5 749.5ZM275.5 753.5 L276.5 753.0 L277.5 753.5 L277.6 753.5 L277.5 753.6 L277.3 754.5 L276.6 755.5 L276.5 755.8 L276.2 756.5 L275.9 757.5 L276.5 758.0 L277.5 757.9 L278.5 757.9 L278.5 758.5 L278.5 758.5 L277.5 759.5 L277.5 759.5 L276.5 760.5 L276.5 760.5 L275.5 761.5 L275.5 761.5 L274.5 762.0 L273.5 761.9 L272.6 761.5 L272.5 761.4 L271.5 761.4 L271.2 760.5 L270.5 760.1 L269.9 760.5 L270.5 761.2 L271.4 761.5 L271.5 761.5 L272.1 762.5 L272.1 763.5 L272.5 764.2 L272.5 764.5 L272.5 764.5 L271.5 764.5 L270.5 764.5 L269.5 765.5 L269.5 765.5 L268.5 765.5 L268.5 765.5 L267.5 764.5 L266.6 764.5 L266.8 763.5 L267.5 762.9 L268.0 762.5 L268.5 761.8 L268.7 761.5 L268.6 760.5 L268.5 760.5 L267.5 760.3 L266.5 760.3 L265.8 760.5 L265.5 760.7 L264.5 760.9 L264.1 760.5 L264.4 759.5 L264.5 759.2 L265.1 758.5 L265.5 758.2 L266.5 758.2 L267.5 757.8 L267.8 757.5 L268.2 756.5 L267.5 755.9 L266.9 755.5 L267.5 754.6 L268.5 755.2 L269.2 755.5 L269.5 755.8 L270.0 755.5 L270.5 755.2 L271.1 754.5 L271.5 754.2 L272.5 754.2 L273.0 754.5 L273.5 754.7 L274.5 754.7 L274.7 754.5 L275.5 753.5ZM271.1 756.5 L271.2 757.5 L271.5 757.7 L271.6 757.5 L271.7 756.5 L271.5 756.3ZM260.5 759.0 L261.3 759.5 L261.2 760.5 L261.2 761.5 L260.5 762.0 L259.8 761.5 L259.5 760.9 L259.4 760.5 L259.5 760.2 L260.1 759.5ZM275.5 765.5 L276.5 765.5 L277.5 765.5 L277.8 765.5 L277.5 765.7 L276.7 766.5 L276.5 766.7 L275.8 767.5 L275.5 767.8 L274.5 767.6 L274.5 767.5 L274.5 766.5 L274.5 765.9 L274.7 765.5ZM231.5 767.4 L231.6 767.5 L232.0 768.5 L232.1 769.5 L231.7 770.5 L231.5 771.1 L230.5 770.6 L230.4 770.5 L229.5 769.5 L229.5 769.5 L229.4 768.5 L229.5 768.4 L230.5 767.9 L231.4 767.5Z"/>
<path fill="#ff1400" fill-rule="evenodd" d="M297.5 664.4 L298.5 664.4 L298.6 664.5 L299.5 665.4 L300.5 665.4 L300.6 665.5 L300.6 666.5 L300.5 666.6 L299.5 667.5 L299.5 668.5 L299.6 669.5 L300.5 670.4 L301.5 670.5 L301.5 670.5 L302.5 671.5 L303.5 671.5 L303.5 671.5 L304.5 672.4 L304.6 672.5 L305.5 673.4 L305.6 673.5 L306.5 674.4 L306.6 674.5 L307.5 675.4 L307.6 675.5 L308.5 676.4 L308.6 676.5 L309.5 677.4 L309.6 677.5 L310.5 678.4 L310.6 678.5 L311.5 679.4 L311.6 679.5 L312.5 680.4 L313.5 680.5 L313.5 680.5 L313.5 681.5 L313.5 681.5 L312.5 682.5 L313.5 683.5 L313.5 683.5 L314.5 684.5 L315.5 684.5 L316.5 684.5 L317.5 684.5 L317.5 684.5 L318.5 685.5 L318.5 685.5 L319.5 686.4 L319.6 686.5 L319.6 687.5 L320.5 688.4 L320.6 688.5 L321.5 689.4 L321.6 689.5 L322.5 690.4 L322.6 690.5 L323.5 691.4 L323.6 691.5 L324.5 692.5 L324.5 692.5 L324.5 692.5 L323.5 693.5 L323.5 693.5 L322.5 694.5 L322.5 694.5 L321.5 694.5 L320.5 694.5 L319.5 695.5 L319.5 696.5 L319.6 697.5 L319.5 698.5 L319.5 699.5 L319.5 699.5 L318.5 700.5 L318.5 701.5 L318.5 702.5 L318.5 703.5 L318.5 703.5 L317.5 703.5 L316.5 704.5 L316.5 704.5 L315.5 705.5 L315.5 705.5 L314.5 706.5 L314.5 706.5 L313.5 707.5 L313.5 708.5 L313.5 709.5 L313.5 710.5 L313.5 711.5 L314.5 712.5 L314.5 712.5 L314.5 713.5 L314.5 713.5 L313.5 713.5 L312.5 713.5 L311.5 713.5 L310.5 714.5 L310.5 715.5 L310.5 716.5 L310.5 716.5 L309.5 717.5 L309.5 717.5 L308.5 717.5 L307.5 718.5 L307.5 718.5 L306.5 719.5 L306.5 719.5 L305.5 719.5 L304.5 719.5 L303.5 719.5 L302.5 720.5 L302.5 720.5 L301.5 721.5 L301.5 721.5 L300.5 721.5 L299.5 722.5 L299.5 723.5 L299.5 724.5 L299.5 725.5 L299.5 726.5 L299.5 727.5 L299.5 728.5 L299.5 729.5 L299.5 730.5 L299.5 730.5 L299.2 730.5 L298.5 729.7 L297.7 729.5 L297.5 729.2 L297.4 729.5 L296.6 730.5 L296.5 731.3 L296.4 731.5 L295.5 732.0 L294.5 731.8 L293.5 731.8 L292.5 731.6 L292.1 731.5 L292.5 730.7 L292.6 730.5 L292.8 729.5 L293.2 728.5 L292.9 727.5 L292.5 727.3 L291.5 727.0 L290.5 727.1 L289.5 727.2 L288.5 727.0 L287.5 726.9 L287.1 726.5 L286.5 725.6 L286.4 725.5 L285.5 725.0 L284.5 725.1 L283.5 724.9 L283.2 724.5 L283.1 723.5 L282.7 722.5 L282.5 722.1 L282.1 721.5 L281.5 720.5 L281.5 720.5 L281.5 720.5 L281.9 719.5 L281.9 718.5 L281.6 717.5 L281.7 716.5 L282.2 715.5 L282.3 714.5 L281.5 714.0 L280.8 714.5 L280.5 714.7 L279.5 715.3 L278.5 715.4 L277.9 714.5 L277.5 713.6 L277.4 713.5 L277.5 713.1 L277.6 712.5 L277.6 711.5 L277.5 711.0 L277.2 710.5 L276.5 710.0 L275.5 709.8 L274.5 710.0 L274.0 709.5 L274.1 708.5 L273.8 707.5 L273.7 706.5 L273.8 705.5 L273.7 704.5 L273.5 704.3 L273.1 704.5 L272.5 705.4 L271.5 705.2 L271.1 704.5 L271.4 703.5 L271.5 703.4 L272.3 702.5 L272.5 701.9 L272.6 701.5 L272.5 701.3 L271.5 700.7 L271.1 700.5 L270.5 700.2 L270.5 699.5 L269.5 698.5 L269.5 698.5 L269.5 698.5 L270.5 697.5 L270.5 697.5 L271.5 696.5 L271.5 696.5 L272.5 695.9 L272.7 695.5 L273.5 695.5 L274.5 694.5 L274.5 693.5 L274.5 693.5 L275.5 692.5 L275.5 691.5 L275.5 691.5 L276.5 690.5 L276.5 690.5 L277.5 690.5 L278.5 690.5 L279.5 689.5 L279.5 688.5 L279.5 688.5 L280.5 687.5 L280.5 686.5 L280.5 685.5 L280.5 685.5 L281.5 685.5 L282.5 684.7 L283.3 684.5 L283.5 684.5 L284.5 684.5 L285.5 684.5 L286.5 683.5 L286.5 682.5 L286.5 681.5 L286.5 681.5 L287.5 681.5 L288.5 680.5 L288.5 680.5 L289.5 679.5 L289.5 679.5 L290.5 678.5 L290.5 677.5 L290.5 677.5 L291.5 676.5 L291.5 675.5 L290.5 674.5 L290.5 674.5 L290.5 673.5 L290.5 672.5 L289.5 671.5 L289.5 671.5 L289.5 671.5 L290.5 670.5 L290.5 670.5 L291.5 670.4 L292.4 669.5 L292.5 669.4 L293.5 669.5 L294.5 669.5 L295.5 668.5 L295.5 667.5 L295.5 666.5 L295.5 666.5 L296.4 665.5 L296.5 665.4 L297.4 664.5ZM295.5 669.5 L296.5 670.5 L297.4 669.5 L296.5 668.5ZM284.3 687.5 L283.5 687.9 L282.8 688.5 L282.7 689.5 L282.6 690.5 L283.5 690.9 L284.5 690.6 L285.5 690.7 L286.0 690.5 L285.7 689.5 L285.5 689.4 L284.7 688.5 L284.6 687.5 L284.5 687.4ZM282.4 691.5 L282.4 692.5 L282.5 693.5 L282.5 693.5 L282.5 693.5 L282.6 692.5 L282.7 691.5 L282.5 690.7ZM274.9 696.5 L274.7 697.5 L274.5 698.3 L274.4 698.5 L274.5 698.9 L274.5 699.5 L274.6 700.5 L275.1 701.5 L275.5 701.7 L276.5 701.7 L277.5 702.0 L278.5 702.0 L279.5 702.0 L280.0 701.5 L280.5 700.5 L280.5 700.5 L280.5 699.5 L280.5 698.5 L280.5 698.0 L280.4 697.5 L279.5 696.8 L279.0 696.5 L278.5 696.4 L277.5 696.5 L276.5 696.4 L275.5 696.2ZM282.9 700.5 L282.5 700.6 L282.1 701.5 L282.0 702.5 L282.5 703.1 L283.5 702.9 L283.9 702.5 L284.1 701.5 L283.7 700.5 L283.5 700.4ZM277.4 703.5 L277.5 704.0 L277.6 703.5 L277.5 703.0ZM278.3 707.5 L278.2 708.5 L277.7 709.5 L278.5 710.0 L279.5 710.4 L279.7 710.5 L280.5 711.3 L280.9 710.5 L281.5 710.0 L282.2 709.5 L282.5 709.1 L283.0 708.5 L282.5 708.1 L281.5 708.3 L280.5 708.4 L279.5 708.1 L278.9 707.5 L278.5 707.1ZM285.6 711.5 L285.5 711.6 L284.5 712.0 L283.5 711.9 L283.3 712.5 L283.5 712.9 L283.7 713.5 L283.7 714.5 L284.5 715.1 L285.5 715.1 L286.5 715.4 L286.6 714.5 L287.3 713.5 L287.5 713.4 L287.8 712.5 L287.6 711.5 L287.5 711.0 L286.5 710.7ZM306.5 713.5 L307.5 714.5 L308.5 713.5 L307.5 712.5ZM255.5 699.5 L256.5 699.5 L257.5 699.5 L258.5 699.5 L259.5 699.5 L260.5 699.5 L260.5 699.5 L260.9 700.5 L260.5 700.7 L259.5 700.7 L258.8 700.5 L258.5 700.2 L257.5 699.7 L256.8 700.5 L256.5 700.8 L255.6 701.5 L255.5 701.8 L255.3 701.5 L255.1 700.5 L255.3 699.5ZM241.5 700.5 L242.5 700.5 L243.5 700.5 L243.8 700.5 L243.5 700.7 L242.5 701.0 L241.5 701.1 L241.0 700.5ZM246.5 700.5 L247.5 700.5 L247.7 700.5 L247.5 701.0 L246.5 701.4 L245.9 700.5ZM246.5 701.6 L247.3 702.5 L246.9 703.5 L246.5 704.1 L245.5 703.7 L244.5 703.7 L244.0 703.5 L244.5 703.0 L245.5 702.9 L245.7 702.5ZM250.5 702.1 L251.5 701.6 L252.5 701.9 L253.5 702.2 L254.1 702.5 L254.5 702.8 L255.5 703.3 L256.2 703.5 L256.5 703.5 L257.3 704.5 L257.2 705.5 L257.1 706.5 L256.5 707.0 L255.5 707.1 L255.0 706.5 L254.5 706.0 L253.8 705.5 L253.5 705.3 L252.8 704.5 L252.5 704.2 L251.5 704.0 L250.6 703.5 L250.5 703.1 L250.2 702.5ZM239.5 702.6 L239.6 703.5 L239.5 703.6 L239.3 703.5ZM238.5 705.0 L238.7 705.5 L239.5 706.0 L240.5 706.4 L241.5 706.0 L242.5 706.2 L242.7 706.5 L242.5 706.8 L241.5 707.4 L241.3 707.5 L240.5 708.1 L239.5 708.4 L238.5 708.5 L237.5 708.3 L236.8 707.5 L237.2 706.5 L237.5 706.2 L238.3 705.5ZM247.5 705.3 L248.5 705.2 L249.2 705.5 L249.5 706.0 L249.8 706.5 L249.6 707.5 L250.5 708.0 L251.5 708.3 L252.0 708.5 L252.5 708.8 L253.0 709.5 L253.4 710.5 L252.5 711.4 L252.2 711.5 L251.5 711.9 L250.5 712.1 L249.5 712.4 L249.0 712.5 L248.5 712.9 L248.1 712.5 L247.9 711.5 L248.5 710.6 L248.6 710.5 L248.5 710.3 L247.8 709.5 L247.5 709.3 L247.1 708.5 L247.5 707.7 L247.6 707.5 L247.9 706.5 L247.5 705.7 L247.2 705.5ZM265.5 706.0 L266.3 706.5 L266.1 707.5 L265.5 708.5 L265.5 709.5 L265.5 710.3 L265.0 709.5 L265.0 708.5 L264.5 708.0 L264.1 707.5 L264.5 706.6 L264.6 706.5ZM170.5 707.2 L171.1 707.5 L171.5 707.8 L172.5 707.8 L172.7 707.5 L173.5 707.0 L174.5 706.7 L175.5 707.1 L176.1 707.5 L176.5 708.0 L177.2 708.5 L177.5 708.7 L178.5 709.2 L179.4 708.5 L179.5 708.5 L180.5 708.2 L181.5 707.8 L182.5 708.0 L183.5 708.4 L184.5 708.2 L185.5 707.7 L186.3 707.5 L186.5 707.5 L187.5 707.4 L188.5 707.1 L188.6 707.5 L188.5 708.5 L188.5 708.5 L187.5 709.5 L187.5 709.6 L186.5 710.4 L186.3 710.5 L185.5 710.7 L185.2 710.5 L184.5 709.8 L183.8 710.5 L183.6 711.5 L183.5 711.8 L182.5 711.9 L181.5 711.6 L180.6 712.5 L180.5 712.5 L179.5 713.2 L178.9 712.5 L178.5 712.0 L177.7 711.5 L177.5 711.4 L177.4 711.5 L176.5 712.3 L176.0 712.5 L175.5 712.8 L174.5 712.6 L174.4 712.5 L173.5 712.1 L172.5 712.2 L171.5 711.5 L171.3 711.5 L170.5 711.2 L170.4 711.5 L169.7 712.5 L169.5 712.8 L168.5 712.5 L168.5 712.5 L168.5 712.5 L167.5 712.7 L167.1 712.5 L166.5 712.1 L166.0 711.5 L166.5 710.5 L166.5 710.5 L167.5 709.8 L167.9 709.5 L168.5 709.1 L168.9 708.5 L169.5 707.6 L169.6 707.5ZM271.5 708.1 L272.4 708.5 L271.5 709.0 L270.8 709.5 L271.2 710.5 L270.5 711.1 L269.5 711.0 L269.5 710.5 L269.5 709.5 L269.5 708.7 L270.5 708.6 L270.5 708.5ZM241.5 709.2 L242.5 708.7 L243.5 708.7 L244.5 709.5 L244.6 709.5 L245.5 710.4 L245.6 710.5 L245.5 711.2 L245.4 711.5 L244.5 711.9 L244.4 711.5 L243.5 710.5 L243.5 710.5 L242.5 710.1 L241.5 709.7 L241.2 709.5ZM176.5 712.9 L177.2 713.5 L177.5 713.6 L178.5 714.2 L179.2 714.5 L179.5 714.8 L179.7 715.5 L179.5 715.8 L178.5 715.8 L177.8 715.5 L177.5 715.2 L176.5 715.1 L175.7 714.5 L176.1 713.5ZM237.5 712.8 L238.5 712.8 L239.5 713.4 L239.7 713.5 L239.5 713.7 L239.2 714.5 L238.5 715.2 L237.5 715.1 L237.2 714.5 L237.0 713.5ZM254.5 713.2 L255.2 713.5 L255.5 713.7 L255.8 714.5 L255.5 714.9 L254.5 715.3 L254.1 714.5 L254.3 713.5ZM170.5 714.0 L171.5 714.1 L171.9 714.5 L171.5 715.0 L170.5 714.9 L170.2 714.5ZM245.5 715.2 L245.8 715.5 L245.7 716.5 L245.5 716.7 L244.9 716.5 L245.1 715.5ZM233.5 716.1 L234.5 716.1 L234.9 716.5 L234.5 717.2 L233.6 717.5 L233.5 717.5 L233.4 717.5 L232.7 716.5ZM254.5 715.7 L255.2 716.5 L255.4 717.5 L255.3 718.5 L255.1 719.5 L255.0 720.5 L254.5 721.3 L253.5 721.3 L252.5 720.8 L251.6 720.5 L252.5 719.5 L252.5 718.5 L252.5 718.5 L253.5 718.3 L254.1 717.5 L254.3 716.5ZM239.5 718.2 L240.5 718.0 L241.0 718.5 L241.2 719.5 L240.6 720.5 L241.2 721.5 L241.3 722.5 L240.5 723.5 L240.5 723.5 L239.5 724.0 L238.5 724.4 L237.7 723.5 L237.8 722.5 L238.1 721.5 L237.5 720.5 L236.5 720.6 L236.4 720.5 L236.5 720.4 L237.5 720.5 L238.2 719.5 L238.5 719.3 L239.1 718.5ZM172.5 719.4 L172.5 719.5 L172.5 719.5 L172.5 719.5ZM232.5 719.4 L232.8 719.5 L233.2 720.5 L232.5 720.9 L231.8 720.5 L232.4 719.5ZM248.5 719.1 L249.5 719.2 L249.7 719.5 L250.5 720.1 L251.4 720.5 L251.5 720.7 L251.8 721.5 L251.5 721.8 L250.8 722.5 L250.5 722.8 L249.5 722.7 L249.3 722.5 L248.5 722.0 L248.2 721.5 L247.8 720.5 L248.2 719.5ZM262.5 720.5 L263.5 720.5 L264.5 720.5 L264.5 720.5 L265.5 721.5 L265.5 721.5 L266.5 722.5 L266.5 722.5 L266.5 722.9 L266.0 723.5 L265.5 724.2 L264.9 723.5 L264.5 723.1 L264.2 722.5 L263.8 721.5 L263.5 721.1 L262.5 720.8 L262.2 720.5ZM227.5 722.2 L228.1 722.5 L227.5 722.7 L227.3 722.5ZM249.5 724.2 L249.6 724.5 L250.0 725.5 L249.6 726.5 L249.5 726.5 L249.4 726.5 L249.2 725.5 L249.3 724.5ZM246.5 727.0 L247.5 727.0 L248.5 727.5 L248.5 727.5 L248.6 728.5 L248.5 728.6 L247.5 728.8 L246.5 729.2 L246.0 728.5 L246.1 727.5ZM287.5 729.2 L287.6 729.5 L287.5 730.2 L287.4 729.5ZM290.5 729.4 L290.6 729.5 L290.5 729.9 L290.4 729.5ZM286.5 730.3 L287.3 730.5 L286.5 730.7 L286.4 730.5ZM287.5 731.4 L287.5 731.5 L287.9 732.5 L288.5 733.5 L288.5 733.5 L288.5 733.9 L287.5 733.9 L287.3 733.5 L287.2 732.5 L287.5 731.5ZM299.5 734.5 L299.5 734.5 L299.5 735.5 L299.5 735.5 L299.0 735.5 L299.0 734.5ZM274.5 755.8 L275.2 756.5 L274.7 757.5 L274.5 757.9 L273.5 757.6 L273.5 757.5 L273.5 756.9 L273.5 756.5ZM268.5 757.9 L269.5 757.8 L270.2 758.5 L269.5 759.4 L268.5 759.2 L267.8 758.5ZM266.5 759.3 L267.3 759.5 L266.5 759.6 L266.2 759.5ZM276.5 759.3 L277.4 759.5 L276.5 760.5 L276.2 759.5ZM269.5 762.5 L269.8 762.5 L269.7 763.5 L269.5 764.2 L269.4 763.5 L269.5 762.5ZM268.5 764.8 L269.5 764.6 L269.5 765.5 L269.5 765.5 L268.5 765.5 L268.5 765.5Z"/>
<path fill="#ff0870" fill-rule="evenodd" d="M297.5 664.5 L298.5 664.5 L298.5 664.5 L299.5 665.5 L300.5 665.5 L300.5 665.5 L300.5 666.5 L300.5 666.5 L299.5 667.5 L299.5 668.5 L299.5 669.5 L300.5 670.5 L301.5 670.5 L301.5 670.5 L302.5 671.5 L303.5 671.5 L303.5 671.5 L304.5 672.5 L304.5 672.5 L305.5 673.4 L305.6 673.5 L306.5 674.5 L306.5 674.5 L307.5 675.4 L307.6 675.5 L308.5 676.5 L308.5 676.5 L309.5 677.5 L309.5 677.5 L310.5 678.5 L310.5 678.5 L311.5 679.5 L311.5 679.5 L312.5 680.5 L313.5 680.5 L313.5 680.5 L313.5 681.5 L313.5 681.5 L312.5 682.5 L313.5 683.5 L313.5 683.5 L314.5 684.5 L315.5 684.5 L316.5 684.5 L317.5 684.5 L317.5 684.5 L318.5 685.5 L318.5 685.5 L319.5 686.5 L319.5 686.5 L319.5 687.5 L320.5 688.5 L320.5 688.5 L321.5 689.5 L321.5 689.5 L322.5 690.5 L322.5 690.5 L323.5 691.5 L323.5 691.5 L324.5 692.5 L324.5 692.5 L324.5 692.5 L323.5 693.5 L323.5 693.5 L322.5 694.5 L322.5 694.5 L321.5 694.5 L320.5 694.5 L319.5 695.5 L319.5 696.5 L319.5 697.5 L319.5 698.5 L319.5 699.5 L319.5 699.5 L318.5 700.5 L318.5 701.5 L318.5 702.5 L318.5 703.5 L318.5 703.5 L317.5 703.5 L316.5 704.5 L316.5 704.5 L315.5 705.5 L315.5 705.5 L314.5 706.5 L314.5 706.5 L313.5 707.5 L313.5 708.5 L313.5 709.5 L313.5 710.5 L313.5 711.5 L314.5 712.5 L314.5 712.5 L314.5 713.5 L314.5 713.5 L313.5 713.5 L312.5 713.5 L311.5 713.5 L310.5 714.5 L310.5 715.5 L310.5 716.5 L310.5 716.5 L309.5 717.5 L309.5 717.5 L308.5 717.5 L307.5 718.5 L307.5 718.5 L306.5 719.5 L306.5 719.5 L305.5 719.5 L304.5 719.5 L303.5 719.5 L302.5 720.5 L302.5 720.5 L301.5 721.5 L301.5 721.5 L300.5 721.5 L299.5 722.5 L299.5 723.5 L299.5 724.5 L299.5 725.5 L299.5 726.5 L299.5 727.5 L299.5 728.5 L299.5 729.4 L298.5 728.5 L298.5 727.5 L298.5 727.3 L297.8 726.5 L297.5 726.4 L297.3 726.5 L296.5 727.0 L295.8 726.5 L295.5 726.4 L294.5 726.0 L293.5 726.2 L292.7 726.5 L292.5 726.5 L292.4 726.5 L291.5 725.6 L290.5 726.0 L290.0 725.5 L289.8 724.5 L289.5 724.3 L288.5 723.9 L287.8 723.5 L288.5 723.1 L289.5 723.0 L289.8 722.5 L289.8 721.5 L289.5 721.1 L288.5 721.2 L287.5 721.3 L286.5 720.8 L285.9 720.5 L285.5 719.8 L284.8 720.5 L285.5 721.5 L285.5 721.5 L286.1 722.5 L286.5 723.5 L285.5 724.0 L284.5 724.2 L283.9 723.5 L283.8 722.5 L283.9 721.5 L284.3 720.5 L284.0 719.5 L284.5 719.2 L285.5 719.4 L286.5 718.6 L287.5 719.0 L288.3 719.5 L288.5 719.7 L288.6 719.5 L288.9 718.5 L289.5 717.8 L290.5 717.7 L290.7 717.5 L291.1 716.5 L290.5 715.7 L289.5 715.8 L289.0 715.5 L288.5 715.0 L288.2 714.5 L288.5 713.7 L288.6 713.5 L288.5 712.5 L288.5 712.3 L288.4 711.5 L288.5 711.2 L289.2 710.5 L289.5 710.3 L290.5 709.5 L290.5 709.5 L291.0 708.5 L290.5 707.7 L289.9 707.5 L289.5 707.4 L289.4 707.5 L288.5 707.9 L287.5 708.3 L286.5 708.2 L285.5 708.0 L284.6 707.5 L284.5 707.2 L284.1 706.5 L284.5 705.9 L284.7 705.5 L284.5 704.8 L284.2 704.5 L284.5 703.5 L284.5 703.5 L284.9 702.5 L285.4 701.5 L285.5 701.1 L286.0 700.5 L286.4 699.5 L286.5 699.1 L286.6 698.5 L287.2 697.5 L286.5 696.6 L286.4 696.5 L286.0 695.5 L286.5 694.8 L286.7 694.5 L286.5 694.3 L286.0 693.5 L285.5 693.0 L284.5 692.6 L284.5 692.5 L284.5 692.4 L285.3 691.5 L285.5 691.4 L286.5 691.0 L287.5 691.0 L288.4 690.5 L288.5 690.4 L289.3 689.5 L289.5 688.5 L289.2 687.5 L289.5 687.3 L290.4 687.5 L290.5 687.5 L291.5 688.0 L292.4 687.5 L292.2 686.5 L292.3 685.5 L291.7 684.5 L291.6 683.5 L291.7 682.5 L291.5 682.4 L290.5 681.8 L290.0 681.5 L289.5 681.3 L288.6 680.5 L289.5 679.5 L289.5 679.5 L290.5 678.5 L290.5 677.5 L290.5 677.5 L291.5 676.5 L291.5 675.5 L290.5 674.5 L290.5 674.5 L290.5 673.5 L290.5 672.5 L289.5 671.5 L289.5 671.5 L289.5 671.5 L290.5 670.5 L290.5 670.5 L291.5 670.5 L292.5 669.5 L292.5 669.5 L293.5 669.5 L294.5 669.5 L295.5 668.5 L295.5 667.5 L295.5 666.5 L295.5 666.5 L296.5 665.5 L296.5 665.5 L297.5 664.5ZM295.5 669.5 L296.5 670.5 L297.5 669.5 L296.5 668.5ZM292.9 693.5 L293.5 693.8 L294.1 693.5 L293.5 693.3ZM287.4 700.5 L287.5 700.6 L287.6 700.5 L287.5 700.4ZM288.3 701.5 L288.3 702.5 L288.0 703.5 L288.5 704.4 L288.8 703.5 L288.8 702.5 L288.7 701.5 L288.5 701.4ZM293.7 702.5 L293.5 702.6 L292.5 702.9 L292.1 703.5 L292.5 704.2 L293.5 704.1 L294.5 703.5 L294.5 703.5 L294.8 702.5 L294.5 702.3ZM297.9 706.5 L298.5 706.8 L298.7 706.5 L298.5 706.4ZM306.5 713.5 L307.5 714.5 L308.5 713.5 L307.5 712.5ZM291.1 724.5 L291.5 725.3 L291.9 724.5 L291.5 724.3ZM286.5 684.0 L286.8 684.5 L286.5 684.8 L286.1 684.5ZM283.5 685.4 L283.7 685.5 L283.7 686.5 L283.5 686.7 L282.5 687.2 L281.7 686.5 L282.5 685.9 L283.2 685.5ZM286.5 686.5 L287.5 686.4 L287.6 686.5 L287.5 686.9 L287.3 687.5 L286.5 688.0 L286.0 687.5 L286.5 686.5ZM275.5 691.8 L276.5 691.9 L277.2 692.5 L277.5 692.9 L278.5 693.2 L279.1 692.5 L279.5 692.0 L280.5 692.1 L280.9 692.5 L281.3 693.5 L280.7 694.5 L280.5 694.6 L280.4 694.5 L279.5 693.7 L278.5 693.9 L278.2 694.5 L277.5 695.3 L276.5 695.2 L275.5 695.0 L274.5 694.8 L274.5 694.5 L274.5 693.5 L274.5 693.5 L275.5 692.5ZM270.5 698.5 L271.5 698.1 L272.4 698.5 L272.2 699.5 L271.5 699.7 L271.1 699.5 L270.5 698.5 L270.5 698.5ZM282.5 698.1 L283.5 697.8 L283.7 698.5 L283.5 698.8 L282.5 698.9 L281.9 698.5ZM275.5 702.4 L275.7 702.5 L275.7 703.5 L275.5 703.9 L275.3 703.5 L275.3 702.5ZM253.5 703.5 L253.5 703.5 L253.5 703.5 L253.5 703.5ZM279.5 703.2 L280.1 703.5 L279.6 704.5 L279.5 704.6 L279.4 704.5 L279.0 703.5ZM174.5 707.4 L174.7 707.5 L175.4 708.5 L175.5 708.8 L175.9 709.5 L175.5 709.8 L174.5 710.3 L174.2 710.5 L173.5 710.7 L172.5 710.5 L172.5 710.5 L172.5 710.3 L172.9 709.5 L173.1 708.5 L173.5 707.9 L174.0 707.5ZM250.5 709.5 L250.6 709.5 L250.5 709.7 L250.5 709.5ZM279.5 713.0 L280.0 713.5 L279.5 714.1 L279.0 713.5ZM239.5 719.3 L239.8 719.5 L239.5 719.8 L239.4 719.5ZM265.5 721.5 L265.5 721.5 L265.7 722.5 L265.5 722.8 L265.2 722.5 L265.4 721.5Z"/>
<path fill="#ff00e8" fill-rule="evenodd" d="M297.5 664.5 L298.5 664.5 L298.5 664.5 L299.5 665.5 L300.5 665.5 L300.5 665.5 L300.5 666.5 L300.5 666.5 L299.5 667.5 L299.5 668.5 L299.5 669.5 L300.5 670.5 L301.5 670.5 L301.5 670.5 L302.5 671.5 L303.5 671.5 L303.5 671.5 L304.5 672.5 L304.5 672.5 L305.5 673.5 L305.5 673.5 L306.5 674.5 L306.5 674.5 L307.5 675.5 L307.5 675.5 L308.5 676.5 L308.5 676.5 L309.5 677.5 L309.5 677.5 L310.5 678.5 L310.5 678.5 L311.5 679.5 L311.5 679.5 L312.5 680.5 L313.5 680.5 L313.5 680.5 L313.5 681.5 L313.5 681.5 L312.5 682.5 L313.5 683.5 L313.5 683.5 L314.5 684.5 L315.5 684.5 L316.5 684.5 L317.5 684.5 L317.5 684.5 L318.5 685.5 L318.5 685.5 L319.5 686.5 L319.5 686.5 L319.5 687.5 L320.5 688.5 L320.5 688.5 L321.5 689.5 L321.5 689.5 L322.5 690.5 L322.5 690.5 L323.5 691.5 L323.5 691.5 L324.5 692.5 L324.5 692.5 L324.5 692.5 L323.5 693.5 L323.5 693.5 L322.5 694.5 L322.5 694.5 L321.5 694.5 L320.5 694.5 L319.5 695.5 L319.5 696.5 L319.5 697.5 L319.5 698.5 L319.5 699.5 L319.5 699.5 L318.5 700.5 L318.5 701.5 L318.5 702.5 L318.5 703.5 L318.5 703.5 L317.5 703.5 L316.5 704.5 L316.5 704.5 L315.5 705.5 L315.5 705.5 L314.5 706.5 L314.5 706.5 L313.5 707.5 L313.5 708.5 L313.5 709.5 L313.5 710.5 L313.5 711.5 L314.5 712.5 L314.5 712.5 L314.5 713.5 L314.5 713.5 L313.5 713.5 L312.5 713.5 L311.5 713.5 L310.5 714.5 L310.5 715.5 L310.5 716.5 L310.5 716.5 L309.5 717.5 L309.5 717.5 L308.5 717.5 L307.5 718.5 L307.5 718.5 L306.5 719.5 L306.5 719.5 L305.5 719.5 L304.5 719.5 L303.5 719.5 L302.5 720.5 L302.5 720.5 L301.5 721.5 L301.5 721.5 L300.5 721.5 L299.5 722.5 L299.5 723.5 L299.5 724.5 L299.5 725.5 L299.5 726.5 L299.5 727.5 L299.5 728.5 L299.5 728.7 L299.3 728.5 L299.4 727.5 L299.4 726.5 L298.5 725.7 L297.5 725.5 L297.5 725.5 L297.4 725.5 L296.5 725.6 L296.2 725.5 L295.5 725.3 L294.5 724.5 L294.5 724.5 L293.6 723.5 L293.5 723.3 L292.5 722.9 L291.5 723.0 L290.9 722.5 L290.8 721.5 L290.5 720.8 L290.3 720.5 L290.2 719.5 L290.5 719.3 L291.5 718.9 L291.9 718.5 L292.1 717.5 L292.2 716.5 L292.3 715.5 L292.0 714.5 L291.8 713.5 L292.2 712.5 L292.5 712.3 L293.5 711.5 L293.5 711.1 L294.5 711.0 L295.4 710.5 L295.5 710.5 L296.3 709.5 L296.2 708.5 L296.5 708.1 L297.0 708.5 L297.0 709.5 L297.5 709.7 L298.5 709.8 L299.5 710.1 L299.9 709.5 L300.0 708.5 L300.0 707.5 L300.2 706.5 L300.5 705.5 L300.1 704.5 L299.6 703.5 L299.5 703.4 L299.2 703.5 L298.5 704.3 L298.2 704.5 L297.5 704.8 L296.5 704.6 L296.2 704.5 L296.2 703.5 L296.2 702.5 L295.5 701.9 L295.0 701.5 L294.5 701.0 L293.5 700.8 L292.5 701.3 L291.7 701.5 L291.5 701.5 L291.5 701.5 L291.1 700.5 L291.2 699.5 L290.9 698.5 L290.5 697.9 L290.2 697.5 L289.5 696.6 L289.4 696.5 L289.4 695.5 L289.5 695.4 L290.5 694.8 L291.5 695.4 L291.5 695.5 L291.9 696.5 L292.5 697.1 L293.5 697.2 L294.0 696.5 L294.5 695.5 L294.6 695.5 L295.5 695.3 L295.8 694.5 L296.5 694.1 L297.5 693.6 L297.7 693.5 L298.5 693.3 L299.5 693.3 L300.0 693.5 L300.5 694.1 L300.9 694.5 L300.5 695.5 L300.7 696.5 L301.5 697.0 L302.5 696.5 L302.5 696.4 L302.7 695.5 L302.5 694.7 L302.3 694.5 L302.5 694.3 L302.8 693.5 L302.5 693.4 L301.5 692.7 L300.5 692.7 L300.4 692.5 L299.9 691.5 L299.5 691.0 L298.5 690.7 L297.5 691.3 L296.7 691.5 L296.5 691.6 L296.4 691.5 L295.8 690.5 L295.7 689.5 L295.5 689.1 L294.6 688.5 L295.5 687.7 L296.4 688.5 L296.5 688.6 L297.5 688.6 L297.7 688.5 L298.2 687.5 L298.5 686.9 L298.7 686.5 L298.8 685.5 L298.5 685.2 L297.5 685.1 L296.5 684.7 L295.5 684.7 L294.6 685.5 L294.5 685.7 L294.4 685.5 L293.5 684.5 L293.5 684.5 L293.5 684.4 L294.0 683.5 L294.5 682.6 L294.5 682.5 L294.5 682.4 L294.2 681.5 L293.6 680.5 L293.5 679.5 L293.5 679.4 L292.9 678.5 L293.3 677.5 L292.7 676.5 L292.5 676.4 L291.5 676.2 L291.5 675.5 L290.5 674.5 L290.5 674.5 L290.5 673.5 L290.5 672.5 L289.5 671.5 L289.5 671.5 L289.5 671.5 L290.5 670.5 L290.5 670.5 L291.5 670.5 L292.5 669.5 L292.5 669.5 L293.5 669.5 L294.5 669.5 L295.5 668.5 L295.5 667.5 L295.5 666.5 L295.5 666.5 L296.5 665.5 L296.5 665.5 L297.5 664.5ZM295.5 669.5 L296.5 670.5 L297.5 669.5 L296.5 668.5ZM300.4 688.5 L300.5 688.8 L301.5 689.3 L302.2 688.5 L301.5 688.0 L300.5 688.3ZM306.3 695.5 L306.5 696.5 L306.5 696.6 L306.8 696.5 L306.8 695.5 L306.5 695.5ZM307.1 711.5 L306.5 711.8 L305.5 712.2 L304.8 712.5 L304.9 713.5 L305.0 714.5 L305.0 715.5 L305.4 716.5 L305.5 716.8 L306.5 717.4 L307.5 716.8 L307.6 716.5 L307.6 715.5 L307.9 714.5 L308.5 713.6 L308.6 713.5 L309.1 712.5 L308.7 711.5 L308.5 711.2 L307.5 711.3ZM295.4 712.5 L295.5 712.9 L295.8 712.5 L295.5 712.1ZM301.5 713.5 L300.5 714.2 L299.8 714.5 L299.9 715.5 L300.4 716.5 L300.5 716.6 L301.5 716.7 L302.5 716.7 L302.7 716.5 L303.4 715.5 L303.4 714.5 L303.4 713.5 L302.5 712.6 L301.5 713.5ZM294.7 714.5 L294.5 714.7 L293.5 715.5 L293.4 715.5 L293.5 716.2 L293.6 716.5 L294.5 717.1 L295.5 717.1 L296.5 717.0 L297.1 716.5 L297.5 716.1 L298.5 715.6 L298.9 715.5 L299.0 714.5 L298.5 714.3 L297.5 714.4 L296.5 713.9 L295.5 713.8ZM286.5 692.2 L287.5 692.2 L287.9 692.5 L287.8 693.5 L287.5 693.7 L287.3 693.5 L286.5 692.7 L286.3 692.5ZM290.5 703.5 L291.3 704.5 L291.5 704.9 L292.5 705.4 L293.5 705.3 L293.9 705.5 L294.5 706.2 L294.7 706.5 L294.6 707.5 L294.5 707.6 L293.9 708.5 L293.6 709.5 L293.5 710.1 L292.5 710.3 L291.8 709.5 L292.5 708.8 L292.9 708.5 L292.6 707.5 L292.5 707.3 L292.0 706.5 L291.5 705.9 L291.0 705.5 L290.5 705.1 L290.0 704.5ZM286.5 706.4 L287.5 706.0 L288.5 705.9 L289.0 706.5 L288.5 706.9 L287.5 707.0 L286.5 706.6 L286.4 706.5ZM289.5 711.4 L289.7 711.5 L289.8 712.5 L289.5 712.6 L289.4 712.5 L289.4 711.5Z"/>
<path fill="#a020ff" fill-rule="evenodd" d="M297.5 664.5 L298.5 664.5 L298.5 664.5 L299.5 665.5 L300.5 665.5 L300.5 665.5 L300.5 666.5 L300.5 666.5 L299.5 667.5 L299.5 668.5 L299.5 669.5 L300.5 670.5 L301.5 670.5 L301.5 670.5 L302.5 671.5 L303.5 671.5 L303.5 671.5 L304.5 672.5 L304.5 672.5 L305.5 673.5 L305.5 673.5 L306.5 674.5 L306.5 674.5 L307.5 675.5 L307.5 675.5 L308.5 676.5 L308.5 676.5 L309.5 677.5 L309.5 677.5 L310.5 678.5 L310.5 678.5 L311.5 679.5 L311.5 679.5 L312.5 680.5 L313.5 680.5 L313.5 680.5 L313.5 681.5 L313.5 681.5 L312.5 682.5 L313.5 683.5 L313.5 683.5 L314.5 684.5 L315.5 684.5 L316.5 684.5 L317.5 684.5 L317.5 684.5 L318.5 685.5 L318.5 685.5 L319.5 686.5 L319.5 686.5 L319.5 687.5 L320.5 688.5 L320.5 688.5 L321.5 689.5 L321.5 689.5 L322.5 690.5 L322.5 690.5 L323.5 691.5 L323.5 691.5 L324.5 692.5 L324.5 692.5 L324.5 692.5 L323.5 693.5 L323.5 693.5 L322.5 694.5 L322.5 694.5 L321.5 694.5 L320.5 694.5 L319.5 695.5 L319.5 696.5 L319.5 697.5 L319.5 698.5 L319.5 699.5 L319.5 699.5 L318.5 700.5 L318.5 701.5 L318.5 702.5 L318.5 703.5 L318.5 703.5 L317.5 703.5 L316.5 704.5 L316.5 704.5 L315.5 705.5 L315.5 705.5 L314.5 706.5 L314.5 706.5 L313.5 707.5 L313.5 708.5 L313.5 709.5 L313.5 710.5 L313.5 711.5 L314.5 712.5 L314.5 712.5 L314.5 713.5 L314.5 713.5 L313.5 713.5 L312.5 713.5 L311.5 713.5 L310.6 713.5 L310.5 712.7 L310.5 712.5 L310.0 711.5 L309.5 710.5 L309.5 710.5 L309.1 709.5 L309.0 708.5 L309.3 707.5 L308.8 706.5 L308.5 705.9 L307.6 706.5 L307.5 706.6 L307.4 706.5 L306.5 705.8 L306.4 705.5 L306.1 704.5 L305.5 703.5 L305.5 703.4 L304.7 702.5 L305.0 701.5 L304.5 700.5 L304.5 700.3 L304.4 699.5 L304.5 699.4 L305.5 699.1 L306.2 699.5 L306.5 699.7 L307.5 699.7 L307.7 699.5 L308.3 698.5 L308.4 697.5 L308.5 696.5 L308.5 696.5 L308.7 695.5 L308.5 695.4 L307.5 694.7 L306.9 694.5 L306.5 694.2 L305.7 693.5 L305.5 692.8 L305.4 692.5 L305.2 691.5 L305.5 690.9 L305.7 690.5 L305.9 689.5 L305.6 688.5 L305.5 688.4 L304.5 687.6 L304.4 687.5 L303.8 686.5 L303.5 685.9 L303.2 685.5 L302.5 684.8 L301.5 684.7 L301.0 684.5 L300.5 683.5 L300.5 683.5 L300.5 683.5 L301.4 682.5 L300.5 681.8 L300.1 681.5 L299.5 680.9 L299.2 680.5 L298.5 680.1 L297.5 679.7 L296.9 679.5 L296.5 679.4 L295.5 679.3 L294.7 678.5 L294.5 677.8 L294.4 677.5 L294.5 677.2 L294.7 676.5 L294.5 676.0 L293.5 675.6 L292.8 675.5 L292.5 675.4 L291.5 675.2 L290.5 674.5 L290.5 674.5 L290.5 673.5 L290.5 672.5 L289.5 671.5 L289.5 671.5 L289.5 671.5 L290.5 670.5 L290.5 670.5 L291.5 670.5 L292.5 669.5 L292.5 669.5 L293.5 669.5 L294.5 669.5 L295.5 668.5 L295.5 667.5 L295.5 666.5 L295.5 666.5 L296.5 665.5 L296.5 665.5 L297.5 664.5ZM295.5 669.5 L296.5 670.5 L297.5 669.5 L296.5 668.5ZM302.5 690.5 L302.6 690.5 L303.2 691.5 L302.5 691.8 L302.0 691.5 L302.4 690.5ZM300.5 698.2 L301.5 698.4 L301.6 698.5 L302.0 699.5 L301.6 700.5 L301.7 701.5 L301.7 702.5 L301.5 703.0 L301.1 702.5 L300.5 701.8 L300.1 701.5 L300.4 700.5 L300.2 699.5 L300.0 698.5ZM302.5 707.4 L302.8 707.5 L302.8 708.5 L303.1 709.5 L302.8 710.5 L302.5 710.8 L301.7 710.5 L301.5 710.2 L301.4 709.5 L301.5 709.2 L302.2 708.5 L302.3 707.5ZM309.5 714.5 L310.5 713.6 L310.5 714.5 L310.5 715.5 L310.5 716.5 L310.5 716.5 L309.5 717.3 L308.8 716.5 L308.6 715.5 L309.5 714.5ZM295.5 718.8 L296.5 718.5 L296.9 719.5 L297.5 720.1 L298.0 720.5 L298.0 721.5 L297.5 721.8 L296.5 722.1 L295.5 722.2 L294.8 721.5 L294.6 720.5 L294.8 719.5ZM301.5 719.5 L302.5 720.5 L302.5 720.5 L302.5 720.5 L301.5 720.7 L301.3 720.5Z"/>
<path fill="#b048f8" fill-rule="evenodd" d="M297.5 664.5 L298.5 664.5 L298.5 664.5 L299.5 665.5 L300.5 665.5 L300.5 665.5 L300.5 666.5 L300.5 666.5 L299.5 667.5 L299.5 668.5 L299.5 669.5 L300.5 670.5 L301.5 670.5 L301.5 670.5 L302.5 671.5 L303.5 671.5 L303.5 671.5 L304.5 672.5 L304.5 672.5 L305.5 673.5 L305.5 673.5 L306.5 674.5 L306.5 674.5 L307.5 675.5 L307.5 675.5 L308.5 676.5 L308.5 676.5 L309.5 677.5 L309.5 677.5 L310.5 678.5 L310.5 678.5 L311.5 679.5 L311.5 679.5 L312.5 680.5 L313.5 680.5 L313.5 680.5 L313.5 681.4 L313.4 681.5 L312.5 682.2 L312.3 682.5 L311.9 683.5 L312.3 684.5 L312.5 684.6 L312.7 684.5 L313.5 684.0 L314.5 684.5 L314.6 684.5 L315.5 685.0 L316.2 684.5 L316.5 684.5 L317.5 684.5 L317.5 684.5 L318.5 685.5 L318.5 685.5 L319.5 686.5 L319.5 686.5 L319.5 687.5 L320.5 688.5 L320.5 688.5 L321.5 689.5 L321.5 689.5 L322.5 690.5 L322.5 690.5 L323.5 691.5 L323.5 691.5 L324.5 692.5 L324.5 692.5 L324.5 692.5 L323.5 693.0 L322.5 693.2 L321.9 693.5 L322.5 694.2 L322.5 694.5 L322.5 694.5 L321.5 694.5 L320.5 694.5 L319.5 695.2 L319.3 695.5 L319.5 695.8 L319.5 696.5 L319.5 697.5 L319.5 698.5 L319.5 699.5 L319.5 699.5 L318.5 700.5 L318.5 701.5 L318.5 702.5 L318.5 703.5 L318.5 703.5 L317.5 703.5 L316.5 704.5 L316.5 704.5 L315.5 705.4 L314.9 704.5 L315.5 704.2 L316.1 703.5 L316.1 702.5 L315.5 701.9 L314.5 702.1 L313.5 702.5 L312.9 701.5 L312.8 700.5 L312.5 699.5 L312.6 698.5 L312.5 698.4 L311.9 697.5 L311.5 697.2 L310.9 696.5 L310.5 695.6 L310.5 695.5 L310.2 694.5 L309.9 693.5 L310.5 693.2 L311.0 692.5 L310.5 691.8 L309.5 692.1 L308.5 691.8 L308.3 691.5 L307.5 690.7 L307.4 690.5 L307.0 689.5 L307.0 688.5 L306.5 687.7 L306.3 687.5 L306.5 687.2 L307.5 687.3 L308.5 687.2 L309.5 686.7 L309.6 686.5 L310.5 685.7 L310.8 685.5 L310.5 684.9 L310.0 684.5 L309.5 684.4 L309.3 684.5 L308.5 684.9 L307.5 685.5 L306.5 685.3 L305.5 685.1 L304.5 684.8 L304.4 684.5 L304.2 683.5 L303.7 682.5 L303.5 682.3 L303.1 681.5 L303.2 680.5 L302.5 679.6 L302.3 679.5 L301.5 679.1 L300.9 678.5 L300.5 677.9 L299.5 677.9 L298.5 677.8 L298.2 677.5 L298.1 676.5 L298.1 675.5 L297.9 674.5 L297.5 673.6 L297.4 673.5 L296.8 672.5 L296.6 671.5 L296.8 670.5 L297.5 669.5 L296.5 668.5 L295.5 668.8 L295.5 668.5 L295.5 667.5 L295.5 666.5 L295.5 666.5 L296.5 665.5 L296.5 665.5 L297.5 664.5ZM316.4 686.5 L316.4 687.5 L316.5 687.7 L317.5 687.7 L317.6 687.5 L317.9 686.5 L317.5 685.9 L316.5 686.4ZM314.9 691.5 L315.0 692.5 L315.5 693.1 L316.5 693.4 L317.5 693.1 L317.8 692.5 L317.5 691.7 L317.4 691.5 L316.5 690.6 L315.5 690.6ZM292.5 669.5 L293.5 669.5 L294.5 669.5 L295.1 669.5 L294.9 670.5 L295.2 671.5 L294.5 672.4 L294.4 672.5 L293.5 673.4 L293.4 673.5 L292.5 674.0 L291.5 674.2 L290.8 673.5 L290.5 672.7 L290.5 672.5 L289.7 671.5 L290.5 670.5 L290.5 670.5 L291.5 670.5 L292.5 669.5ZM307.5 692.4 L307.7 692.5 L307.5 692.9 L307.4 692.5ZM308.5 693.3 L308.8 693.5 L308.5 693.6 L308.1 693.5ZM310.5 702.5 L310.5 702.5 L311.5 703.5 L311.5 703.5 L312.5 704.0 L313.5 704.4 L313.7 704.5 L313.5 704.5 L312.5 704.7 L311.5 704.8 L310.5 705.1 L310.2 704.5 L309.7 703.5 L310.4 702.5ZM311.5 709.3 L311.7 709.5 L311.8 710.5 L311.5 710.9 L311.1 710.5 L310.8 709.5ZM314.5 712.5 L314.5 712.5 L314.5 713.5 L314.5 713.5 L314.4 713.5 L313.7 712.5Z"/>
<path fill="#e070e8" fill-rule="evenodd" d="M297.5 664.5 L298.5 664.5 L298.5 664.5 L298.5 665.3 L297.8 665.5 L297.5 665.5 L297.4 665.5 L297.5 664.5ZM299.5 665.5 L300.5 665.5 L300.5 665.5 L300.5 666.5 L300.5 666.5 L299.8 666.5 L299.5 666.0 L298.6 665.5ZM298.5 669.0 L299.5 669.0 L299.5 669.5 L300.5 670.5 L300.9 670.5 L301.5 671.4 L301.6 671.5 L302.0 672.5 L301.5 672.9 L300.5 673.1 L299.5 672.7 L298.5 672.7 L298.3 672.5 L297.5 671.6 L297.4 671.5 L297.5 671.1 L297.7 670.5 L298.0 669.5ZM291.5 670.5 L292.5 669.7 L292.6 670.5 L292.9 671.5 L292.5 671.7 L291.6 671.5 L291.5 671.4 L291.3 670.5ZM303.5 672.0 L304.5 672.5 L304.5 672.5 L305.5 673.5 L305.5 673.5 L306.5 674.5 L306.5 674.5 L307.5 675.5 L307.5 675.5 L308.5 676.5 L308.5 676.5 L309.5 677.5 L309.5 677.5 L310.5 678.5 L310.5 678.5 L311.5 679.5 L311.5 679.5 L311.5 680.2 L311.4 680.5 L311.5 680.9 L311.6 681.5 L311.5 681.6 L310.9 682.5 L310.5 683.3 L310.3 683.5 L309.5 683.7 L308.5 683.8 L307.5 684.1 L306.5 683.6 L305.9 683.5 L305.5 682.5 L305.8 681.5 L305.9 680.5 L306.2 679.5 L306.5 678.9 L306.9 678.5 L306.9 677.5 L306.5 677.2 L305.7 676.5 L305.5 675.7 L305.5 675.5 L304.5 674.8 L303.8 674.5 L303.5 674.4 L302.8 673.5 L302.8 672.5ZM312.5 680.5 L312.5 680.5 L312.5 680.5 L312.2 680.5ZM313.5 686.4 L313.6 686.5 L313.7 687.5 L313.5 687.6 L312.5 687.5 L311.5 687.7 L311.2 687.5 L311.5 687.0 L312.5 687.4 L313.3 686.5ZM319.5 686.9 L319.5 687.5 L320.5 688.5 L320.5 688.5 L321.5 689.5 L321.5 689.5 L322.3 690.5 L321.5 690.9 L320.5 690.8 L320.0 690.5 L319.5 689.7 L318.5 689.6 L318.4 689.5 L318.5 689.4 L319.3 688.5 L319.2 687.5ZM315.5 688.4 L315.6 688.5 L315.5 688.7 L314.9 688.5ZM308.5 689.3 L309.5 689.2 L310.5 689.1 L311.0 689.5 L311.2 690.5 L310.5 690.8 L309.5 690.9 L308.9 690.5 L308.5 689.8 L308.3 689.5ZM313.5 693.1 L314.2 693.5 L314.5 693.7 L315.5 694.2 L316.5 694.4 L316.9 694.5 L317.5 694.9 L317.9 695.5 L318.2 696.5 L318.5 696.9 L318.9 697.5 L318.5 697.8 L318.1 698.5 L317.5 699.0 L316.7 699.5 L316.5 699.8 L315.5 700.2 L314.6 699.5 L314.5 699.2 L314.4 698.5 L314.3 697.5 L314.5 697.2 L314.9 696.5 L315.3 695.5 L314.5 694.7 L313.9 694.5 L313.5 694.1 L313.2 693.5ZM319.5 693.2 L319.6 693.5 L319.5 693.6 L319.0 693.5ZM312.5 696.0 L312.9 696.5 L312.5 696.7 L312.2 696.5Z"/>
<rect x="165.5" y="687.0" width="1.5" height="1.5" fill="#fff000"/>
<rect x="165.6" y="688.7" width="1.5" height="1.0" fill="#fff000"/>
<rect x="168.8" y="687.5" width="2.0" height="1.5" fill="#fff000"/>
<rect x="167.7" y="686.1" width="2.0" height="1.0" fill="#ffdc00"/>
<rect x="167.7" y="687.0" width="2.0" height="2.0" fill="#ffdc00"/>
<rect x="168.9" y="685.8" width="1.0" height="1.5" fill="#eaff10"/>
<rect x="166.4" y="687.4" width="2.0" height="1.0" fill="#c8ff30"/>
<rect x="168.5" y="685.5" width="2.0" height="1.5" fill="#eaff10"/>
<rect x="165.3" y="688.6" width="1.0" height="1.5" fill="#fff000"/>
<rect x="167.7" y="685.8" width="1.5" height="2.0" fill="#c8ff30"/>
<rect x="170.1" y="685.8" width="1.5" height="1.5" fill="#a8ff30"/>
<rect x="173.6" y="687.8" width="2.0" height="1.5" fill="#fff000"/>
<rect x="170.6" y="689.0" width="1.0" height="1.5" fill="#ffd000"/>
<rect x="170.2" y="685.1" width="1.0" height="2.0" fill="#a8ff30"/>
<rect x="171.2" y="686.3" width="1.0" height="1.0" fill="#fff000"/>
<rect x="170.1" y="688.4" width="1.0" height="1.5" fill="#ffdc00"/>
<rect x="173.0" y="685.8" width="2.0" height="1.0" fill="#ffdc00"/>
<rect x="173.6" y="685.1" width="1.5" height="2.0" fill="#ffdc00"/>
<rect x="170.4" y="685.1" width="1.5" height="1.0" fill="#ffdc00"/>
<rect x="172.0" y="688.4" width="2.0" height="1.0" fill="#ffd000"/>
<rect x="161.0" y="693.9" width="1.5" height="2.0" fill="#c8ff30"/>
<rect x="161.7" y="691.3" width="2.0" height="2.0" fill="#eaff10"/>
<rect x="160.3" y="691.6" width="2.0" height="1.0" fill="#ffc010"/>
<rect x="163.0" y="692.2" width="1.0" height="1.5" fill="#ffc010"/>
<rect x="163.1" y="693.7" width="1.5" height="1.0" fill="#fff000"/>
<rect x="160.6" y="691.8" width="1.5" height="2.0" fill="#fff000"/>
<rect x="163.0" y="690.1" width="1.0" height="1.5" fill="#fff000"/>
<rect x="164.0" y="690.6" width="2.0" height="1.0" fill="#ffc010"/>
<rect x="160.2" y="693.5" width="1.5" height="1.5" fill="#eaff10"/>
<rect x="162.0" y="690.3" width="1.0" height="1.5" fill="#eaff10"/>
<rect x="165.2" y="690.5" width="2.0" height="1.5" fill="#ffdc00"/>
<rect x="166.3" y="692.6" width="1.0" height="1.5" fill="#fff000"/>
<rect x="166.3" y="691.6" width="1.0" height="2.0" fill="#a8ff30"/>
<rect x="165.3" y="692.2" width="2.0" height="2.0" fill="#ffdc00"/>
<rect x="167.8" y="690.3" width="2.0" height="2.0" fill="#ffd000"/>
<rect x="165.6" y="691.9" width="2.0" height="1.0" fill="#fff000"/>
<rect x="167.9" y="693.2" width="2.0" height="2.0" fill="#fff000"/>
<rect x="168.2" y="691.0" width="1.0" height="1.0" fill="#ffdc00"/>
<rect x="167.0" y="691.1" width="1.5" height="1.5" fill="#eaff10"/>
<rect x="166.0" y="692.5" width="1.0" height="1.5" fill="#ffa010"/>
<rect x="171.2" y="693.2" width="1.5" height="1.5" fill="#fff000"/>
<rect x="172.7" y="692.1" width="1.5" height="1.0" fill="#a8ff30"/>
<rect x="170.4" y="691.3" width="1.0" height="1.5" fill="#fff000"/>
<rect x="170.6" y="693.2" width="2.0" height="2.0" fill="#fff000"/>
<rect x="173.6" y="693.0" width="1.0" height="1.0" fill="#c8ff30"/>
<rect x="171.4" y="693.0" width="1.0" height="1.5" fill="#fff000"/>
<rect x="173.5" y="692.8" width="2.0" height="2.0" fill="#fff000"/>
<rect x="173.1" y="691.8" width="2.0" height="1.5" fill="#c8ff30"/>
<rect x="172.2" y="693.3" width="1.0" height="2.0" fill="#c8ff30"/>
<rect x="172.0" y="693.5" width="1.5" height="1.0" fill="#eaff10"/>
<rect x="176.5" y="690.4" width="2.0" height="1.5" fill="#eaff10"/>
<rect x="176.7" y="693.4" width="2.0" height="1.0" fill="#eaff10"/>
<rect x="176.7" y="692.1" width="1.0" height="1.5" fill="#eaff10"/>
<rect x="177.0" y="693.4" width="1.5" height="1.0" fill="#c8ff30"/>
<rect x="175.3" y="691.8" width="1.0" height="2.0" fill="#a8ff30"/>
<rect x="179.0" y="692.1" width="2.0" height="1.0" fill="#eaff10"/>
<rect x="175.8" y="692.9" width="2.0" height="1.5" fill="#c8ff30"/>
<rect x="176.0" y="693.5" width="1.0" height="2.0" fill="#90ff20"/>
<rect x="176.6" y="692.9" width="1.5" height="2.0" fill="#a8ff30"/>
<rect x="175.6" y="691.4" width="2.0" height="1.5" fill="#eaff10"/>
<rect x="155.2" y="695.9" width="2.0" height="1.5" fill="#ffd000"/>
<rect x="157.4" y="695.1" width="1.5" height="1.0" fill="#eaff10"/>
<rect x="158.5" y="698.7" width="1.0" height="1.5" fill="#fff000"/>
<rect x="158.7" y="696.6" width="2.0" height="2.0" fill="#ffc010"/>
<rect x="155.6" y="697.3" width="2.0" height="1.0" fill="#ffd000"/>
<rect x="158.2" y="698.7" width="1.5" height="1.5" fill="#ffc010"/>
<rect x="158.6" y="698.5" width="2.0" height="2.0" fill="#eaff10"/>
<rect x="157.7" y="696.5" width="1.0" height="1.0" fill="#eaff10"/>
<rect x="157.9" y="696.3" width="1.0" height="2.0" fill="#fff000"/>
<rect x="156.8" y="698.9" width="2.0" height="1.0" fill="#c8ff30"/>
<rect x="160.6" y="698.7" width="2.0" height="1.5" fill="#eaff10"/>
<rect x="160.7" y="697.4" width="1.5" height="1.5" fill="#ffdc00"/>
<rect x="160.1" y="696.6" width="2.0" height="1.5" fill="#ffdc00"/>
<rect x="163.6" y="698.6" width="1.5" height="2.0" fill="#c8ff30"/>
<rect x="161.9" y="697.1" width="1.5" height="1.5" fill="#ffdc00"/>
<rect x="160.2" y="698.2" width="2.0" height="1.0" fill="#fff000"/>
<rect x="161.9" y="697.9" width="1.5" height="1.5" fill="#c8ff30"/>
<rect x="162.6" y="695.7" width="1.5" height="1.0" fill="#eaff10"/>
<rect x="162.1" y="698.5" width="1.0" height="1.5" fill="#fff000"/>
<rect x="160.1" y="695.1" width="2.0" height="1.5" fill="#c8ff30"/>
<rect x="165.3" y="695.5" width="1.5" height="1.5" fill="#c8ff30"/>
<rect x="167.3" y="698.6" width="1.0" height="1.5" fill="#c8ff30"/>
<rect x="167.3" y="695.0" width="1.5" height="1.5" fill="#ffdc00"/>
<rect x="166.5" y="695.2" width="2.0" height="1.5" fill="#ffa010"/>
<rect x="168.8" y="696.4" width="2.0" height="1.5" fill="#c8ff30"/>
<rect x="165.9" y="698.6" width="2.0" height="2.0" fill="#ffdc00"/>
<rect x="168.3" y="698.7" width="2.0" height="1.0" fill="#fff000"/>
<rect x="165.8" y="696.6" width="2.0" height="2.0" fill="#fff000"/>
<rect x="167.1" y="698.0" width="2.0" height="1.0" fill="#c8ff30"/>
<rect x="165.2" y="696.0" width="1.5" height="2.0" fill="#fff000"/>
<rect x="171.6" y="696.2" width="1.5" height="2.0" fill="#ffdc00"/>
<rect x="170.1" y="696.0" width="1.5" height="1.0" fill="#ffdc00"/>
<rect x="170.5" y="698.9" width="1.5" height="1.0" fill="#c8ff30"/>
<rect x="172.3" y="696.2" width="2.0" height="1.5" fill="#ffdc00"/>
<rect x="171.6" y="695.1" width="1.0" height="1.0" fill="#fff000"/>
<rect x="171.1" y="696.1" width="1.0" height="2.0" fill="#fff000"/>
<rect x="171.2" y="696.5" width="2.0" height="2.0" fill="#ffdc00"/>
<rect x="172.5" y="695.7" width="1.5" height="1.0" fill="#eaff10"/>
<rect x="172.8" y="698.6" width="1.0" height="2.0" fill="#c8ff30"/>
<rect x="170.5" y="698.6" width="1.0" height="2.0" fill="#a8ff30"/>
<rect x="177.7" y="696.5" width="1.0" height="1.5" fill="#6cdc00"/>
<rect x="176.9" y="697.8" width="2.0" height="2.0" fill="#a8ff30"/>
<rect x="176.5" y="696.5" width="1.5" height="2.0" fill="#eaff10"/>
<rect x="178.2" y="695.4" width="1.5" height="1.5" fill="#c8ff30"/>
<rect x="178.2" y="698.5" width="1.5" height="1.0" fill="#c8ff30"/>
<rect x="177.5" y="695.6" width="1.0" height="2.0" fill="#eaff10"/>
<rect x="178.8" y="695.7" width="2.0" height="1.5" fill="#a8ff30"/>
<rect x="177.6" y="697.4" width="1.0" height="1.5" fill="#78f000"/>
<rect x="177.0" y="696.5" width="2.0" height="2.0" fill="#90ff20"/>
<rect x="176.9" y="696.0" width="2.0" height="1.0" fill="#90ff20"/>
<rect x="181.3" y="698.5" width="1.0" height="1.5" fill="#ffdc00"/>
<rect x="180.7" y="698.8" width="1.5" height="2.0" fill="#90ff20"/>
<rect x="182.8" y="697.9" width="1.5" height="1.5" fill="#a8ff30"/>
<rect x="180.9" y="695.1" width="1.0" height="2.0" fill="#90ff20"/>
<rect x="183.6" y="696.1" width="1.0" height="2.0" fill="#fff000"/>
<rect x="183.6" y="698.9" width="1.0" height="1.0" fill="#a8ff30"/>
<rect x="180.9" y="696.4" width="1.0" height="1.0" fill="#eaff10"/>
<rect x="180.1" y="698.7" width="1.5" height="1.5" fill="#c8ff30"/>
<rect x="181.8" y="698.0" width="1.5" height="2.0" fill="#eaff10"/>
<rect x="182.1" y="695.4" width="1.5" height="1.0" fill="#ffdc00"/>
<rect x="226.2" y="696.3" width="1.5" height="1.5" fill="#ffd000"/>
<rect x="226.3" y="698.3" width="1.0" height="1.0" fill="#ffc010"/>
<rect x="225.2" y="698.5" width="1.5" height="1.5" fill="#ff7000"/>
<rect x="228.8" y="695.9" width="2.0" height="2.0" fill="#ffa010"/>
<rect x="162.1" y="702.7" width="1.5" height="2.0" fill="#eaff10"/>
<rect x="161.9" y="700.2" width="1.0" height="1.0" fill="#eaff10"/>
<rect x="163.6" y="702.3" width="1.5" height="2.0" fill="#fff000"/>
<rect x="161.3" y="703.9" width="1.0" height="1.5" fill="#eaff10"/>
<rect x="162.1" y="702.4" width="1.5" height="2.0" fill="#eaff10"/>
<rect x="160.2" y="702.6" width="2.0" height="2.0" fill="#ffdc00"/>
<rect x="163.9" y="702.0" width="2.0" height="2.0" fill="#fff000"/>
<rect x="163.6" y="701.7" width="1.0" height="2.0" fill="#ffd000"/>
<rect x="162.5" y="703.4" width="2.0" height="2.0" fill="#eaff10"/>
<rect x="163.9" y="700.4" width="1.0" height="1.0" fill="#ffdc00"/>
<rect x="188.8" y="702.7" width="2.0" height="1.0" fill="#a8ff30"/>
<rect x="186.8" y="701.9" width="2.0" height="1.5" fill="#fff000"/>
<rect x="186.1" y="703.5" width="2.0" height="1.0" fill="#eaff10"/>
<rect x="186.4" y="703.7" width="1.5" height="1.0" fill="#ffdc00"/>
<rect x="188.7" y="701.4" width="1.0" height="2.0" fill="#a8ff30"/>
<rect x="188.6" y="700.9" width="2.0" height="1.0" fill="#c8ff30"/>
<rect x="189.0" y="703.8" width="2.0" height="2.0" fill="#ffdc00"/>
<rect x="188.9" y="702.2" width="1.0" height="1.0" fill="#ffd000"/>
<rect x="186.6" y="701.3" width="1.0" height="1.5" fill="#eaff10"/>
<rect x="185.1" y="701.1" width="1.0" height="1.5" fill="#90ff20"/>
<rect x="218.8" y="707.5" width="2.0" height="2.0" fill="#fff000"/>
<rect x="215.3" y="705.2" width="1.5" height="2.0" fill="#ffdc00"/>
<rect x="218.2" y="706.9" width="2.0" height="1.0" fill="#ff7000"/>
<rect x="216.8" y="705.3" width="1.0" height="1.0" fill="#fff000"/>
<rect x="231.4" y="707.8" width="2.0" height="1.0" fill="#ffa010"/>
<rect x="232.4" y="708.8" width="2.0" height="1.0" fill="#ffc010"/>
<rect x="230.8" y="705.9" width="1.0" height="1.0" fill="#fff000"/>
<rect x="230.8" y="705.9" width="1.5" height="1.5" fill="#ffc010"/>
<rect x="221.5" y="710.7" width="1.5" height="1.0" fill="#ffd000"/>
<rect x="220.7" y="711.9" width="1.5" height="2.0" fill="#fff000"/>
<rect x="220.8" y="710.1" width="2.0" height="1.0" fill="#ffa010"/>
<rect x="221.5" y="712.7" width="1.0" height="1.0" fill="#ffc010"/>
<rect x="227.7" y="712.3" width="1.0" height="1.5" fill="#ff7000"/>
<rect x="225.5" y="710.8" width="1.0" height="1.5" fill="#ffdc00"/>
<rect x="228.9" y="713.9" width="1.0" height="1.5" fill="#ff7000"/>
<rect x="227.8" y="710.5" width="1.5" height="1.5" fill="#ff4800"/>
<rect x="206.4" y="720.6" width="1.0" height="1.0" fill="#ff3000"/>
<rect x="207.9" y="723.0" width="2.0" height="1.0" fill="#ff4800"/>
<rect x="205.7" y="722.4" width="1.0" height="2.0" fill="#ff7000"/>
<rect x="208.7" y="721.0" width="1.5" height="2.0" fill="#ff7000"/>
<rect x="212.1" y="720.4" width="2.0" height="1.5" fill="#ff4800"/>
<rect x="211.4" y="721.4" width="1.0" height="2.0" fill="#ffa010"/>
<rect x="211.6" y="720.5" width="2.0" height="1.0" fill="#ff1400"/>
<rect x="213.9" y="721.5" width="1.5" height="2.0" fill="#ffd000"/>
<rect x="215.9" y="721.1" width="2.0" height="2.0" fill="#ff3000"/>
<rect x="218.8" y="721.5" width="2.0" height="2.0" fill="#ffa010"/>
<rect x="215.9" y="723.5" width="1.0" height="1.0" fill="#ff3000"/>
<rect x="215.2" y="721.8" width="1.5" height="1.5" fill="#ff7000"/>
<rect x="208.4" y="726.1" width="1.0" height="2.0" fill="#ff7000"/>
<rect x="206.1" y="725.6" width="1.5" height="1.5" fill="#ff1400"/>
<rect x="206.6" y="728.4" width="1.5" height="1.5" fill="#ff0870"/>
<rect x="206.6" y="728.2" width="1.0" height="1.5" fill="#ff4800"/>
<rect x="203.7" y="732.4" width="2.0" height="1.5" fill="#ff4800"/>
<rect x="203.6" y="733.1" width="2.0" height="2.0" fill="#ff4800"/>
<rect x="201.7" y="733.5" width="2.0" height="1.0" fill="#ffa010"/>
<rect x="202.2" y="730.9" width="1.5" height="1.5" fill="#ffc010"/>
<rect x="202.7" y="737.9" width="1.0" height="1.0" fill="#ffd000"/>
<rect x="203.1" y="735.8" width="1.5" height="1.5" fill="#ffd000"/>
<rect x="202.3" y="735.5" width="2.0" height="2.0" fill="#ff7000"/>
<rect x="202.3" y="736.3" width="1.5" height="1.5" fill="#ffd000"/>
<rect x="205.5" y="735.5" width="2.0" height="1.0" fill="#ff4800"/>
<rect x="206.0" y="737.5" width="1.5" height="1.5" fill="#ff7000"/>
<rect x="208.3" y="735.4" width="1.0" height="1.5" fill="#ffa010"/>
<rect x="206.7" y="735.3" width="1.5" height="1.0" fill="#ffd000"/>
<rect x="318" y="686" width="1.3" height="1.3" fill="#ffd000"/>
<rect x="318" y="687" width="1.3" height="1.3" fill="#ff3000"/>
<rect x="318" y="691" width="1.3" height="1.3" fill="#ffa010"/>
<rect x="318" y="692" width="1.3" height="1.3" fill="#ffa010"/>
<rect x="318" y="693" width="1.3" height="1.3" fill="#ffd000"/>
<rect x="318" y="694" width="1.3" height="1.3" fill="#ffd000"/>
<rect x="318" y="698" width="1.3" height="1.3" fill="#ff3000"/>
<rect x="318" y="702" width="1.3" height="1.3" fill="#ff3000"/>
<rect x="318" y="703" width="1.3" height="1.3" fill="#fff000"/>
<rect x="318" y="706" width="1.3" height="1.3" fill="#fff000"/>
<rect x="318" y="708" width="1.3" height="1.3" fill="#ffd000"/>
<rect x="318" y="710" width="1.3" height="1.3" fill="#fff000"/>
<rect x="318" y="716" width="1.3" height="1.3" fill="#ffa010"/>
<rect x="318" y="717" width="1.3" height="1.3" fill="#ffd000"/>
<rect x="318" y="718" width="1.3" height="1.3" fill="#fff000"/>
<rect x="318" y="719" width="1.3" height="1.3" fill="#ffd000"/>
<rect x="318" y="723" width="1.3" height="1.3" fill="#ffa010"/>
<rect x="319" y="684" width="1.3" height="1.3" fill="#ff3000"/>
<rect x="319" y="688" width="1.3" height="1.3" fill="#ff3000"/>
<rect x="319" y="690" width="1.3" height="1.3" fill="#ff3000"/>
<rect x="319" y="691" width="1.3" height="1.3" fill="#ffa010"/>
<rect x="319" y="698" width="1.3" height="1.3" fill="#fff000"/>
<rect x="319" y="708" width="1.3" height="1.3" fill="#fff000"/>
<rect x="319" y="709" width="1.3" height="1.3" fill="#fff000"/>
<rect x="319" y="714" width="1.3" height="1.3" fill="#fff000"/>
<rect x="319" y="720" width="1.3" height="1.3" fill="#ffa010"/>
<rect x="319" y="723" width="1.3" height="1.3" fill="#fff000"/>
<rect x="319" y="724" width="1.3" height="1.3" fill="#ffd000"/>
<rect x="319" y="725" width="1.3" height="1.3" fill="#ffd000"/>
<rect x="320" y="685" width="1.3" height="1.3" fill="#ffa010"/>
<rect x="320" y="688" width="1.3" height="1.3" fill="#ffd000"/>
<rect x="320" y="689" width="1.3" height="1.3" fill="#ff3000"/>
<rect x="320" y="691" width="1.3" height="1.3" fill="#ffa010"/>
<rect x="320" y="693" width="1.3" height="1.3" fill="#ffa010"/>
<rect x="320" y="696" width="1.3" height="1.3" fill="#ffd000"/>
<rect x="320" y="697" width="1.3" height="1.3" fill="#ffd000"/>
<rect x="320" y="699" width="1.3" height="1.3" fill="#ffd000"/>
<rect x="320" y="704" width="1.3" height="1.3" fill="#ffd000"/>
<rect x="320" y="709" width="1.3" height="1.3" fill="#ff4800"/>
<rect x="320" y="711" width="1.3" height="1.3" fill="#ff3000"/>
<rect x="320" y="714" width="1.3" height="1.3" fill="#ff3000"/>
<rect x="320" y="715" width="1.3" height="1.3" fill="#ffa010"/>
<rect x="320" y="720" width="1.3" height="1.3" fill="#ff3000"/>
<rect x="320" y="725" width="1.3" height="1.3" fill="#ff4800"/>
<rect x="321" y="684" width="1.3" height="1.3" fill="#ff3000"/>
<rect x="321" y="685" width="1.3" height="1.3" fill="#ffa010"/>
<rect x="321" y="686" width="1.3" height="1.3" fill="#ff3000"/>
<rect x="321" y="687" width="1.3" height="1.3" fill="#ff3000"/>
<rect x="321" y="688" width="1.3" height="1.3" fill="#ff4800"/>
<rect x="321" y="689" width="1.3" height="1.3" fill="#ffd000"/>
<rect x="321" y="690" width="1.3" height="1.3" fill="#ff4800"/>
<rect x="321" y="692" width="1.3" height="1.3" fill="#ffa010"/>
<rect x="321" y="699" width="1.3" height="1.3" fill="#ffd000"/>
<rect x="321" y="703" width="1.3" height="1.3" fill="#fff000"/>
<rect x="321" y="708" width="1.3" height="1.3" fill="#fff000"/>
<rect x="321" y="709" width="1.3" height="1.3" fill="#ffd000"/>
<rect x="321" y="710" width="1.3" height="1.3" fill="#ff3000"/>
<rect x="321" y="711" width="1.3" height="1.3" fill="#ff3000"/>
<rect x="321" y="714" width="1.3" height="1.3" fill="#ff3000"/>
<rect x="321" y="716" width="1.3" height="1.3" fill="#ff4800"/>
<rect x="321" y="718" width="1.3" height="1.3" fill="#ffd000"/>
<rect x="321" y="720" width="1.3" height="1.3" fill="#fff000"/>
<rect x="321" y="722" width="1.3" height="1.3" fill="#ffd000"/>
<rect x="321" y="723" width="1.3" height="1.3" fill="#ff4800"/>
<rect x="322" y="686" width="1.3" height="1.3" fill="#fff000"/>
<rect x="322" y="689" width="1.3" height="1.3" fill="#ffa010"/>
<rect x="322" y="691" width="1.3" height="1.3" fill="#fff000"/>
<rect x="322" y="694" width="1.3" height="1.3" fill="#ff3000"/>
<rect x="322" y="699" width="1.3" height="1.3" fill="#ffd000"/>
<rect x="322" y="703" width="1.3" height="1.3" fill="#ffa010"/>
<rect x="322" y="704" width="1.3" height="1.3" fill="#fff000"/>
<rect x="322" y="705" width="1.3" height="1.3" fill="#ff4800"/>
<rect x="322" y="708" width="1.3" height="1.3" fill="#ff4800"/>
<rect x="322" y="709" width="1.3" height="1.3" fill="#ffd000"/>
<rect x="322" y="710" width="1.3" height="1.3" fill="#fff000"/>
<rect x="322" y="713" width="1.3" height="1.3" fill="#ffd000"/>
<rect x="322" y="714" width="1.3" height="1.3" fill="#ff4800"/>
<rect x="322" y="715" width="1.3" height="1.3" fill="#ff4800"/>
<rect x="322" y="717" width="1.3" height="1.3" fill="#fff000"/>
<rect x="322" y="718" width="1.3" height="1.3" fill="#fff000"/>
<rect x="322" y="723" width="1.3" height="1.3" fill="#fff000"/>
<rect x="323" y="684" width="1.3" height="1.3" fill="#ffa010"/>
<rect x="323" y="687" width="1.3" height="1.3" fill="#ff4800"/>
<rect x="323" y="690" width="1.3" height="1.3" fill="#ff4800"/>
<rect x="323" y="694" width="1.3" height="1.3" fill="#ff3000"/>
<rect x="323" y="702" width="1.3" height="1.3" fill="#ff4800"/>
<rect x="323" y="703" width="1.3" height="1.3" fill="#fff000"/>
<rect x="323" y="706" width="1.3" height="1.3" fill="#ff3000"/>
<rect x="323" y="709" width="1.3" height="1.3" fill="#ffd000"/>
<rect x="323" y="710" width="1.3" height="1.3" fill="#ffa010"/>
<rect x="323" y="711" width="1.3" height="1.3" fill="#ffd000"/>
<rect x="323" y="713" width="1.3" height="1.3" fill="#ff3000"/>
<rect x="323" y="716" width="1.3" height="1.3" fill="#fff000"/>
<rect x="323" y="717" width="1.3" height="1.3" fill="#ffa010"/>
<rect x="323" y="718" width="1.3" height="1.3" fill="#ffa010"/>
<rect x="324" y="686" width="1.3" height="1.3" fill="#ffa010"/>
<rect x="324" y="687" width="1.3" height="1.3" fill="#fff000"/>
<rect x="324" y="688" width="1.3" height="1.3" fill="#ff4800"/>
<rect x="324" y="695" width="1.3" height="1.3" fill="#ff3000"/>
<rect x="324" y="699" width="1.3" height="1.3" fill="#ff4800"/>
<rect x="324" y="701" width="1.3" height="1.3" fill="#ffa010"/>
<rect x="324" y="707" width="1.3" height="1.3" fill="#ff3000"/>
<rect x="324" y="711" width="1.3" height="1.3" fill="#fff000"/>
<rect x="324" y="712" width="1.3" height="1.3" fill="#ff3000"/>
<rect x="324" y="714" width="1.3" height="1.3" fill="#ffd000"/>
<rect x="324" y="717" width="1.3" height="1.3" fill="#ffd000"/>
<rect x="325" y="683" width="1.3" height="1.3" fill="#ffa010"/>
<rect x="325" y="689" width="1.3" height="1.3" fill="#ff3000"/>
<rect x="325" y="692" width="1.3" height="1.3" fill="#ffd000"/>
<rect x="325" y="694" width="1.3" height="1.3" fill="#ff3000"/>
<rect x="325" y="707" width="1.3" height="1.3" fill="#ff4800"/>
<rect x="325" y="710" width="1.3" height="1.3" fill="#ff4800"/>
<rect x="326" y="684" width="1.3" height="1.3" fill="#ff4800"/>
<rect x="326" y="686" width="1.3" height="1.3" fill="#ffd000"/>
<rect x="326" y="687" width="1.3" height="1.3" fill="#fff000"/>
<rect x="326" y="691" width="1.3" height="1.3" fill="#ff4800"/>
<rect x="326" y="694" width="1.3" height="1.3" fill="#ffa010"/>
<rect x="326" y="695" width="1.3" height="1.3" fill="#ff4800"/>
<rect x="326" y="696" width="1.3" height="1.3" fill="#ff3000"/>
<rect x="326" y="698" width="1.3" height="1.3" fill="#fff000"/>
<rect x="326" y="699" width="1.3" height="1.3" fill="#ffa010"/>
<rect x="326" y="704" width="1.3" height="1.3" fill="#ff3000"/>
<rect x="326" y="705" width="1.3" height="1.3" fill="#ffa010"/>
<rect x="327" y="689" width="1.3" height="1.3" fill="#ff3000"/>
<rect x="327" y="692" width="1.3" height="1.3" fill="#fff000"/>
<rect x="327" y="695" width="1.3" height="1.3" fill="#ffd000"/>
<rect x="327" y="697" width="1.3" height="1.3" fill="#ffa010"/>
<rect x="327" y="698" width="1.3" height="1.3" fill="#ffd000"/>
<rect x="328" y="688" width="1.3" height="1.3" fill="#ff4800"/>
<rect x="328" y="692" width="1.3" height="1.3" fill="#ffa010"/>
<rect x="319" y="702" width="1.3" height="1.3" fill="#fff000"/>
<rect x="319" y="704" width="1.3" height="1.3" fill="#fff000"/>
<rect x="319" y="706" width="1.3" height="1.3" fill="#fff000"/>
<rect x="320" y="705" width="1.3" height="1.3" fill="#fff000"/>
<rect x="321" y="708" width="1.3" height="1.3" fill="#fff000"/>
<rect x="322" y="701" width="1.3" height="1.3" fill="#fff000"/>
<rect x="323" y="700" width="1.3" height="1.3" fill="#fff000"/>
<rect x="324" y="692" width="1.3" height="1.3" fill="#fff000"/>
<rect x="324" y="704" width="1.3" height="1.3" fill="#fff000"/>
<rect x="316" y="729" width="1.3" height="1.3" fill="#c8ff30"/>
<rect x="316" y="731" width="1.3" height="1.3" fill="#fff000"/>
<rect x="317" y="727" width="1.3" height="1.3" fill="#ffa010"/>
<rect x="317" y="728" width="1.3" height="1.3" fill="#fff000"/>
<rect x="317" y="729" width="1.3" height="1.3" fill="#fff000"/>
<rect x="318" y="724" width="1.3" height="1.3" fill="#c8ff30"/>
<rect x="318" y="726" width="1.3" height="1.3" fill="#c8ff30"/>
<rect x="318" y="727" width="1.3" height="1.3" fill="#fff000"/>
<rect x="318" y="730" width="1.3" height="1.3" fill="#ffa010"/>
<rect x="318" y="731" width="1.3" height="1.3" fill="#ffa010"/>
<rect x="319" y="722" width="1.3" height="1.3" fill="#fff000"/>
<rect x="319" y="724" width="1.3" height="1.3" fill="#fff000"/>
<rect x="319" y="725" width="1.3" height="1.3" fill="#fff000"/>
<rect x="319" y="727" width="1.3" height="1.3" fill="#ffa010"/>
<rect x="319" y="728" width="1.3" height="1.3" fill="#fff000"/>
<rect x="319" y="729" width="1.3" height="1.3" fill="#ffd000"/>
<rect x="319" y="730" width="1.3" height="1.3" fill="#fff000"/>
<rect x="319" y="731" width="1.3" height="1.3" fill="#ffd000"/>
<rect x="320" y="722" width="1.3" height="1.3" fill="#fff000"/>
<rect x="320" y="723" width="1.3" height="1.3" fill="#fff000"/>
<rect x="320" y="724" width="1.3" height="1.3" fill="#ffa010"/>
<rect x="320" y="726" width="1.3" height="1.3" fill="#ffd000"/>
<rect x="320" y="728" width="1.3" height="1.3" fill="#fff000"/>
<rect x="320" y="729" width="1.3" height="1.3" fill="#fff000"/>
<rect x="321" y="722" width="1.3" height="1.3" fill="#ffa010"/>
<rect x="321" y="723" width="1.3" height="1.3" fill="#fff000"/>
<rect x="321" y="725" width="1.3" height="1.3" fill="#fff000"/>
<rect x="322" y="724" width="1.3" height="1.3" fill="#c8ff30"/>
<rect x="312" y="740" width="1.3" height="1.3" fill="#fff000"/>
<rect x="312" y="741" width="1.3" height="1.3" fill="#fff000"/>
<rect x="313" y="739" width="1.3" height="1.3" fill="#c8ff30"/>
<rect x="313" y="741" width="1.3" height="1.3" fill="#fff000"/>
<rect x="314" y="734" width="1.3" height="1.3" fill="#ffa010"/>
<rect x="314" y="735" width="1.3" height="1.3" fill="#fff000"/>
<rect x="314" y="736" width="1.3" height="1.3" fill="#fff000"/>
<rect x="314" y="737" width="1.3" height="1.3" fill="#ffd000"/>
<rect x="314" y="738" width="1.3" height="1.3" fill="#fff000"/>
<rect x="314" y="740" width="1.3" height="1.3" fill="#c8ff30"/>
<rect x="314" y="741" width="1.3" height="1.3" fill="#fff000"/>
<rect x="315" y="732" width="1.3" height="1.3" fill="#fff000"/>
<rect x="315" y="733" width="1.3" height="1.3" fill="#ffa010"/>
<rect x="315" y="735" width="1.3" height="1.3" fill="#fff000"/>
<rect x="315" y="739" width="1.3" height="1.3" fill="#c8ff30"/>
<rect x="316" y="733" width="1.3" height="1.3" fill="#ffd000"/>
<rect x="316" y="734" width="1.3" height="1.3" fill="#fff000"/>
<rect x="316" y="737" width="1.3" height="1.3" fill="#c8ff30"/>
<rect x="316" y="738" width="1.3" height="1.3" fill="#fff000"/>
<rect x="317" y="733" width="1.3" height="1.3" fill="#ffa010"/>
<rect x="317" y="736" width="1.3" height="1.3" fill="#ffa010"/>
<rect x="318" y="732" width="1.3" height="1.3" fill="#fff000"/>
<rect x="318" y="733" width="1.3" height="1.3" fill="#fff000"/>
<rect x="308" y="750" width="1.3" height="1.3" fill="#fff000"/>
<rect x="308" y="751" width="1.3" height="1.3" fill="#fff000"/>
<rect x="309" y="747" width="1.3" height="1.3" fill="#fff000"/>
<rect x="309" y="749" width="1.3" height="1.3" fill="#fff000"/>
<rect x="309" y="750" width="1.3" height="1.3" fill="#ffa010"/>
<rect x="309" y="752" width="1.3" height="1.3" fill="#fff000"/>
<rect x="310" y="745" width="1.3" height="1.3" fill="#fff000"/>
<rect x="310" y="747" width="1.3" height="1.3" fill="#c8ff30"/>
<rect x="310" y="748" width="1.3" height="1.3" fill="#fff000"/>
<rect x="310" y="750" width="1.3" height="1.3" fill="#fff000"/>
<rect x="311" y="742" width="1.3" height="1.3" fill="#c8ff30"/>
<rect x="311" y="743" width="1.3" height="1.3" fill="#fff000"/>
<rect x="311" y="744" width="1.3" height="1.3" fill="#c8ff30"/>
<rect x="311" y="745" width="1.3" height="1.3" fill="#fff000"/>
<rect x="311" y="746" width="1.3" height="1.3" fill="#fff000"/>
<rect x="311" y="747" width="1.3" height="1.3" fill="#fff000"/>
<rect x="311" y="748" width="1.3" height="1.3" fill="#fff000"/>
<rect x="311" y="749" width="1.3" height="1.3" fill="#fff000"/>
<rect x="311" y="750" width="1.3" height="1.3" fill="#ffa010"/>
<rect x="312" y="742" width="1.3" height="1.3" fill="#fff000"/>
<rect x="312" y="744" width="1.3" height="1.3" fill="#c8ff30"/>
<rect x="312" y="745" width="1.3" height="1.3" fill="#ffa010"/>
<rect x="312" y="746" width="1.3" height="1.3" fill="#fff000"/>
<rect x="312" y="749" width="1.3" height="1.3" fill="#c8ff30"/>
<rect x="312" y="750" width="1.3" height="1.3" fill="#fff000"/>
<rect x="313" y="743" width="1.3" height="1.3" fill="#fff000"/>
<rect x="313" y="746" width="1.3" height="1.3" fill="#fff000"/>
<rect x="313" y="747" width="1.3" height="1.3" fill="#c8ff30"/>
<rect x="314" y="743" width="1.3" height="1.3" fill="#fff000"/>
<rect x="314" y="744" width="1.3" height="1.3" fill="#fff000"/>
<rect x="304" y="761" width="1.3" height="1.3" fill="#fff000"/>
<rect x="304" y="762" width="1.3" height="1.3" fill="#ffd000"/>
<rect x="305" y="758" width="1.3" height="1.3" fill="#fff000"/>
<rect x="305" y="759" width="1.3" height="1.3" fill="#ffa010"/>
<rect x="305" y="760" width="1.3" height="1.3" fill="#fff000"/>
<rect x="305" y="763" width="1.3" height="1.3" fill="#fff000"/>
<rect x="306" y="755" width="1.3" height="1.3" fill="#fff000"/>
<rect x="306" y="756" width="1.3" height="1.3" fill="#fff000"/>
<rect x="306" y="758" width="1.3" height="1.3" fill="#fff000"/>
<rect x="306" y="759" width="1.3" height="1.3" fill="#fff000"/>
<rect x="306" y="760" width="1.3" height="1.3" fill="#ffd000"/>
<rect x="306" y="761" width="1.3" height="1.3" fill="#c8ff30"/>
<rect x="306" y="762" width="1.3" height="1.3" fill="#c8ff30"/>
<rect x="306" y="763" width="1.3" height="1.3" fill="#fff000"/>
<rect x="307" y="753" width="1.3" height="1.3" fill="#ffa010"/>
<rect x="307" y="754" width="1.3" height="1.3" fill="#fff000"/>
<rect x="307" y="756" width="1.3" height="1.3" fill="#fff000"/>
<rect x="307" y="757" width="1.3" height="1.3" fill="#fff000"/>
<rect x="307" y="758" width="1.3" height="1.3" fill="#fff000"/>
<rect x="307" y="759" width="1.3" height="1.3" fill="#fff000"/>
<rect x="307" y="760" width="1.3" height="1.3" fill="#fff000"/>
<rect x="307" y="761" width="1.3" height="1.3" fill="#fff000"/>
<rect x="308" y="757" width="1.3" height="1.3" fill="#fff000"/>
<rect x="308" y="758" width="1.3" height="1.3" fill="#ffa010"/>
<rect x="308" y="759" width="1.3" height="1.3" fill="#fff000"/>
<rect x="308" y="760" width="1.3" height="1.3" fill="#fff000"/>
<rect x="309" y="754" width="1.3" height="1.3" fill="#fff000"/>
<rect x="309" y="755" width="1.3" height="1.3" fill="#fff000"/>
<rect x="309" y="757" width="1.3" height="1.3" fill="#ffa010"/>
<rect x="309" y="758" width="1.3" height="1.3" fill="#ffa010"/>
<rect x="310" y="753" width="1.3" height="1.3" fill="#fff000"/>
<rect x="300" y="770" width="1.3" height="1.3" fill="#fff000"/>
<rect x="301" y="768" width="1.3" height="1.3" fill="#ffa010"/>
<rect x="301" y="769" width="1.3" height="1.3" fill="#ffd000"/>
<rect x="301" y="770" width="1.3" height="1.3" fill="#ffd000"/>
<rect x="302" y="766" width="1.3" height="1.3" fill="#fff000"/>
<rect x="302" y="767" width="1.3" height="1.3" fill="#fff000"/>
<rect x="302" y="768" width="1.3" height="1.3" fill="#c8ff30"/>
<rect x="302" y="769" width="1.3" height="1.3" fill="#fff000"/>
<rect x="302" y="770" width="1.3" height="1.3" fill="#fff000"/>
<rect x="302" y="771" width="1.3" height="1.3" fill="#c8ff30"/>
<rect x="303" y="764" width="1.3" height="1.3" fill="#ffd000"/>
<rect x="303" y="765" width="1.3" height="1.3" fill="#fff000"/>
<rect x="303" y="769" width="1.3" height="1.3" fill="#fff000"/>
<rect x="303" y="770" width="1.3" height="1.3" fill="#ffd000"/>
<rect x="303" y="771" width="1.3" height="1.3" fill="#ffd000"/>
<rect x="304" y="764" width="1.3" height="1.3" fill="#ffd000"/>
<rect x="304" y="765" width="1.3" height="1.3" fill="#c8ff30"/>
<rect x="304" y="767" width="1.3" height="1.3" fill="#fff000"/>
<rect x="304" y="768" width="1.3" height="1.3" fill="#ffa010"/>
<rect x="304" y="769" width="1.3" height="1.3" fill="#fff000"/>
<rect x="305" y="764" width="1.3" height="1.3" fill="#c8ff30"/>
<rect x="305" y="766" width="1.3" height="1.3" fill="#fff000"/>
<rect x="305" y="767" width="1.3" height="1.3" fill="#c8ff30"/>
<rect x="306" y="765" width="1.3" height="1.3" fill="#ffa010"/>
<rect x="298" y="774" width="1.3" height="1.3" fill="#fff000"/>
<rect x="298" y="775" width="1.3" height="1.3" fill="#fff000"/>
<rect x="299" y="772" width="1.3" height="1.3" fill="#ffd000"/>
<rect x="299" y="773" width="1.3" height="1.3" fill="#ffd000"/>
<rect x="299" y="774" width="1.3" height="1.3" fill="#fff000"/>
<rect x="299" y="775" width="1.3" height="1.3" fill="#fff000"/>
<rect x="300" y="772" width="1.3" height="1.3" fill="#ffd000"/>
<rect x="301" y="772" width="1.3" height="1.3" fill="#fff000"/>
<rect x="301" y="774" width="1.3" height="1.3" fill="#ffd000"/>
<rect x="301" y="775" width="1.3" height="1.3" fill="#fff000"/>
<rect x="302" y="773" width="1.3" height="1.3" fill="#ffa010"/>
<path fill="none" stroke="#ff3000" stroke-width="2.0" stroke-linecap="round" stroke-linejoin="round" d="M320.5 714.0 L319.5 719.0"/>
<path fill="none" stroke="#ff4800" stroke-width="2.2" stroke-linecap="round" stroke-linejoin="round" d="M314.6 733.0 L312.3 740.0"/>
<path fill="none" stroke="#ffd000" stroke-width="2.2" stroke-linecap="round" stroke-linejoin="round" d="M310.6 745.5 L308.8 751.5"/>
<path fill="none" stroke="#ffa010" stroke-width="2.0" stroke-linecap="round" stroke-linejoin="round" d="M307.0 757.5 L305.2 762.5"/>
<path fill="none" stroke="#ffd000" stroke-width="1.5" stroke-linecap="round" stroke-linejoin="round" d="M304.3 765.5 L301.8 771.5"/>
<path fill="none" stroke="#b048f8" stroke-width="3.0" stroke-linecap="round" stroke-linejoin="round" d="M229.5 691.5 L236.0 689.0 L244.5 686.5"/>
<path fill="none" stroke="#b048f8" stroke-width="2.2" stroke-linecap="round" stroke-linejoin="round" d="M247.5 686.0 L254.0 684.8"/>
<path fill="#b048f8" d="M355.5 624.0 L359.0 621.0 L362.0 620.5 L366.0 618.5 L368.5 618.0 L371.0 621.0 L373.5 627.0 L375.8 634.5 L372.0 637.0 L368.0 636.5 L364.0 635.5 L361.0 632.5 L358.0 629.5Z"/>
<path fill="#a020ff" d="M360.0 627.0 L363.0 623.0 L367.0 622.0 L370.0 624.0 L372.5 629.0 L374.5 634.0 L371.0 635.0 L367.0 634.0 L363.0 632.0Z"/>
<path fill="#e070e8" d="M363.0 628.0 L365.0 624.5 L368.0 624.5 L370.0 627.5 L371.5 630.0 L373.0 633.0 L370.0 633.0 L366.0 632.0 L363.5 630.5Z"/>
<path fill="#b048f8" d="M365.5 627.0 L366.5 625.8 L367.8 627.0 L367.2 629.5 L365.8 629.5Z"/>
<path fill="none" stroke="#ff4800" stroke-width="2.2" stroke-linecap="round" stroke-linejoin="round" d="M367.0 638.0 L368.0 642.5"/>
<path fill="none" stroke="#fff000" stroke-width="2.0" stroke-linecap="round" stroke-linejoin="round" d="M370.5 638.0 L371.0 643.0"/>
<path fill="none" stroke="#ffa010" stroke-width="2.5" stroke-linecap="round" stroke-linejoin="round" d="M369.5 656.5 L373.5 651.0 L376.5 647.0"/>
<path fill="none" stroke="#fff000" stroke-width="2.0" stroke-linecap="round" stroke-linejoin="round" d="M370.0 655.0 L373.0 656.0"/>
<path fill="none" stroke="#fff000" stroke-width="1.5" stroke-linecap="round" stroke-linejoin="round" d="M339.0 656.0 L339.0 659.5"/>
<rect x="337" y="786" width="1.3" height="1.3" fill="#fff000"/>
<rect x="337" y="788" width="1.3" height="1.3" fill="#ffd000"/>
<rect x="338" y="783" width="1.3" height="1.3" fill="#ffd000"/>
<rect x="338" y="784" width="1.3" height="1.3" fill="#ffa010"/>
<rect x="338" y="785" width="1.3" height="1.3" fill="#c8ff30"/>
<rect x="338" y="786" width="1.3" height="1.3" fill="#fff000"/>
<rect x="338" y="787" width="1.3" height="1.3" fill="#fff000"/>
<rect x="338" y="788" width="1.3" height="1.3" fill="#fff000"/>
<rect x="339" y="782" width="1.3" height="1.3" fill="#fff000"/>
<rect x="339" y="784" width="1.3" height="1.3" fill="#ffa010"/>
<rect x="339" y="785" width="1.3" height="1.3" fill="#ffd000"/>
<rect x="339" y="786" width="1.3" height="1.3" fill="#fff000"/>
<rect x="339" y="787" width="1.3" height="1.3" fill="#fff000"/>
<rect x="339" y="788" width="1.3" height="1.3" fill="#fff000"/>
<rect x="339" y="789" width="1.3" height="1.3" fill="#ffd000"/>
<rect x="340" y="780" width="1.3" height="1.3" fill="#fff000"/>
<rect x="340" y="781" width="1.3" height="1.3" fill="#ffa010"/>
<rect x="340" y="782" width="1.3" height="1.3" fill="#ffd000"/>
<rect x="340" y="785" width="1.3" height="1.3" fill="#fff000"/>
<rect x="340" y="787" width="1.3" height="1.3" fill="#fff000"/>
<rect x="341" y="780" width="1.3" height="1.3" fill="#c8ff30"/>
<rect x="341" y="783" width="1.3" height="1.3" fill="#fff000"/>
<rect x="341" y="784" width="1.3" height="1.3" fill="#fff000"/>
<rect x="341" y="785" width="1.3" height="1.3" fill="#fff000"/>
<rect x="341" y="786" width="1.3" height="1.3" fill="#fff000"/>
<rect x="342" y="776" width="1.3" height="1.3" fill="#ffa010"/>
<rect x="342" y="777" width="1.3" height="1.3" fill="#ffd000"/>
<rect x="342" y="778" width="1.3" height="1.3" fill="#c8ff30"/>
<rect x="342" y="779" width="1.3" height="1.3" fill="#fff000"/>
<rect x="342" y="780" width="1.3" height="1.3" fill="#fff000"/>
<rect x="342" y="781" width="1.3" height="1.3" fill="#ffd000"/>
<rect x="342" y="783" width="1.3" height="1.3" fill="#ffa010"/>
<rect x="342" y="784" width="1.3" height="1.3" fill="#fff000"/>
<rect x="343" y="776" width="1.3" height="1.3" fill="#ffd000"/>
<rect x="343" y="778" width="1.3" height="1.3" fill="#fff000"/>
<rect x="343" y="779" width="1.3" height="1.3" fill="#fff000"/>
<rect x="345" y="777" width="1.3" height="1.3" fill="#fff000"/>
<rect x="329" y="800" width="1.3" height="1.3" fill="#c8ff30"/>
<rect x="330" y="798" width="1.3" height="1.3" fill="#fff000"/>
<rect x="330" y="799" width="1.3" height="1.3" fill="#fff000"/>
<rect x="331" y="798" width="1.3" height="1.3" fill="#c8ff30"/>
<rect x="331" y="799" width="1.3" height="1.3" fill="#c8ff30"/>
<rect x="331" y="801" width="1.3" height="1.3" fill="#c8ff30"/>
<rect x="332" y="795" width="1.3" height="1.3" fill="#ffa010"/>
<rect x="332" y="796" width="1.3" height="1.3" fill="#fff000"/>
<rect x="332" y="798" width="1.3" height="1.3" fill="#ffa010"/>
<rect x="332" y="799" width="1.3" height="1.3" fill="#ffa010"/>
<rect x="332" y="802" width="1.3" height="1.3" fill="#fff000"/>
<rect x="333" y="793" width="1.3" height="1.3" fill="#ffd000"/>
<rect x="333" y="794" width="1.3" height="1.3" fill="#fff000"/>
<rect x="333" y="796" width="1.3" height="1.3" fill="#c8ff30"/>
<rect x="333" y="797" width="1.3" height="1.3" fill="#ffa010"/>
<rect x="333" y="799" width="1.3" height="1.3" fill="#fff000"/>
<rect x="333" y="800" width="1.3" height="1.3" fill="#ffa010"/>
<rect x="334" y="791" width="1.3" height="1.3" fill="#fff000"/>
<rect x="334" y="792" width="1.3" height="1.3" fill="#c8ff30"/>
<rect x="334" y="793" width="1.3" height="1.3" fill="#fff000"/>
<rect x="334" y="794" width="1.3" height="1.3" fill="#c8ff30"/>
<rect x="334" y="798" width="1.3" height="1.3" fill="#fff000"/>
<rect x="334" y="799" width="1.3" height="1.3" fill="#c8ff30"/>
<rect x="335" y="790" width="1.3" height="1.3" fill="#ffd000"/>
<rect x="335" y="791" width="1.3" height="1.3" fill="#ffd000"/>
<rect x="335" y="792" width="1.3" height="1.3" fill="#c8ff30"/>
<rect x="335" y="795" width="1.3" height="1.3" fill="#ffa010"/>
<rect x="336" y="788" width="1.3" height="1.3" fill="#c8ff30"/>
<rect x="336" y="790" width="1.3" height="1.3" fill="#ffd000"/>
<rect x="336" y="791" width="1.3" height="1.3" fill="#fff000"/>
<rect x="336" y="792" width="1.3" height="1.3" fill="#fff000"/>
<rect x="337" y="789" width="1.3" height="1.3" fill="#fff000"/>
<rect x="337" y="790" width="1.3" height="1.3" fill="#c8ff30"/>
<rect x="337" y="791" width="1.3" height="1.3" fill="#ffa010"/>
<rect x="337" y="793" width="1.3" height="1.3" fill="#fff000"/>
<rect x="338" y="789" width="1.3" height="1.3" fill="#ffa010"/>
<rect x="338" y="791" width="1.3" height="1.3" fill="#fff000"/>
<rect x="339" y="790" width="1.3" height="1.3" fill="#ffd000"/>
<rect x="323" y="810" width="1.3" height="1.3" fill="#ffa010"/>
<rect x="325" y="807" width="1.3" height="1.3" fill="#fff000"/>
<rect x="325" y="809" width="1.3" height="1.3" fill="#ffa010"/>
<rect x="325" y="811" width="1.3" height="1.3" fill="#fff000"/>
<rect x="325" y="812" width="1.3" height="1.3" fill="#ffd000"/>
<rect x="326" y="805" width="1.3" height="1.3" fill="#fff000"/>
<rect x="326" y="806" width="1.3" height="1.3" fill="#fff000"/>
<rect x="326" y="809" width="1.3" height="1.3" fill="#fff000"/>
<rect x="327" y="804" width="1.3" height="1.3" fill="#fff000"/>
<rect x="327" y="806" width="1.3" height="1.3" fill="#fff000"/>
<rect x="327" y="807" width="1.3" height="1.3" fill="#ffd000"/>
<rect x="327" y="808" width="1.3" height="1.3" fill="#fff000"/>
<rect x="327" y="811" width="1.3" height="1.3" fill="#fff000"/>
<rect x="328" y="802" width="1.3" height="1.3" fill="#ffd000"/>
<rect x="328" y="803" width="1.3" height="1.3" fill="#c8ff30"/>
<rect x="328" y="805" width="1.3" height="1.3" fill="#fff000"/>
<rect x="329" y="802" width="1.3" height="1.3" fill="#fff000"/>
<rect x="329" y="803" width="1.3" height="1.3" fill="#ffa010"/>
<rect x="329" y="804" width="1.3" height="1.3" fill="#ffa010"/>
<rect x="329" y="805" width="1.3" height="1.3" fill="#fff000"/>
<rect x="329" y="807" width="1.3" height="1.3" fill="#fff000"/>
<rect x="330" y="802" width="1.3" height="1.3" fill="#fff000"/>
<rect x="330" y="803" width="1.3" height="1.3" fill="#fff000"/>
<rect x="331" y="802" width="1.3" height="1.3" fill="#fff000"/>
<rect x="331" y="803" width="1.3" height="1.3" fill="#fff000"/>
<rect x="319" y="816" width="1.3" height="1.3" fill="#fff000"/>
<rect x="319" y="817" width="1.3" height="1.3" fill="#fff000"/>
<rect x="319" y="818" width="1.3" height="1.3" fill="#fff000"/>
<rect x="320" y="817" width="1.3" height="1.3" fill="#fff000"/>
<rect x="320" y="819" width="1.3" height="1.3" fill="#c8ff30"/>
<rect x="321" y="814" width="1.3" height="1.3" fill="#ffa010"/>
<rect x="321" y="816" width="1.3" height="1.3" fill="#fff000"/>
<rect x="321" y="819" width="1.3" height="1.3" fill="#fff000"/>
<rect x="322" y="813" width="1.3" height="1.3" fill="#fff000"/>
<rect x="322" y="816" width="1.3" height="1.3" fill="#ffa010"/>
<rect x="322" y="817" width="1.3" height="1.3" fill="#fff000"/>
<rect x="322" y="818" width="1.3" height="1.3" fill="#fff000"/>
<rect x="323" y="814" width="1.3" height="1.3" fill="#fff000"/>
<rect x="324" y="813" width="1.3" height="1.3" fill="#c8ff30"/>
<rect x="324" y="814" width="1.3" height="1.3" fill="#fff000"/>
<rect x="325" y="813" width="1.3" height="1.3" fill="#fff000"/>
<rect x="325" y="814" width="1.3" height="1.3" fill="#c8ff30"/>
<path fill="none" stroke="#ffd000" stroke-width="2.2" stroke-linecap="round" stroke-linejoin="round" d="M342.6 778.5 L339.5 785.5"/>
<path fill="none" stroke="#ff3000" stroke-width="2.6" stroke-linecap="round" stroke-linejoin="round" d="M336.8 790.5 L333.0 798.5"/>
<path fill="none" stroke="#ffd000" stroke-width="2.2" stroke-linecap="round" stroke-linejoin="round" d="M330.5 802.0 L326.5 809.5"/>
<path fill="none" stroke="#ffa010" stroke-width="2.0" stroke-linecap="round" stroke-linejoin="round" d="M324.5 812.5 L321.2 817.8"/>
<path fill="#fff000" d="M339.5 792.0 L341.5 790.5 L343.8 791.5 L343.5 795.5 L341.5 798.0 L339.5 797.0Z"/>
<path fill="#ff00e8" d="M338.5 790.0 L340.0 789.5 L341.0 798.5 L339.0 799.0Z"/>
<path fill="none" stroke="#fff000" stroke-width="2.0" stroke-linecap="round" stroke-linejoin="round" d="M308.8 842.8 L312.2 839.3"/>
<path fill="none" stroke="#c8ff30" stroke-width="2.2" stroke-linecap="round" stroke-linejoin="round" d="M294.8 856.8 L299.5 852.5"/>
<rect x="327.0" y="784.8" width="2.3" height="4.7" fill="#fff000"/>
<rect x="333.4" y="783.7" width="2.9" height="4.6" fill="#fff000"/>
<rect x="344.5" y="780.0" width="1.8" height="4.0" fill="#c8ff30"/>
<rect x="319.4" y="796.0" width="2.9" height="5.0" fill="#fff000"/>
<rect x="327.6" y="796.5" width="1.7" height="2.3" fill="#ff3000"/>
<rect x="331.7" y="805.8" width="2.9" height="3.5" fill="#fff000"/>
<rect x="325.3" y="814.0" width="4.0" height="4.7" fill="#ffd000"/>
<rect x="312.4" y="809.3" width="1.8" height="3.0" fill="#ffa010"/>
<rect x="320.0" y="809.3" width="1.8" height="1.7" fill="#ff4800"/>
<rect x="316.5" y="821.0" width="2.3" height="2.3" fill="#c8ff30"/>
<rect x="294.3" y="801.0" width="3.5" height="3.7" fill="#c8ff30"/>
<rect x="302.5" y="791.3" width="2.3" height="1.2" fill="#ffd000"/>
<rect x="308.3" y="779.0" width="2.4" height="3.5" fill="#fff000"/>
<rect x="297.3" y="775.0" width="2.3" height="4.0" fill="#fff000"/>
<rect x="299.0" y="782.5" width="1.8" height="1.8" fill="#ff3000"/>
<rect x="347.0" y="592.0" width="1.5" height="2.5" fill="#fff000"/>
<rect x="287.2" y="650.0" width="1.4" height="3.0" fill="#ff00e8"/>
<rect x="339.0" y="655.4" width="1.5" height="4.2" fill="#fff000"/>
<rect x="331.0" y="665.6" width="1.8" height="2.4" fill="#fff000"/>
<rect x="341.8" y="666.2" width="1.5" height="6.0" fill="#fff000"/>
<rect x="332.8" y="676.4" width="1.5" height="3.0" fill="#fff000"/>
<rect x="329.8" y="680.0" width="1.5" height="1.5" fill="#58d000"/>
<rect x="342.5" y="678.8" width="1.8" height="3.6" fill="#ffd000"/>
<rect x="333.5" y="685.4" width="1.6" height="4.8" fill="#ff3000"/>
<rect x="330.5" y="689.6" width="2.0" height="2.4" fill="#ff00e8"/>
<rect x="333.5" y="695.0" width="1.6" height="3.0" fill="#ff3000"/>
<rect x="344.5" y="702.3" width="1.2" height="1.5" fill="#ffd000"/>
<rect x="333.5" y="707.6" width="1.6" height="2.4" fill="#ffa010"/>
<rect x="324.5" y="715.4" width="1.2" height="1.5" fill="#fff000"/>
<rect x="331.0" y="636.0" width="1.5" height="3.5" fill="#ffd000"/>
<rect x="332.0" y="642.0" width="1.5" height="3.0" fill="#fff000"/>
<rect x="330.0" y="645.0" width="1.5" height="1.5" fill="#c8ff30"/>
<rect x="214.5" y="652.5" width="2.0" height="2.0" fill="#ffa010"/>
<rect x="215.5" y="654.5" width="2.5" height="2.5" fill="#ff4800"/>
<rect x="217.5" y="653.0" width="2.0" height="1.5" fill="#ffd000"/>
<rect x="221.0" y="651.0" width="2.0" height="1.0" fill="#fff000"/>
<rect x="228.5" y="649.5" width="1.2" height="2.0" fill="#c8ff30"/>
<rect x="230.5" y="651.5" width="1.0" height="2.0" fill="#ffd000"/>
<rect x="211.0" y="660.0" width="2.0" height="1.0" fill="#ffa010"/>
<rect x="218.2" y="660.0" width="2.0" height="2.0" fill="#fff000"/>
<rect x="227.0" y="661.0" width="1.0" height="2.0" fill="#ffd000"/>
<rect x="226.5" y="670.5" width="1.6" height="1.6" fill="#c8ff30"/>
<rect x="227.5" y="675.8" width="1.8" height="1.0" fill="#ffd000"/>
<rect x="215.0" y="678.0" width="2.0" height="1.0" fill="#ffa010"/>
<rect x="224.5" y="678.5" width="3.0" height="3.0" fill="#ffa010"/>
<rect x="227.5" y="678.0" width="2.0" height="3.5" fill="#ff3000"/>
<rect x="229.0" y="680.0" width="1.5" height="1.5" fill="#ffd000"/>
<rect x="188.0" y="682.5" width="1.2" height="1.2" fill="#fff000"/>
<rect x="199.0" y="711.0" width="1.5" height="1.5" fill="#fff000"/>
<rect x="193.0" y="716.0" width="1.5" height="2.0" fill="#c8ff30"/>
<rect x="188.0" y="720.0" width="1.2" height="1.2" fill="#fff000"/>
<rect x="218.0" y="711.0" width="1.2" height="1.5" fill="#ffd000"/>
<rect x="213.0" y="713.0" width="1.5" height="1.5" fill="#ffa010"/>
<rect x="219.0" y="716.0" width="1.5" height="1.5" fill="#fff000"/></g></g>
   <g id="matplotlib.axis_3">
    <g id="xtick_7">
     <g id="line2d_12">
      <path d="M 112.77 504.54 
L 255.28 422.26 
" clip-path="url(#p5e135e1991)" style="fill: none; stroke: #b0b0b0; stroke-width: 0.8; stroke-linecap: square"/>
     </g>
     <g id="text_13">
      <text style="white-space: pre; font-size: 10px; font-family: 'DejaVu Sans', 'Liberation Sans', sans-serif; text-anchor: middle" x="267.40" y="418.02">60°</text>
     </g>
    </g>
    <g id="xtick_8">
     <g id="line2d_13">
      <path d="M 112.77 504.54 
L 271.72 461.95 
" clip-path="url(#p5e135e1991)" style="fill: none; stroke: #b0b0b0; stroke-width: 0.8; stroke-linecap: square"/>
     </g>
     <g id="text_14">
      <text style="white-space: pre; font-size: 10px; font-family: 'DejaVu Sans', 'Liberation Sans', sans-serif; text-anchor: middle" x="285.24" y="461.09">75°</text>
     </g>
    </g>
    <g id="xtick_9">
     <g id="line2d_14">
      <path d="M 112.77 504.54 
L 277.32 504.54 
" clip-path="url(#p5e135e1991)" style="fill: none; stroke: #b0b0b0; stroke-width: 0.8; stroke-linecap: square"/>
     </g>
     <g id="text_15">
      <text style="white-space: pre; font-size: 10px; font-family: 'DejaVu Sans', 'Liberation Sans', sans-serif; text-anchor: middle" x="291.32" y="507.30">90°</text>
     </g>
    </g>
    <g id="xtick_10">
     <g id="line2d_15">
      <path d="M 112.77 504.54 
L 271.72 547.13 
" clip-path="url(#p5e135e1991)" style="fill: none; stroke: #b0b0b0; stroke-width: 0.8; stroke-linecap: square"/>
     </g>
     <g id="text_16">
      <text style="white-space: pre; font-size: 10px; font-family: 'DejaVu Sans', 'Liberation Sans', sans-serif; text-anchor: middle" x="285.24" y="553.51">105°</text>
     </g>
    </g>
    <g id="xtick_11">
     <g id="line2d_16">
      <path d="M 112.77 504.54 
L 255.28 586.81 
" clip-path="url(#p5e135e1991)" style="fill: none; stroke: #b0b0b0; stroke-width: 0.8; stroke-linecap: square"/>
     </g>
     <g id="text_17">
      <text style="white-space: pre; font-size: 10px; font-family: 'DejaVu Sans', 'Liberation Sans', sans-serif; text-anchor: middle" x="267.40" y="596.57">120°</text>
     </g>
    </g>
    <g id="xtick_12">
     <g id="line2d_17">
      <path d="M 112.77 504.54 
L 229.13 620.89 
" clip-path="url(#p5e135e1991)" style="fill: none; stroke: #b0b0b0; stroke-width: 0.8; stroke-linecap: square"/>
     </g>
     <g id="text_18">
      <text style="white-space: pre; font-size: 10px; font-family: 'DejaVu Sans', 'Liberation Sans', sans-serif; text-anchor: middle" x="239.03" y="633.55">135°</text>
     </g>
    </g>
   </g>
   <g id="matplotlib.axis_4">
    <g id="ytick_6">
     <g id="line2d_18">
      <path d="M 129.14 488.34 
C 131.52 490.74 133.35 493.64 134.48 496.83 
C 135.61 500.02 136.03 503.42 135.70 506.79 
C 135.37 510.15 134.30 513.41 132.57 516.31 
C 130.84 519.22 128.49 521.71 125.69 523.61 
" clip-path="url(#p5e135e1991)" style="fill: none; stroke: #b0b0b0; stroke-width: 0.8; stroke-linecap: square"/>
     </g>
     <g id="text_19">
      <text style="white-space: pre; font-size: 10px; font-family: 'DejaVu Sans', 'Liberation Sans', sans-serif; text-anchor: end" x="124.22" y="481.28">5000</text>
     </g>
    </g>
    <g id="ytick_7">
     <g id="line2d_19">
      <path d="M 149.37 468.33 
C 154.68 473.70 158.75 480.19 161.29 487.31 
C 163.82 494.44 164.75 502.04 164.01 509.56 
C 163.27 517.09 160.88 524.36 157.02 530.86 
C 153.15 537.36 147.90 542.93 141.64 547.17 
" clip-path="url(#p5e135e1991)" style="fill: none; stroke: #b0b0b0; stroke-width: 0.8; stroke-linecap: square"/>
     </g>
     <g id="text_20">
      <text style="white-space: pre; font-size: 10px; font-family: 'DejaVu Sans', 'Liberation Sans', sans-serif; text-anchor: end" x="144.44" y="461.27">10000</text>
     </g>
    </g>
    <g id="ytick_8">
     <g id="line2d_20">
      <path d="M 169.59 448.32 
C 177.85 456.66 184.16 466.73 188.09 477.79 
C 192.02 488.86 193.47 500.65 192.32 512.34 
C 191.17 524.02 187.47 535.31 181.46 545.40 
C 175.46 555.50 167.31 564.14 157.58 570.72 
" clip-path="url(#p5e135e1991)" style="fill: none; stroke: #b0b0b0; stroke-width: 0.8; stroke-linecap: square"/>
     </g>
     <g id="text_21">
      <text style="white-space: pre; font-size: 10px; font-family: 'DejaVu Sans', 'Liberation Sans', sans-serif; text-anchor: end" x="164.66" y="441.26">15000</text>
     </g>
    </g>
    <g id="ytick_9">
     <g id="line2d_21">
      <path d="M 189.81 428.31 
C 201.01 439.62 209.57 453.27 214.90 468.27 
C 220.23 483.28 222.19 499.27 220.63 515.11 
C 219.08 530.96 214.05 546.27 205.91 559.95 
C 197.77 573.63 186.72 585.35 173.53 594.28 
" clip-path="url(#p5e135e1991)" style="fill: none; stroke: #b0b0b0; stroke-width: 0.8; stroke-linecap: square"/>
     </g>
     <g id="text_22">
      <text style="white-space: pre; font-size: 10px; font-family: 'DejaVu Sans', 'Liberation Sans', sans-serif; text-anchor: end" x="184.88" y="421.25">20000</text>
     </g>
    </g>
    <g id="ytick_10">
     <g id="line2d_22">
      <path d="M 210.03 408.30 
C 224.17 422.58 234.98 439.81 241.71 458.75 
C 248.44 477.69 250.91 497.89 248.94 517.89 
C 246.98 537.89 240.64 557.22 230.36 574.50 
C 220.08 591.77 206.13 606.57 189.48 617.84 
" clip-path="url(#p5e135e1991)" style="fill: none; stroke: #b0b0b0; stroke-width: 0.8; stroke-linecap: square"/>
     </g>
     <g id="text_23">
      <text style="white-space: pre; font-size: 10px; font-family: 'DejaVu Sans', 'Liberation Sans', sans-serif; text-anchor: end" x="205.10" y="401.24">25000</text>
     </g>
    </g>
   </g>
   <g id="patch_7">
    <path d="M 205.03 640.8 
C 225.04 627.24 241.83 609.45 254.19 588.67 
C 266.55 567.90 274.18 544.65 276.54 520.60 
C 278.90 496.54 275.93 472.25 267.84 449.48 
C 259.75 426.70 246.74 405.98 229.74 388.8 
" style="fill: none; stroke: #000000; stroke-width: 0.9; stroke-linejoin: miter; stroke-linecap: square"/>
   </g>
   <g id="patch_8">
    <path d="M 112.77 504.54 
L 229.74 388.8 
" style="fill: none; stroke: #000000; stroke-width: 0.9; stroke-linejoin: miter; stroke-linecap: square"/>
   </g>
   <g id="patch_9">
    <path d="M 112.77 504.54 
L 205.03 640.8 
" style="fill: none; stroke: #000000; stroke-width: 0.9; stroke-linejoin: miter; stroke-linecap: square"/>
   </g>
   <g id="text_24">
    <text style="white-space: pre; font-size: 12px; font-family: 'DejaVu Sans', 'Liberation Sans', sans-serif; text-anchor: middle" x="195.84" y="382.8">Velocity</text>
   </g>
  </g>
  <g id="axes_3">
   <g id="patch_10">
    <path d="M 338.58 338.4 
L 351.18 338.4 
L 351.18 86.4 
L 338.58 86.4 
z
" style="fill: #ffffff"/>
   </g>
   <g id="QuadMesh_1">
    <path d="M 338.75 338.4 
L 351.7 338.4 
L 351.7 335.88 
L 338.75 335.88 
L 338.75 338.4 
" style="fill: #001860; stroke: #001860; stroke-width: 0.4"/>
    <path d="M 338.75 335.88 
L 351.7 335.88 
L 351.7 333.36 
L 338.75 333.36 
L 338.75 335.88 
" style="fill: #001c5a; stroke: #001c5a; stroke-width: 0.4"/>
    <path d="M 338.75 333.36 
L 351.7 333.36 
L 351.7 330.84 
L 338.75 330.84 
L 338.75 333.36 
" style="fill: #002a44; stroke: #002a44; stroke-width: 0.4"/>
    <path d="M 338.75 330.84 
L 351.7 330.84 
L 351.7 328.32 
L 338.75 328.32 
L 338.75 330.84 
" style="fill: #00382e; stroke: #00382e; stroke-width: 0.4"/>
    <path d="M 338.75 328.32 
L 351.7 328.32 
L 351.7 325.8 
L 338.75 325.8 
L 338.75 328.32 
" style="fill: #00402d; stroke: #00402d; stroke-width: 0.4"/>
    <path d="M 338.75 325.8 
L 351.7 325.8 
L 351.7 323.28 
L 338.75 323.28 
L 338.75 325.8 
" style="fill: #004433; stroke: #004433; stroke-width: 0.4"/>
    <path d="M 338.75 323.28 
L 351.7 323.28 
L 351.7 320.76 
L 338.75 320.76 
L 338.75 323.28 
" style="fill: #004442; stroke: #004442; stroke-width: 0.4"/>
    <path d="M 338.75 320.76 
L 351.7 320.76 
L 351.7 318.24 
L 338.75 318.24 
L 338.75 320.76 
" style="fill: #00346c; stroke: #00346c; stroke-width: 0.4"/>
    <path d="M 338.75 318.24 
L 351.7 318.24 
L 351.7 315.72 
L 338.75 315.72 
L 338.75 318.24 
" style="fill: #002496; stroke: #002496; stroke-width: 0.4"/>
    <path d="M 338.75 315.72 
L 351.7 315.72 
L 351.7 313.2 
L 338.75 313.2 
L 338.75 315.72 
" style="fill: #001bbc; stroke: #001bbc; stroke-width: 0.4"/>
    <path d="M 338.75 313.2 
L 351.7 313.2 
L 351.7 310.68 
L 338.75 310.68 
L 338.75 313.2 
" style="fill: #0015e3; stroke: #0015e3; stroke-width: 0.4"/>
    <path d="M 338.75 310.68 
L 351.7 310.68 
L 351.7 308.16 
L 338.75 308.16 
L 338.75 310.68 
" style="fill: #001aff; stroke: #001aff; stroke-width: 0.4"/>
    <path d="M 338.75 308.16 
L 351.7 308.16 
L 351.7 305.64 
L 338.75 305.64 
L 338.75 308.16 
" style="fill: #0040ff; stroke: #0040ff; stroke-width: 0.4"/>
    <path d="M 338.75 305.64 
L 351.7 305.64 
L 351.7 303.12 
L 338.75 303.12 
L 338.75 305.64 
" style="fill: #0066ff; stroke: #0066ff; stroke-width: 0.4"/>
    <path d="M 338.75 303.12 
L 351.7 303.12 
L 351.7 300.6 
L 338.75 300.6 
L 338.75 303.12 
" style="fill: #0086ff; stroke: #0086ff; stroke-width: 0.4"/>
    <path d="M 338.75 300.6 
L 351.7 300.6 
L 351.7 298.08 
L 338.75 298.08 
L 338.75 300.6 
" style="fill: #00a2ff; stroke: #00a2ff; stroke-width: 0.4"/>
    <path d="M 338.75 298.08 
L 351.7 298.08 
L 351.7 295.56 
L 338.75 295.56 
L 338.75 298.08 
" style="fill: #00bcff; stroke: #00bcff; stroke-width: 0.4"/>
    <path d="M 338.75 295.56 
L 351.7 295.56 
L 351.7 293.04 
L 338.75 293.04 
L 338.75 295.56 
" style="fill: #00ccff; stroke: #00ccff; stroke-width: 0.4"/>
    <path d="M 338.75 293.04 
L 351.7 293.04 
L 351.7 290.52 
L 338.75 290.52 
L 338.75 293.04 
" style="fill: #00dcff; stroke: #00dcff; stroke-width: 0.4"/>
    <path d="M 338.75 290.52 
L 351.7 290.52 
L 351.7 288 
L 338.75 288 
L 338.75 290.52 
" style="fill: #00e9fa; stroke: #00e9fa; stroke-width: 0.4"/>
    <path d="M 338.75 288 
L 351.7 288 
L 351.7 285.48 
L 338.75 285.48 
L 338.75 288 
" style="fill: #00f6f3; stroke: #00f6f3; stroke-width: 0.4"/>
    <path d="M 338.75 285.48 
L 351.7 285.48 
L 351.7 282.96 
L 338.75 282.96 
L 338.75 285.48 
" style="fill: #00fee9; stroke: #00fee9; stroke-width: 0.4"/>
    <path d="M 338.75 282.96 
L 351.7 282.96 
L 351.7 280.44 
L 338.75 280.44 
L 338.75 282.96 
" style="fill: #00f8d7; stroke: #00f8d7; stroke-width: 0.4"/>
    <path d="M 338.75 280.44 
L 351.7 280.44 
L 351.7 277.92 
L 338.75 277.92 
L 338.75 280.44 
" style="fill: #00f2c5; stroke: #00f2c5; stroke-width: 0.4"/>
    <path d="M 338.75 277.92 
L 351.7 277.92 
L 351.7 275.4 
L 338.75 275.4 
L 338.75 277.92 
" style="fill: #00f0b2; stroke: #00f0b2; stroke-width: 0.4"/>
    <path d="M 338.75 275.4 
L 351.7 275.4 
L 351.7 272.88 
L 338.75 272.88 
L 338.75 275.4 
" style="fill: #00f09e; stroke: #00f09e; stroke-width: 0.4"/>
    <path d="M 338.75 272.88 
L 351.7 272.88 
L 351.7 270.36 
L 338.75 270.36 
L 338.75 272.88 
" style="fill: #00f28b; stroke: #00f28b; stroke-width: 0.4"/>
    <path d="M 338.75 270.36 
L 351.7 270.36 
L 351.7 267.84 
L 338.75 267.84 
L 338.75 270.36 
" style="fill: #00f878; stroke: #00f878; stroke-width: 0.4"/>
    <path d="M 338.75 267.84 
L 351.7 267.84 
L 351.7 265.32 
L 338.75 265.32 
L 338.75 267.84 
" style="fill: #00fd65; stroke: #00fd65; stroke-width: 0.4"/>
    <path d="M 338.75 265.32 
L 351.7 265.32 
L 351.7 262.8 
L 338.75 262.8 
L 338.75 265.32 
" style="fill: #05ff4d; stroke: #05ff4d; stroke-width: 0.4"/>
    <path d="M 338.75 262.8 
L 351.7 262.8 
L 351.7 260.28 
L 338.75 260.28 
L 338.75 262.8 
" style="fill: #0bff33; stroke: #0bff33; stroke-width: 0.4"/>
    <path d="M 338.75 260.28 
L 351.7 260.28 
L 351.7 257.76 
L 338.75 257.76 
L 338.75 260.28 
" style="fill: #13fd1d; stroke: #13fd1d; stroke-width: 0.4"/>
    <path d="M 338.75 257.76 
L 351.7 257.76 
L 351.7 255.24 
L 338.75 255.24 
L 338.75 257.76 
" style="fill: #20f610; stroke: #20f610; stroke-width: 0.4"/>
    <path d="M 338.75 255.24 
L 351.7 255.24 
L 351.7 252.72 
L 338.75 252.72 
L 338.75 255.24 
" style="fill: #2dee03; stroke: #2dee03; stroke-width: 0.4"/>
    <path d="M 338.75 252.72 
L 351.7 252.72 
L 351.7 250.2 
L 338.75 250.2 
L 338.75 252.72 
" style="fill: #3ce400; stroke: #3ce400; stroke-width: 0.4"/>
    <path d="M 338.75 250.2 
L 351.7 250.2 
L 351.7 247.68 
L 338.75 247.68 
L 338.75 250.2 
" style="fill: #4cd800; stroke: #4cd800; stroke-width: 0.4"/>
    <path d="M 338.75 247.68 
L 351.7 247.68 
L 351.7 245.16 
L 338.75 245.16 
L 338.75 247.68 
" style="fill: #5ad100; stroke: #5ad100; stroke-width: 0.4"/>
    <path d="M 338.75 245.16 
L 351.7 245.16 
L 351.7 242.64 
L 338.75 242.64 
L 338.75 245.16 
" style="fill: #62d600; stroke: #62d600; stroke-width: 0.4"/>
    <path d="M 338.75 242.64 
L 351.7 242.64 
L 351.7 240.12 
L 338.75 240.12 
L 338.75 242.64 
" style="fill: #6adb00; stroke: #6adb00; stroke-width: 0.4"/>
    <path d="M 338.75 240.12 
L 351.7 240.12 
L 351.7 237.6 
L 338.75 237.6 
L 338.75 240.12 
" style="fill: #70e200; stroke: #70e200; stroke-width: 0.4"/>
    <path d="M 338.75 237.6 
L 351.7 237.6 
L 351.7 235.08 
L 338.75 235.08 
L 338.75 237.6 
" style="fill: #74ea00; stroke: #74ea00; stroke-width: 0.4"/>
    <path d="M 338.75 235.08 
L 351.7 235.08 
L 351.7 232.56 
L 338.75 232.56 
L 338.75 235.08 
" style="fill: #7af103; stroke: #7af103; stroke-width: 0.4"/>
    <path d="M 338.75 232.56 
L 351.7 232.56 
L 351.7 230.04 
L 338.75 230.04 
L 338.75 232.56 
" style="fill: #84f810; stroke: #84f810; stroke-width: 0.4"/>
    <path d="M 338.75 230.04 
L 351.7 230.04 
L 351.7 227.52 
L 338.75 227.52 
L 338.75 230.04 
" style="fill: #8efd1d; stroke: #8efd1d; stroke-width: 0.4"/>
    <path d="M 338.75 227.52 
L 351.7 227.52 
L 351.7 225 
L 338.75 225 
L 338.75 227.52 
" style="fill: #97ff25; stroke: #97ff25; stroke-width: 0.4"/>
    <path d="M 338.75 225 
L 351.7 225 
L 351.7 222.48 
L 338.75 222.48 
L 338.75 225 
" style="fill: #a1ff2b; stroke: #a1ff2b; stroke-width: 0.4"/>
    <path d="M 338.75 222.48 
L 351.7 222.48 
L 351.7 219.96 
L 338.75 219.96 
L 338.75 222.48 
" style="fill: #abff30; stroke: #abff30; stroke-width: 0.4"/>
    <path d="M 338.75 219.96 
L 351.7 219.96 
L 351.7 217.44 
L 338.75 217.44 
L 338.75 219.96 
" style="fill: #b8ff30; stroke: #b8ff30; stroke-width: 0.4"/>
    <path d="M 338.75 217.44 
L 351.7 217.44 
L 351.7 214.92 
L 338.75 214.92 
L 338.75 217.44 
" style="fill: #c5ff30; stroke: #c5ff30; stroke-width: 0.4"/>
    <path d="M 338.75 214.92 
L 351.7 214.92 
L 351.7 212.4 
L 338.75 212.4 
L 338.75 214.92 
" style="fill: #d2ff26; stroke: #d2ff26; stroke-width: 0.4"/>
    <path d="M 338.75 212.4 
L 351.7 212.4 
L 351.7 209.88 
L 338.75 209.88 
L 338.75 212.4 
" style="fill: #e0ff1a; stroke: #e0ff1a; stroke-width: 0.4"/>
    <path d="M 338.75 209.88 
L 351.7 209.88 
L 351.7 207.36 
L 338.75 207.36 
L 338.75 209.88 
" style="fill: #ecfd0e; stroke: #ecfd0e; stroke-width: 0.4"/>
    <path d="M 338.75 207.36 
L 351.7 207.36 
L 351.7 204.84 
L 338.75 204.84 
L 338.75 207.36 
" style="fill: #f4f808; stroke: #f4f808; stroke-width: 0.4"/>
    <path d="M 338.75 204.84 
L 351.7 204.84 
L 351.7 202.32 
L 338.75 202.32 
L 338.75 204.84 
" style="fill: #fdf102; stroke: #fdf102; stroke-width: 0.4"/>
    <path d="M 338.75 202.32 
L 351.7 202.32 
L 351.7 199.8 
L 338.75 199.8 
L 338.75 202.32 
" style="fill: #ffea00; stroke: #ffea00; stroke-width: 0.4"/>
    <path d="M 338.75 199.8 
L 351.7 199.8 
L 351.7 197.28 
L 338.75 197.28 
L 338.75 199.8 
" style="fill: #ffe200; stroke: #ffe200; stroke-width: 0.4"/>
    <path d="M 338.75 197.28 
L 351.7 197.28 
L 351.7 194.76 
L 338.75 194.76 
L 338.75 197.28 
" style="fill: #ffdb00; stroke: #ffdb00; stroke-width: 0.4"/>
    <path d="M 338.75 194.76 
L 351.7 194.76 
L 351.7 192.24 
L 338.75 192.24 
L 338.75 194.76 
" style="fill: #ffd600; stroke: #ffd600; stroke-width: 0.4"/>
    <path d="M 338.75 192.24 
L 351.7 192.24 
L 351.7 189.72 
L 338.75 189.72 
L 338.75 192.24 
" style="fill: #ffd100; stroke: #ffd100; stroke-width: 0.4"/>
    <path d="M 338.75 189.72 
L 351.7 189.72 
L 351.7 187.2 
L 338.75 187.2 
L 338.75 189.72 
" style="fill: #ffcb05; stroke: #ffcb05; stroke-width: 0.4"/>
    <path d="M 338.75 187.2 
L 351.7 187.2 
L 351.7 184.68 
L 338.75 184.68 
L 338.75 187.2 
" style="fill: #ffc50b; stroke: #ffc50b; stroke-width: 0.4"/>
    <path d="M 338.75 184.68 
L 351.7 184.68 
L 351.7 182.16 
L 338.75 182.16 
L 338.75 184.68 
" style="fill: #ffbd10; stroke: #ffbd10; stroke-width: 0.4"/>
    <path d="M 338.75 182.16 
L 351.7 182.16 
L 351.7 179.64 
L 338.75 179.64 
L 338.75 182.16 
" style="fill: #ffb010; stroke: #ffb010; stroke-width: 0.4"/>
    <path d="M 338.75 179.64 
L 351.7 179.64 
L 351.7 177.12 
L 338.75 177.12 
L 338.75 179.64 
" style="fill: #ffa310; stroke: #ffa310; stroke-width: 0.4"/>
    <path d="M 338.75 177.12 
L 351.7 177.12 
L 351.7 174.6 
L 338.75 174.6 
L 338.75 177.12 
" style="fill: #ff920b; stroke: #ff920b; stroke-width: 0.4"/>
    <path d="M 338.75 174.6 
L 351.7 174.6 
L 351.7 172.08 
L 338.75 172.08 
L 338.75 174.6 
" style="fill: #ff7e05; stroke: #ff7e05; stroke-width: 0.4"/>
    <path d="M 338.75 172.08 
L 351.7 172.08 
L 351.7 169.56 
L 338.75 169.56 
L 338.75 172.08 
" style="fill: #ff6c00; stroke: #ff6c00; stroke-width: 0.4"/>
    <path d="M 338.75 169.56 
L 351.7 169.56 
L 351.7 167.04 
L 338.75 167.04 
L 338.75 169.56 
" style="fill: #ff5c00; stroke: #ff5c00; stroke-width: 0.4"/>
    <path d="M 338.75 167.04 
L 351.7 167.04 
L 351.7 164.52 
L 338.75 164.52 
L 338.75 167.04 
" style="fill: #ff4c00; stroke: #ff4c00; stroke-width: 0.4"/>
    <path d="M 338.75 164.52 
L 351.7 164.52 
L 351.7 162 
L 338.75 162 
L 338.75 164.52 
" style="fill: #ff4100; stroke: #ff4100; stroke-width: 0.4"/>
    <path d="M 338.75 162 
L 351.7 162 
L 351.7 159.48 
L 338.75 159.48 
L 338.75 162 
" style="fill: #ff3700; stroke: #ff3700; stroke-width: 0.4"/>
    <path d="M 338.75 159.48 
L 351.7 159.48 
L 351.7 156.96 
L 338.75 156.96 
L 338.75 159.48 
" style="fill: #ff2d00; stroke: #ff2d00; stroke-width: 0.4"/>
    <path d="M 338.75 156.96 
L 351.7 156.96 
L 351.7 154.44 
L 338.75 154.44 
L 338.75 156.96 
" style="fill: #ff2200; stroke: #ff2200; stroke-width: 0.4"/>
    <path d="M 338.75 154.44 
L 351.7 154.44 
L 351.7 151.92 
L 338.75 151.92 
L 338.75 154.44 
" style="fill: #ff1700; stroke: #ff1700; stroke-width: 0.4"/>
    <path d="M 338.75 151.92 
L 351.7 151.92 
L 351.7 149.4 
L 338.75 149.4 
L 338.75 151.92 
" style="fill: #ff1022; stroke: #ff1022; stroke-width: 0.4"/>
    <path d="M 338.75 149.4 
L 351.7 149.4 
L 351.7 146.88 
L 338.75 146.88 
L 338.75 149.4 
" style="fill: #ff0c4e; stroke: #ff0c4e; stroke-width: 0.4"/>
    <path d="M 338.75 146.88 
L 351.7 146.88 
L 351.7 144.36 
L 338.75 144.36 
L 338.75 146.88 
" style="fill: #ff077c; stroke: #ff077c; stroke-width: 0.4"/>
    <path d="M 338.75 144.36 
L 351.7 144.36 
L 351.7 141.84 
L 338.75 141.84 
L 338.75 144.36 
" style="fill: #ff04ac; stroke: #ff04ac; stroke-width: 0.4"/>
    <path d="M 338.75 141.84 
L 351.7 141.84 
L 351.7 139.32 
L 338.75 139.32 
L 338.75 141.84 
" style="fill: #ff01dc; stroke: #ff01dc; stroke-width: 0.4"/>
    <path d="M 338.75 139.32 
L 351.7 139.32 
L 351.7 136.8 
L 338.75 136.8 
L 338.75 139.32 
" style="fill: #f105ed; stroke: #f105ed; stroke-width: 0.4"/>
    <path d="M 338.75 136.8 
L 351.7 136.8 
L 351.7 134.28 
L 338.75 134.28 
L 338.75 136.8 
" style="fill: #de0bf3; stroke: #de0bf3; stroke-width: 0.4"/>
    <path d="M 338.75 134.28 
L 351.7 134.28 
L 351.7 131.76 
L 338.75 131.76 
L 338.75 134.28 
" style="fill: #cb12f9; stroke: #cb12f9; stroke-width: 0.4"/>
    <path d="M 338.75 131.76 
L 351.7 131.76 
L 351.7 129.24 
L 338.75 129.24 
L 338.75 131.76 
" style="fill: #b818fc; stroke: #b818fc; stroke-width: 0.4"/>
    <path d="M 338.75 129.24 
L 351.7 129.24 
L 351.7 126.72 
L 338.75 126.72 
L 338.75 129.24 
" style="fill: #a51efe; stroke: #a51efe; stroke-width: 0.4"/>
    <path d="M 338.75 126.72 
L 351.7 126.72 
L 351.7 124.2 
L 338.75 124.2 
L 338.75 126.72 
" style="fill: #a52cfd; stroke: #a52cfd; stroke-width: 0.4"/>
    <path d="M 338.75 124.2 
L 351.7 124.2 
L 351.7 121.68 
L 338.75 121.68 
L 338.75 124.2 
" style="fill: #ab3cfa; stroke: #ab3cfa; stroke-width: 0.4"/>
    <path d="M 338.75 121.68 
L 351.7 121.68 
L 351.7 119.16 
L 338.75 119.16 
L 338.75 121.68 
" style="fill: #b54cf6; stroke: #b54cf6; stroke-width: 0.4"/>
    <path d="M 338.75 119.16 
L 351.7 119.16 
L 351.7 116.64 
L 338.75 116.64 
L 338.75 119.16 
" style="fill: #c85cf0; stroke: #c85cf0; stroke-width: 0.4"/>
    <path d="M 338.75 116.64 
L 351.7 116.64 
L 351.7 114.12 
L 338.75 114.12 
L 338.75 116.64 
" style="fill: #db6cea; stroke: #db6cea; stroke-width: 0.4"/>
    <path d="M 338.75 114.12 
L 351.7 114.12 
L 351.7 111.6 
L 338.75 111.6 
L 338.75 114.12 
" style="fill: #e478e7; stroke: #e478e7; stroke-width: 0.4"/>
    <path d="M 338.75 111.6 
L 351.7 111.6 
L 351.7 109.08 
L 338.75 109.08 
L 338.75 111.6 
" style="fill: #e884e7; stroke: #e884e7; stroke-width: 0.4"/>
    <path d="M 338.75 109.08 
L 351.7 109.08 
L 351.7 106.56 
L 338.75 106.56 
L 338.75 109.08 
" style="fill: #ed8fe7; stroke: #ed8fe7; stroke-width: 0.4"/>
    <path d="M 338.75 106.56 
L 351.7 106.56 
L 351.7 104.04 
L 338.75 104.04 
L 338.75 106.56 
" style="fill: #ef9bea; stroke: #ef9bea; stroke-width: 0.4"/>
    <path d="M 338.75 104.04 
L 351.7 104.04 
L 351.7 101.52 
L 338.75 101.52 
L 338.75 104.04 
" style="fill: #f1a7ed; stroke: #f1a7ed; stroke-width: 0.4"/>
    <path d="M 338.75 101.52 
L 351.7 101.52 
L 351.7 99 
L 338.75 99 
L 338.75 101.52 
" style="fill: #f4b3ef; stroke: #f4b3ef; stroke-width: 0.4"/>
    <path d="M 338.75 99 
L 351.7 99 
L 351.7 96.48 
L 338.75 96.48 
L 338.75 99 
" style="fill: #f6bff1; stroke: #f6bff1; stroke-width: 0.4"/>
    <path d="M 338.75 96.48 
L 351.7 96.48 
L 351.7 93.96 
L 338.75 93.96 
L 338.75 96.48 
" style="fill: #f8cbf3; stroke: #f8cbf3; stroke-width: 0.4"/>
    <path d="M 338.75 93.96 
L 351.7 93.96 
L 351.7 91.44 
L 338.75 91.44 
L 338.75 93.96 
" style="fill: #fad8f6; stroke: #fad8f6; stroke-width: 0.4"/>
    <path d="M 338.75 91.44 
L 351.7 91.44 
L 351.7 88.92 
L 338.75 88.92 
L 338.75 91.44 
" style="fill: #fce5f9; stroke: #fce5f9; stroke-width: 0.4"/>
    <path d="M 338.75 88.92 
L 351.7 88.92 
L 351.7 86.4 
L 338.75 86.4 
L 338.75 88.92 
" style="fill: #fde8fa; stroke: #fde8fa; stroke-width: 0.4"/>
   </g>
   <g id="matplotlib.axis_5"/>
   <g id="matplotlib.axis_6">
    <g id="ytick_11">
     <g id="line2d_23">
      <defs>
       <path id="m97ed04363b" d="M 0 0 
L 3.5 0 
" style="stroke: #000000; stroke-opacity: 0; stroke-width: 0.8"/>
      </defs>
      <g>
       <use href="#m97ed04363b" x="351.18" y="338.4" style="fill-opacity: 0; stroke: #000000; stroke-opacity: 0; stroke-width: 0.8"/>
      </g>
     </g>
     <g id="text_25">
      <text style="white-space: pre; font-size: 10px; font-family: 'DejaVu Sans', 'Liberation Sans', sans-serif; text-anchor: start" x="358.18" y="342.91">0</text>
     </g>
    </g>
    <g id="ytick_12">
     <g id="line2d_24">
      <g>
       <use href="#m97ed04363b" x="351.18" y="313.2" style="fill-opacity: 0; stroke: #000000; stroke-opacity: 0; stroke-width: 0.8"/>
      </g>
     </g>
     <g id="text_26">
      <text style="white-space: pre; font-size: 10px; font-family: 'DejaVu Sans', 'Liberation Sans', sans-serif; text-anchor: start" x="358.18" y="317.71">5</text>
     </g>
    </g>
    <g id="ytick_13">
     <g id="line2d_25">
      <g>
       <use href="#m97ed04363b" x="351.18" y="288" style="fill-opacity: 0; stroke: #000000; stroke-opacity: 0; stroke-width: 0.8"/>
      </g>
     </g>
     <g id="text_27">
      <text style="white-space: pre; font-size: 10px; font-family: 'DejaVu Sans', 'Liberation Sans', sans-serif; text-anchor: start" x="358.18" y="292.51">10</text>
     </g>
    </g>
    <g id="ytick_14">
     <g id="line2d_26">
      <g>
       <use href="#m97ed04363b" x="351.18" y="262.8" style="fill-opacity: 0; stroke: #000000; stroke-opacity: 0; stroke-width: 0.8"/>
      </g>
     </g>
     <g id="text_28">
      <text style="white-space: pre; font-size: 10px; font-family: 'DejaVu Sans', 'Liberation Sans', sans-serif; text-anchor: start" x="358.18" y="267.31">15</text>
     </g>
    </g>
    <g id="ytick_15">
     <g id="line2d_27">
      <g>
       <use href="#m97ed04363b" x="351.18" y="237.6" style="fill-opacity: 0; stroke: #000000; stroke-opacity: 0; stroke-width: 0.8"/>
      </g>
     </g>
     <g id="text_29">
      <text style="white-space: pre; font-size: 10px; font-family: 'DejaVu Sans', 'Liberation Sans', sans-serif; text-anchor: start" x="358.18" y="242.11">20</text>
     </g>
    </g>
    <g id="ytick_16">
     <g id="line2d_28">
      <g>
       <use href="#m97ed04363b" x="351.18" y="212.4" style="fill-opacity: 0; stroke: #000000; stroke-opacity: 0; stroke-width: 0.8"/>
      </g>
     </g>
     <g id="text_30">
      <text style="white-space: pre; font-size: 10px; font-family: 'DejaVu Sans', 'Liberation Sans', sans-serif; text-anchor: start" x="358.18" y="216.91">25</text>
     </g>
    </g>
    <g id="ytick_17">
     <g id="line2d_29">
      <g>
       <use href="#m97ed04363b" x="351.18" y="187.2" style="fill-opacity: 0; stroke: #000000; stroke-opacity: 0; stroke-width: 0.8"/>
      </g>
     </g>
     <g id="text_31">
      <text style="white-space: pre; font-size: 10px; font-family: 'DejaVu Sans', 'Liberation Sans', sans-serif; text-anchor: start" x="358.18" y="191.71">30</text>
     </g>
    </g>
    <g id="ytick_18">
     <g id="line2d_30">
      <g>
       <use href="#m97ed04363b" x="351.18" y="162" style="fill-opacity: 0; stroke: #000000; stroke-opacity: 0; stroke-width: 0.8"/>
      </g>
     </g>
     <g id="text_32">
      <text style="white-space: pre; font-size: 10px; font-family: 'DejaVu Sans', 'Liberation Sans', sans-serif; text-anchor: start" x="358.18" y="166.51">35</text>
     </g>
    </g>
    <g id="ytick_19">
     <g id="line2d_31">
      <g>
       <use href="#m97ed04363b" x="351.18" y="136.8" style="fill-opacity: 0; stroke: #000000; stroke-opacity: 0; stroke-width: 0.8"/>
      </g>
     </g>
     <g id="text_33">
      <text style="white-space: pre; font-size: 10px; font-family: 'DejaVu Sans', 'Liberation Sans', sans-serif; text-anchor: start" x="358.18" y="141.31">40</text>
     </g>
    </g>
    <g id="ytick_20">
     <g id="line2d_32">
      <g>
       <use href="#m97ed04363b" x="351.18" y="111.6" style="fill-opacity: 0; stroke: #000000; stroke-opacity: 0; stroke-width: 0.8"/>
      </g>
     </g>
     <g id="text_34">
      <text style="white-space: pre; font-size: 10px; font-family: 'DejaVu Sans', 'Liberation Sans', sans-serif; text-anchor: start" x="358.18" y="116.11">45</text>
     </g>
    </g>
    <g id="ytick_21">
     <g id="line2d_33">
      <g>
       <use href="#m97ed04363b" x="351.18" y="86.4" style="fill-opacity: 0; stroke: #000000; stroke-opacity: 0; stroke-width: 0.8"/>
      </g>
     </g>
     <g id="text_35">
      <text style="white-space: pre; font-size: 10px; font-family: 'DejaVu Sans', 'Liberation Sans', sans-serif; text-anchor: start" x="358.18" y="90.91">50</text>
     </g>
    </g>
    <g id="text_36">
     <text style="white-space: pre; font-size: 10px; font-family: 'DejaVu Sans', 'Liberation Sans', sans-serif; text-anchor: middle" x="382.50" y="212.4" transform="rotate(-90 382.50 212.4)">Reflectivity dBZ</text>
    </g>
   </g>
   <g id="LineCollection_1"/>
  </g>
  <g id="axes_4">
   <g id="patch_11">
    <path d="M 338.58 640.8 
L 351.18 640.8 
L 351.18 388.8 
L 338.58 388.8 
z
" style="fill: #ffffff"/>
   </g>
   <g id="QuadMesh_2">
    <path d="M 338.75 640.8 
L 351.7 640.8 
L 351.7 634.5 
L 338.75 634.5 
L 338.75 640.8 
" style="fill: #001860; stroke: #001860; stroke-width: 0.4"/>
    <path d="M 338.75 634.5 
L 351.7 634.5 
L 351.7 628.2 
L 338.75 628.2 
L 338.75 634.5 
" style="fill: #003c28; stroke: #003c28; stroke-width: 0.4"/>
    <path d="M 338.75 628.2 
L 351.7 628.2 
L 351.7 621.9 
L 338.75 621.9 
L 338.75 628.2 
" style="fill: #004838; stroke: #004838; stroke-width: 0.4"/>
    <path d="M 338.75 621.9 
L 351.7 621.9 
L 351.7 615.6 
L 338.75 615.6 
L 338.75 621.9 
" style="fill: #0020a0; stroke: #0020a0; stroke-width: 0.4"/>
    <path d="M 338.75 615.6 
L 351.7 615.6 
L 351.7 609.3 
L 338.75 609.3 
L 338.75 615.6 
" style="fill: #0010ff; stroke: #0010ff; stroke-width: 0.4"/>
    <path d="M 338.75 609.3 
L 351.7 609.3 
L 351.7 603 
L 338.75 603 
L 338.75 609.3 
" style="fill: #0070ff; stroke: #0070ff; stroke-width: 0.4"/>
    <path d="M 338.75 603 
L 351.7 603 
L 351.7 596.7 
L 338.75 596.7 
L 338.75 603 
" style="fill: #00b8ff; stroke: #00b8ff; stroke-width: 0.4"/>
    <path d="M 338.75 596.7 
L 351.7 596.7 
L 351.7 590.4 
L 338.75 590.4 
L 338.75 596.7 
" style="fill: #00e0ff; stroke: #00e0ff; stroke-width: 0.4"/>
    <path d="M 338.75 590.4 
L 351.7 590.4 
L 351.7 584.1 
L 338.75 584.1 
L 338.75 590.4 
" style="fill: #00ffee; stroke: #00ffee; stroke-width: 0.4"/>
    <path d="M 338.75 584.1 
L 351.7 584.1 
L 351.7 577.8 
L 338.75 577.8 
L 338.75 584.1 
" style="fill: #00f0c0; stroke: #00f0c0; stroke-width: 0.4"/>
    <path d="M 338.75 577.8 
L 351.7 577.8 
L 351.7 571.5 
L 338.75 571.5 
L 338.75 577.8 
" style="fill: #00f090; stroke: #00f090; stroke-width: 0.4"/>
    <path d="M 338.75 571.5 
L 351.7 571.5 
L 351.7 565.2 
L 338.75 565.2 
L 338.75 571.5 
" style="fill: #00ff60; stroke: #00ff60; stroke-width: 0.4"/>
    <path d="M 338.75 565.2 
L 351.7 565.2 
L 351.7 558.9 
L 338.75 558.9 
L 338.75 565.2 
" style="fill: #10ff20; stroke: #10ff20; stroke-width: 0.4"/>
    <path d="M 338.75 558.9 
L 351.7 558.9 
L 351.7 552.6 
L 338.75 552.6 
L 338.75 558.9 
" style="fill: #30ec00; stroke: #30ec00; stroke-width: 0.4"/>
    <path d="M 338.75 552.6 
L 351.7 552.6 
L 351.7 546.3 
L 338.75 546.3 
L 338.75 552.6 
" style="fill: #58d000; stroke: #58d000; stroke-width: 0.4"/>
    <path d="M 338.75 546.3 
L 351.7 546.3 
L 351.7 540 
L 338.75 540 
L 338.75 546.3 
" style="fill: #6cdc00; stroke: #6cdc00; stroke-width: 0.4"/>
    <path d="M 338.75 540 
L 351.7 540 
L 351.7 533.7 
L 338.75 533.7 
L 338.75 540 
" style="fill: #78f000; stroke: #78f000; stroke-width: 0.4"/>
    <path d="M 338.75 533.7 
L 351.7 533.7 
L 351.7 527.4 
L 338.75 527.4 
L 338.75 533.7 
" style="fill: #90ff20; stroke: #90ff20; stroke-width: 0.4"/>
    <path d="M 338.75 527.4 
L 351.7 527.4 
L 351.7 521.1 
L 338.75 521.1 
L 338.75 527.4 
" style="fill: #a8ff30; stroke: #a8ff30; stroke-width: 0.4"/>
    <path d="M 338.75 521.1 
L 351.7 521.1 
L 351.7 514.8 
L 338.75 514.8 
L 338.75 521.1 
" style="fill: #c8ff30; stroke: #c8ff30; stroke-width: 0.4"/>
    <path d="M 338.75 514.8 
L 351.7 514.8 
L 351.7 508.5 
L 338.75 508.5 
L 338.75 514.8 
" style="fill: #eaff10; stroke: #eaff10; stroke-width: 0.4"/>
    <path d="M 338.75 508.5 
L 351.7 508.5 
L 351.7 502.2 
L 338.75 502.2 
L 338.75 508.5 
" style="fill: #fff000; stroke: #fff000; stroke-width: 0.4"/>
    <path d="M 338.75 502.2 
L 351.7 502.2 
L 351.7 495.9 
L 338.75 495.9 
L 338.75 502.2 
" style="fill: #ffdc00; stroke: #ffdc00; stroke-width: 0.4"/>
    <path d="M 338.75 495.9 
L 351.7 495.9 
L 351.7 489.6 
L 338.75 489.6 
L 338.75 495.9 
" style="fill: #ffd000; stroke: #ffd000; stroke-width: 0.4"/>
    <path d="M 338.75 489.6 
L 351.7 489.6 
L 351.7 483.3 
L 338.75 483.3 
L 338.75 489.6 
" style="fill: #ffc010; stroke: #ffc010; stroke-width: 0.4"/>
    <path d="M 338.75 483.3 
L 351.7 483.3 
L 351.7 477 
L 338.75 477 
L 338.75 483.3 
" style="fill: #ffa010; stroke: #ffa010; stroke-width: 0.4"/>
    <path d="M 338.75 477 
L 351.7 477 
L 351.7 470.7 
L 338.75 470.7 
L 338.75 477 
" style="fill: #ff7000; stroke: #ff7000; stroke-width: 0.4"/>
    <path d="M 338.75 470.7 
L 351.7 470.7 
L 351.7 464.4 
L 338.75 464.4 
L 338.75 470.7 
" style="fill: #ff4800; stroke: #ff4800; stroke-width: 0.4"/>
    <path d="M 338.75 464.4 
L 351.7 464.4 
L 351.7 458.1 
L 338.75 458.1 
L 338.75 464.4 
" style="fill: #ff3000; stroke: #ff3000; stroke-width: 0.4"/>
    <path d="M 338.75 458.1 
L 351.7 458.1 
L 351.7 451.8 
L 338.75 451.8 
L 338.75 458.1 
" style="fill: #ff1400; stroke: #ff1400; stroke-width: 0.4"/>
    <path d="M 338.75 451.8 
L 351.7 451.8 
L 351.7 445.5 
L 338.75 445.5 
L 338.75 451.8 
" style="fill: #ff0870; stroke: #ff0870; stroke-width: 0.4"/>
    <path d="M 338.75 445.5 
L 351.7 445.5 
L 351.7 439.2 
L 338.75 439.2 
L 338.75 445.5 
" style="fill: #ff00e8; stroke: #ff00e8; stroke-width: 0.4"/>
    <path d="M 338.75 439.2 
L 351.7 439.2 
L 351.7 432.9 
L 338.75 432.9 
L 338.75 439.2 
" style="fill: #d010f8; stroke: #d010f8; stroke-width: 0.4"/>
    <path d="M 338.75 432.9 
L 351.7 432.9 
L 351.7 426.6 
L 338.75 426.6 
L 338.75 432.9 
" style="fill: #a020ff; stroke: #a020ff; stroke-width: 0.4"/>
    <path d="M 338.75 426.6 
L 351.7 426.6 
L 351.7 420.3 
L 338.75 420.3 
L 338.75 426.6 
" style="fill: #b048f8; stroke: #b048f8; stroke-width: 0.4"/>
    <path d="M 338.75 420.3 
L 351.7 420.3 
L 351.7 414 
L 338.75 414 
L 338.75 420.3 
" style="fill: #e070e8; stroke: #e070e8; stroke-width: 0.4"/>
    <path d="M 338.75 414 
L 351.7 414 
L 351.7 407.7 
L 338.75 407.7 
L 338.75 414 
" style="fill: #ec8ce6; stroke: #ec8ce6; stroke-width: 0.4"/>
    <path d="M 338.75 407.7 
L 351.7 407.7 
L 351.7 401.4 
L 338.75 401.4 
L 338.75 407.7 
" style="fill: #f2aaee; stroke: #f2aaee; stroke-width: 0.4"/>
    <path d="M 338.75 401.4 
L 351.7 401.4 
L 351.7 395.1 
L 338.75 395.1 
L 338.75 401.4 
" style="fill: #f8c8f2; stroke: #f8c8f2; stroke-width: 0.4"/>
    <path d="M 338.75 395.1 
L 351.7 395.1 
L 351.7 388.8 
L 338.75 388.8 
L 338.75 395.1 
" style="fill: #fde8fa; stroke: #fde8fa; stroke-width: 0.4"/>
   </g>
   <g id="matplotlib.axis_7"/>
   <g id="matplotlib.axis_8">
    <g id="ytick_22">
     <g id="line2d_34">
      <g>
       <use href="#m97ed04363b" x="351.18" y="640.8" style="fill-opacity: 0; stroke: #000000; stroke-opacity: 0; stroke-width: 0.8"/>
      </g>
     </g>
     <g id="text_37">
      <text style="white-space: pre; font-size: 10px; font-family: 'DejaVu Sans', 'Liberation Sans', sans-serif; text-anchor: start" x="358.18" y="645.31">−20</text>
     </g>
    </g>
    <g id="ytick_23">
     <g id="line2d_35">
      <g>
       <use href="#m97ed04363b" x="351.18" y="609.3" style="fill-opacity: 0; stroke: #000000; stroke-opacity: 0; stroke-width: 0.8"/>
      </g>
     </g>
     <g id="text_38">
      <text style="white-space: pre; font-size: 10px; font-family: 'DejaVu Sans', 'Liberation Sans', sans-serif; text-anchor: start" x="358.18" y="613.81">−15</text>
     </g>
    </g>
    <g id="ytick_24">
     <g id="line2d_36">
      <g>
       <use href="#m97ed04363b" x="351.18" y="577.8" style="fill-opacity: 0; stroke: #000000; stroke-opacity: 0; stroke-width: 0.8"/>
      </g>
     </g>
     <g id="text_39">
      <text style="white-space: pre; font-size: 10px; font-family: 'DejaVu Sans', 'Liberation Sans', sans-serif; text-anchor: start" x="358.18" y="582.31">−10</text>
     </g>
    </g>
    <g id="ytick_25">
     <g id="line2d_37">
      <g>
       <use href="#m97ed04363b" x="351.18" y="546.3" style="fill-opacity: 0; stroke: #000000; stroke-opacity: 0; stroke-width: 0.8"/>
      </g>
     </g>
     <g id="text_40">
      <text style="white-space: pre; font-size: 10px; font-family: 'DejaVu Sans', 'Liberation Sans', sans-serif; text-anchor: start" x="358.18" y="550.81">−5</text>
     </g>
    </g>
    <g id="ytick_26">
     <g id="line2d_38">
      <g>
       <use href="#m97ed04363b" x="351.18" y="514.8" style="fill-opacity: 0; stroke: #000000; stroke-opacity: 0; stroke-width: 0.8"/>
      </g>
     </g>
     <g id="text_41">
      <text style="white-space: pre; font-size: 10px; font-family: 'DejaVu Sans', 'Liberation Sans', sans-serif; text-anchor: start" x="358.18" y="519.31">0</text>
     </g>
    </g>
    <g id="ytick_27">
     <g id="line2d_39">
      <g>
       <use href="#m97ed04363b" x="351.18" y="483.3" style="fill-opacity: 0; stroke: #000000; stroke-opacity: 0; stroke-width: 0.8"/>
      </g>
     </g>
     <g id="text_42">
      <text style="white-space: pre; font-size: 10px; font-family: 'DejaVu Sans', 'Liberation Sans', sans-serif; text-anchor: start" x="358.18" y="487.81">5</text>
     </g>
    </g>
    <g id="ytick_28">
     <g id="line2d_40">
      <g>
       <use href="#m97ed04363b" x="351.18" y="451.8" style="fill-opacity: 0; stroke: #000000; stroke-opacity: 0; stroke-width: 0.8"/>
      </g>
     </g>
     <g id="text_43">
      <text style="white-space: pre; font-size: 10px; font-family: 'DejaVu Sans', 'Liberation Sans', sans-serif; text-anchor: start" x="358.18" y="456.31">10</text>
     </g>
    </g>
    <g id="ytick_29">
     <g id="line2d_41">
      <g>
       <use href="#m97ed04363b" x="351.18" y="420.3" style="fill-opacity: 0; stroke: #000000; stroke-opacity: 0; stroke-width: 0.8"/>
      </g>
     </g>
     <g id="text_44">
      <text style="white-space: pre; font-size: 10px; font-family: 'DejaVu Sans', 'Liberation Sans', sans-serif; text-anchor: start" x="358.18" y="424.81">15</text>
     </g>
    </g>
    <g id="ytick_30">
     <g id="line2d_42">
      <g>
       <use href="#m97ed04363b" x="351.18" y="388.8" style="fill-opacity: 0; stroke: #000000; stroke-opacity: 0; stroke-width: 0.8"/>
      </g>
     </g>
     <g id="text_45">
      <text style="white-space: pre; font-size: 10px; font-family: 'DejaVu Sans', 'Liberation Sans', sans-serif; text-anchor: start" x="358.18" y="393.31">20</text>
     </g>
    </g>
    <g id="text_46">
     <text style="white-space: pre; font-size: 10px; font-family: 'DejaVu Sans', 'Liberation Sans', sans-serif; text-anchor: middle" x="390.88" y="514.8" transform="rotate(-90 390.88 514.8)">Velocity (m/s)</text>
    </g>
   </g>
   <g id="LineCollection_2"/>
  </g>
  <g id="text_47">
   <text style="white-space: pre; font-size: 10px; font-family: 'DejaVu Sans', 'Liberation Sans', sans-serif; text-anchor: middle" x="130.47" y="109.95" transform="rotate(-45 130.47 109.95)">Meters</text>
  </g>
  <g id="text_48">
   <text style="white-space: pre; font-size: 10px; font-family: 'DejaVu Sans', 'Liberation Sans', sans-serif; text-anchor: middle" x="130.47" y="412.35" transform="rotate(-45 130.47 412.35)">Meters</text>
  </g>
  <g id="text_49">
   <text style="white-space: pre; font-size: 12px; font-family: 'DejaVu Sans', 'Liberation Sans', sans-serif; text-anchor: middle" x="215.6" y="23.0">SKYLER-HU  20250620  013237.767 UTC Elevation 02°</text>
  </g>
 </g>
 <defs>
  <clipPath id="pa853b542c9">
   <path d="M 205.03 338.4 
C 225.04 324.84 241.83 307.05 254.19 286.27 
C 266.55 265.50 274.18 242.25 276.54 218.20 
C 278.90 194.14 275.93 169.85 267.84 147.08 
C 259.75 124.30 246.74 103.58 229.74 86.4 
L 112.77 202.14 
C 112.77 202.14 112.77 202.14 112.77 202.14 
C 112.77 202.14 112.77 202.14 112.77 202.14 
C 112.77 202.14 112.77 202.14 112.77 202.14 
C 112.77 202.14 112.77 202.14 112.77 202.14 
z
"/>
  </clipPath>
  <clipPath id="p5e135e1991">
   <path d="M 205.03 640.8 
C 225.04 627.24 241.83 609.45 254.19 588.67 
C 266.55 567.90 274.18 544.65 276.54 520.60 
C 278.90 496.54 275.93 472.25 267.84 449.48 
C 259.75 426.70 246.74 405.98 229.74 388.8 
L 112.77 504.54 
C 112.77 504.54 112.77 504.54 112.77 504.54 
C 112.77 504.54 112.77 504.54 112.77 504.54 
C 112.77 504.54 112.77 504.54 112.77 504.54 
C 112.77 504.54 112.77 504.54 112.77 504.54 
z
"/>
  </clipPath>
  <clipPath id="p9f800e0626">
   <rect x="338.58" y="86.4" width="12.6" height="252"/>
  </clipPath>
  <clipPath id="p82ef904447">
   <rect x="338.58" y="388.8" width="12.6" height="252"/>
  </clipPath>
 </defs>
<g transform="scale(0.72)" shape-rendering="crispEdges" stroke="#000" stroke-width="1" fill="none">
<rect x="470.5" y="120.5" width="18" height="350"/>
<path d="M488.5 120.5H493.5"/>
<path d="M488.5 155.5H493.5"/>
<path d="M488.5 190.5H493.5"/>
<path d="M488.5 225.5H493.5"/>
<path d="M488.5 260.5H493.5"/>
<path d="M488.5 295.5H493.5"/>
<path d="M488.5 330.5H493.5"/>
<path d="M488.5 365.5H493.5"/>
<path d="M488.5 400.5H493.5"/>
<path d="M488.5 435.5H493.5"/>
<path d="M488.5 470.5H493.5"/>
<rect x="470.5" y="540.5" width="18" height="350"/>
<path d="M488.5 540.5H493.5"/>
<path d="M488.5 583.5H493.5"/>
<path d="M488.5 627.5H493.5"/>
<path d="M488.5 671.5H493.5"/>
<path d="M488.5 715.5H493.5"/>
<path d="M488.5 758.5H493.5"/>
<path d="M488.5 802.5H493.5"/>
<path d="M488.5 846.5H493.5"/>
<path d="M488.5 890.5H493.5"/>
</g>
</svg>

</body></html>
